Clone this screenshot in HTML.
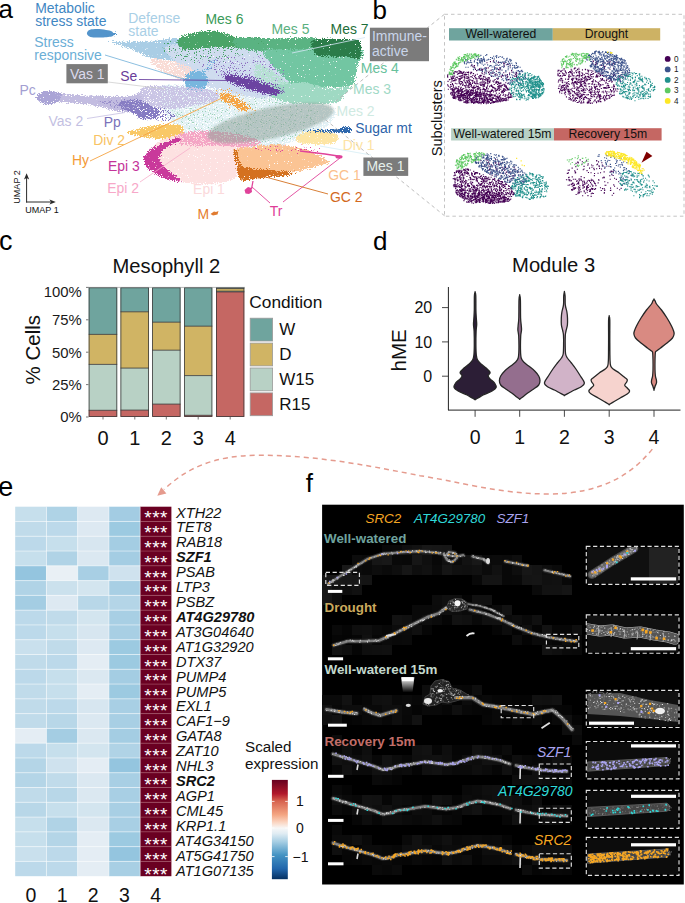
<!DOCTYPE html>
<html><head><meta charset="utf-8"><style>
html,body{margin:0;padding:0;background:#fff;}
body{width:685px;height:903px;overflow:hidden;position:relative;}
svg{position:absolute;left:0;top:0;display:block;}
text{font-family:"Liberation Sans",sans-serif;}
</style></head><body>
<svg width="685" height="903" viewBox="0 0 685 903">
<defs><filter id="sd1" x="-20%" y="-20%" width="140%" height="140%" color-interpolation-filters="sRGB"><feGaussianBlur in="SourceGraphic" stdDeviation="1.6" result="b"/><feComponentTransfer in="b" result="col"><feFuncA type="linear" slope="60"/></feComponentTransfer><feTurbulence type="fractalNoise" baseFrequency="0.85" numOctaves="2" seed="7" result="n"/><feColorMatrix in="n" type="matrix" values="0 0 0 0 0 0 0 0 0 0 0 0 0 0 0 1 0 0 0 0" result="na"/><feComposite in="b" in2="na" operator="arithmetic" k1="0" k2="1" k3="1.6" k4="-1.36" result="m0"/><feComponentTransfer in="m0" result="m"><feFuncA type="linear" slope="12"/></feComponentTransfer><feComposite in="col" in2="m" operator="in"/></filter><filter id="sd2" x="-20%" y="-20%" width="140%" height="140%" color-interpolation-filters="sRGB"><feGaussianBlur in="SourceGraphic" stdDeviation="1.6" result="b"/><feComponentTransfer in="b" result="col"><feFuncA type="linear" slope="60"/></feComponentTransfer><feTurbulence type="fractalNoise" baseFrequency="0.85" numOctaves="2" seed="14" result="n"/><feColorMatrix in="n" type="matrix" values="0 0 0 0 0 0 0 0 0 0 0 0 0 0 0 1 0 0 0 0" result="na"/><feComposite in="b" in2="na" operator="arithmetic" k1="0" k2="1" k3="1.6" k4="-1.36" result="m0"/><feComponentTransfer in="m0" result="m"><feFuncA type="linear" slope="12"/></feComponentTransfer><feComposite in="col" in2="m" operator="in"/></filter><filter id="sd3" x="-20%" y="-20%" width="140%" height="140%" color-interpolation-filters="sRGB"><feGaussianBlur in="SourceGraphic" stdDeviation="1.6" result="b"/><feComponentTransfer in="b" result="col"><feFuncA type="linear" slope="60"/></feComponentTransfer><feTurbulence type="fractalNoise" baseFrequency="0.85" numOctaves="2" seed="21" result="n"/><feColorMatrix in="n" type="matrix" values="0 0 0 0 0 0 0 0 0 0 0 0 0 0 0 1 0 0 0 0" result="na"/><feComposite in="b" in2="na" operator="arithmetic" k1="0" k2="1" k3="1.6" k4="-1.36" result="m0"/><feComponentTransfer in="m0" result="m"><feFuncA type="linear" slope="12"/></feComponentTransfer><feComposite in="col" in2="m" operator="in"/></filter><filter id="sd4" x="-20%" y="-20%" width="140%" height="140%" color-interpolation-filters="sRGB"><feGaussianBlur in="SourceGraphic" stdDeviation="1.6" result="b"/><feComponentTransfer in="b" result="col"><feFuncA type="linear" slope="60"/></feComponentTransfer><feTurbulence type="fractalNoise" baseFrequency="0.85" numOctaves="2" seed="28" result="n"/><feColorMatrix in="n" type="matrix" values="0 0 0 0 0 0 0 0 0 0 0 0 0 0 0 1 0 0 0 0" result="na"/><feComposite in="b" in2="na" operator="arithmetic" k1="0" k2="1" k3="1.6" k4="-1.36" result="m0"/><feComponentTransfer in="m0" result="m"><feFuncA type="linear" slope="12"/></feComponentTransfer><feComposite in="col" in2="m" operator="in"/></filter><filter id="sm1" x="-20%" y="-20%" width="140%" height="140%" color-interpolation-filters="sRGB"><feGaussianBlur in="SourceGraphic" stdDeviation="1.6" result="b"/><feComponentTransfer in="b" result="col"><feFuncA type="linear" slope="60"/></feComponentTransfer><feTurbulence type="fractalNoise" baseFrequency="0.85" numOctaves="2" seed="7" result="n"/><feColorMatrix in="n" type="matrix" values="0 0 0 0 0 0 0 0 0 0 0 0 0 0 0 1 0 0 0 0" result="na"/><feComposite in="b" in2="na" operator="arithmetic" k1="0" k2="1" k3="1.6" k4="-1.58" result="m0"/><feComponentTransfer in="m0" result="m"><feFuncA type="linear" slope="12"/></feComponentTransfer><feComposite in="col" in2="m" operator="in"/></filter><filter id="sm2" x="-20%" y="-20%" width="140%" height="140%" color-interpolation-filters="sRGB"><feGaussianBlur in="SourceGraphic" stdDeviation="1.6" result="b"/><feComponentTransfer in="b" result="col"><feFuncA type="linear" slope="60"/></feComponentTransfer><feTurbulence type="fractalNoise" baseFrequency="0.85" numOctaves="2" seed="14" result="n"/><feColorMatrix in="n" type="matrix" values="0 0 0 0 0 0 0 0 0 0 0 0 0 0 0 1 0 0 0 0" result="na"/><feComposite in="b" in2="na" operator="arithmetic" k1="0" k2="1" k3="1.6" k4="-1.58" result="m0"/><feComponentTransfer in="m0" result="m"><feFuncA type="linear" slope="12"/></feComponentTransfer><feComposite in="col" in2="m" operator="in"/></filter><filter id="sm3" x="-20%" y="-20%" width="140%" height="140%" color-interpolation-filters="sRGB"><feGaussianBlur in="SourceGraphic" stdDeviation="1.6" result="b"/><feComponentTransfer in="b" result="col"><feFuncA type="linear" slope="60"/></feComponentTransfer><feTurbulence type="fractalNoise" baseFrequency="0.85" numOctaves="2" seed="21" result="n"/><feColorMatrix in="n" type="matrix" values="0 0 0 0 0 0 0 0 0 0 0 0 0 0 0 1 0 0 0 0" result="na"/><feComposite in="b" in2="na" operator="arithmetic" k1="0" k2="1" k3="1.6" k4="-1.58" result="m0"/><feComponentTransfer in="m0" result="m"><feFuncA type="linear" slope="12"/></feComponentTransfer><feComposite in="col" in2="m" operator="in"/></filter><filter id="sm4" x="-20%" y="-20%" width="140%" height="140%" color-interpolation-filters="sRGB"><feGaussianBlur in="SourceGraphic" stdDeviation="1.6" result="b"/><feComponentTransfer in="b" result="col"><feFuncA type="linear" slope="60"/></feComponentTransfer><feTurbulence type="fractalNoise" baseFrequency="0.85" numOctaves="2" seed="28" result="n"/><feColorMatrix in="n" type="matrix" values="0 0 0 0 0 0 0 0 0 0 0 0 0 0 0 1 0 0 0 0" result="na"/><feComposite in="b" in2="na" operator="arithmetic" k1="0" k2="1" k3="1.6" k4="-1.58" result="m0"/><feComponentTransfer in="m0" result="m"><feFuncA type="linear" slope="12"/></feComponentTransfer><feComposite in="col" in2="m" operator="in"/></filter><filter id="ss1" x="-20%" y="-20%" width="140%" height="140%" color-interpolation-filters="sRGB"><feGaussianBlur in="SourceGraphic" stdDeviation="1.6" result="b"/><feComponentTransfer in="b" result="col"><feFuncA type="linear" slope="60"/></feComponentTransfer><feTurbulence type="fractalNoise" baseFrequency="0.85" numOctaves="2" seed="7" result="n"/><feColorMatrix in="n" type="matrix" values="0 0 0 0 0 0 0 0 0 0 0 0 0 0 0 1 0 0 0 0" result="na"/><feComposite in="b" in2="na" operator="arithmetic" k1="0" k2="1" k3="1.6" k4="-1.85" result="m0"/><feComponentTransfer in="m0" result="m"><feFuncA type="linear" slope="12"/></feComponentTransfer><feComposite in="col" in2="m" operator="in"/></filter><filter id="ss2" x="-20%" y="-20%" width="140%" height="140%" color-interpolation-filters="sRGB"><feGaussianBlur in="SourceGraphic" stdDeviation="1.6" result="b"/><feComponentTransfer in="b" result="col"><feFuncA type="linear" slope="60"/></feComponentTransfer><feTurbulence type="fractalNoise" baseFrequency="0.85" numOctaves="2" seed="14" result="n"/><feColorMatrix in="n" type="matrix" values="0 0 0 0 0 0 0 0 0 0 0 0 0 0 0 1 0 0 0 0" result="na"/><feComposite in="b" in2="na" operator="arithmetic" k1="0" k2="1" k3="1.6" k4="-1.85" result="m0"/><feComponentTransfer in="m0" result="m"><feFuncA type="linear" slope="12"/></feComponentTransfer><feComposite in="col" in2="m" operator="in"/></filter><filter id="ss3" x="-20%" y="-20%" width="140%" height="140%" color-interpolation-filters="sRGB"><feGaussianBlur in="SourceGraphic" stdDeviation="1.6" result="b"/><feComponentTransfer in="b" result="col"><feFuncA type="linear" slope="60"/></feComponentTransfer><feTurbulence type="fractalNoise" baseFrequency="0.85" numOctaves="2" seed="21" result="n"/><feColorMatrix in="n" type="matrix" values="0 0 0 0 0 0 0 0 0 0 0 0 0 0 0 1 0 0 0 0" result="na"/><feComposite in="b" in2="na" operator="arithmetic" k1="0" k2="1" k3="1.6" k4="-1.85" result="m0"/><feComponentTransfer in="m0" result="m"><feFuncA type="linear" slope="12"/></feComponentTransfer><feComposite in="col" in2="m" operator="in"/></filter><filter id="ss4" x="-20%" y="-20%" width="140%" height="140%" color-interpolation-filters="sRGB"><feGaussianBlur in="SourceGraphic" stdDeviation="1.6" result="b"/><feComponentTransfer in="b" result="col"><feFuncA type="linear" slope="60"/></feComponentTransfer><feTurbulence type="fractalNoise" baseFrequency="0.85" numOctaves="2" seed="28" result="n"/><feColorMatrix in="n" type="matrix" values="0 0 0 0 0 0 0 0 0 0 0 0 0 0 0 1 0 0 0 0" result="na"/><feComposite in="b" in2="na" operator="arithmetic" k1="0" k2="1" k3="1.6" k4="-1.85" result="m0"/><feComponentTransfer in="m0" result="m"><feFuncA type="linear" slope="12"/></feComponentTransfer><feComposite in="col" in2="m" operator="in"/></filter><filter id="sv1" x="-20%" y="-20%" width="140%" height="140%" color-interpolation-filters="sRGB"><feGaussianBlur in="SourceGraphic" stdDeviation="1.6" result="b"/><feComponentTransfer in="b" result="col"><feFuncA type="linear" slope="60"/></feComponentTransfer><feTurbulence type="fractalNoise" baseFrequency="0.85" numOctaves="2" seed="7" result="n"/><feColorMatrix in="n" type="matrix" values="0 0 0 0 0 0 0 0 0 0 0 0 0 0 0 1 0 0 0 0" result="na"/><feComposite in="b" in2="na" operator="arithmetic" k1="0" k2="1" k3="1.6" k4="-2.02" result="m0"/><feComponentTransfer in="m0" result="m"><feFuncA type="linear" slope="12"/></feComponentTransfer><feComposite in="col" in2="m" operator="in"/></filter><filter id="sv2" x="-20%" y="-20%" width="140%" height="140%" color-interpolation-filters="sRGB"><feGaussianBlur in="SourceGraphic" stdDeviation="1.6" result="b"/><feComponentTransfer in="b" result="col"><feFuncA type="linear" slope="60"/></feComponentTransfer><feTurbulence type="fractalNoise" baseFrequency="0.85" numOctaves="2" seed="14" result="n"/><feColorMatrix in="n" type="matrix" values="0 0 0 0 0 0 0 0 0 0 0 0 0 0 0 1 0 0 0 0" result="na"/><feComposite in="b" in2="na" operator="arithmetic" k1="0" k2="1" k3="1.6" k4="-2.02" result="m0"/><feComponentTransfer in="m0" result="m"><feFuncA type="linear" slope="12"/></feComponentTransfer><feComposite in="col" in2="m" operator="in"/></filter><filter id="sv3" x="-20%" y="-20%" width="140%" height="140%" color-interpolation-filters="sRGB"><feGaussianBlur in="SourceGraphic" stdDeviation="1.6" result="b"/><feComponentTransfer in="b" result="col"><feFuncA type="linear" slope="60"/></feComponentTransfer><feTurbulence type="fractalNoise" baseFrequency="0.85" numOctaves="2" seed="21" result="n"/><feColorMatrix in="n" type="matrix" values="0 0 0 0 0 0 0 0 0 0 0 0 0 0 0 1 0 0 0 0" result="na"/><feComposite in="b" in2="na" operator="arithmetic" k1="0" k2="1" k3="1.6" k4="-2.02" result="m0"/><feComponentTransfer in="m0" result="m"><feFuncA type="linear" slope="12"/></feComponentTransfer><feComposite in="col" in2="m" operator="in"/></filter><filter id="sv4" x="-20%" y="-20%" width="140%" height="140%" color-interpolation-filters="sRGB"><feGaussianBlur in="SourceGraphic" stdDeviation="1.6" result="b"/><feComponentTransfer in="b" result="col"><feFuncA type="linear" slope="60"/></feComponentTransfer><feTurbulence type="fractalNoise" baseFrequency="0.85" numOctaves="2" seed="28" result="n"/><feColorMatrix in="n" type="matrix" values="0 0 0 0 0 0 0 0 0 0 0 0 0 0 0 1 0 0 0 0" result="na"/><feComposite in="b" in2="na" operator="arithmetic" k1="0" k2="1" k3="1.6" k4="-2.02" result="m0"/><feComponentTransfer in="m0" result="m"><feFuncA type="linear" slope="12"/></feComponentTransfer><feComposite in="col" in2="m" operator="in"/></filter><filter id="fb" x="-10%" y="-10%" width="120%" height="120%"><feGaussianBlur stdDeviation="0.7"/></filter><filter id="fb2" x="-20%" y="-20%" width="140%" height="140%"><feGaussianBlur stdDeviation="1.2"/></filter></defs>
<path d="M165.0,84.0 C176.7,82.3 207.5,87.3 230.0,90.0 C252.5,92.7 282.5,97.0 300.0,100.0 C317.5,103.0 330.0,103.8 335.0,108.0 C340.0,112.2 335.8,119.7 330.0,125.0 C324.2,130.3 311.7,135.8 300.0,140.0 C288.3,144.2 276.7,149.7 260.0,150.0 C243.3,150.3 215.0,146.7 200.0,142.0 C185.0,137.3 176.7,129.0 170.0,122.0 C163.3,115.0 160.8,106.3 160.0,100.0 C159.2,93.7 153.3,85.7 165.0,84.0Z" fill="#e2f1f5" filter="url(#sm2)"/>
<path d="M170.0,95.0 C186.7,88.3 275.0,95.8 300.0,100.0 C325.0,104.2 323.3,112.5 320.0,120.0 C316.7,127.5 300.0,141.7 280.0,145.0 C260.0,148.3 218.3,148.3 200.0,140.0 C181.7,131.7 153.3,101.7 170.0,95.0Z" fill="#9fd2b8" filter="url(#sv3)"/>
<path d="M106.0,40.0 C108.2,39.8 117.7,41.3 125.0,41.5 C132.3,41.7 142.2,41.6 150.0,41.0 C157.8,40.4 166.2,38.2 172.0,38.0 C177.8,37.8 182.0,37.2 185.0,40.0 C188.0,42.8 190.0,51.3 190.0,55.0 C190.0,58.7 189.2,61.2 185.0,62.0 C180.8,62.8 170.8,60.7 165.0,60.0 C159.2,59.3 155.8,59.8 150.0,58.0 C144.2,56.2 136.3,51.5 130.0,49.0 C123.7,46.5 116.0,44.5 112.0,43.0 C108.0,41.5 103.8,40.2 106.0,40.0Z" fill="#a9cde5" filter="url(#sd4)"/>
<path d="M168.0,45.0 C178.8,42.3 219.7,44.8 240.0,46.0 C260.3,47.2 280.0,46.0 290.0,52.0 C300.0,58.0 301.3,74.7 300.0,82.0 C298.7,89.3 289.5,93.3 282.0,96.0 C274.5,98.7 264.5,98.7 255.0,98.0 C245.5,97.3 234.2,94.3 225.0,92.0 C215.8,89.7 206.7,87.3 200.0,84.0 C193.3,80.7 189.2,75.7 185.0,72.0 C180.8,68.3 177.8,66.5 175.0,62.0 C172.2,57.5 157.2,47.7 168.0,45.0Z" fill="#cfdcef" filter="url(#sd1)"/>
<path d="M200.0,55.0 C215.0,52.5 283.3,54.2 300.0,60.0 C316.7,65.8 308.3,85.8 300.0,90.0 C291.7,94.2 265.0,87.5 250.0,85.0 C235.0,82.5 218.3,80.0 210.0,75.0 C201.7,70.0 185.0,57.5 200.0,55.0Z" fill="#8c6cc0" filter="url(#sv2)"/>
<path d="M150.0,58.0 C152.5,56.7 163.3,58.7 170.0,60.0 C176.7,61.3 185.5,63.5 190.0,66.0 C194.5,68.5 197.3,72.5 197.0,75.0 C196.7,77.5 192.5,80.7 188.0,81.0 C183.5,81.3 175.5,79.2 170.0,77.0 C164.5,74.8 158.3,71.2 155.0,68.0 C151.7,64.8 147.5,59.3 150.0,58.0Z" fill="#f9dcd6" filter="url(#sm3)"/>
<path d="M163.0,42.0 C169.2,39.2 187.2,38.0 200.0,38.0 C212.8,38.0 233.3,38.3 240.0,42.0 C246.7,45.7 246.7,56.3 240.0,60.0 C233.3,63.7 210.8,63.7 200.0,64.0 C189.2,64.3 181.2,63.5 175.0,62.0 C168.8,60.5 165.0,58.3 163.0,55.0 C161.0,51.7 156.8,44.8 163.0,42.0Z" fill="#45a266" filter="url(#sv4)"/>
<path d="M178.0,38.5 C180.0,36.0 187.0,34.3 192.0,33.0 C197.0,31.7 202.7,30.6 208.0,30.5 C213.3,30.4 219.0,31.4 224.0,32.5 C229.0,33.6 231.7,36.2 238.0,37.2 C244.3,38.2 258.0,36.8 262.0,38.3 C266.0,39.8 265.7,44.5 262.0,46.0 C258.3,47.5 246.7,47.2 240.0,47.5 C233.3,47.8 227.8,47.9 222.0,48.0 C216.2,48.1 210.3,47.7 205.0,48.0 C199.7,48.3 194.2,50.0 190.0,50.0 C185.8,50.0 182.0,49.9 180.0,48.0 C178.0,46.1 176.0,41.0 178.0,38.5Z" fill="#4aa468" filter="url(#sd1)"/>
<path d="M236.0,37.8 C242.5,36.2 261.7,38.2 275.0,38.3 C288.3,38.4 308.8,36.1 316.0,38.4 C323.2,40.7 320.7,49.2 318.0,52.0 C315.3,54.8 308.0,54.8 300.0,55.0 C292.0,55.2 278.3,53.8 270.0,53.0 C261.7,52.2 255.7,50.8 250.0,50.0 C244.3,49.2 238.3,50.0 236.0,48.0 C233.7,46.0 229.5,39.4 236.0,37.8Z" fill="#5ab382" filter="url(#sd2)"/>
<path d="M240.0,45.0 C250.8,43.2 303.3,42.2 315.0,45.0 C326.7,47.8 315.8,59.2 310.0,62.0 C304.2,64.8 290.0,63.0 280.0,62.0 C270.0,61.0 256.7,58.8 250.0,56.0 C243.3,53.2 229.2,46.8 240.0,45.0Z" fill="#5ab382" filter="url(#sv3)"/>
<path d="M256.0,62.0 C260.0,60.8 273.3,70.0 280.0,75.0 C286.7,80.0 296.8,88.0 296.0,92.0 C295.2,96.0 281.7,100.7 275.0,99.0 C268.3,97.3 259.2,88.2 256.0,82.0 C252.8,75.8 252.0,63.2 256.0,62.0Z" fill="#b5e0d2" filter="url(#sm4)"/>
<path d="M264.0,50.0 C269.2,47.8 283.8,49.0 300.0,49.0 C316.2,49.0 351.2,47.8 361.0,50.0 C370.8,52.2 359.8,58.0 359.0,62.0 C358.2,66.0 357.3,70.0 356.0,74.0 C354.7,78.0 357.0,83.7 351.0,86.0 C345.0,88.3 329.2,88.0 320.0,88.0 C310.8,88.0 302.5,88.2 296.0,86.0 C289.5,83.8 285.5,79.0 281.0,75.0 C276.5,71.0 271.8,66.2 269.0,62.0 C266.2,57.8 258.8,52.2 264.0,50.0Z" fill="#72c6a2" filter="url(#sd1)"/>
<path d="M272.0,86.0 C277.0,83.7 290.3,81.7 300.0,82.0 C309.7,82.3 321.5,87.3 330.0,88.0 C338.5,88.7 348.0,85.5 351.0,86.0 C354.0,86.5 349.3,89.2 348.0,91.0 C346.7,92.8 344.8,95.1 343.0,97.0 C341.2,98.9 342.5,101.2 337.0,102.5 C331.5,103.8 318.7,104.6 310.0,104.5 C301.3,104.4 291.7,103.4 285.0,102.0 C278.3,100.6 272.2,98.7 270.0,96.0 C267.8,93.3 267.0,88.3 272.0,86.0Z" fill="#9fd9c3" filter="url(#sd2)"/>
<path d="M313.0,40.0 C317.5,38.1 332.8,39.0 340.0,38.8 C347.2,38.6 352.5,38.5 356.0,39.0 C359.5,39.5 360.1,39.3 361.0,42.0 C361.9,44.7 361.8,52.0 361.5,55.0 C361.2,58.0 360.9,59.6 359.0,60.0 C357.1,60.4 354.0,58.0 350.0,57.5 C346.0,57.0 340.3,57.2 335.0,57.0 C329.7,56.8 321.7,57.2 318.0,56.0 C314.3,54.8 313.8,52.7 313.0,50.0 C312.2,47.3 308.5,41.9 313.0,40.0Z" fill="#2b7c49" filter="url(#sd3)"/>
<path d="M186.0,75.0 C187.5,73.2 190.2,71.7 193.0,71.0 C195.8,70.3 200.5,69.8 203.0,71.0 C205.5,72.2 207.5,75.2 208.0,78.0 C208.5,80.8 207.7,85.7 206.0,88.0 C204.3,90.3 201.0,91.7 198.0,92.0 C195.0,92.3 190.3,91.7 188.0,90.0 C185.7,88.3 184.3,84.5 184.0,82.0 C183.7,79.5 184.5,76.8 186.0,75.0Z" fill="#78b6de" filter="url(#sd4)"/>
<path d="M200.0,72.0 C200.7,69.0 209.0,60.0 212.0,58.0 C215.0,56.0 218.7,57.0 218.0,60.0 C217.3,63.0 211.0,74.0 208.0,76.0 C205.0,78.0 199.3,75.0 200.0,72.0Z" fill="#78b6de" filter="url(#ss1)"/>
<path d="M55.0,93.5 C59.2,92.5 70.8,94.6 80.0,95.0 C89.2,95.4 101.7,95.9 110.0,96.0 C118.3,96.1 124.8,96.2 130.0,95.5 C135.2,94.8 138.5,91.2 141.0,92.0 C143.5,92.8 145.2,96.8 145.0,100.0 C144.8,103.2 144.2,109.0 140.0,111.0 C135.8,113.0 127.5,112.8 120.0,112.0 C112.5,111.2 103.3,107.5 95.0,106.0 C86.7,104.5 76.7,103.8 70.0,103.0 C63.3,102.2 57.5,102.6 55.0,101.0 C52.5,99.4 50.8,94.5 55.0,93.5Z" fill="#c2bce0" filter="url(#sd2)"/>
<path d="M141.0,87.0 C144.8,83.8 156.8,85.2 165.0,85.0 C173.2,84.8 181.7,85.2 190.0,86.0 C198.3,86.8 210.0,87.7 215.0,90.0 C220.0,92.3 222.5,97.3 220.0,100.0 C217.5,102.7 207.5,104.3 200.0,106.0 C192.5,107.7 181.7,109.3 175.0,110.0 C168.3,110.7 165.5,111.0 160.0,110.0 C154.5,109.0 145.2,107.8 142.0,104.0 C138.8,100.2 137.2,90.2 141.0,87.0Z" fill="#cac5e5" filter="url(#sm3)"/>
<path d="M95.0,100.0 C98.3,98.7 122.5,98.0 130.0,100.0 C137.5,102.0 143.3,110.7 140.0,112.0 C136.7,113.3 117.5,110.0 110.0,108.0 C102.5,106.0 91.7,101.3 95.0,100.0Z" fill="#9a90cc" filter="url(#ss4)"/>
<path d="M35.0,97.0 C35.3,95.6 37.8,93.6 40.0,92.5 C42.2,91.4 45.2,90.7 48.0,90.5 C50.8,90.3 54.7,90.9 57.0,91.5 C59.3,92.1 61.5,92.6 62.0,94.0 C62.5,95.4 61.3,98.3 60.0,100.0 C58.7,101.7 56.5,103.2 54.0,104.0 C51.5,104.8 47.7,105.0 45.0,104.5 C42.3,104.0 39.7,102.2 38.0,101.0 C36.3,99.8 34.7,98.4 35.0,97.0Z" fill="#aaa4d6" filter="url(#sd1)"/>
<path d="M118.0,102.0 C119.3,100.2 124.3,99.0 128.0,98.5 C131.7,98.0 136.3,98.1 140.0,99.0 C143.7,99.9 147.0,102.5 150.0,104.0 C153.0,105.5 156.3,106.0 158.0,108.0 C159.7,110.0 161.0,114.0 160.0,116.0 C159.0,118.0 155.3,119.3 152.0,120.0 C148.7,120.7 143.3,121.0 140.0,120.0 C136.7,119.0 135.3,115.8 132.0,114.0 C128.7,112.2 122.3,111.0 120.0,109.0 C117.7,107.0 116.7,103.8 118.0,102.0Z" fill="#877dc3" filter="url(#sm2)"/>
<path d="M140.0,106.0 C143.3,104.0 154.0,104.8 160.0,106.0 C166.0,107.2 174.0,110.3 176.0,113.0 C178.0,115.7 175.5,120.5 172.0,122.0 C168.5,123.5 160.3,122.7 155.0,122.0 C149.7,121.3 142.5,120.7 140.0,118.0 C137.5,115.3 136.7,108.0 140.0,106.0Z" fill="#8379c2" filter="url(#ss3)"/>
<path d="M222.0,70.0 C225.3,68.3 237.8,70.7 245.0,72.0 C252.2,73.3 258.3,75.3 265.0,78.0 C271.7,80.7 282.2,84.8 285.0,88.0 C287.8,91.2 285.8,95.7 282.0,97.0 C278.2,98.3 269.0,97.2 262.0,96.0 C255.0,94.8 246.2,92.3 240.0,90.0 C233.8,87.7 228.0,85.3 225.0,82.0 C222.0,78.7 218.7,71.7 222.0,70.0Z" fill="#7a58b2" filter="url(#ss4)"/>
<path d="M226.0,75.0 C228.5,74.4 235.2,75.7 240.0,76.5 C244.8,77.3 250.3,78.6 255.0,80.0 C259.7,81.4 263.8,83.2 268.0,85.0 C272.2,86.8 278.5,89.3 280.0,91.0 C281.5,92.7 280.0,94.7 277.0,95.0 C274.0,95.3 266.8,94.0 262.0,93.0 C257.2,92.0 252.5,90.5 248.0,89.0 C243.5,87.5 238.8,85.5 235.0,84.0 C231.2,82.5 226.5,81.5 225.0,80.0 C223.5,78.5 223.5,75.6 226.0,75.0Z" fill="#6b43a1" filter="url(#sd1)"/>
<path d="M126.0,133.0 C125.3,131.6 133.7,129.8 138.0,128.5 C142.3,127.2 146.7,126.2 152.0,125.5 C157.3,124.8 164.8,123.9 170.0,124.0 C175.2,124.1 180.7,124.3 183.0,126.0 C185.3,127.7 184.8,131.8 184.0,134.0 C183.2,136.2 182.0,138.1 178.0,139.0 C174.0,139.9 166.0,139.8 160.0,139.5 C154.0,139.2 147.7,138.1 142.0,137.0 C136.3,135.9 126.7,134.4 126.0,133.0Z" fill="#f9c866" filter="url(#sd2)"/>
<path d="M218.0,94.0 C218.7,92.4 223.0,91.2 226.0,91.5 C229.0,91.8 232.7,94.1 236.0,96.0 C239.3,97.9 243.5,100.7 246.0,103.0 C248.5,105.3 251.5,108.4 251.0,110.0 C250.5,111.6 246.0,113.0 243.0,112.5 C240.0,112.0 236.5,108.9 233.0,107.0 C229.5,105.1 224.5,103.2 222.0,101.0 C219.5,98.8 217.3,95.6 218.0,94.0Z" fill="#f5a443" filter="url(#sm3)"/>
<path d="M212.0,90.0 C213.7,86.7 227.3,85.0 235.0,88.0 C242.7,91.0 255.8,103.0 258.0,108.0 C260.2,113.0 253.5,118.0 248.0,118.0 C242.5,118.0 231.0,112.7 225.0,108.0 C219.0,103.3 210.3,93.3 212.0,90.0Z" fill="#f5a443" filter="url(#sv4)"/>
<path d="M150.0,150.0 C152.5,146.0 158.3,140.8 165.0,138.0 C171.7,135.2 180.8,133.7 190.0,133.0 C199.2,132.3 211.7,132.8 220.0,134.0 C228.3,135.2 235.0,137.0 240.0,140.0 C245.0,143.0 249.2,147.0 250.0,152.0 C250.8,157.0 248.3,165.2 245.0,170.0 C241.7,174.8 236.7,178.5 230.0,181.0 C223.3,183.5 213.3,184.8 205.0,185.0 C196.7,185.2 187.5,184.2 180.0,182.0 C172.5,179.8 165.0,175.3 160.0,172.0 C155.0,168.7 151.7,165.7 150.0,162.0 C148.3,158.3 147.5,154.0 150.0,150.0Z" fill="#fde1e1" filter="url(#sd1)"/>
<path d="M176.0,134.0 C179.3,131.5 191.8,130.5 200.0,130.0 C208.2,129.5 216.7,130.0 225.0,131.0 C233.3,132.0 243.8,134.2 250.0,136.0 C256.2,137.8 262.0,140.0 262.0,142.0 C262.0,144.0 257.8,147.2 250.0,148.0 C242.2,148.8 224.2,147.2 215.0,147.0 C205.8,146.8 200.8,147.3 195.0,147.0 C189.2,146.7 183.2,147.2 180.0,145.0 C176.8,142.8 172.7,136.5 176.0,134.0Z" fill="#f4a5c5" filter="url(#sm2)"/>
<path d="M182.0,137.0 C180.7,136.7 176.0,137.7 172.0,139.0 C168.0,140.3 162.0,143.0 158.0,145.0 C154.0,147.0 150.5,148.7 148.0,151.0 C145.5,153.3 143.3,156.3 143.0,159.0 C142.7,161.7 144.0,164.5 146.0,167.0 C148.0,169.5 151.3,171.8 155.0,174.0 C158.7,176.2 163.3,178.7 168.0,180.0 C172.7,181.3 181.7,182.7 183.0,182.0 C184.3,181.3 178.8,178.3 176.0,176.0 C173.2,173.7 168.7,170.7 166.0,168.0 C163.3,165.3 160.7,162.7 160.0,160.0 C159.3,157.3 160.3,154.3 162.0,152.0 C163.7,149.7 167.0,147.8 170.0,146.0 C173.0,144.2 178.0,142.5 180.0,141.0 C182.0,139.5 183.3,137.3 182.0,137.0Z" fill="#c9399b" filter="url(#sd3)"/>
<path d="M235.0,150.0 C237.5,146.3 247.8,147.0 255.0,146.0 C262.2,145.0 270.5,143.7 278.0,144.0 C285.5,144.3 293.8,146.5 300.0,148.0 C306.2,149.5 310.0,150.6 315.0,153.0 C320.0,155.4 329.5,160.3 330.0,162.5 C330.5,164.7 323.7,164.4 318.0,166.0 C312.3,167.6 304.0,170.5 296.0,172.0 C288.0,173.5 278.0,174.2 270.0,175.0 C262.0,175.8 253.0,178.2 248.0,177.0 C243.0,175.8 242.2,172.5 240.0,168.0 C237.8,163.5 232.5,153.7 235.0,150.0Z" fill="#fbc494" filter="url(#sd4)"/>
<path d="M240.0,144.0 C246.7,142.5 285.0,141.7 300.0,143.0 C315.0,144.3 330.0,149.8 330.0,152.0 C330.0,154.2 311.7,156.0 300.0,156.0 C288.3,156.0 270.0,154.0 260.0,152.0 C250.0,150.0 233.3,145.5 240.0,144.0Z" fill="#e0439a" filter="url(#sv1)"/>
<path d="M231.5,151.0 C232.2,149.4 235.6,147.3 237.0,148.5 C238.4,149.7 238.8,154.8 240.0,158.0 C241.2,161.2 243.8,165.5 244.0,168.0 C244.2,170.5 242.3,173.3 241.0,173.0 C239.7,172.7 237.3,168.5 236.0,166.0 C234.7,163.5 233.8,160.5 233.0,158.0 C232.2,155.5 230.8,152.6 231.5,151.0Z" fill="#d4711f" filter="url(#sm2)"/>
<path d="M237.0,167.0 C238.8,165.2 245.3,167.2 250.0,167.5 C254.7,167.8 259.2,168.4 265.0,169.0 C270.8,169.6 279.7,170.2 285.0,171.0 C290.3,171.8 297.5,172.6 297.0,173.5 C296.5,174.4 287.8,175.7 282.0,176.5 C276.2,177.3 268.2,177.8 262.0,178.5 C255.8,179.2 248.8,181.1 245.0,181.0 C241.2,180.9 240.3,180.3 239.0,178.0 C237.7,175.7 235.2,168.8 237.0,167.0Z" fill="#d4711f" filter="url(#sd3)"/>
<path d="M300,151 L325,154 L338,156" stroke="#e0439a" stroke-width="1.4" fill="none"/>
<ellipse cx="339" cy="156.8" rx="3.6" ry="1.9" fill="#e0439a"/>
<path d="M253,181 L251.5,189" stroke="#e0439a" stroke-width="1.3"/>
<path d="M244.5,190 L248,187 L251.5,188 L252,192 L249,194 L245.5,193.5Z" fill="#e0439a" filter="url(#fb)"/>
<path d="M295.0,137.0 C295.8,135.2 300.8,133.2 305.0,132.0 C309.2,130.8 315.0,129.8 320.0,130.0 C325.0,130.2 331.8,131.5 335.0,133.0 C338.2,134.5 339.5,137.2 339.0,139.0 C338.5,140.8 336.0,143.0 332.0,144.0 C328.0,145.0 320.3,145.2 315.0,145.0 C309.7,144.8 303.3,144.3 300.0,143.0 C296.7,141.7 294.2,138.8 295.0,137.0Z" fill="#fde5a4" filter="url(#sd4)"/>
<path d="M304.0,130.5 C306.7,130.1 314.3,129.8 320.0,129.5 C325.7,129.2 333.8,129.1 338.0,128.5 C342.2,127.9 342.7,125.9 345.0,126.0 C347.3,126.1 351.0,127.8 352.0,129.0 C353.0,130.2 353.0,132.3 351.0,133.0 C349.0,133.7 345.2,133.1 340.0,133.0 C334.8,132.9 326.0,132.7 320.0,132.5 C314.0,132.3 306.7,132.3 304.0,132.0 C301.3,131.7 301.3,130.9 304.0,130.5Z" fill="#2d67ad" filter="url(#sd1)"/>
<path d="M210.5,214 L214,211.5 L216,212 L218.5,211 L217.5,214.5 L213,215.5Z" fill="#e07b2f"/>
<path d="M87.0,32.8 C87.3,31.8 88.3,30.4 90.0,29.8 C91.7,29.2 94.3,29.1 97.0,29.1 C99.7,29.1 103.5,29.6 106.0,30.0 C108.5,30.4 110.8,30.5 112.0,31.5 C113.2,32.5 114.7,35.0 113.0,36.0 C111.3,37.0 105.5,37.3 102.0,37.5 C98.5,37.7 94.3,37.6 92.0,37.3 C89.7,37.0 88.8,36.2 88.0,35.5 C87.2,34.8 86.7,33.8 87.0,32.8Z" fill="#5294cb" filter="url(#fb)"/>
<path d="M105.0,31.0 C106.8,30.2 112.7,31.0 115.0,31.5 C117.3,32.0 119.3,33.1 119.0,34.0 C118.7,34.9 115.5,36.7 113.0,37.0 C110.5,37.3 105.3,37.0 104.0,36.0 C102.7,35.0 103.2,31.8 105.0,31.0Z" fill="#5294cb" filter="url(#sm2)"/>
<ellipse cx="270.5" cy="123" rx="64.5" ry="15.5" transform="rotate(-12 270.5 123)" fill="#8a9d96" fill-opacity="0.52" filter="url(#fb2)"/>
<line x1="105" y1="55" x2="190" y2="81" stroke="#6eafd8" stroke-width="0.8"/>
<line x1="139" y1="79.5" x2="228" y2="80.5" stroke="#6d44a2" stroke-width="0.9"/>
<line x1="108" y1="82" x2="165" y2="89" stroke="#c8c8c8" stroke-width="0.7"/>
<line x1="87" y1="118.5" x2="125" y2="112.5" stroke="#c5bfe2" stroke-width="0.8"/>
<line x1="90" y1="161" x2="222" y2="98" stroke="#f5a443" stroke-width="0.9"/>
<line x1="140" y1="182" x2="190" y2="148" stroke="#f6afca" stroke-width="0.8"/>
<line x1="270" y1="203" x2="252" y2="187" stroke="#e0439a" stroke-width="0.9"/>
<line x1="283" y1="202" x2="340" y2="158" stroke="#e0439a" stroke-width="0.9"/>
<line x1="262" y1="176" x2="328" y2="194" stroke="#d4711f" stroke-width="0.9"/>
<line x1="292" y1="53" x2="365" y2="37.5" stroke="#d6e6f5" stroke-width="0.8"/>
<line x1="320" y1="146" x2="371" y2="155" stroke="#d6eef5" stroke-width="0.8"/>
<line x1="444.4" y1="14.3" x2="336" y2="101" stroke="#b5b5b5" stroke-width="0.9" stroke-dasharray="3.5 3"/>
<line x1="444.6" y1="215.8" x2="322" y2="117" stroke="#b5b5b5" stroke-width="0.9" stroke-dasharray="3.5 3"/>
<rect x="66.4" y="64.1" width="41.4" height="19.2" fill="#7b7b7b"/>
<rect x="369.9" y="27.7" width="59.1" height="33.5" fill="#7b7b7b"/>
<rect x="363.4" y="157.5" width="44.8" height="18.4" fill="#7b7b7b"/>
<path d="M26.6,202.5 L26.6,176 M26.1,202 L53,202" stroke="#2a2a2a" stroke-width="1" fill="none"/>
<path d="M24,179.5 L26.6,173.2 L29.2,179.5 L26.6,178 Z" fill="#2a2a2a"/>
<path d="M49.5,199.4 L55.8,202 L49.5,204.6 L51,202 Z" fill="#2a2a2a"/>
<text x="0" y="0" font-size="9.1" fill="#111" transform="translate(20.3,203.8) rotate(-90)">UMAP 2</text>
<text x="25.3" y="213.1" font-size="9.0" fill="#111">UMAP 1</text>
<rect x="444.5" y="14.3" width="239.5" height="201.9" fill="none" stroke="#bdbdbd" stroke-width="0.9" stroke-dasharray="3.5 3"/>
<rect x="449" y="28.2" width="103.8" height="12.3" fill="#6fa49e"/>
<rect x="552.8" y="28.2" width="107.4" height="12.3" fill="#cdb264"/>
<rect x="451.1" y="128.2" width="102.9" height="12.3" fill="#b8d1c5"/>
<rect x="554" y="128.2" width="107.6" height="12.3" fill="#c56763"/>
<text x="500.9" y="38.3" font-size="12.2" fill="#111" text-anchor="middle">Well-watered</text>
<text x="606.5" y="38.3" font-size="12.2" fill="#111" text-anchor="middle">Drought</text>
<text x="502.5" y="138.3" font-size="12.2" fill="#111" text-anchor="middle">Well-watered 15m</text>
<text x="607.8" y="138.3" font-size="12.2" fill="#111" text-anchor="middle">Recovery 15m</text>
<text x="0" y="0" font-size="14.6" fill="#111" text-anchor="middle" transform="translate(442.2,118.2) rotate(-90)">Subclusters</text>
<circle cx="667.7" cy="58.9" r="2.9" fill="#440154"/>
<text x="674.0" y="61.8" font-size="8.2" fill="#222">0</text>
<circle cx="667.7" cy="69.4" r="2.9" fill="#3b528b"/>
<text x="674.0" y="72.3" font-size="8.2" fill="#222">1</text>
<circle cx="667.7" cy="79.9" r="2.9" fill="#21918c"/>
<text x="674.0" y="82.8" font-size="8.2" fill="#222">2</text>
<circle cx="667.7" cy="90.4" r="2.9" fill="#5ec962"/>
<text x="674.0" y="93.3" font-size="8.2" fill="#222">3</text>
<circle cx="667.7" cy="100.9" r="2.9" fill="#fde725"/>
<text x="674.0" y="103.8" font-size="8.2" fill="#222">4</text>
<path d="M463.2 88.5h1.1M472.2 90.5h1.1M464.6 78.0h1.1M503.9 86.2h1.1M490.2 99.5h1.1M482.6 95.2h1.1M498.6 90.1h1.1M505.9 86.1h1.1M495.9 99.9h1.1M495.6 101.3h1.1M473.9 97.2h1.1M477.2 101.8h1.1M456.2 77.4h1.1M489.6 80.2h1.1M481.5 83.1h1.1M470.9 89.9h1.1M486.7 100.7h1.1M493.4 101.6h1.1M508.5 89.3h1.1M503.5 89.5h1.1M466.4 72.2h1.1M453.0 97.2h1.1M474.9 75.1h1.1M467.0 96.1h1.1M495.9 81.3h1.1M468.1 72.6h1.1M460.4 83.9h1.1M468.3 102.6h1.1M478.3 87.7h1.1M490.8 90.3h1.1M485.0 91.1h1.1M476.3 94.5h1.1M463.2 80.2h1.1M475.2 89.7h1.1M489.7 85.9h1.1M493.2 82.0h1.1M495.1 95.1h1.1M493.0 102.8h1.1M464.1 85.5h1.1M487.3 80.9h1.1M471.7 80.6h1.1M472.1 90.3h1.1M467.4 82.8h1.1M485.7 95.0h1.1M468.1 77.6h1.1M459.7 84.8h1.1M468.9 81.3h1.1M503.7 84.9h1.1M469.9 92.1h1.1M462.3 74.1h1.1M483.0 76.5h1.1M501.9 98.5h1.1M459.5 79.5h1.1M501.9 91.8h1.1M455.8 79.9h1.1M470.6 84.2h1.1M475.5 83.9h1.1M476.5 102.3h1.1M497.7 98.4h1.1M492.1 87.6h1.1M466.7 81.6h1.1M462.5 72.3h1.1M487.0 79.8h1.1M508.4 93.6h1.1M508.2 89.6h1.1M458.7 80.2h1.1M492.1 87.8h1.1M475.1 101.9h1.1M488.6 81.6h1.1M464.2 99.3h1.1M479.4 96.6h1.1M470.9 76.7h1.1M483.4 97.8h1.1M458.6 96.9h1.1M509.7 97.4h1.1M489.7 99.3h1.1M450.4 79.2h1.1M465.3 87.9h1.1M475.8 86.1h1.1M450.7 74.3h1.1M455.5 72.3h1.1M452.9 87.1h1.1M468.5 80.7h1.1M470.9 92.0h1.1M486.9 82.3h1.1M460.0 81.2h1.1M455.4 88.9h1.1M495.7 82.9h1.1M452.4 76.1h1.1M472.4 90.6h1.1M500.2 82.9h1.1M501.5 91.2h1.1M476.3 82.7h1.1M480.7 93.9h1.1M475.6 93.6h1.1M478.3 78.3h1.1M483.4 93.6h1.1M451.9 84.4h1.1M476.0 99.9h1.1M508.1 96.9h1.1M464.8 85.8h1.1M455.4 97.6h1.1M492.0 100.2h1.1M500.9 92.7h1.1M496.9 89.2h1.1M454.0 90.0h1.1M447.3 74.9h1.1M453.2 73.4h1.1M455.2 98.7h1.1M492.8 98.4h1.1M499.2 87.4h1.1M497.9 101.8h1.1M451.2 81.0h1.1M485.4 98.2h1.1M463.5 76.1h1.1M464.0 90.9h1.1M498.2 83.4h1.1M472.0 83.5h1.1M470.8 84.2h1.1M452.7 87.0h1.1M494.0 95.7h1.1M492.8 87.6h1.1M479.9 91.9h1.1M453.5 95.4h1.1M477.1 94.4h1.1M459.7 79.1h1.1M460.5 89.9h1.1M468.4 77.9h1.1M494.0 102.4h1.1M467.1 94.0h1.1M475.1 99.0h1.1M486.8 79.1h1.1M479.6 83.0h1.1M458.7 82.3h1.1M468.9 96.3h1.1M479.6 90.4h1.1M478.8 98.4h1.1M502.9 88.9h1.1M479.7 94.5h1.1M478.8 77.8h1.1M463.0 94.4h1.1M492.9 102.6h1.1M459.9 78.8h1.1M459.7 94.0h1.1M505.4 100.6h1.1M464.3 99.4h1.1M468.3 84.4h1.1M453.3 98.4h1.1M466.8 82.1h1.1M486.5 93.0h1.1M447.5 81.4h1.1M476.7 86.5h1.1M461.3 89.9h1.1M465.7 92.6h1.1M499.5 95.7h1.1M467.1 93.0h1.1M491.5 97.4h1.1M465.1 95.6h1.1M512.4 92.9h1.1M480.6 82.0h1.1M495.8 93.1h1.1M490.9 91.5h1.1M459.2 100.3h1.1M469.5 94.5h1.1M487.6 88.9h1.1M491.0 85.6h1.1M468.2 76.0h1.1M451.7 94.3h1.1M498.3 88.5h1.1M497.3 82.2h1.1M465.1 83.0h1.1M481.3 78.4h1.1M469.6 83.7h1.1M483.8 96.2h1.1M471.0 98.8h1.1M454.6 79.2h1.1M453.8 73.8h1.1M500.0 94.7h1.1M459.6 76.4h1.1M475.3 95.3h1.1M502.5 95.5h1.1M474.1 76.6h1.1M482.9 89.3h1.1M460.7 78.5h1.1M501.6 100.3h1.1M484.6 89.8h1.1M490.1 103.2h1.1M493.7 80.2h1.1M505.5 86.5h1.1M487.9 94.7h1.1M492.0 86.7h1.1M482.6 85.7h1.1M460.2 88.0h1.1M449.5 87.0h1.1M490.9 85.1h1.1M485.5 102.6h1.1M500.9 91.2h1.1M450.4 82.2h1.1M462.9 72.6h1.1M483.6 101.6h1.1M469.0 99.6h1.1M505.4 90.4h1.1M510.0 94.3h1.1M497.3 81.7h1.1M498.5 86.5h1.1M454.4 71.5h1.1M452.3 76.8h1.1M457.9 86.9h1.1M494.6 88.3h1.1M475.7 92.1h1.1M467.7 85.8h1.1M498.5 83.6h1.1M459.3 100.6h1.1M495.9 82.5h1.1M472.2 88.0h1.1M487.6 77.6h1.1M447.2 77.1h1.1M478.3 76.6h1.1M461.2 75.8h1.1M474.5 75.7h1.1M448.9 73.7h1.1M458.4 86.7h1.1M477.5 83.9h1.1M474.4 83.5h1.1M461.9 73.2h1.1M479.3 75.6h1.1M489.3 81.8h1.1M455.4 71.8h1.1M500.6 85.8h1.1M464.0 79.0h1.1M502.4 91.4h1.1M470.4 73.2h1.1M449.1 73.1h1.1M458.6 71.2h1.1M450.7 92.2h1.1M501.6 101.2h1.1M467.7 90.6h1.1M467.0 98.9h1.1M454.8 83.3h1.1M469.7 93.1h1.1M497.3 95.0h1.1M503.8 88.8h1.1M475.2 77.8h1.1M500.0 86.3h1.1M465.3 75.8h1.1M496.0 90.6h1.1M495.3 83.2h1.1M480.1 75.2h1.1M478.8 95.8h1.1M463.1 98.7h1.1M490.7 99.9h1.1M508.0 94.9h1.1M469.7 82.6h1.1M451.9 83.6h1.1M452.5 92.1h1.1M463.4 71.7h1.1M457.4 91.9h1.1M462.0 89.1h1.1M475.5 96.6h1.1M488.1 96.8h1.1M483.4 76.4h1.1M459.1 72.7h1.1M460.5 100.4h1.1M452.8 85.8h1.1M462.1 98.2h1.1M488.8 91.8h1.1M498.8 99.6h1.1M470.5 90.5h1.1M503.8 90.2h1.1M483.7 85.8h1.1M470.5 86.5h1.1M451.9 88.8h1.1M497.0 84.4h1.1M491.1 90.6h1.1M461.6 81.9h1.1M461.8 75.6h1.1M510.3 94.7h1.1M488.6 101.7h1.1M483.4 84.2h1.1M499.6 83.8h1.1M466.9 101.8h1.1M459.6 73.3h1.1M482.3 91.7h1.1M465.8 84.7h1.1M470.4 95.2h1.1M454.0 80.2h1.1M457.4 95.9h1.1M472.3 75.5h1.1M468.2 85.7h1.1M482.8 88.4h1.1M471.5 99.0h1.1M466.4 85.7h1.1M507.3 97.4h1.1M467.2 78.2h1.1M455.9 88.0h1.1M450.4 76.9h1.1M499.4 85.8h1.1M476.4 81.5h1.1M450.5 88.6h1.1M453.4 80.6h1.1M463.8 97.3h1.1M475.4 78.9h1.1M450.0 84.6h1.1M489.7 93.0h1.1M509.1 97.5h1.1M463.8 74.6h1.1M498.6 96.8h1.1M481.6 98.3h1.1M484.5 79.5h1.1M458.5 70.6h1.1M490.7 100.5h1.1M492.3 101.6h1.1M502.4 90.5h1.1M475.2 87.6h1.1M458.6 76.2h1.1M484.2 83.9h1.1M470.9 85.5h1.1M501.6 85.4h1.1M468.4 87.7h1.1M475.0 98.9h1.1M486.1 88.7h1.1M480.2 79.5h1.1M495.2 101.0h1.1M454.0 92.7h1.1M472.2 87.5h1.1M473.1 98.2h1.1M468.5 79.2h1.1M468.6 83.3h1.1M466.2 74.5h1.1M452.4 77.8h1.1M460.6 72.7h1.1M482.8 95.3h1.1M504.0 91.5h1.1M466.2 102.7h1.1M451.7 79.1h1.1M479.8 79.1h1.1M492.9 92.0h1.1M456.7 71.9h1.1M459.9 98.0h1.1M473.0 73.6h1.1M466.1 74.5h1.1M456.9 74.3h1.1M471.0 101.1h1.1M452.2 76.5h1.1M471.1 102.3h1.1M480.0 93.9h1.1M470.5 95.4h1.1M500.2 89.3h1.1M478.6 88.3h1.1M477.1 88.2h1.1M487.4 101.7h1.1M458.4 79.0h1.1M460.8 71.8h1.1M493.6 87.9h1.1M483.7 85.0h1.1M457.0 90.4h1.1M469.0 87.2h1.1M472.4 80.8h1.1M471.4 90.4h1.1M505.6 98.4h1.1M465.3 74.2h1.1M481.1 94.9h1.1M470.2 91.9h1.1M466.2 102.9h1.1M477.8 86.2h1.1M483.1 99.7h1.1M477.0 91.0h1.1M451.7 84.5h1.1M504.6 96.4h1.1M473.1 103.4h1.1M471.9 77.3h1.1M484.3 100.1h1.1M476.3 99.5h1.1M495.4 82.3h1.1M467.4 87.2h1.1M474.1 82.7h1.1M491.3 99.8h1.1M462.0 82.6h1.1M452.5 80.9h1.1M483.6 101.3h1.1M483.3 95.1h1.1M503.3 98.5h1.1M479.3 100.3h1.1M466.5 76.5h1.1M503.0 90.4h1.1M465.6 83.2h1.1M481.8 84.7h1.1M489.7 92.4h1.1M452.7 85.0h1.1M479.6 84.4h1.1M507.8 98.1h1.1M469.5 84.2h1.1M486.6 100.1h1.1M460.7 83.3h1.1M453.0 91.8h1.1M482.6 89.5h1.1M452.8 77.9h1.1M478.9 99.2h1.1M483.7 79.7h1.1M482.9 76.9h1.1M467.3 100.6h1.1M456.0 88.1h1.1M489.2 82.1h1.1M499.3 100.9h1.1M505.3 95.1h1.1M460.8 72.0h1.1M476.4 80.6h1.1M460.2 99.6h1.1M461.7 98.0h1.1M461.4 76.3h1.1M449.6 87.0h1.1M473.1 98.9h1.1M474.3 83.2h1.1M459.1 78.5h1.1M464.9 93.6h1.1M470.1 73.8h1.1M462.0 85.0h1.1M485.4 78.3h1.1M492.6 90.7h1.1M459.0 95.5h1.1M473.8 88.3h1.1M487.6 91.4h1.1M500.5 99.2h1.1M480.3 89.7h1.1M465.3 100.6h1.1M479.9 76.1h1.1M495.7 81.5h1.1M496.8 89.8h1.1M454.3 88.0h1.1M504.9 86.2h1.1M483.7 99.3h1.1M477.4 86.8h1.1M486.6 98.0h1.1M460.8 73.2h1.1M498.8 88.8h1.1M467.6 100.3h1.1M507.2 88.4h1.1M497.0 81.9h1.1M479.6 89.3h1.1M464.0 93.7h1.1M485.3 83.1h1.1M454.5 88.8h1.1M468.7 94.6h1.1M458.7 83.4h1.1M460.3 83.9h1.1M450.7 86.4h1.1M460.7 87.2h1.1M458.4 73.4h1.1M483.6 101.4h1.1M506.1 87.5h1.1M465.8 80.7h1.1M476.5 78.9h1.1M485.9 87.4h1.1M460.6 77.6h1.1M496.9 100.7h1.1M453.7 93.9h1.1M478.1 103.1h1.1M469.2 95.9h1.1M458.2 92.7h1.1M465.3 87.3h1.1M472.3 99.6h1.1M497.7 87.1h1.1M493.7 84.5h1.1M484.0 89.9h1.1M458.6 91.8h1.1M461.4 95.8h1.1M481.3 102.4h1.1M504.7 94.7h1.1M484.9 95.4h1.1M497.3 86.5h1.1M484.0 92.7h1.1M456.3 91.2h1.1M500.4 83.3h1.1M488.6 79.0h1.1M466.1 93.8h1.1M458.6 71.1h1.1M482.2 81.1h1.1M501.8 85.1h1.1M492.4 81.1h1.1M462.3 85.4h1.1M462.6 84.1h1.1M453.5 80.7h1.1M486.0 88.5h1.1M487.6 79.9h1.1M470.1 76.7h1.1M485.7 79.0h1.1M498.8 90.4h1.1M492.0 95.0h1.1M482.5 84.5h1.1M468.0 72.1h1.1M501.0 87.0h1.1M486.6 91.2h1.1M476.8 74.3h1.1M455.3 87.0h1.1M479.6 78.4h1.1M447.8 86.1h1.1M450.3 93.0h1.1M467.7 86.1h1.1M467.4 80.4h1.1M456.0 91.3h1.1M460.0 72.8h1.1M497.6 88.1h1.1M499.3 87.3h1.1M492.8 87.4h1.1M451.6 93.0h1.1M495.3 89.1h1.1M473.6 85.8h1.1M467.8 95.1h1.1M464.6 86.1h1.1M464.5 82.2h1.1M491.2 95.3h1.1M460.8 81.5h1.1M451.0 78.1h1.1M486.7 90.8h1.1M463.4 76.2h1.1M453.7 76.1h1.1M481.1 78.7h1.1M507.1 89.2h1.1M470.1 84.7h1.1M498.1 82.4h1.1M461.9 77.8h1.1M460.4 90.6h1.1M490.7 94.7h1.1M454.1 96.1h1.1M479.5 82.9h1.1M481.2 84.7h1.1M460.6 83.4h1.1M490.9 94.3h1.1M507.6 97.2h1.1M456.4 96.4h1.1M487.4 102.2h1.1M466.9 99.1h1.1M456.9 77.3h1.1M503.4 84.4h1.1M468.5 85.1h1.1M468.6 83.1h1.1M463.6 77.5h1.1M467.6 77.3h1.1M483.9 89.0h1.1M474.1 87.3h1.1M467.3 98.5h1.1M510.5 95.6h1.1M464.0 76.9h1.1M466.6 102.2h1.1M468.2 92.6h1.1M474.1 81.7h1.1M491.5 90.2h1.1M464.1 74.2h1.1M458.5 81.1h1.1M454.7 80.8h1.1M483.9 83.8h1.1M469.7 79.9h1.1M480.1 96.5h1.1M476.8 96.1h1.1M458.6 98.8h1.1M479.6 83.0h1.1M482.1 98.8h1.1M472.5 82.3h1.1M484.0 86.3h1.1M480.7 85.4h1.1M479.1 94.3h1.1M458.9 97.0h1.1M464.7 72.7h1.1M483.8 98.5h1.1M504.5 99.8h1.1M472.8 73.6h1.1M498.4 85.4h1.1M497.6 97.1h1.1M506.5 88.6h1.1M453.2 72.9h1.1M461.3 94.3h1.1M449.6 87.4h1.1M494.9 95.3h1.1M489.2 96.1h1.1M460.0 88.2h1.1M504.6 85.1h1.1M482.5 92.8h1.1M456.3 94.8h1.1M501.4 99.2h1.1M466.1 78.0h1.1M476.8 83.3h1.1M482.4 93.7h1.1M468.6 81.4h1.1M499.1 96.4h1.1M467.1 72.5h1.1M510.1 94.8h1.1M487.4 83.8h1.1M461.7 73.4h1.1M470.9 90.4h1.1M471.8 102.2h1.1M491.2 85.6h1.1M491.9 90.5h1.1M489.0 86.8h1.1M482.6 86.7h1.1M480.0 85.1h1.1M464.8 74.5h1.1M485.2 89.6h1.1M447.0 76.0h1.1M477.9 89.2h1.1M466.7 92.4h1.1M502.3 92.8h1.1M447.1 84.9h1.1M466.9 91.3h1.1M486.8 86.9h1.1M505.4 87.6h1.1M470.3 72.2h1.1M484.6 82.4h1.1M483.5 81.8h1.1M457.7 73.2h1.1M504.9 89.7h1.1M463.2 94.2h1.1M466.4 78.5h1.1M505.6 97.8h1.1M476.1 93.9h1.1M494.5 91.0h1.1M467.8 74.2h1.1M459.3 97.1h1.1M453.5 95.3h1.1M473.9 99.8h1.1M498.7 93.4h1.1M465.0 82.5h1.1M476.2 92.8h1.1M506.8 95.2h1.1M510.2 93.7h1.1M471.2 87.3h1.1M497.9 97.7h1.1M472.2 82.1h1.1M488.8 77.8h1.1M491.1 86.5h1.1M460.3 89.4h1.1M479.2 102.7h1.1M507.2 89.9h1.1M506.3 100.0h1.1M458.2 98.1h1.1M498.7 83.3h1.1M461.0 92.2h1.1M461.3 95.7h1.1M486.1 98.1h1.1M471.2 80.3h1.1M508.5 92.5h1.1M472.7 89.1h1.1M476.6 91.9h1.1M482.1 79.7h1.1M460.2 94.9h1.1M502.9 92.2h1.1M461.5 94.5h1.1M482.6 82.7h1.1M487.0 85.3h1.1M491.1 95.6h1.1M485.8 102.1h1.1M491.7 89.7h1.1M500.9 91.2h1.1M486.7 80.6h1.1M482.7 78.8h1.1M510.4 97.4h1.1M479.2 95.7h1.1M473.2 87.8h1.1M458.0 99.2h1.1M499.0 95.8h1.1M452.7 97.9h1.1M447.8 89.2h1.1M475.7 100.2h1.1M489.5 80.7h1.1M451.8 78.6h1.1M484.0 99.2h1.1M487.1 81.8h1.1M498.5 98.1h1.1M486.4 91.3h1.1M468.9 83.9h1.1M447.1 76.7h1.1M462.3 97.0h1.1M460.6 75.8h1.1M508.1 97.9h1.1M461.1 96.7h1.1M475.2 77.6h1.1M450.1 93.9h1.1M485.2 80.3h1.1M470.8 100.1h1.1M463.1 91.9h1.1M465.9 100.2h1.1M489.3 98.0h1.1M471.1 72.4h1.1M458.7 91.3h1.1M448.8 73.7h1.1M500.2 99.9h1.1M505.2 98.5h1.1M484.7 99.8h1.1M494.4 89.0h1.1M453.1 78.5h1.1M497.3 100.4h1.1M462.4 100.1h1.1M455.5 97.2h1.1M507.5 97.1h1.1M474.8 90.5h1.1M454.7 78.0h1.1M475.5 95.3h1.1M463.1 97.8h1.1M479.0 93.8h1.1M466.9 98.3h1.1M451.6 78.8h1.1M448.9 79.6h1.1M489.9 99.0h1.1M502.9 94.3h1.1M473.1 78.6h1.1M457.6 88.6h1.1M460.9 95.2h1.1M468.8 89.7h1.1M484.2 91.3h1.1M457.6 78.7h1.1M492.7 102.8h1.1M473.5 102.7h1.1M488.8 102.1h1.1M482.8 95.6h1.1M482.2 89.8h1.1M478.5 92.4h1.1M508.8 97.0h1.1M494.8 91.3h1.1M472.3 94.0h1.1M487.2 83.5h1.1M476.8 89.1h1.1M495.4 90.6h1.1M497.6 99.9h1.1M488.5 78.8h1.1M462.7 98.5h1.1M495.4 99.5h1.1M458.0 73.7h1.1M472.8 86.9h1.1M497.1 89.9h1.1M466.6 96.8h1.1M452.0 90.1h1.1M459.8 71.4h1.1M479.5 87.7h1.1M488.7 82.8h1.1M510.2 96.7h1.1M454.1 76.0h1.1M472.4 93.0h1.1M471.0 92.2h1.1M511.5 97.0h1.1M489.7 91.3h1.1M468.1 91.8h1.1M491.1 90.0h1.1M480.4 95.6h1.1M460.9 94.3h1.1M452.6 97.8h1.1M456.3 83.7h1.1M457.4 95.8h1.1M453.5 72.5h1.1M463.8 81.0h1.1M477.3 88.8h1.1M475.1 102.2h1.1" stroke="#440154" stroke-width="1.1" fill="none"/>
<path d="M483.5 68.8h1.1M513.8 65.6h1.1M483.0 57.1h1.1M517.0 67.7h1.1M483.6 59.5h1.1M501.4 70.1h1.1M493.6 66.3h1.1M518.5 71.5h1.1M474.7 59.3h1.1M501.4 79.8h1.1M498.1 57.4h1.1M511.9 77.4h1.1M511.7 82.8h1.1M515.9 80.6h1.1M506.5 60.0h1.1M505.3 71.9h1.1M492.4 71.6h1.1M481.2 60.1h1.1M494.2 75.0h1.1M483.4 58.6h1.1M473.3 67.8h1.1M470.1 58.6h1.1M494.9 65.3h1.1M495.9 60.7h1.1M481.6 64.0h1.1M498.0 61.9h1.1M479.8 62.9h1.1M515.6 68.0h1.1M477.1 65.7h1.1M493.9 62.5h1.1M503.5 61.9h1.1M476.0 56.4h1.1M470.0 60.7h1.1M517.6 66.9h1.1M522.9 77.7h1.1M477.1 64.1h1.1M493.8 62.0h1.1M483.9 60.6h1.1M500.0 67.8h1.1M491.7 73.0h1.1M515.1 68.3h1.1M509.7 64.9h1.1M489.7 65.6h1.1M495.3 63.1h1.1M514.0 67.9h1.1M467.3 62.7h1.1M465.3 67.3h1.1M519.3 83.2h1.1M503.1 58.8h1.1M477.1 60.3h1.1M485.5 73.8h1.1M488.8 74.5h1.1M514.1 66.3h1.1M500.0 62.4h1.1M490.6 73.7h1.1M493.6 59.7h1.1M484.0 60.0h1.1M479.9 70.2h1.1M487.1 64.9h1.1M482.3 60.7h1.1M493.8 72.6h1.1M505.9 64.7h1.1M519.2 78.4h1.1M497.0 75.0h1.1M503.1 80.6h1.1M515.9 63.4h1.1M499.2 64.9h1.1M516.2 80.3h1.1M505.3 70.6h1.1M505.8 60.1h1.1M518.9 73.4h1.1M479.5 59.9h1.1M499.8 68.4h1.1M517.1 67.3h1.1M500.2 67.8h1.1M480.4 68.4h1.1M464.0 61.9h1.1M485.5 70.4h1.1M499.0 76.3h1.1M485.7 72.7h1.1M510.9 60.2h1.1M509.7 83.2h1.1M476.9 59.9h1.1M520.7 83.9h1.1M511.2 63.2h1.1M511.6 69.8h1.1M491.8 57.9h1.1M503.1 75.7h1.1M480.3 55.4h1.1M467.7 62.0h1.1M524.8 77.1h1.1M518.4 77.2h1.1M470.4 66.0h1.1M521.8 80.4h1.1M524.5 79.4h1.1M506.8 77.7h1.1M519.6 67.3h1.1M464.1 63.7h1.1M499.2 62.5h1.1M477.6 56.9h1.1M484.6 70.0h1.1M466.4 61.9h1.1M501.8 74.4h1.1M501.6 66.5h1.1M509.0 63.4h1.1M479.5 61.7h1.1M507.7 68.1h1.1M471.8 65.0h1.1M497.8 65.5h1.1M502.3 78.8h1.1M521.3 70.4h1.1M509.7 80.9h1.1M507.6 69.7h1.1M496.0 57.6h1.1M515.6 74.2h1.1M484.1 61.4h1.1M508.2 82.8h1.1M517.3 66.4h1.1M508.9 79.2h1.1M486.3 60.2h1.1M465.9 63.9h1.1M496.7 64.8h1.1M515.8 67.6h1.1M494.3 74.7h1.1M487.5 59.8h1.1M522.0 77.3h1.1M496.4 69.4h1.1M500.9 63.1h1.1M524.9 77.9h1.1M479.1 60.6h1.1M518.0 84.4h1.1M512.7 72.1h1.1M496.2 78.3h1.1M513.8 79.9h1.1M522.1 71.8h1.1M462.6 59.8h1.1M503.0 67.2h1.1M519.8 73.9h1.1M506.1 58.7h1.1M495.1 76.0h1.1M519.8 82.0h1.1M478.6 69.6h1.1M466.5 59.6h1.1M508.1 64.1h1.1M506.6 79.6h1.1M505.4 78.7h1.1M506.3 80.8h1.1M513.5 73.0h1.1M516.6 70.9h1.1M468.8 62.8h1.1M505.2 78.5h1.1M491.6 69.7h1.1M466.9 60.2h1.1M495.2 56.2h1.1M502.0 57.1h1.1M486.3 54.8h1.1M491.9 58.5h1.1M514.2 67.7h1.1M479.3 70.0h1.1M515.8 65.4h1.1M470.1 62.3h1.1M509.7 59.6h1.1M505.4 75.5h1.1M477.3 70.1h1.1M501.6 62.3h1.1M495.5 73.5h1.1M472.9 69.7h1.1M499.6 69.1h1.1M494.0 68.6h1.1M474.5 68.1h1.1M490.5 65.6h1.1M510.7 84.6h1.1M493.8 67.4h1.1M524.6 75.3h1.1M519.5 71.6h1.1M481.6 59.6h1.1M481.1 58.6h1.1M485.2 55.5h1.1M515.4 79.3h1.1M484.2 68.0h1.1M496.2 78.4h1.1M481.1 69.9h1.1M470.3 62.4h1.1M501.4 57.2h1.1M490.6 72.2h1.1M515.3 62.7h1.1M509.9 77.4h1.1M499.5 72.3h1.1M497.8 76.9h1.1M505.5 62.4h1.1M503.0 76.0h1.1M481.8 71.1h1.1M497.8 72.7h1.1M490.4 75.6h1.1M516.0 84.5h1.1M491.7 69.6h1.1M476.4 62.6h1.1M481.2 61.3h1.1M480.2 62.9h1.1M495.6 65.2h1.1M509.7 82.9h1.1M505.0 76.7h1.1M507.7 66.4h1.1M503.3 64.9h1.1M511.4 81.9h1.1M505.5 78.2h1.1M473.9 60.8h1.1M463.8 62.7h1.1M515.5 72.2h1.1M512.2 84.1h1.1M518.4 74.1h1.1M483.0 59.4h1.1M489.7 65.5h1.1M502.0 62.0h1.1M472.9 69.5h1.1M506.8 74.6h1.1M509.7 67.7h1.1M509.0 74.6h1.1M483.5 59.2h1.1M509.3 63.4h1.1M496.1 56.3h1.1M499.7 67.9h1.1M510.4 80.7h1.1M480.4 58.5h1.1M519.4 77.5h1.1M522.9 79.0h1.1M484.4 64.2h1.1M481.9 71.4h1.1M497.8 78.6h1.1M491.6 67.0h1.1M497.0 68.3h1.1M499.8 73.7h1.1M520.9 79.5h1.1M480.5 60.9h1.1M495.9 61.1h1.1M499.6 56.5h1.1M478.1 58.6h1.1M509.2 60.0h1.1M518.8 73.0h1.1M518.0 70.5h1.1M492.8 62.0h1.1M475.8 56.5h1.1M520.7 70.6h1.1M508.1 62.0h1.1M504.9 61.0h1.1M477.7 69.8h1.1M503.4 58.7h1.1M498.5 72.4h1.1M467.6 67.3h1.1M511.9 68.1h1.1M507.8 61.2h1.1M524.9 74.7h1.1M489.7 59.5h1.1M477.4 63.5h1.1M471.1 62.8h1.1M493.7 58.2h1.1M507.4 83.6h1.1M493.2 76.4h1.1M513.6 67.5h1.1M512.5 75.6h1.1M509.0 84.3h1.1M516.8 81.4h1.1M489.7 72.8h1.1M503.6 66.6h1.1M465.1 59.6h1.1M473.8 61.9h1.1M476.9 62.9h1.1M512.1 65.4h1.1M505.8 79.8h1.1M488.9 66.2h1.1M521.5 71.6h1.1M493.1 56.2h1.1M516.0 72.9h1.1M488.0 59.2h1.1M491.7 76.0h1.1M478.9 62.2h1.1M494.2 69.4h1.1M486.1 54.5h1.1M477.3 60.1h1.1M510.1 61.1h1.1M493.0 70.0h1.1M511.2 74.7h1.1M496.2 55.6h1.1M476.8 59.4h1.1M499.0 74.3h1.1M481.9 62.0h1.1M506.7 58.2h1.1M524.2 76.2h1.1M507.1 64.0h1.1M470.2 60.5h1.1M496.2 68.8h1.1M485.2 69.4h1.1M515.3 80.9h1.1M509.2 59.3h1.1M484.5 71.7h1.1M483.0 65.2h1.1M490.0 57.5h1.1M517.7 82.6h1.1M485.0 67.9h1.1M504.6 62.3h1.1" stroke="#3b528b" stroke-width="1.1" fill="none"/>
<path d="M520.3 85.0h1.1M523.2 78.6h1.1M517.2 94.8h1.1M534.7 83.9h1.1M535.1 98.3h1.1M517.2 87.8h1.1M540.0 87.1h1.1M520.6 76.5h1.1M537.2 77.3h1.1M531.2 77.6h1.1M534.9 82.9h1.1M533.1 87.5h1.1M511.0 88.5h1.1M524.1 96.9h1.1M533.6 79.9h1.1M524.1 96.5h1.1M525.4 86.7h1.1M534.0 76.3h1.1M524.6 87.1h1.1M528.4 92.1h1.1M517.8 85.7h1.1M524.6 75.0h1.1M528.2 83.9h1.1M521.3 85.1h1.1M521.3 79.9h1.1M542.1 82.6h1.1M515.7 91.1h1.1M528.2 95.8h1.1M523.1 86.8h1.1M516.7 80.3h1.1M521.5 76.2h1.1M540.4 86.9h1.1M534.4 80.0h1.1M532.0 98.5h1.1M516.3 99.7h1.1M518.3 92.8h1.1M541.9 85.4h1.1M541.5 83.5h1.1M523.7 98.8h1.1M529.7 73.5h1.1M513.4 87.5h1.1M537.3 81.5h1.1M540.5 82.6h1.1M514.6 84.3h1.1M528.3 79.3h1.1M527.0 79.6h1.1M535.6 79.1h1.1M537.8 89.8h1.1M533.9 84.5h1.1M523.6 95.7h1.1M519.5 74.2h1.1M528.4 75.8h1.1M523.4 94.4h1.1M516.4 84.2h1.1M543.0 88.3h1.1M525.0 89.7h1.1M529.1 95.7h1.1M511.9 93.0h1.1M519.6 99.7h1.1M530.5 92.0h1.1M518.4 78.0h1.1M523.1 94.7h1.1M519.6 85.7h1.1M529.8 79.2h1.1M512.3 83.8h1.1M533.7 91.7h1.1M515.6 91.1h1.1M538.1 92.4h1.1M517.8 93.5h1.1M528.9 90.3h1.1M520.9 91.4h1.1M521.8 83.1h1.1M519.7 93.4h1.1M539.0 80.5h1.1M510.7 79.3h1.1M535.2 82.3h1.1M523.6 74.0h1.1M534.9 86.7h1.1M538.5 96.2h1.1M537.7 97.6h1.1M521.8 95.5h1.1M525.8 90.9h1.1M515.8 90.1h1.1M514.4 88.5h1.1M538.3 96.0h1.1M538.8 84.3h1.1M519.0 97.1h1.1M522.8 84.8h1.1M527.5 87.8h1.1M536.1 89.0h1.1M514.0 87.4h1.1M514.3 82.6h1.1M529.3 81.9h1.1M540.2 95.0h1.1M520.0 84.4h1.1M534.6 86.8h1.1M530.9 81.8h1.1M528.5 89.2h1.1M540.4 82.2h1.1M536.8 78.2h1.1M518.5 78.7h1.1M518.4 85.6h1.1M533.6 91.2h1.1M512.4 83.3h1.1M533.9 76.1h1.1M512.4 95.9h1.1M514.8 96.2h1.1M520.5 84.5h1.1M527.5 97.8h1.1M522.5 90.6h1.1M512.8 84.6h1.1M528.5 73.9h1.1M513.7 89.8h1.1M516.3 88.7h1.1M528.5 82.2h1.1M514.5 85.9h1.1M535.8 92.8h1.1M533.4 87.0h1.1M541.6 83.6h1.1M527.7 99.7h1.1M536.4 85.7h1.1M536.6 94.4h1.1M518.6 83.6h1.1M535.3 82.8h1.1M520.6 87.6h1.1M510.7 79.6h1.1M519.1 87.0h1.1M519.3 99.4h1.1M536.6 87.0h1.1M532.8 91.9h1.1M524.8 81.7h1.1M517.9 82.8h1.1M523.1 89.8h1.1M522.9 81.8h1.1M516.1 91.2h1.1M535.8 90.7h1.1M516.3 75.9h1.1M538.1 76.3h1.1M537.3 83.0h1.1M526.7 85.8h1.1M513.3 96.6h1.1M533.1 79.9h1.1M519.5 79.4h1.1M508.8 89.7h1.1M517.9 91.2h1.1M538.2 81.3h1.1M518.3 82.6h1.1M525.1 73.4h1.1M522.0 81.1h1.1M533.1 86.2h1.1M510.6 93.1h1.1M521.7 97.6h1.1M531.3 79.0h1.1M535.1 89.2h1.1M520.8 95.1h1.1M519.9 76.2h1.1M509.6 89.8h1.1M517.8 76.6h1.1M518.0 96.9h1.1M540.2 95.7h1.1M516.1 99.4h1.1M530.4 96.6h1.1M540.7 81.2h1.1M521.5 98.0h1.1M518.5 74.9h1.1M509.4 88.1h1.1M519.1 99.4h1.1M533.6 89.6h1.1M538.0 90.8h1.1M539.0 89.5h1.1M522.4 87.4h1.1M515.9 79.4h1.1M526.7 84.7h1.1M522.0 74.5h1.1M525.3 82.1h1.1M528.0 94.6h1.1M541.8 89.5h1.1M541.8 82.6h1.1M525.0 81.8h1.1M516.1 94.3h1.1M521.3 85.5h1.1M524.4 78.8h1.1M520.5 80.3h1.1M514.3 86.7h1.1M516.2 77.6h1.1M521.7 87.4h1.1M526.5 99.4h1.1M510.8 85.2h1.1M529.1 79.6h1.1M535.2 95.9h1.1M539.8 94.6h1.1M511.1 91.1h1.1M528.1 80.7h1.1M515.2 85.7h1.1M523.2 83.8h1.1M532.8 84.9h1.1M522.2 85.8h1.1M512.8 78.4h1.1M522.8 77.6h1.1M538.4 92.0h1.1M530.7 92.2h1.1M525.6 100.2h1.1M519.7 83.2h1.1M531.4 96.6h1.1M523.4 86.0h1.1M520.8 78.9h1.1M523.7 76.0h1.1M539.3 85.5h1.1M534.9 84.1h1.1M510.9 93.6h1.1M514.1 81.9h1.1M531.4 74.7h1.1M516.1 93.8h1.1M532.4 86.6h1.1M519.1 94.5h1.1M533.0 77.4h1.1M532.2 98.3h1.1M531.4 92.2h1.1M531.7 83.9h1.1M512.0 83.0h1.1M519.2 95.6h1.1M520.0 97.9h1.1M527.7 74.8h1.1M510.9 84.8h1.1M533.4 77.2h1.1M519.6 86.0h1.1M527.6 75.6h1.1M514.7 93.9h1.1M531.3 96.9h1.1M519.9 96.2h1.1M531.3 96.8h1.1M522.3 94.8h1.1M529.0 82.3h1.1M526.9 72.7h1.1M531.4 90.8h1.1M534.5 84.7h1.1M516.7 90.8h1.1M536.7 76.8h1.1M519.2 80.1h1.1M528.3 98.1h1.1M530.3 88.9h1.1M523.4 77.1h1.1M540.7 90.9h1.1M532.7 78.5h1.1M543.3 88.7h1.1M512.9 81.8h1.1M513.6 78.6h1.1M530.5 75.7h1.1M512.9 94.4h1.1M518.1 90.2h1.1M518.3 92.2h1.1M539.1 80.5h1.1M530.9 78.1h1.1M511.8 84.3h1.1M524.5 73.0h1.1M527.0 84.3h1.1M520.9 94.0h1.1M540.0 83.8h1.1M519.0 94.3h1.1M535.3 86.9h1.1M530.1 81.9h1.1M534.1 88.8h1.1M538.9 80.7h1.1M529.1 95.2h1.1M534.9 94.4h1.1M521.0 97.1h1.1M530.2 83.8h1.1M516.3 81.3h1.1M519.9 90.0h1.1M542.6 88.3h1.1M533.1 87.5h1.1M536.0 82.1h1.1M531.2 86.8h1.1M536.1 84.6h1.1M537.7 97.2h1.1M527.1 86.5h1.1M533.4 87.1h1.1M525.9 91.9h1.1M536.1 89.9h1.1M522.6 79.1h1.1M525.4 98.3h1.1M539.1 96.6h1.1M541.3 84.5h1.1M517.2 82.0h1.1M522.0 81.8h1.1M534.2 96.9h1.1M521.6 95.7h1.1M518.5 79.7h1.1M525.0 83.9h1.1M535.8 97.8h1.1M521.3 95.4h1.1M522.9 83.2h1.1M522.1 75.3h1.1M518.4 93.8h1.1M529.0 89.9h1.1M536.0 86.1h1.1M537.8 76.6h1.1M532.6 87.3h1.1M515.1 78.6h1.1M542.1 90.5h1.1M525.9 86.5h1.1M538.6 90.4h1.1M516.0 99.2h1.1M538.6 94.6h1.1M533.5 91.5h1.1M533.6 76.8h1.1M537.2 84.4h1.1M516.1 84.2h1.1M511.4 87.1h1.1M527.4 95.8h1.1M532.1 83.6h1.1M519.4 88.4h1.1M521.2 88.5h1.1M512.2 79.1h1.1M516.6 95.6h1.1M517.2 77.6h1.1M533.8 77.6h1.1M538.2 87.4h1.1M513.2 92.3h1.1M528.0 87.8h1.1M510.2 83.1h1.1M537.1 84.1h1.1M526.3 88.4h1.1M540.3 83.5h1.1M524.0 88.2h1.1M535.1 97.9h1.1M511.0 90.3h1.1M537.4 85.9h1.1M521.3 96.8h1.1M532.9 98.5h1.1" stroke="#21918c" stroke-width="1.1" fill="none"/>
<path d="M535.7 82.8h1.1M538.5 86.7h1.1M526.0 78.8h1.1M543.3 90.2h1.1M535.1 91.7h1.1M534.8 83.7h1.1M534.6 89.9h1.1M534.6 83.8h1.1M531.4 93.3h1.1M532.3 77.2h1.1M534.5 95.8h1.1M535.6 93.9h1.1M541.1 93.5h1.1M531.4 96.0h1.1M527.5 87.1h1.1M527.5 84.4h1.1M542.0 93.9h1.1M535.4 79.6h1.1M534.7 96.0h1.1M532.1 94.8h1.1M531.5 93.6h1.1M528.1 77.8h1.1M536.3 93.1h1.1M538.8 84.9h1.1M538.9 80.5h1.1M531.9 82.4h1.1M529.8 87.9h1.1M536.9 83.4h1.1M537.0 83.3h1.1M539.9 95.8h1.1M536.4 90.0h1.1M527.7 87.2h1.1M539.0 87.8h1.1M534.7 85.5h1.1M534.3 95.3h1.1M527.2 90.4h1.1M530.7 93.6h1.1M531.8 89.9h1.1M535.2 97.0h1.1M534.5 87.3h1.1M535.0 81.5h1.1M542.9 83.5h1.1M528.7 80.6h1.1M538.9 95.9h1.1M539.8 80.7h1.1M527.7 85.3h1.1M533.5 86.8h1.1M539.0 81.0h1.1M530.6 83.3h1.1M528.9 85.7h1.1M536.8 82.0h1.1M528.5 92.1h1.1M537.1 81.0h1.1M535.6 91.2h1.1M529.6 92.1h1.1M530.6 89.0h1.1M543.4 89.1h1.1M528.9 81.3h1.1M533.3 94.3h1.1M540.4 84.6h1.1M536.6 83.8h1.1M534.8 83.0h1.1M543.0 84.2h1.1M531.7 89.7h1.1M530.0 78.5h1.1M534.0 94.2h1.1M532.6 82.2h1.1M531.2 89.3h1.1M530.8 87.7h1.1M535.2 76.9h1.1M531.8 94.1h1.1M529.8 92.5h1.1M527.4 86.7h1.1M533.6 90.3h1.1M526.1 78.7h1.1M533.3 96.2h1.1M535.0 94.9h1.1M530.6 80.8h1.1M535.5 85.2h1.1M539.0 81.4h1.1M530.2 85.7h1.1M531.8 80.8h1.1M529.7 81.8h1.1M531.4 78.4h1.1M531.6 96.9h1.1M541.1 89.6h1.1M532.0 87.7h1.1M538.6 93.4h1.1M530.7 92.9h1.1M537.8 86.4h1.1M526.6 85.5h1.1M532.2 85.5h1.1M533.5 86.9h1.1M532.4 95.4h1.1M533.7 89.2h1.1M530.2 94.0h1.1M530.0 93.3h1.1M537.9 95.8h1.1M529.1 94.0h1.1M532.3 90.9h1.1M535.3 94.5h1.1M542.4 93.0h1.1M532.7 96.2h1.1M533.6 95.8h1.1M532.9 86.7h1.1M526.6 78.3h1.1M542.7 86.0h1.1M539.1 86.4h1.1M539.1 87.5h1.1M528.6 82.9h1.1M537.4 79.4h1.1M536.2 95.2h1.1M539.2 79.2h1.1M527.9 91.5h1.1M533.4 78.2h1.1M528.3 90.6h1.1M526.5 82.4h1.1M539.2 88.5h1.1M539.8 93.9h1.1M539.0 78.4h1.1M534.2 76.7h1.1M540.4 84.3h1.1M534.3 95.6h1.1M533.0 95.2h1.1M534.2 96.9h1.1M534.8 79.6h1.1M536.8 84.6h1.1M541.2 84.1h1.1M532.8 94.7h1.1M528.1 78.9h1.1M538.2 86.9h1.1M542.1 86.2h1.1M526.9 86.5h1.1M530.5 93.6h1.1M540.6 95.0h1.1M528.0 88.4h1.1M528.7 90.3h1.1M538.9 80.4h1.1M536.5 78.7h1.1M527.0 82.2h1.1M527.4 85.7h1.1M530.7 86.5h1.1M538.4 82.9h1.1M531.6 84.1h1.1M541.0 84.0h1.1M531.6 82.4h1.1M530.1 79.5h1.1M533.1 93.9h1.1M531.7 82.7h1.1M530.4 86.8h1.1M533.6 76.9h1.1M535.1 85.4h1.1M529.5 82.7h1.1M536.9 81.7h1.1M526.6 83.1h1.1M530.3 85.3h1.1M534.1 82.2h1.1M543.1 91.9h1.1M542.7 88.5h1.1M539.3 85.7h1.1M537.9 94.6h1.1M538.7 93.5h1.1M537.0 83.6h1.1M530.2 79.6h1.1M526.1 81.4h1.1M529.3 80.4h1.1M529.0 83.0h1.1M542.6 84.4h1.1M539.5 83.0h1.1M534.0 81.8h1.1M537.6 84.3h1.1M540.5 80.7h1.1M535.6 97.0h1.1M538.6 81.6h1.1M539.8 79.7h1.1M535.5 92.3h1.1M539.7 86.4h1.1M532.7 81.8h1.1M532.0 97.4h1.1M536.5 81.4h1.1M533.2 83.0h1.1M538.1 85.3h1.1M533.7 90.7h1.1M532.3 77.8h1.1M534.9 95.0h1.1M530.3 81.9h1.1M529.8 91.9h1.1M542.0 86.3h1.1M530.9 78.8h1.1M539.3 82.9h1.1M534.5 92.8h1.1M538.5 91.0h1.1M531.7 91.0h1.1M531.5 85.0h1.1M540.8 93.7h1.1M536.8 93.7h1.1M541.6 84.6h1.1M527.1 85.8h1.1M527.8 87.8h1.1M534.9 84.9h1.1M538.0 95.8h1.1M538.1 77.3h1.1M532.4 86.2h1.1M532.5 83.9h1.1M529.8 87.8h1.1M535.0 82.5h1.1M527.1 84.8h1.1M537.5 89.5h1.1M542.7 92.0h1.1M538.3 95.8h1.1M541.6 92.6h1.1M531.9 82.2h1.1M533.0 94.4h1.1M531.3 87.0h1.1M532.3 90.1h1.1M533.4 94.8h1.1M533.4 97.5h1.1M530.9 87.1h1.1M534.6 94.1h1.1M538.4 81.8h1.1" stroke="#21918c" stroke-width="1.1" fill="none"/>
<path d="M503.7 100.5h1.1M464.2 97.2h1.1M470.2 95.5h1.1M453.3 95.6h1.1M474.4 102.9h1.1M483.1 102.2h1.1M483.3 102.9h1.1M493.6 98.5h1.1M461.4 91.5h1.1M477.4 102.4h1.1M488.8 94.9h1.1M483.2 93.6h1.1M472.9 90.9h1.1M458.3 100.2h1.1M505.8 99.3h1.1M481.3 97.7h1.1M450.5 89.5h1.1M466.4 91.4h1.1M494.2 101.8h1.1M466.8 97.4h1.1M489.9 95.3h1.1M473.9 102.1h1.1M464.9 97.1h1.1M471.9 94.3h1.1M452.6 96.7h1.1M483.8 97.7h1.1M477.2 92.7h1.1M465.2 90.9h1.1M453.4 91.3h1.1M489.2 94.3h1.1M476.5 91.7h1.1M465.0 99.0h1.1M490.0 103.4h1.1M481.6 102.3h1.1M460.5 100.6h1.1M456.4 91.5h1.1M471.1 99.7h1.1M464.6 101.7h1.1M474.0 92.8h1.1M475.8 96.9h1.1M481.4 97.9h1.1M484.3 101.9h1.1M480.2 92.4h1.1M461.3 96.1h1.1M482.3 94.0h1.1M461.5 89.8h1.1M487.4 99.7h1.1M475.2 101.2h1.1M496.5 101.9h1.1M487.4 95.2h1.1M474.1 100.7h1.1M467.1 91.9h1.1M487.9 101.3h1.1M466.1 98.8h1.1M503.0 99.9h1.1M452.5 97.4h1.1M469.5 91.6h1.1M453.2 97.3h1.1M465.6 93.4h1.1M479.0 102.4h1.1M466.0 97.2h1.1M487.5 100.1h1.1M476.6 99.8h1.1M489.4 99.2h1.1M468.6 94.9h1.1M460.6 94.3h1.1M457.1 88.8h1.1M486.1 98.2h1.1M476.0 101.5h1.1M455.2 92.4h1.1M495.3 101.9h1.1M478.5 100.8h1.1M467.8 95.0h1.1M469.6 101.0h1.1M473.3 102.5h1.1M478.6 93.7h1.1M488.4 99.4h1.1M486.7 101.2h1.1M460.0 91.3h1.1M460.0 97.2h1.1M493.5 95.1h1.1M469.1 93.2h1.1M481.2 98.7h1.1M466.0 94.8h1.1M472.1 93.4h1.1M451.6 94.8h1.1M463.1 94.7h1.1M490.8 100.8h1.1M500.4 98.0h1.1M472.1 94.1h1.1M470.5 93.4h1.1M461.2 92.5h1.1M477.3 95.3h1.1M453.5 89.8h1.1M451.5 95.5h1.1M487.5 102.1h1.1M473.2 97.7h1.1M495.6 96.6h1.1M489.5 99.6h1.1M467.6 98.6h1.1M462.1 89.7h1.1M469.2 96.8h1.1M472.5 92.0h1.1M491.5 102.8h1.1M491.7 99.0h1.1M457.1 95.5h1.1M472.9 97.2h1.1M459.1 98.0h1.1M486.2 93.5h1.1M489.1 95.5h1.1M452.5 89.1h1.1M494.3 95.9h1.1M470.0 94.5h1.1M498.9 96.6h1.1M474.2 95.5h1.1M483.6 95.3h1.1M491.2 94.5h1.1M466.5 89.9h1.1M461.3 90.8h1.1M470.7 102.6h1.1M479.7 92.4h1.1M477.5 95.3h1.1M459.6 90.3h1.1M459.0 90.1h1.1M471.4 92.5h1.1M461.1 95.5h1.1M485.8 103.8h1.1M453.8 98.5h1.1M473.4 96.0h1.1M490.7 99.1h1.1M472.4 101.0h1.1M461.3 91.2h1.1M497.1 101.8h1.1M459.4 97.5h1.1M454.3 89.0h1.1M489.5 96.9h1.1M474.9 95.0h1.1M476.3 94.0h1.1M466.5 103.0h1.1M454.1 97.4h1.1M460.3 93.8h1.1M452.5 90.3h1.1M474.1 97.8h1.1M474.5 93.2h1.1M496.6 101.8h1.1M484.4 100.6h1.1M491.6 102.3h1.1M459.5 99.1h1.1M488.8 99.1h1.1M456.9 97.0h1.1M496.8 97.8h1.1M465.4 89.8h1.1M495.2 98.4h1.1M457.9 93.2h1.1M476.9 102.4h1.1M469.3 96.8h1.1M481.2 99.6h1.1M500.7 100.8h1.1M476.3 101.8h1.1M465.7 93.1h1.1M490.1 99.9h1.1M463.7 102.0h1.1M468.9 93.4h1.1M452.3 93.4h1.1M457.2 92.0h1.1M479.1 97.0h1.1M458.4 89.7h1.1M454.5 96.1h1.1M463.9 93.5h1.1M485.2 97.1h1.1M467.5 95.4h1.1M465.4 101.5h1.1M473.8 99.5h1.1M467.1 100.7h1.1M483.2 100.6h1.1M499.1 100.9h1.1M456.0 92.0h1.1M471.4 102.0h1.1M472.5 90.7h1.1M471.8 94.0h1.1M466.0 97.2h1.1M457.8 97.4h1.1M486.4 99.5h1.1M492.8 97.3h1.1M476.6 94.8h1.1M482.7 101.4h1.1M476.3 95.7h1.1M490.1 100.5h1.1M468.9 97.6h1.1M497.3 97.9h1.1M469.9 98.4h1.1M482.2 102.5h1.1M469.1 94.9h1.1M494.7 101.6h1.1M453.8 92.2h1.1M483.0 103.4h1.1M476.8 102.7h1.1M473.0 100.9h1.1M452.3 91.2h1.1M460.4 100.1h1.1M460.8 95.9h1.1M480.6 96.5h1.1M478.0 95.7h1.1M453.9 97.8h1.1M470.2 99.3h1.1M464.8 102.6h1.1M476.8 101.3h1.1M480.3 92.5h1.1M475.3 92.5h1.1M480.8 93.8h1.1M482.8 101.1h1.1M486.7 94.6h1.1M479.2 100.8h1.1M453.8 94.6h1.1M454.8 97.0h1.1M451.5 95.0h1.1M457.7 93.4h1.1M471.6 100.9h1.1M462.0 91.6h1.1M474.3 97.8h1.1M462.0 92.1h1.1M453.6 92.3h1.1M472.6 97.5h1.1M467.1 96.4h1.1M491.6 100.1h1.1M503.6 99.8h1.1M487.0 98.2h1.1M472.1 102.3h1.1M461.0 93.8h1.1M457.3 96.2h1.1M502.4 98.3h1.1M453.2 91.1h1.1M496.0 99.0h1.1M474.9 91.7h1.1M468.4 98.1h1.1M480.5 98.4h1.1M463.4 99.3h1.1M466.3 93.5h1.1M452.3 92.9h1.1M485.5 96.1h1.1M462.9 96.1h1.1M477.4 96.7h1.1M487.5 103.5h1.1M467.4 100.9h1.1M484.2 94.0h1.1M490.4 103.0h1.1M457.6 93.8h1.1M483.3 93.5h1.1M457.3 93.9h1.1M475.1 95.9h1.1M475.6 94.7h1.1M479.0 99.0h1.1M464.4 95.7h1.1M498.9 100.5h1.1M478.3 101.4h1.1M494.4 95.8h1.1M474.9 96.4h1.1M500.3 98.7h1.1M466.9 96.7h1.1M486.2 93.6h1.1M480.5 103.6h1.1M462.3 94.8h1.1M475.8 99.2h1.1M481.7 101.1h1.1M499.8 101.7h1.1M470.0 90.2h1.1M467.6 94.9h1.1M473.2 93.2h1.1M478.1 96.1h1.1M458.8 91.7h1.1M480.3 102.4h1.1M464.3 102.1h1.1M471.4 95.2h1.1M478.9 102.7h1.1M454.0 95.0h1.1M467.5 95.9h1.1M481.9 99.0h1.1M467.1 102.8h1.1M505.2 100.4h1.1M485.2 100.7h1.1M453.2 97.9h1.1M476.0 93.2h1.1M489.6 94.0h1.1M465.3 95.6h1.1M458.0 89.9h1.1M457.7 99.2h1.1M499.8 97.8h1.1M502.8 100.6h1.1M496.8 96.6h1.1M463.3 95.6h1.1M472.3 98.0h1.1M458.2 91.2h1.1M459.4 96.7h1.1M475.9 101.2h1.1M487.3 94.8h1.1M485.2 94.0h1.1M464.1 94.7h1.1M507.6 100.0h1.1M479.2 92.5h1.1M464.5 93.5h1.1M492.1 98.1h1.1M478.9 94.1h1.1M471.8 99.0h1.1M467.0 96.6h1.1M465.2 97.7h1.1M486.2 97.2h1.1M451.8 90.5h1.1M457.9 90.6h1.1M493.5 94.8h1.1M488.3 102.0h1.1M476.1 102.0h1.1M460.7 93.2h1.1M458.6 93.6h1.1M465.5 101.8h1.1M451.9 89.1h1.1M482.2 100.7h1.1M467.2 101.9h1.1M466.3 101.8h1.1M478.8 102.4h1.1M458.3 95.4h1.1M462.1 95.5h1.1M457.7 89.2h1.1M473.5 93.1h1.1M475.5 98.2h1.1M459.7 95.6h1.1M461.3 94.4h1.1M452.4 94.8h1.1M471.2 94.0h1.1M476.9 98.9h1.1M504.2 98.7h1.1M485.5 95.7h1.1M480.1 94.8h1.1M487.2 102.1h1.1M486.6 98.5h1.1M478.0 94.2h1.1M467.7 91.4h1.1M474.8 94.0h1.1M463.3 94.2h1.1M452.9 97.0h1.1M469.9 100.7h1.1M469.2 93.3h1.1M479.7 98.0h1.1M457.4 89.0h1.1M483.8 97.0h1.1M489.9 96.1h1.1M455.2 93.8h1.1M471.3 101.7h1.1M484.9 96.8h1.1M487.4 94.9h1.1M463.3 102.1h1.1" stroke="#440154" stroke-width="1.1" fill="none"/>
<path d="M505.2 82.7h1.1M473.8 67.2h1.1M478.9 68.8h1.1M481.0 75.8h1.1M504.6 75.1h1.1M489.9 61.6h1.1M506.8 74.9h1.1M499.3 69.9h1.1M471.0 65.1h1.1M487.7 67.9h1.1M490.5 70.4h1.1M509.0 73.1h1.1M514.9 74.1h1.1M486.2 71.2h1.1M504.1 63.8h1.1M506.4 77.2h1.1M497.9 69.6h1.1M479.1 69.8h1.1M474.9 69.4h1.1M481.7 73.7h1.1M514.1 76.1h1.1M476.1 70.6h1.1M511.5 72.2h1.1M515.8 72.5h1.1M492.9 60.9h1.1M507.2 64.4h1.1M492.7 73.0h1.1M483.6 74.2h1.1M516.0 75.7h1.1M472.2 66.7h1.1M481.4 72.8h1.1M511.0 70.6h1.1M495.9 71.3h1.1M488.0 72.6h1.1M499.3 67.9h1.1M481.4 69.3h1.1M497.5 78.4h1.1M502.0 75.6h1.1M481.5 70.4h1.1M515.9 76.6h1.1M495.3 67.9h1.1M497.1 79.3h1.1M494.9 74.7h1.1M473.9 65.5h1.1M484.1 72.7h1.1M486.4 62.8h1.1M484.6 77.1h1.1M488.6 71.2h1.1M496.3 75.0h1.1M500.9 77.2h1.1M514.5 76.1h1.1M492.2 73.3h1.1M473.5 66.0h1.1M507.9 79.6h1.1M503.6 65.9h1.1M516.2 73.9h1.1M512.1 80.7h1.1M503.2 72.7h1.1M503.0 63.1h1.1M507.5 83.3h1.1M500.6 76.1h1.1M507.2 76.6h1.1M509.6 65.9h1.1M497.7 62.6h1.1M482.3 69.3h1.1M494.6 79.5h1.1M517.1 78.9h1.1M485.9 68.1h1.1M489.1 74.1h1.1M491.0 76.5h1.1" stroke="#440154" stroke-width="1.1" fill="none"/>
<path d="M454.3 67.7h1.1M471.2 58.2h1.1M475.6 57.0h1.1M458.7 58.5h1.1M452.0 65.7h1.1M450.1 73.6h1.1M452.3 74.6h1.1M473.2 54.4h1.1M475.2 54.6h1.1M458.1 63.6h1.1M461.2 57.5h1.1M451.4 73.6h1.1M476.0 55.2h1.1M471.5 56.1h1.1M464.8 58.0h1.1M477.5 55.4h1.1M461.2 60.1h1.1M474.4 55.6h1.1M455.8 59.4h1.1M464.8 54.7h1.1M450.0 66.8h1.1M449.6 74.7h1.1M473.0 57.4h1.1M471.7 56.3h1.1M457.6 59.9h1.1M455.8 59.7h1.1M465.8 55.2h1.1M457.7 64.7h1.1M477.9 54.5h1.1M468.0 59.1h1.1M455.3 63.4h1.1M450.7 72.8h1.1M450.2 74.6h1.1M462.6 61.8h1.1M467.4 56.3h1.1M461.3 57.6h1.1M453.3 62.9h1.1M455.7 64.4h1.1M452.0 64.0h1.1M462.7 57.7h1.1M452.2 71.4h1.1M449.5 69.4h1.1M479.2 56.5h1.1M461.0 58.2h1.1M456.2 66.6h1.1M469.4 58.7h1.1M450.8 73.9h1.1M468.6 57.4h1.1M460.3 61.9h1.1M448.6 74.3h1.1M464.9 60.9h1.1M472.4 55.6h1.1M466.6 57.1h1.1M464.3 57.5h1.1M451.3 67.1h1.1M466.8 53.9h1.1M457.5 57.4h1.1M464.3 58.8h1.1M475.0 55.8h1.1M456.3 63.5h1.1M473.3 54.7h1.1M462.3 61.3h1.1M453.6 68.8h1.1M454.8 64.0h1.1M461.8 60.7h1.1M463.8 58.2h1.1M478.0 54.9h1.1M461.0 59.4h1.1M454.7 63.4h1.1M451.1 68.7h1.1M471.9 56.1h1.1M450.0 73.6h1.1M467.0 58.6h1.1M473.4 56.7h1.1M459.1 62.6h1.1M456.1 63.8h1.1M470.3 58.8h1.1M453.2 65.2h1.1M469.6 58.2h1.1M474.1 54.1h1.1M462.0 60.0h1.1M450.1 70.0h1.1M471.2 54.8h1.1M453.5 62.2h1.1M465.8 60.3h1.1M459.3 62.4h1.1M464.8 54.6h1.1M456.1 65.5h1.1M465.1 60.3h1.1M453.0 65.6h1.1M464.4 54.6h1.1M463.9 55.0h1.1M457.7 58.5h1.1M448.9 72.8h1.1M461.8 59.3h1.1M477.8 55.3h1.1M465.5 56.1h1.1M463.6 54.7h1.1M453.3 65.2h1.1M470.9 56.6h1.1M454.5 61.8h1.1M467.4 55.7h1.1M449.1 73.5h1.1M467.8 55.6h1.1M455.0 67.5h1.1M467.8 57.0h1.1M465.1 54.8h1.1M469.3 55.8h1.1M476.6 55.4h1.1M471.1 56.9h1.1M469.6 58.0h1.1M457.3 66.1h1.1M474.0 58.2h1.1M450.9 68.3h1.1M477.9 57.3h1.1M458.0 58.0h1.1M458.0 58.5h1.1M455.3 66.5h1.1M478.3 55.1h1.1M451.2 74.3h1.1M468.8 54.1h1.1M458.0 62.8h1.1M466.5 55.2h1.1M450.5 70.6h1.1M460.3 59.7h1.1M455.0 64.8h1.1M450.7 73.7h1.1M454.3 62.8h1.1M464.0 56.5h1.1M462.9 60.1h1.1M452.5 72.4h1.1M452.7 67.2h1.1M457.7 60.1h1.1M454.1 63.0h1.1M463.6 58.4h1.1M450.4 68.1h1.1M458.8 58.7h1.1M474.0 54.7h1.1M463.0 56.6h1.1M459.1 56.8h1.1M453.2 64.3h1.1M474.1 53.9h1.1M459.8 60.1h1.1M452.6 70.6h1.1M451.9 74.7h1.1M476.3 55.4h1.1M448.8 72.4h1.1M475.2 53.7h1.1M452.3 67.4h1.1M472.1 57.7h1.1M451.8 70.5h1.1M448.8 72.0h1.1M471.0 54.0h1.1M458.3 60.4h1.1M469.4 54.1h1.1M449.2 72.8h1.1M453.9 63.8h1.1M453.1 64.3h1.1M467.2 59.5h1.1M464.0 58.5h1.1" stroke="#5ec962" stroke-width="1.1" fill="none"/>
<path d="M580.4 80.0h1.1M583.5 82.0h1.1M557.6 74.3h1.1M599.4 85.3h1.1M572.0 95.5h1.1M571.2 99.9h1.1M582.7 100.0h1.1M590.4 98.4h1.1M602.9 96.2h1.1M573.6 100.1h1.1M603.3 80.4h1.1M605.5 82.5h1.1M570.3 89.6h1.1M606.3 95.4h1.1M583.2 78.2h1.1M577.6 80.3h1.1M580.2 84.6h1.1M562.1 87.7h1.1M593.0 79.8h1.1M605.3 96.8h1.1M575.0 93.8h1.1M593.5 94.6h1.1M604.1 88.2h1.1M583.2 102.6h1.1M592.0 83.9h1.1M581.0 85.1h1.1M561.9 80.7h1.1M568.1 92.2h1.1M577.1 87.7h1.1M573.9 91.9h1.1M604.2 81.0h1.1M569.4 92.1h1.1M563.9 93.1h1.1M560.1 80.7h1.1M602.7 91.2h1.1M581.4 72.9h1.1M606.3 88.1h1.1M570.0 98.6h1.1M601.6 92.0h1.1M583.1 94.4h1.1M564.8 75.4h1.1M597.9 83.1h1.1M569.3 95.3h1.1M559.9 89.9h1.1M580.9 81.7h1.1M578.8 101.8h1.1M606.3 86.0h1.1M576.7 88.7h1.1M574.7 93.7h1.1M572.1 98.2h1.1M558.5 70.2h1.1M586.5 98.4h1.1M583.7 74.6h1.1M597.2 96.6h1.1M585.3 84.0h1.1M565.2 89.9h1.1M597.4 100.7h1.1M603.3 75.3h1.1M600.8 88.5h1.1M574.4 87.9h1.1M584.2 78.3h1.1M616.5 91.2h1.1M578.9 76.1h1.1M606.2 99.3h1.1M595.5 76.2h1.1M572.7 97.1h1.1M568.3 75.0h1.1M606.4 98.6h1.1M571.7 74.8h1.1M597.7 101.7h1.1M562.0 73.1h1.1M590.8 74.5h1.1M613.4 92.8h1.1M573.4 75.7h1.1M589.1 83.8h1.1M575.9 79.1h1.1M603.1 92.8h1.1M593.1 73.7h1.1M595.1 87.6h1.1M606.1 79.9h1.1M576.1 97.9h1.1M604.0 95.8h1.1M584.2 77.3h1.1M576.0 89.3h1.1M610.5 80.7h1.1M606.5 98.7h1.1M599.2 73.9h1.1M595.3 88.8h1.1M571.4 73.3h1.1M606.5 91.7h1.1M566.6 82.3h1.1M597.0 77.0h1.1M573.8 100.2h1.1M591.5 87.8h1.1M589.8 74.2h1.1M558.5 86.3h1.1M570.4 99.9h1.1M586.3 80.3h1.1M613.4 91.3h1.1M606.0 95.2h1.1M599.5 96.8h1.1M579.2 86.7h1.1M574.4 98.2h1.1M582.0 81.5h1.1M567.2 89.2h1.1M581.3 84.1h1.1M571.6 90.6h1.1M559.4 75.8h1.1M606.3 93.6h1.1M591.2 76.6h1.1M557.4 71.7h1.1M579.1 91.7h1.1M583.5 97.7h1.1M582.9 99.0h1.1M569.7 71.8h1.1M593.6 84.7h1.1M568.0 72.6h1.1M581.2 95.8h1.1M591.5 92.1h1.1M568.5 89.3h1.1M559.9 71.2h1.1M590.0 78.5h1.1M580.5 95.6h1.1M594.2 84.4h1.1M596.4 86.5h1.1M600.3 78.5h1.1M584.5 92.5h1.1M581.4 102.9h1.1M562.3 80.8h1.1M593.8 90.7h1.1M585.9 78.9h1.1M579.6 83.2h1.1M597.4 75.8h1.1M569.5 71.6h1.1M568.0 76.3h1.1M568.1 81.5h1.1M589.9 100.6h1.1M568.5 77.4h1.1M590.2 95.9h1.1M587.7 76.4h1.1M595.4 94.5h1.1M597.6 73.8h1.1M561.3 78.5h1.1M600.4 85.3h1.1M570.6 69.2h1.1M578.6 77.7h1.1M563.9 75.2h1.1M578.1 72.0h1.1M592.3 82.2h1.1M561.2 93.2h1.1M583.1 81.6h1.1M610.0 78.3h1.1M578.2 88.1h1.1M596.2 98.2h1.1M574.2 92.9h1.1M598.5 100.7h1.1M584.5 82.0h1.1M590.2 103.0h1.1M595.8 97.0h1.1M596.1 74.9h1.1M591.8 103.1h1.1M582.0 77.2h1.1M578.7 82.1h1.1M560.7 70.9h1.1M607.8 95.5h1.1M577.8 102.3h1.1M586.4 94.9h1.1M589.3 77.8h1.1M578.5 87.4h1.1M575.8 79.7h1.1M565.7 73.7h1.1M576.1 84.0h1.1M562.2 70.2h1.1M601.2 80.2h1.1M572.3 88.2h1.1M557.7 75.6h1.1M586.7 103.0h1.1M582.3 94.3h1.1M593.8 96.6h1.1M613.0 88.4h1.1M589.2 90.4h1.1M609.5 97.7h1.1M580.9 101.2h1.1M595.6 101.5h1.1M598.7 91.4h1.1M602.4 84.6h1.1M600.4 101.7h1.1M567.7 89.5h1.1M594.2 91.3h1.1M606.0 80.6h1.1M560.8 78.4h1.1M613.8 95.1h1.1M615.3 88.7h1.1M591.4 94.8h1.1M579.1 73.0h1.1M566.1 87.2h1.1M574.3 81.5h1.1M610.8 96.5h1.1M560.8 87.8h1.1M587.9 76.2h1.1M569.7 72.4h1.1M604.1 100.8h1.1M583.1 98.9h1.1M576.9 69.4h1.1M608.5 81.5h1.1M578.7 82.0h1.1M562.8 86.9h1.1M587.5 102.4h1.1M586.6 73.5h1.1M577.0 96.0h1.1M581.7 86.4h1.1M572.9 100.2h1.1M590.7 94.3h1.1M573.9 88.2h1.1M557.9 88.4h1.1M586.8 76.7h1.1M567.4 91.2h1.1M598.9 99.3h1.1M588.7 79.4h1.1M593.7 86.3h1.1M601.9 79.6h1.1M577.0 75.6h1.1M567.2 85.3h1.1M598.7 83.9h1.1M587.0 79.6h1.1M578.7 101.0h1.1M594.0 87.9h1.1M561.2 86.1h1.1M605.5 76.8h1.1M577.7 91.0h1.1M593.9 100.3h1.1M573.5 82.8h1.1M579.8 96.6h1.1M590.5 70.5h1.1M573.7 68.9h1.1M564.8 91.9h1.1M600.1 84.5h1.1M585.3 77.1h1.1M610.2 94.2h1.1M577.7 72.1h1.1M585.0 69.6h1.1M564.5 84.9h1.1M561.7 76.2h1.1M562.1 82.8h1.1M566.3 85.3h1.1M605.2 87.5h1.1M601.7 98.2h1.1M580.1 103.0h1.1M588.2 98.5h1.1M560.6 88.9h1.1M599.9 101.7h1.1M600.9 79.7h1.1M585.2 90.1h1.1M565.0 79.1h1.1M571.3 70.2h1.1M582.1 73.9h1.1M579.2 74.8h1.1M565.6 72.5h1.1M577.0 84.3h1.1M562.4 89.9h1.1M565.1 92.8h1.1M570.8 89.0h1.1M599.4 74.1h1.1M610.5 90.8h1.1M576.6 81.6h1.1M608.2 86.9h1.1M576.7 102.5h1.1M609.9 89.6h1.1M588.0 76.2h1.1M579.6 85.8h1.1M583.9 85.2h1.1M598.3 101.0h1.1M599.2 96.8h1.1M565.0 87.0h1.1M579.1 71.6h1.1M574.7 99.2h1.1M562.4 87.2h1.1M566.4 82.9h1.1M563.6 89.1h1.1M574.6 78.1h1.1M570.1 76.3h1.1M603.2 98.8h1.1M570.3 71.2h1.1M591.4 78.2h1.1M564.7 94.7h1.1M594.9 80.9h1.1M612.9 86.2h1.1M594.3 87.1h1.1M567.6 86.7h1.1M599.3 97.9h1.1M565.9 96.9h1.1M575.9 100.5h1.1M588.7 86.6h1.1M578.3 68.3h1.1M582.8 90.2h1.1M568.1 76.3h1.1M591.4 88.6h1.1M594.7 72.2h1.1M605.3 83.3h1.1M583.2 90.3h1.1M594.4 91.3h1.1M557.6 70.4h1.1M589.4 79.5h1.1M567.7 86.6h1.1M581.0 98.5h1.1M600.6 96.3h1.1M568.6 91.1h1.1M579.0 97.9h1.1M587.3 79.2h1.1M608.6 98.4h1.1M573.5 86.4h1.1M580.7 79.8h1.1M570.3 93.2h1.1M587.8 83.9h1.1M571.3 79.8h1.1M587.8 100.0h1.1M610.3 94.6h1.1M590.1 91.8h1.1M593.3 101.7h1.1M605.1 97.9h1.1M603.7 87.8h1.1M583.4 83.6h1.1M564.4 82.2h1.1M584.5 97.4h1.1M569.6 72.7h1.1M605.4 96.2h1.1M573.3 75.9h1.1M575.8 94.9h1.1M611.6 81.4h1.1M576.9 94.6h1.1M579.6 99.8h1.1M596.9 91.3h1.1M592.1 81.0h1.1M594.9 100.0h1.1M569.3 93.6h1.1M599.0 86.8h1.1M579.9 81.3h1.1M574.7 101.3h1.1M565.2 72.2h1.1M598.7 97.3h1.1M560.5 78.4h1.1M598.0 84.7h1.1M585.8 97.5h1.1M598.7 97.1h1.1M607.3 83.6h1.1M583.2 92.3h1.1M559.4 84.9h1.1M613.4 88.1h1.1M607.6 79.3h1.1M590.9 96.5h1.1M575.0 81.6h1.1M566.4 82.9h1.1M576.5 92.6h1.1M581.6 91.1h1.1M569.3 95.1h1.1M587.6 101.9h1.1M560.6 71.8h1.1M575.1 82.9h1.1M575.0 68.0h1.1M580.5 78.7h1.1M582.3 89.2h1.1M586.8 102.2h1.1M568.6 97.5h1.1M590.1 93.5h1.1M597.4 95.8h1.1M585.3 73.3h1.1M575.1 97.9h1.1M576.4 84.3h1.1M594.8 94.0h1.1M576.2 90.3h1.1M580.3 86.1h1.1M584.4 85.6h1.1M582.0 75.3h1.1M575.9 72.6h1.1M608.8 96.7h1.1M584.1 92.3h1.1M570.0 96.8h1.1M581.6 79.1h1.1M564.5 70.8h1.1M591.9 74.2h1.1M588.5 101.4h1.1M560.8 90.6h1.1M563.5 89.0h1.1M585.5 86.0h1.1M600.9 80.1h1.1M578.7 79.5h1.1M563.2 73.9h1.1M571.7 82.6h1.1M600.2 98.6h1.1M611.5 95.8h1.1M613.0 89.3h1.1M577.8 82.4h1.1M597.3 89.5h1.1M578.2 96.1h1.1M597.5 82.4h1.1M587.8 74.1h1.1M599.7 95.6h1.1M572.7 78.4h1.1M582.1 95.2h1.1M595.5 81.6h1.1M563.8 90.4h1.1M572.3 75.8h1.1M609.0 87.5h1.1M601.5 80.0h1.1M567.4 79.4h1.1M573.6 72.9h1.1M586.9 79.2h1.1M564.1 87.9h1.1M578.3 94.6h1.1M565.8 83.2h1.1M589.3 89.1h1.1M576.0 78.4h1.1M605.7 92.3h1.1M590.8 86.8h1.1M562.1 85.5h1.1M604.1 87.9h1.1M579.3 97.2h1.1M558.6 79.9h1.1M587.8 94.6h1.1M589.2 99.4h1.1M597.3 76.5h1.1M558.4 88.5h1.1M584.7 79.9h1.1M599.3 81.2h1.1M558.2 80.7h1.1M596.0 102.6h1.1M574.9 98.4h1.1M578.6 73.7h1.1M594.7 100.0h1.1M579.8 81.2h1.1M603.8 99.4h1.1M608.7 95.2h1.1M612.5 95.4h1.1M557.4 73.9h1.1M577.6 75.8h1.1M590.0 75.8h1.1M563.4 68.9h1.1M568.5 76.6h1.1M609.2 78.4h1.1M586.9 89.2h1.1M573.5 84.3h1.1M577.3 75.3h1.1M603.4 88.0h1.1M578.4 90.7h1.1M564.4 89.0h1.1M589.6 76.0h1.1M577.3 79.0h1.1M567.7 79.4h1.1M603.7 87.8h1.1M568.7 74.9h1.1M567.5 90.5h1.1M564.2 75.5h1.1M580.8 96.3h1.1M611.3 82.3h1.1M571.9 80.9h1.1M593.6 92.5h1.1M601.9 75.5h1.1M563.5 73.9h1.1M566.0 88.8h1.1M603.9 87.5h1.1M572.6 101.2h1.1M592.7 73.6h1.1M568.3 99.3h1.1M566.3 83.6h1.1M584.2 80.2h1.1M591.0 72.3h1.1M609.3 80.8h1.1M584.9 76.2h1.1M588.2 77.4h1.1M579.8 82.9h1.1M607.4 85.4h1.1M600.0 75.0h1.1M602.9 87.9h1.1M580.6 88.6h1.1M599.8 101.2h1.1M566.5 86.2h1.1M617.4 89.3h1.1M584.5 85.5h1.1M591.4 81.5h1.1M574.1 68.1h1.1M575.6 76.2h1.1M561.7 82.1h1.1M561.4 80.0h1.1M608.0 87.6h1.1M588.2 70.7h1.1M600.2 84.9h1.1M591.5 90.7h1.1M588.3 70.2h1.1M583.5 99.5h1.1M597.0 88.8h1.1M611.5 90.9h1.1M572.3 91.7h1.1M571.6 74.8h1.1M568.9 84.3h1.1M595.5 77.1h1.1M563.8 69.0h1.1M597.8 93.3h1.1M586.1 81.0h1.1M604.5 100.2h1.1M582.7 90.8h1.1M590.5 92.8h1.1M605.2 88.2h1.1M589.7 103.4h1.1M595.1 89.5h1.1M573.3 95.8h1.1M599.7 101.8h1.1M585.4 86.3h1.1M593.3 95.2h1.1M575.1 71.0h1.1M568.9 91.0h1.1M581.3 80.0h1.1M596.7 76.5h1.1M573.5 91.5h1.1M563.8 90.2h1.1M604.1 99.4h1.1M581.3 90.7h1.1M583.4 89.8h1.1M580.8 82.3h1.1M605.7 77.1h1.1M571.0 79.1h1.1M567.8 94.0h1.1M578.4 69.7h1.1M581.5 97.0h1.1M581.8 86.5h1.1M600.1 75.4h1.1M572.6 85.0h1.1M587.7 72.0h1.1M584.8 69.4h1.1M588.8 92.2h1.1M568.2 78.9h1.1M578.3 82.2h1.1M604.9 91.1h1.1M557.8 82.0h1.1M591.3 84.1h1.1M576.3 82.9h1.1M610.0 79.1h1.1M584.2 94.8h1.1M583.1 101.9h1.1M579.7 97.7h1.1M576.6 75.6h1.1M588.4 102.5h1.1M595.5 86.5h1.1M572.4 79.6h1.1M559.1 92.7h1.1M562.8 86.8h1.1M607.5 87.7h1.1M587.5 103.2h1.1M596.4 92.2h1.1M559.4 76.5h1.1M569.8 76.2h1.1M596.2 75.0h1.1M587.0 70.0h1.1M613.4 85.5h1.1M576.4 86.9h1.1M596.1 76.1h1.1M614.0 91.2h1.1M571.2 83.7h1.1M580.7 94.4h1.1M563.0 75.3h1.1M592.1 96.7h1.1M615.1 90.0h1.1M580.8 90.5h1.1M567.9 83.7h1.1M594.6 93.1h1.1M570.8 72.7h1.1M584.8 96.5h1.1M599.5 86.7h1.1M561.7 82.0h1.1M597.7 73.1h1.1M584.0 82.5h1.1M574.1 82.6h1.1M589.4 100.5h1.1M608.1 85.5h1.1M613.0 89.7h1.1M598.7 89.6h1.1M613.9 86.5h1.1M580.3 95.8h1.1M587.1 79.9h1.1M608.5 92.0h1.1M560.7 86.7h1.1M592.6 81.1h1.1M584.3 97.7h1.1M584.8 83.4h1.1M610.8 91.9h1.1M598.9 95.8h1.1M568.3 91.6h1.1M559.1 73.4h1.1M603.0 97.5h1.1M587.7 71.0h1.1M561.9 90.7h1.1M602.0 78.6h1.1M584.3 79.8h1.1M573.8 85.8h1.1M561.3 79.8h1.1M578.0 92.7h1.1M560.0 75.5h1.1M608.7 78.2h1.1M559.0 91.4h1.1M557.4 75.1h1.1M571.7 73.8h1.1M576.5 93.7h1.1M578.4 96.6h1.1M583.6 80.7h1.1M583.7 88.7h1.1M572.3 94.8h1.1M564.0 85.4h1.1M559.8 79.0h1.1M570.3 76.3h1.1M562.5 75.3h1.1M599.2 76.3h1.1M577.0 98.4h1.1M613.2 84.8h1.1M562.8 85.4h1.1M598.0 94.8h1.1M585.7 88.3h1.1M590.9 89.1h1.1M583.7 97.5h1.1M578.8 75.9h1.1M572.2 78.4h1.1M585.6 78.8h1.1M583.1 89.1h1.1M578.4 80.0h1.1M598.1 92.4h1.1M599.8 94.7h1.1M581.0 75.6h1.1M592.3 71.1h1.1M599.8 99.3h1.1M600.4 80.0h1.1M581.9 69.9h1.1M583.3 90.4h1.1M564.8 71.1h1.1M599.0 95.0h1.1M596.2 85.0h1.1M580.2 84.3h1.1M571.7 71.8h1.1M590.0 92.4h1.1M579.5 93.4h1.1M597.7 94.6h1.1M580.5 102.9h1.1M576.2 70.8h1.1M588.4 90.6h1.1M568.8 99.1h1.1M592.8 76.7h1.1M577.6 90.1h1.1M572.8 83.1h1.1M611.4 87.3h1.1M582.8 87.2h1.1M580.7 75.9h1.1M569.1 71.6h1.1M590.6 89.4h1.1" stroke="#440154" stroke-width="1.1" fill="none"/>
<path d="M595.6 63.9h1.1M620.9 74.7h1.1M595.5 71.7h1.1M602.7 65.7h1.1M603.9 69.0h1.1M601.1 65.4h1.1M594.9 67.7h1.1M611.7 65.7h1.1M613.0 79.0h1.1M608.4 77.7h1.1M596.0 61.8h1.1M609.1 75.9h1.1M597.7 71.7h1.1M606.7 63.7h1.1M604.5 66.5h1.1M613.1 73.1h1.1M604.5 66.2h1.1M613.5 62.9h1.1M601.1 70.6h1.1M613.0 75.4h1.1M614.1 74.6h1.1M594.7 64.5h1.1M592.5 61.7h1.1M595.0 64.8h1.1M607.6 62.8h1.1M592.9 61.0h1.1M602.5 72.5h1.1M617.2 71.1h1.1M623.6 74.0h1.1M602.2 63.8h1.1M616.3 62.2h1.1M603.6 68.0h1.1M601.3 72.2h1.1M603.5 62.1h1.1M602.5 61.6h1.1M609.2 62.0h1.1M599.2 69.1h1.1M592.2 63.6h1.1M603.9 66.6h1.1M609.4 69.3h1.1M612.4 63.6h1.1M609.7 61.7h1.1M607.3 61.5h1.1M595.8 63.0h1.1M609.6 64.9h1.1M609.6 78.4h1.1M610.9 73.8h1.1M621.5 74.7h1.1M613.1 68.6h1.1M619.2 76.6h1.1" stroke="#440154" stroke-width="1.1" fill="none"/>
<path d="M601.9 74.0h1.1M625.2 69.0h1.1M601.3 54.8h1.1M616.0 59.6h1.1M594.7 53.9h1.1M622.7 76.2h1.1M594.2 59.2h1.1M600.9 68.5h1.1M588.5 55.6h1.1M617.7 79.8h1.1M614.0 61.9h1.1M615.5 59.6h1.1M615.1 71.4h1.1M599.4 54.8h1.1M620.3 77.4h1.1M608.9 62.3h1.1M610.5 60.4h1.1M625.7 74.3h1.1M594.9 52.2h1.1M593.7 66.6h1.1M613.5 74.8h1.1M613.1 65.9h1.1M596.4 57.6h1.1M615.9 70.1h1.1M605.9 75.0h1.1M598.4 71.1h1.1M617.6 79.4h1.1M610.3 73.1h1.1M598.7 51.3h1.1M627.0 73.7h1.1M604.0 71.3h1.1M617.8 79.3h1.1M597.3 71.2h1.1M617.3 72.3h1.1M625.0 73.8h1.1M616.8 62.2h1.1M601.0 70.5h1.1M603.3 72.1h1.1M591.3 66.5h1.1M614.1 75.7h1.1M616.4 59.3h1.1M591.3 57.8h1.1M626.2 75.8h1.1M595.0 66.1h1.1M598.2 57.1h1.1M613.1 67.8h1.1M613.4 61.7h1.1M618.6 77.9h1.1M589.5 55.6h1.1M594.8 68.7h1.1M624.8 77.7h1.1M624.6 73.7h1.1M613.0 69.8h1.1M612.0 64.0h1.1M613.8 59.0h1.1M606.7 52.8h1.1M591.2 63.9h1.1M615.6 60.9h1.1M618.1 78.3h1.1M617.3 76.6h1.1M622.0 78.2h1.1M603.2 60.9h1.1M614.9 58.7h1.1M620.8 70.2h1.1M627.8 74.2h1.1M601.1 57.5h1.1M622.2 65.3h1.1M618.7 58.7h1.1M619.7 78.9h1.1M607.1 63.9h1.1M587.3 60.0h1.1M619.6 63.5h1.1M608.2 63.7h1.1M629.0 70.6h1.1M610.9 64.2h1.1M603.1 64.1h1.1M606.0 64.7h1.1M617.6 76.1h1.1M614.8 56.7h1.1M608.8 77.3h1.1M595.1 51.4h1.1M618.2 68.1h1.1M628.5 68.7h1.1M611.1 76.3h1.1M592.2 57.8h1.1M608.4 56.8h1.1M621.0 65.3h1.1M604.6 63.5h1.1M614.2 63.2h1.1M610.3 55.9h1.1M601.0 70.0h1.1M608.3 56.6h1.1M616.6 55.8h1.1M613.7 78.4h1.1M602.1 67.5h1.1M603.2 66.8h1.1M623.9 66.0h1.1M605.2 75.8h1.1M595.5 66.9h1.1M592.8 56.4h1.1M618.2 62.8h1.1M615.0 64.3h1.1M591.2 66.0h1.1M610.8 55.7h1.1M605.1 71.9h1.1M622.0 62.1h1.1M590.3 58.7h1.1M610.5 58.2h1.1M603.6 67.4h1.1M596.1 70.3h1.1M627.0 67.6h1.1M625.3 63.7h1.1M614.2 73.3h1.1M604.9 59.1h1.1M611.0 79.1h1.1M602.3 63.5h1.1M592.5 64.4h1.1M626.1 66.9h1.1M598.3 60.2h1.1M600.0 53.3h1.1M600.0 61.8h1.1M590.1 61.4h1.1M597.8 61.1h1.1M596.2 57.3h1.1M598.1 61.7h1.1M615.8 55.9h1.1M591.8 53.5h1.1M625.6 70.5h1.1M610.2 54.0h1.1M602.1 61.6h1.1M592.3 64.7h1.1M590.3 59.3h1.1M627.1 65.5h1.1M590.1 56.5h1.1M616.6 58.2h1.1M588.6 58.0h1.1M608.0 54.3h1.1M600.1 53.0h1.1M612.7 73.2h1.1M596.8 61.9h1.1M594.6 60.4h1.1M621.2 76.8h1.1M611.1 58.2h1.1M586.4 60.0h1.1M627.0 70.9h1.1M612.2 54.5h1.1M628.2 69.7h1.1M612.9 72.8h1.1M612.6 60.2h1.1M624.2 74.7h1.1M590.9 64.5h1.1M612.3 74.6h1.1M598.8 53.9h1.1M600.6 55.1h1.1M602.5 62.3h1.1M596.8 63.4h1.1M595.4 62.0h1.1M609.2 59.4h1.1M599.4 58.5h1.1M591.1 54.5h1.1M602.0 69.1h1.1M618.5 70.5h1.1M615.1 75.9h1.1M604.8 75.6h1.1M598.9 52.4h1.1M602.2 59.5h1.1M594.3 51.6h1.1M599.3 58.6h1.1M606.2 55.3h1.1M600.9 69.3h1.1M623.0 77.5h1.1M592.0 62.8h1.1M596.9 66.5h1.1M603.3 76.0h1.1M620.8 66.1h1.1M596.7 71.7h1.1M602.9 69.1h1.1M601.2 61.2h1.1M624.2 61.9h1.1M595.1 62.6h1.1M621.5 72.5h1.1M620.0 66.7h1.1M605.9 76.5h1.1M589.0 59.7h1.1M618.0 77.7h1.1M614.2 69.7h1.1M592.7 68.0h1.1M616.1 79.7h1.1M611.4 60.8h1.1M624.8 71.4h1.1M596.6 69.7h1.1M588.8 54.8h1.1M601.4 57.0h1.1M613.9 66.3h1.1M612.8 76.7h1.1M593.7 69.1h1.1M622.3 61.8h1.1M601.7 58.3h1.1M600.1 69.5h1.1M617.5 61.0h1.1M612.9 58.8h1.1M623.3 79.8h1.1M616.3 68.9h1.1M611.5 58.4h1.1M594.4 66.3h1.1M612.9 61.6h1.1M617.3 57.6h1.1M590.2 67.0h1.1M615.6 73.4h1.1M619.3 65.5h1.1M608.8 62.7h1.1M600.7 59.4h1.1M621.2 70.5h1.1M610.7 59.3h1.1M620.0 81.4h1.1M616.5 57.9h1.1M608.3 59.9h1.1M628.8 72.4h1.1M607.0 75.6h1.1M627.9 72.7h1.1M606.2 60.6h1.1M600.5 74.1h1.1M620.5 74.5h1.1M617.4 73.6h1.1M592.1 53.2h1.1M613.8 56.6h1.1M607.3 61.2h1.1M619.4 81.1h1.1M608.1 75.2h1.1M609.7 52.2h1.1M601.1 73.6h1.1M609.0 63.7h1.1M611.2 78.2h1.1M602.1 69.9h1.1M611.5 70.8h1.1M622.9 62.9h1.1M606.2 57.7h1.1M629.0 72.6h1.1M618.4 71.1h1.1M614.6 67.1h1.1M612.2 56.1h1.1M611.1 73.2h1.1M608.8 77.9h1.1M621.2 62.4h1.1M596.5 69.9h1.1M625.9 68.2h1.1M619.1 79.8h1.1M625.0 69.1h1.1M625.0 72.5h1.1M606.9 53.5h1.1M620.0 69.1h1.1M615.1 76.4h1.1M597.1 72.0h1.1M599.2 68.7h1.1M623.6 70.0h1.1M613.2 72.4h1.1M599.5 71.7h1.1M603.0 61.4h1.1M621.5 59.5h1.1M590.3 65.2h1.1M604.1 58.6h1.1M618.6 61.9h1.1M600.6 61.7h1.1M609.9 67.0h1.1M596.7 64.8h1.1M619.8 75.6h1.1M599.3 65.3h1.1M610.9 80.4h1.1M626.8 71.9h1.1M597.5 60.3h1.1M614.0 64.2h1.1M594.9 52.2h1.1M613.8 61.8h1.1M622.9 67.0h1.1M605.7 52.4h1.1M615.3 74.8h1.1M595.3 58.5h1.1M620.8 58.3h1.1M620.6 59.8h1.1M595.5 71.0h1.1M621.8 74.0h1.1M622.6 68.7h1.1M594.6 57.7h1.1M615.2 56.3h1.1M603.7 71.1h1.1M590.2 65.4h1.1M603.6 53.8h1.1M619.8 60.1h1.1M617.3 76.6h1.1M616.6 64.8h1.1M602.6 73.6h1.1M613.0 57.3h1.1M613.9 68.9h1.1M590.4 66.3h1.1M620.0 68.7h1.1M589.7 59.5h1.1M623.6 74.3h1.1M608.1 78.2h1.1M608.5 57.5h1.1M590.8 66.6h1.1M619.9 59.8h1.1M614.0 63.4h1.1M587.4 56.9h1.1M626.2 68.2h1.1M615.6 59.7h1.1M601.5 52.7h1.1M607.5 67.7h1.1M623.4 70.4h1.1M602.8 65.7h1.1M612.1 64.9h1.1M596.6 67.6h1.1M626.6 72.2h1.1M619.7 80.6h1.1M618.5 75.6h1.1M621.5 81.8h1.1M604.6 55.8h1.1M612.9 76.5h1.1M604.4 63.3h1.1M620.5 64.2h1.1M605.3 69.7h1.1M620.6 62.9h1.1M614.2 58.3h1.1M597.7 52.7h1.1M606.8 58.1h1.1M609.4 76.9h1.1M613.6 61.5h1.1M609.3 64.1h1.1M602.2 51.6h1.1M614.6 70.9h1.1M605.4 75.5h1.1M619.1 79.9h1.1M601.7 72.2h1.1M617.2 73.2h1.1M604.5 62.5h1.1M609.5 78.6h1.1M586.3 57.6h1.1M604.4 73.8h1.1M621.1 67.8h1.1M599.7 59.9h1.1M610.3 76.6h1.1M602.9 76.5h1.1M612.0 56.2h1.1M619.6 59.0h1.1M623.6 59.7h1.1M599.9 65.3h1.1M620.8 62.4h1.1M623.9 63.2h1.1M603.0 65.0h1.1M619.2 58.6h1.1M598.6 70.4h1.1M618.8 78.8h1.1M602.1 69.4h1.1M620.7 65.2h1.1M589.8 56.7h1.1M600.5 70.2h1.1M614.1 64.4h1.1M616.5 71.1h1.1M606.4 78.2h1.1M620.9 64.2h1.1M611.9 76.9h1.1M606.3 61.3h1.1M586.1 58.9h1.1M596.5 59.1h1.1M624.6 78.5h1.1M604.9 52.4h1.1M593.2 58.5h1.1M616.8 79.0h1.1M627.3 67.0h1.1M607.4 72.0h1.1M617.8 62.2h1.1M608.9 77.2h1.1M608.5 59.8h1.1M621.8 70.0h1.1M594.2 67.2h1.1M591.0 65.9h1.1M610.1 52.4h1.1M612.0 64.6h1.1M618.1 73.5h1.1M607.8 78.4h1.1M589.6 65.9h1.1M617.3 81.0h1.1M615.1 62.6h1.1M625.5 65.1h1.1M613.8 55.5h1.1M595.5 60.3h1.1M626.3 75.2h1.1M617.8 63.1h1.1M617.4 65.1h1.1M621.6 76.4h1.1M624.3 67.2h1.1M603.5 56.3h1.1M625.2 76.1h1.1M594.7 70.4h1.1M617.2 70.2h1.1M594.4 66.9h1.1M597.0 58.8h1.1M617.5 65.5h1.1M597.8 51.9h1.1M590.9 56.2h1.1M604.0 67.6h1.1M611.0 58.6h1.1M605.1 51.8h1.1M603.2 54.9h1.1M613.0 78.5h1.1M602.6 60.1h1.1M605.3 56.3h1.1M600.1 68.3h1.1M609.4 54.4h1.1M622.0 63.2h1.1M611.1 65.2h1.1M593.4 53.6h1.1M607.0 72.6h1.1M589.1 57.1h1.1M618.0 66.1h1.1M607.1 56.6h1.1M615.8 57.1h1.1M598.0 66.8h1.1M594.4 67.3h1.1M595.4 55.8h1.1M603.7 70.5h1.1M610.7 53.7h1.1M620.1 70.4h1.1M596.8 61.4h1.1M603.2 54.5h1.1M598.8 70.4h1.1M599.5 72.7h1.1M609.2 75.7h1.1M622.3 72.1h1.1M606.8 56.0h1.1M618.5 70.0h1.1M611.8 56.3h1.1M602.0 72.7h1.1M607.3 53.8h1.1M603.8 76.1h1.1M589.7 56.9h1.1M610.5 77.4h1.1M623.7 72.3h1.1M601.4 64.8h1.1M618.6 69.9h1.1M622.6 69.3h1.1M623.8 60.3h1.1M619.5 63.2h1.1M607.9 72.7h1.1M598.1 68.1h1.1M615.2 58.3h1.1M599.7 62.3h1.1M612.2 71.1h1.1M599.8 58.9h1.1M598.4 69.9h1.1M609.1 65.3h1.1M609.2 55.8h1.1M603.0 55.7h1.1M611.4 71.2h1.1M591.9 59.7h1.1M613.8 72.5h1.1M611.0 64.7h1.1M617.5 66.9h1.1M598.8 71.7h1.1M615.4 79.6h1.1M608.6 68.1h1.1M597.9 56.7h1.1M596.0 71.1h1.1M598.1 61.9h1.1M609.0 63.4h1.1M609.9 74.8h1.1M597.3 67.7h1.1M595.4 65.0h1.1M612.9 62.1h1.1M626.8 75.3h1.1M588.0 55.4h1.1M592.8 68.1h1.1M600.3 64.8h1.1M613.0 79.9h1.1M625.6 63.0h1.1M622.3 72.3h1.1M613.1 59.5h1.1M594.2 52.2h1.1M606.1 71.5h1.1M593.5 65.4h1.1M595.8 51.1h1.1M612.7 61.1h1.1M621.4 61.3h1.1M625.3 75.6h1.1M621.1 58.4h1.1M614.6 80.8h1.1M622.0 65.0h1.1M591.0 61.6h1.1M624.6 60.8h1.1M611.9 77.5h1.1M606.8 71.8h1.1M597.5 51.7h1.1M608.5 60.8h1.1M613.7 79.6h1.1M605.2 58.9h1.1M613.7 59.3h1.1M595.8 71.9h1.1M597.1 63.2h1.1M615.7 55.1h1.1M607.9 52.5h1.1M616.5 59.2h1.1M611.6 64.6h1.1M624.2 75.6h1.1M594.1 52.6h1.1M606.5 72.8h1.1M623.5 66.0h1.1M601.2 71.1h1.1M614.3 68.8h1.1M608.1 63.9h1.1M620.7 68.1h1.1M611.5 63.1h1.1M615.0 79.4h1.1M614.6 66.9h1.1M609.4 76.2h1.1M622.4 60.1h1.1M595.1 59.6h1.1M602.3 61.4h1.1M616.3 77.6h1.1M610.3 54.2h1.1M624.9 60.7h1.1M604.1 57.2h1.1" stroke="#3b528b" stroke-width="1.1" fill="none"/>
<path d="M622.3 96.3h1.1M633.7 90.4h1.1M615.8 82.7h1.1M641.5 79.9h1.1M636.2 85.1h1.1M638.3 81.2h1.1M637.5 90.0h1.1M641.9 94.1h1.1M634.5 87.0h1.1M633.3 95.8h1.1M643.5 88.2h1.1M626.2 97.0h1.1M648.3 78.6h1.1M632.0 73.2h1.1M638.9 85.5h1.1M623.3 92.0h1.1M632.1 77.8h1.1M624.2 75.4h1.1M627.1 89.3h1.1M650.0 96.1h1.1M617.2 85.6h1.1M634.1 80.7h1.1M644.0 94.9h1.1M629.3 87.4h1.1M623.0 91.2h1.1M618.0 85.0h1.1M652.5 87.8h1.1M620.9 86.4h1.1M624.2 83.8h1.1M640.2 92.4h1.1M649.5 81.3h1.1M638.5 97.0h1.1M654.2 89.5h1.1M639.1 77.2h1.1M638.2 89.0h1.1M639.6 78.9h1.1M642.5 98.5h1.1M627.0 78.0h1.1M633.6 92.9h1.1M617.3 80.4h1.1M627.8 89.8h1.1M645.2 84.8h1.1M639.1 75.1h1.1M632.4 93.9h1.1M637.2 87.6h1.1M627.2 97.9h1.1M641.9 87.3h1.1M646.0 78.3h1.1M619.0 93.6h1.1M649.6 94.1h1.1M642.2 88.4h1.1M631.6 75.7h1.1M647.9 90.0h1.1M632.8 88.2h1.1M643.2 87.9h1.1M627.0 82.5h1.1M638.3 91.9h1.1M646.7 92.2h1.1M647.8 96.4h1.1M621.4 90.5h1.1M617.3 86.2h1.1M617.9 85.0h1.1M639.6 79.6h1.1M641.8 78.4h1.1M641.6 86.2h1.1M628.3 89.8h1.1M639.7 95.9h1.1M627.5 76.4h1.1M625.0 85.6h1.1M638.7 74.1h1.1M652.7 90.8h1.1M636.3 85.5h1.1M619.2 92.0h1.1M630.3 83.9h1.1M640.2 98.8h1.1M636.0 73.5h1.1M637.4 93.0h1.1M642.0 79.8h1.1M641.3 76.2h1.1M632.4 89.8h1.1M636.7 75.6h1.1M647.8 94.1h1.1M625.4 91.5h1.1M641.4 91.4h1.1M632.7 97.0h1.1M623.5 89.2h1.1M642.5 85.6h1.1M639.3 79.7h1.1M649.9 86.2h1.1M640.0 79.1h1.1M652.9 90.6h1.1M626.4 91.7h1.1M637.7 94.0h1.1M645.1 98.2h1.1M619.7 88.8h1.1M654.0 86.2h1.1M622.7 86.4h1.1M629.6 92.9h1.1M625.3 79.4h1.1M628.1 94.1h1.1M646.1 79.1h1.1M629.2 99.3h1.1M641.2 79.5h1.1M646.0 82.3h1.1M648.7 96.7h1.1M622.3 82.9h1.1M636.5 95.8h1.1M654.3 86.9h1.1M630.5 72.9h1.1M639.0 94.9h1.1M646.8 80.7h1.1M627.9 76.3h1.1M624.5 91.9h1.1M653.5 89.5h1.1M633.9 81.7h1.1M625.6 95.7h1.1M637.4 89.5h1.1M640.3 79.8h1.1M617.1 81.1h1.1M634.4 100.7h1.1M617.0 88.5h1.1M628.6 89.4h1.1M622.2 92.7h1.1M632.0 96.3h1.1M650.3 85.9h1.1M638.0 78.1h1.1M629.1 84.2h1.1M622.4 96.8h1.1M643.7 90.3h1.1M622.1 80.7h1.1M632.2 89.8h1.1M634.0 90.7h1.1M633.7 72.8h1.1M632.4 90.8h1.1M625.1 88.7h1.1M630.9 98.0h1.1M635.0 73.6h1.1M638.5 78.8h1.1M616.6 83.1h1.1M647.9 83.4h1.1M649.8 97.2h1.1M634.8 77.1h1.1M626.7 76.3h1.1M625.0 94.1h1.1M628.8 93.2h1.1M654.0 87.7h1.1M627.7 80.0h1.1M649.5 97.1h1.1M634.6 79.7h1.1M628.0 75.8h1.1M628.6 92.4h1.1M618.1 76.0h1.1M648.0 90.8h1.1M623.0 85.2h1.1M649.9 82.1h1.1M643.8 92.8h1.1M622.1 92.4h1.1M648.3 88.7h1.1M640.1 94.1h1.1M648.2 90.7h1.1M622.5 87.3h1.1M642.4 91.4h1.1M644.7 78.8h1.1M644.8 93.3h1.1M629.7 82.8h1.1M642.4 81.9h1.1M620.8 83.7h1.1M647.5 98.5h1.1M636.4 93.7h1.1M643.2 96.7h1.1M629.5 74.6h1.1M617.8 79.1h1.1M618.3 79.0h1.1M624.2 87.6h1.1M636.2 85.6h1.1M625.4 76.0h1.1M622.0 77.7h1.1M621.6 90.3h1.1M646.6 93.3h1.1M642.0 94.9h1.1M636.2 83.6h1.1M645.4 94.5h1.1M643.2 98.8h1.1M623.3 85.3h1.1M642.7 95.0h1.1M631.6 85.4h1.1M646.4 89.7h1.1M636.4 96.7h1.1M626.9 97.6h1.1M639.1 94.9h1.1M627.7 76.1h1.1M634.3 94.9h1.1M649.6 91.4h1.1M649.8 87.1h1.1M621.4 93.6h1.1M638.3 90.8h1.1M622.4 78.6h1.1M631.4 98.4h1.1M629.9 79.3h1.1M624.8 97.8h1.1M629.8 90.4h1.1M625.5 73.8h1.1M650.0 84.8h1.1M632.6 82.5h1.1M640.6 80.8h1.1M636.7 81.2h1.1M620.6 77.8h1.1M644.4 84.0h1.1M634.6 84.8h1.1M637.1 89.9h1.1M635.5 92.8h1.1M649.3 79.8h1.1M627.7 87.0h1.1M635.8 83.1h1.1M621.9 83.6h1.1M629.8 80.5h1.1M637.0 88.5h1.1M642.1 96.7h1.1M651.7 83.4h1.1M629.7 98.0h1.1M634.5 80.6h1.1M634.9 77.8h1.1M650.7 84.9h1.1M645.4 93.6h1.1M620.5 91.7h1.1M638.3 99.3h1.1M615.6 84.2h1.1M638.8 87.3h1.1M628.8 89.0h1.1M642.9 93.8h1.1M626.0 97.9h1.1M635.6 88.6h1.1M624.4 91.7h1.1M619.9 89.9h1.1M629.1 74.5h1.1M628.5 76.4h1.1M640.7 87.1h1.1M629.0 89.8h1.1M624.6 91.6h1.1M638.1 97.4h1.1M628.0 98.2h1.1M627.2 98.7h1.1M639.2 73.8h1.1M627.8 96.2h1.1M622.5 74.5h1.1M623.2 97.0h1.1M644.1 84.8h1.1M644.3 77.4h1.1M633.4 82.8h1.1M630.9 99.5h1.1M632.0 78.7h1.1M647.8 89.0h1.1M642.1 79.8h1.1M641.9 81.1h1.1M629.7 96.8h1.1M645.5 91.8h1.1M643.5 89.4h1.1M642.9 95.7h1.1M628.5 86.1h1.1M645.5 91.5h1.1M653.2 90.1h1.1M632.7 87.4h1.1M623.1 89.0h1.1M629.9 76.6h1.1M623.6 86.5h1.1M632.5 74.0h1.1M623.0 82.1h1.1M619.1 86.1h1.1M617.1 78.8h1.1M651.1 89.7h1.1M653.6 87.4h1.1M640.6 98.3h1.1M626.7 84.5h1.1M626.9 95.2h1.1M639.8 77.0h1.1M651.6 85.5h1.1M620.1 93.9h1.1M634.9 97.5h1.1M616.4 84.9h1.1M619.9 82.9h1.1M620.2 76.9h1.1M628.8 93.9h1.1M622.2 93.2h1.1M620.5 89.2h1.1M626.8 98.2h1.1M632.8 81.5h1.1M625.6 73.8h1.1M630.3 83.2h1.1M621.4 87.0h1.1M623.7 92.6h1.1M640.6 92.9h1.1M623.9 86.0h1.1M621.2 93.6h1.1M625.5 79.3h1.1M644.5 96.1h1.1M625.3 84.4h1.1M637.2 88.1h1.1M631.5 77.6h1.1M628.0 90.7h1.1M633.0 95.8h1.1" stroke="#21918c" stroke-width="1.1" fill="none"/>
<path d="M574.6 56.0h1.1M565.9 56.6h1.1M572.9 55.6h1.1M563.2 58.9h1.1M566.0 57.1h1.1M576.4 55.0h1.1M563.5 61.6h1.1M586.9 53.8h1.1M575.3 60.6h1.1M570.1 59.0h1.1M584.0 57.5h1.1M575.1 54.3h1.1M560.9 63.8h1.1M565.6 57.2h1.1M582.0 59.7h1.1M565.4 67.3h1.1M582.6 56.4h1.1M563.0 63.5h1.1M572.6 53.9h1.1M573.3 53.9h1.1M585.4 53.7h1.1M581.0 55.9h1.1M584.5 55.1h1.1M574.9 58.8h1.1M561.3 65.6h1.1M569.3 56.3h1.1M571.1 55.0h1.1M582.9 58.1h1.1M570.3 64.7h1.1M579.4 58.8h1.1M569.4 59.4h1.1M581.0 55.2h1.1M575.0 55.8h1.1M584.9 61.8h1.1M569.3 64.3h1.1M569.5 65.8h1.1M561.6 60.2h1.1M567.9 63.9h1.1M569.3 64.5h1.1M584.8 58.6h1.1M579.4 60.5h1.1M582.6 60.9h1.1M561.5 65.3h1.1M587.1 57.1h1.1M575.3 58.1h1.1M569.3 62.7h1.1M564.9 56.6h1.1M584.9 57.5h1.1M584.9 55.4h1.1M578.5 63.9h1.1M578.8 54.2h1.1M580.6 54.1h1.1M585.7 56.6h1.1M585.9 56.6h1.1M581.6 60.5h1.1M565.6 67.9h1.1M570.4 63.8h1.1M569.1 62.6h1.1M579.1 59.3h1.1M566.8 63.6h1.1M574.5 54.0h1.1M577.3 59.8h1.1M575.6 53.4h1.1M589.0 59.4h1.1M565.8 67.0h1.1M587.9 54.2h1.1M566.2 65.1h1.1M569.0 60.8h1.1M570.3 66.9h1.1M569.9 61.4h1.1M580.0 63.9h1.1M583.3 56.0h1.1M579.4 61.2h1.1M571.7 54.6h1.1M575.7 61.5h1.1M570.8 54.4h1.1M574.0 57.1h1.1M570.4 60.8h1.1M583.8 53.7h1.1M582.1 59.7h1.1M578.1 55.3h1.1M584.0 55.6h1.1M568.4 64.6h1.1M581.4 61.1h1.1M576.7 64.9h1.1M571.1 59.3h1.1M572.8 58.5h1.1M577.8 54.8h1.1M564.9 61.2h1.1M576.9 58.9h1.1M561.9 59.4h1.1M578.3 62.9h1.1M586.2 55.4h1.1M562.8 59.0h1.1M571.8 53.4h1.1M566.2 61.7h1.1M562.9 62.7h1.1M573.3 54.1h1.1M586.5 54.3h1.1M566.8 67.3h1.1M576.3 56.5h1.1M572.4 62.4h1.1M585.9 58.2h1.1M571.8 64.1h1.1M589.1 60.2h1.1M564.3 60.3h1.1M562.7 64.5h1.1M588.9 57.2h1.1M578.2 55.2h1.1M567.5 67.6h1.1M581.4 53.7h1.1M576.1 58.0h1.1M562.4 61.2h1.1M576.0 59.8h1.1M568.2 59.6h1.1M581.6 60.8h1.1M576.0 64.7h1.1M581.6 58.3h1.1M567.6 57.0h1.1M562.0 61.2h1.1M587.8 54.0h1.1M578.8 58.8h1.1M565.9 64.2h1.1M573.6 64.3h1.1M562.7 64.1h1.1M584.3 56.3h1.1M571.6 63.4h1.1M582.6 53.4h1.1M562.7 61.6h1.1M580.8 55.4h1.1M581.9 61.9h1.1M580.6 62.8h1.1M566.8 60.7h1.1M571.1 65.5h1.1M561.3 64.5h1.1M560.5 61.8h1.1M561.7 66.3h1.1M565.6 66.2h1.1M586.2 53.9h1.1M563.1 58.7h1.1M569.6 63.4h1.1M581.3 62.9h1.1M576.8 54.4h1.1M571.7 65.9h1.1M585.8 56.2h1.1M571.7 66.6h1.1M564.6 61.8h1.1M587.5 57.4h1.1M566.2 63.1h1.1M566.3 55.8h1.1M588.8 59.0h1.1M582.2 56.2h1.1M573.7 64.8h1.1M582.6 56.8h1.1M581.3 60.4h1.1M566.2 65.0h1.1M583.9 58.3h1.1M588.8 56.6h1.1M561.3 67.7h1.1M586.2 53.6h1.1" stroke="#5ec962" stroke-width="1.1" fill="none"/>
<path d="M611.4 52.9h1.1M610.7 52.8h1.1M607.3 52.0h1.1M607.1 52.4h1.1M610.0 52.6h1.1M610.7 53.1h1.1" stroke="#fde725" stroke-width="1.1" fill="none"/>
<path d="M473.8 197.1h1.1M487.7 188.9h1.1M455.7 171.3h1.1M510.3 194.0h1.1M512.3 194.6h1.1M495.5 202.8h1.1M479.5 196.3h1.1M476.6 172.5h1.1M494.9 195.7h1.1M475.9 201.9h1.1M464.3 182.0h1.1M486.3 185.8h1.1M491.0 201.1h1.1M495.8 193.8h1.1M485.9 201.1h1.1M481.9 177.8h1.1M456.2 184.7h1.1M464.1 172.1h1.1M486.8 201.0h1.1M487.2 189.4h1.1M459.7 170.7h1.1M497.3 180.6h1.1M496.4 192.3h1.1M487.6 190.7h1.1M489.4 187.0h1.1M499.1 188.4h1.1M462.2 174.6h1.1M491.1 186.5h1.1M466.2 173.4h1.1M492.5 184.2h1.1M509.4 199.5h1.1M490.3 199.1h1.1M503.1 187.5h1.1M467.8 183.9h1.1M506.1 184.5h1.1M501.8 192.9h1.1M508.1 201.2h1.1M477.1 173.1h1.1M475.4 176.9h1.1M495.3 188.8h1.1M476.3 188.0h1.1M493.8 179.2h1.1M464.5 169.7h1.1M459.9 182.1h1.1M461.8 186.6h1.1M465.3 183.0h1.1M480.6 199.0h1.1M460.4 175.3h1.1M497.8 194.1h1.1M486.4 178.7h1.1M460.3 189.9h1.1M484.6 190.1h1.1M457.1 180.9h1.1M500.8 183.0h1.1M508.8 186.4h1.1M454.4 186.3h1.1M492.0 179.3h1.1M480.3 185.2h1.1M502.0 187.0h1.1M503.7 195.2h1.1M483.4 186.9h1.1M467.9 193.2h1.1M503.2 191.4h1.1M474.0 173.7h1.1M461.7 173.6h1.1M485.4 193.5h1.1M473.2 171.4h1.1M460.1 178.9h1.1M497.3 195.8h1.1M488.5 198.7h1.1M487.2 194.4h1.1M475.0 172.6h1.1M470.8 200.2h1.1M473.6 185.8h1.1M484.4 186.3h1.1M478.0 192.6h1.1M478.1 182.9h1.1M498.8 187.4h1.1M471.8 175.8h1.1M458.9 178.0h1.1M468.9 198.1h1.1M489.9 200.3h1.1M474.2 191.8h1.1M468.6 193.3h1.1M483.3 185.4h1.1M486.6 193.8h1.1M498.8 180.7h1.1M486.6 183.4h1.1M468.8 200.3h1.1M471.9 195.0h1.1M504.8 188.4h1.1M482.8 190.0h1.1M460.9 186.3h1.1M488.4 186.4h1.1M501.9 181.7h1.1M492.0 185.0h1.1M496.4 201.9h1.1M470.8 183.9h1.1M456.3 193.9h1.1M456.8 189.7h1.1M482.0 199.9h1.1M482.7 174.8h1.1M498.9 189.8h1.1M463.4 170.4h1.1M470.4 201.5h1.1M481.4 197.5h1.1M464.4 186.7h1.1M469.0 186.4h1.1M466.4 198.7h1.1M463.6 194.7h1.1M486.2 177.7h1.1M464.0 195.5h1.1M486.3 186.7h1.1M506.9 199.4h1.1M460.8 181.0h1.1M486.0 190.1h1.1M487.4 196.1h1.1M473.2 176.6h1.1M500.8 199.0h1.1M496.1 188.8h1.1M475.7 172.5h1.1M458.5 170.3h1.1M472.8 176.4h1.1M487.6 197.0h1.1M491.0 182.1h1.1M484.8 193.6h1.1M492.8 182.8h1.1M489.1 203.4h1.1M503.0 184.9h1.1M465.1 184.0h1.1M472.6 194.7h1.1M507.4 199.6h1.1M474.0 174.5h1.1M463.6 178.0h1.1M471.5 179.2h1.1M492.1 193.0h1.1M459.0 171.1h1.1M460.7 187.1h1.1M465.2 193.3h1.1M472.3 185.4h1.1M510.7 187.9h1.1M473.7 193.5h1.1M457.3 183.8h1.1M475.7 173.3h1.1M489.8 195.1h1.1M496.2 186.2h1.1M459.8 191.9h1.1M498.0 192.2h1.1M495.2 196.5h1.1M454.4 181.8h1.1M481.1 193.2h1.1M508.6 190.3h1.1M485.4 176.5h1.1M499.3 195.7h1.1M488.5 179.8h1.1M470.5 201.3h1.1M480.2 178.4h1.1M488.1 200.7h1.1M485.9 199.0h1.1M503.3 197.4h1.1M473.8 179.3h1.1M471.2 193.9h1.1M494.2 197.4h1.1M463.6 196.3h1.1M492.3 184.2h1.1M503.5 200.4h1.1M499.2 192.7h1.1M498.5 193.6h1.1M469.9 177.5h1.1M458.3 186.8h1.1M509.9 194.9h1.1M473.0 187.5h1.1M462.8 189.9h1.1M503.2 197.0h1.1M478.1 183.4h1.1M454.8 179.4h1.1M485.7 200.0h1.1M475.4 198.8h1.1M508.6 188.5h1.1M465.4 180.9h1.1M480.6 181.5h1.1M507.0 201.1h1.1M452.7 178.6h1.1M461.3 191.9h1.1M498.3 183.4h1.1M472.1 182.6h1.1M484.9 199.2h1.1M465.3 172.9h1.1M490.0 202.1h1.1M479.7 184.6h1.1M464.3 174.9h1.1M488.8 186.2h1.1M466.2 173.1h1.1M495.6 199.2h1.1M462.3 190.5h1.1M483.3 201.0h1.1M465.5 187.4h1.1M456.8 177.2h1.1M480.1 198.5h1.1M473.8 177.2h1.1M460.9 190.7h1.1M493.7 200.3h1.1M452.9 185.3h1.1M453.4 175.8h1.1M496.7 190.8h1.1M482.1 199.4h1.1M467.7 185.5h1.1M475.8 202.2h1.1M513.7 193.5h1.1M474.3 195.6h1.1M489.0 203.0h1.1M471.0 187.4h1.1M473.9 190.2h1.1M463.9 185.0h1.1M488.3 198.2h1.1M476.3 190.1h1.1M503.9 201.3h1.1M510.6 189.1h1.1M508.2 186.2h1.1M491.4 196.6h1.1M496.8 196.4h1.1M480.1 176.5h1.1M486.0 192.5h1.1M500.4 196.0h1.1M485.7 200.0h1.1M494.1 178.2h1.1M479.2 193.3h1.1M507.5 199.0h1.1M504.1 181.8h1.1M478.7 201.4h1.1M489.5 188.0h1.1M471.9 193.8h1.1M458.9 171.7h1.1M507.8 188.6h1.1M489.5 193.4h1.1M482.0 197.7h1.1M500.9 190.0h1.1M454.5 178.7h1.1M488.3 197.1h1.1M477.3 185.0h1.1M464.4 188.3h1.1M493.8 198.8h1.1M474.8 195.7h1.1M496.1 188.7h1.1M476.6 196.5h1.1M495.6 191.7h1.1M495.9 181.8h1.1M475.5 189.4h1.1M476.6 178.2h1.1M489.9 184.4h1.1M505.0 192.7h1.1M480.9 184.1h1.1M504.7 199.9h1.1M456.3 178.0h1.1M501.2 181.5h1.1M456.7 179.9h1.1M455.1 186.8h1.1M505.5 190.6h1.1M455.3 188.0h1.1M484.8 187.4h1.1M457.3 171.3h1.1M461.0 184.9h1.1M475.6 180.7h1.1M458.9 187.2h1.1M504.8 197.5h1.1M482.1 196.9h1.1M511.3 188.4h1.1M492.5 198.1h1.1M457.6 190.5h1.1M490.7 189.2h1.1M480.9 194.9h1.1M471.1 174.1h1.1M463.2 178.3h1.1M469.8 188.8h1.1M493.0 200.0h1.1M472.6 189.2h1.1M506.3 193.3h1.1M494.2 179.2h1.1M467.0 196.1h1.1M502.8 193.2h1.1M509.5 199.7h1.1M470.4 195.7h1.1M489.4 191.0h1.1M484.1 190.9h1.1M492.1 199.7h1.1M508.0 193.4h1.1M478.1 193.4h1.1M506.9 192.8h1.1M491.3 191.8h1.1M460.4 171.0h1.1M506.0 194.6h1.1M475.9 189.6h1.1M460.3 179.5h1.1M490.1 182.7h1.1M497.7 182.6h1.1M476.0 185.4h1.1M467.9 169.5h1.1M467.9 194.9h1.1M477.5 185.8h1.1M481.3 181.3h1.1M465.8 192.3h1.1M465.4 168.7h1.1M460.4 196.9h1.1M460.7 186.8h1.1M480.1 194.8h1.1M501.0 198.3h1.1M473.4 190.6h1.1M468.3 191.1h1.1M503.2 185.1h1.1M501.1 183.2h1.1M471.5 175.1h1.1M458.5 179.8h1.1M475.0 191.0h1.1M504.1 201.9h1.1M474.3 188.4h1.1M488.6 183.3h1.1M496.6 194.0h1.1M504.3 197.8h1.1M494.2 186.4h1.1M490.6 195.2h1.1M472.6 179.6h1.1M461.1 172.0h1.1M475.3 197.0h1.1M511.0 196.5h1.1M474.6 187.3h1.1M483.2 186.7h1.1M489.4 191.7h1.1M488.2 177.2h1.1M477.1 186.2h1.1M500.3 183.2h1.1M466.2 181.0h1.1M484.0 183.7h1.1M482.9 180.7h1.1M507.6 199.2h1.1M470.3 197.8h1.1M459.0 176.6h1.1M473.6 196.0h1.1M498.9 190.8h1.1M484.5 194.6h1.1M478.3 177.7h1.1M474.4 177.0h1.1M475.0 189.3h1.1M454.7 184.4h1.1M462.7 196.4h1.1M479.3 193.5h1.1M498.9 183.6h1.1M470.2 178.3h1.1M482.1 186.0h1.1M480.9 183.5h1.1M498.1 179.9h1.1M502.8 185.5h1.1M460.4 195.0h1.1M462.4 175.8h1.1M488.4 197.2h1.1M476.0 191.0h1.1M485.3 182.0h1.1M468.8 185.6h1.1M488.3 179.4h1.1M455.7 172.5h1.1M466.9 185.5h1.1M462.1 193.0h1.1M458.0 192.0h1.1M498.1 200.2h1.1M489.0 193.4h1.1M494.4 193.8h1.1M487.1 191.4h1.1M503.8 201.3h1.1M454.4 178.5h1.1M505.9 197.8h1.1M469.4 199.9h1.1M505.0 188.4h1.1M476.4 187.6h1.1M479.5 187.4h1.1M453.9 172.5h1.1M480.1 198.5h1.1M456.9 194.2h1.1M491.9 181.0h1.1M465.4 196.0h1.1M482.9 200.5h1.1M459.8 182.0h1.1M457.5 180.5h1.1M496.5 184.5h1.1M485.0 179.0h1.1M493.2 185.7h1.1M510.2 187.6h1.1M462.2 175.2h1.1M460.6 185.9h1.1M454.1 175.1h1.1M466.4 176.5h1.1M484.2 197.3h1.1M459.8 181.2h1.1M483.1 181.7h1.1M490.2 203.3h1.1M488.3 184.5h1.1M491.9 195.6h1.1M483.4 182.7h1.1M483.1 194.2h1.1M494.2 180.5h1.1M467.9 196.2h1.1M462.6 178.8h1.1M467.3 193.7h1.1M481.8 193.2h1.1M458.8 177.4h1.1M463.0 176.0h1.1M478.0 194.6h1.1M472.4 197.2h1.1M485.9 200.0h1.1M497.7 179.8h1.1M476.7 178.7h1.1M495.7 191.7h1.1M484.3 192.7h1.1M479.2 197.7h1.1M513.0 194.8h1.1M465.6 182.5h1.1M479.3 201.3h1.1M457.0 194.1h1.1M480.5 185.5h1.1M477.5 176.7h1.1M488.7 192.4h1.1M475.2 199.4h1.1M484.9 188.0h1.1M493.2 189.6h1.1M456.0 172.4h1.1M481.0 179.1h1.1M498.4 181.5h1.1M486.9 192.4h1.1M463.5 172.8h1.1M496.6 202.6h1.1M492.7 202.2h1.1M456.1 193.8h1.1M479.2 185.1h1.1M502.3 184.9h1.1M491.3 198.0h1.1M460.4 177.5h1.1M481.5 190.2h1.1M481.0 188.0h1.1M486.7 202.1h1.1M473.4 199.7h1.1M493.8 192.8h1.1M467.2 184.6h1.1M458.7 192.3h1.1M474.9 193.0h1.1M470.3 191.0h1.1M491.1 188.0h1.1M485.1 194.3h1.1M482.0 186.9h1.1M474.2 194.9h1.1M462.5 176.0h1.1M470.8 198.1h1.1M463.9 181.5h1.1M471.2 174.2h1.1M481.5 192.8h1.1M458.3 171.9h1.1M483.9 181.1h1.1M482.4 189.0h1.1M501.1 189.1h1.1M462.3 185.5h1.1M455.1 188.6h1.1M456.3 186.0h1.1M461.5 180.7h1.1M489.2 192.6h1.1M495.9 193.5h1.1M495.5 185.3h1.1M463.5 169.5h1.1M501.1 186.3h1.1M488.1 196.1h1.1M500.4 201.2h1.1M486.3 193.4h1.1M471.9 189.3h1.1M480.6 194.7h1.1M482.9 189.4h1.1M485.1 200.3h1.1M491.1 200.0h1.1M468.3 193.1h1.1M466.9 172.1h1.1M496.0 195.2h1.1M479.5 200.3h1.1M468.7 175.2h1.1M498.2 202.0h1.1M467.7 199.1h1.1M499.3 193.6h1.1M493.1 196.1h1.1M494.5 197.9h1.1M495.5 189.2h1.1M471.0 187.6h1.1M489.0 182.3h1.1M467.8 170.4h1.1M465.0 180.2h1.1M511.0 190.7h1.1M470.3 181.3h1.1M467.5 169.4h1.1M455.0 185.9h1.1M457.1 194.9h1.1M486.7 192.2h1.1M462.6 182.9h1.1M483.1 196.9h1.1M461.2 186.3h1.1M499.8 187.9h1.1M511.2 191.9h1.1M463.1 169.2h1.1M465.7 171.2h1.1M507.9 185.7h1.1M500.8 194.1h1.1M475.0 198.7h1.1M462.9 194.5h1.1M486.3 181.1h1.1M488.0 198.3h1.1M453.4 184.8h1.1M510.9 192.8h1.1M474.4 194.4h1.1M476.9 188.6h1.1M502.3 196.9h1.1M503.2 200.8h1.1M506.7 192.5h1.1M483.4 179.9h1.1M454.9 175.0h1.1M464.2 173.1h1.1M486.0 202.5h1.1M509.1 194.0h1.1M476.6 189.3h1.1M496.0 185.6h1.1M475.8 179.5h1.1M459.1 186.4h1.1M480.8 183.9h1.1M490.4 200.6h1.1M483.2 199.0h1.1M499.0 186.5h1.1M453.5 186.6h1.1M488.1 191.6h1.1M459.3 173.9h1.1M488.1 189.9h1.1M491.4 194.7h1.1M456.6 192.4h1.1M510.7 191.3h1.1M505.1 201.2h1.1M470.7 196.1h1.1M499.2 198.8h1.1M467.3 183.5h1.1M510.3 199.0h1.1M468.9 191.0h1.1M491.2 190.8h1.1M471.6 200.2h1.1M482.1 195.3h1.1M462.4 197.8h1.1M464.4 181.7h1.1M455.5 192.8h1.1M475.8 177.8h1.1M460.9 191.7h1.1M474.2 196.8h1.1M499.9 195.5h1.1M480.2 184.3h1.1M455.0 175.2h1.1M493.1 179.4h1.1M478.5 188.7h1.1M468.5 188.3h1.1M458.3 172.8h1.1M460.9 193.6h1.1M461.5 170.9h1.1M491.5 196.7h1.1M484.0 198.2h1.1M463.8 193.1h1.1M484.2 198.1h1.1M481.3 179.3h1.1M473.6 193.3h1.1M490.0 201.6h1.1M458.6 177.6h1.1M471.8 196.5h1.1M510.5 193.4h1.1M477.4 195.6h1.1M470.6 196.2h1.1M481.8 183.7h1.1M475.1 198.6h1.1M467.9 197.1h1.1M485.0 202.8h1.1M500.5 183.5h1.1M504.4 200.8h1.1M458.0 171.2h1.1M494.1 185.1h1.1M505.6 199.1h1.1M472.6 191.4h1.1M459.6 176.1h1.1M468.0 173.4h1.1M506.5 189.8h1.1M483.9 185.9h1.1M495.3 183.4h1.1M458.4 170.4h1.1M456.7 186.9h1.1M471.9 173.8h1.1M512.5 192.9h1.1M464.7 192.6h1.1M499.4 190.4h1.1M489.4 182.9h1.1M454.3 184.3h1.1M462.6 182.3h1.1M468.5 186.4h1.1M493.8 188.7h1.1M490.8 199.4h1.1M455.4 191.8h1.1M460.0 172.8h1.1M459.3 184.6h1.1M484.4 177.9h1.1M471.5 182.7h1.1M498.5 200.8h1.1M491.0 189.8h1.1M460.6 178.0h1.1M503.4 201.2h1.1M483.8 178.8h1.1M488.5 179.2h1.1M459.7 190.5h1.1M505.3 183.1h1.1M490.3 186.2h1.1M467.3 174.3h1.1M483.1 201.1h1.1M501.3 184.9h1.1M500.1 184.3h1.1M498.1 199.0h1.1M476.3 196.3h1.1M477.9 195.8h1.1M472.1 200.8h1.1M459.2 189.6h1.1M495.9 191.6h1.1M482.6 201.4h1.1M460.0 179.4h1.1M475.2 193.1h1.1M481.7 179.0h1.1M478.7 190.8h1.1M511.9 191.2h1.1M464.1 194.3h1.1M480.9 175.9h1.1M498.1 201.4h1.1M480.5 192.3h1.1M476.8 181.7h1.1M464.9 192.0h1.1M499.2 199.4h1.1M488.6 201.2h1.1M494.9 190.4h1.1M454.6 182.7h1.1M502.1 182.6h1.1M481.8 182.3h1.1M507.5 196.4h1.1M493.9 197.9h1.1M469.4 177.4h1.1M509.3 196.6h1.1M492.1 203.4h1.1M512.8 194.4h1.1M453.9 179.2h1.1M456.3 170.9h1.1M484.4 176.8h1.1M473.5 187.3h1.1M495.4 181.3h1.1M510.8 188.1h1.1M461.1 174.7h1.1M486.6 187.4h1.1M464.1 190.7h1.1M468.8 189.8h1.1M482.3 199.0h1.1M460.9 183.8h1.1M474.8 198.1h1.1M482.9 176.5h1.1M459.7 193.8h1.1M504.4 184.8h1.1M486.5 195.9h1.1M489.5 179.3h1.1M458.0 172.6h1.1M479.4 177.8h1.1M496.5 198.7h1.1M465.3 197.7h1.1M510.9 188.3h1.1M475.8 178.9h1.1M489.4 203.5h1.1M509.1 192.1h1.1M482.7 190.2h1.1M492.5 195.3h1.1M459.1 171.8h1.1M476.4 197.9h1.1M482.1 178.5h1.1M454.2 178.4h1.1M494.6 201.5h1.1M456.5 179.3h1.1M473.0 193.2h1.1M454.6 180.2h1.1M458.6 192.3h1.1M478.6 199.3h1.1M497.1 189.9h1.1M486.6 180.1h1.1M474.3 187.0h1.1M501.0 198.9h1.1M499.2 202.0h1.1M496.6 184.1h1.1M463.5 190.7h1.1M467.2 186.1h1.1M512.9 192.7h1.1M505.2 188.4h1.1M500.8 192.4h1.1M503.4 190.6h1.1M487.0 186.1h1.1M469.4 177.8h1.1M503.3 198.2h1.1M474.0 173.0h1.1M477.2 196.7h1.1M454.3 173.3h1.1M483.4 197.7h1.1M465.0 184.0h1.1M464.5 186.4h1.1M504.0 186.5h1.1M467.5 173.9h1.1M471.1 184.7h1.1M480.5 198.1h1.1M471.7 198.2h1.1M464.7 183.6h1.1M495.2 195.0h1.1M500.9 194.5h1.1M492.9 202.1h1.1M457.0 183.7h1.1M487.3 199.7h1.1M496.8 186.6h1.1M491.9 195.9h1.1M507.9 198.6h1.1M459.3 196.4h1.1M477.4 200.8h1.1M498.9 195.9h1.1M470.1 179.4h1.1M466.4 169.7h1.1M457.5 194.6h1.1M472.7 186.5h1.1M462.7 177.5h1.1M481.1 195.8h1.1M464.8 170.6h1.1M494.2 199.4h1.1M467.2 168.9h1.1M487.4 178.2h1.1M497.9 180.5h1.1M500.4 189.8h1.1M479.4 184.9h1.1M474.6 173.9h1.1M497.4 199.0h1.1M462.0 181.7h1.1M491.7 191.1h1.1M474.6 192.7h1.1M489.0 186.4h1.1M472.7 187.5h1.1M503.0 190.7h1.1M467.3 172.6h1.1M505.2 184.1h1.1M478.4 177.7h1.1M454.2 185.5h1.1M469.7 182.9h1.1M499.9 197.1h1.1M485.1 181.0h1.1M469.7 170.0h1.1M477.1 197.7h1.1M479.1 174.2h1.1M504.4 194.5h1.1M479.3 184.1h1.1M482.3 179.8h1.1M461.2 182.2h1.1M494.6 201.1h1.1M498.1 192.6h1.1M486.6 178.7h1.1M473.8 186.9h1.1M471.1 172.9h1.1M462.8 180.1h1.1M479.4 202.5h1.1M494.6 198.0h1.1M491.0 189.7h1.1M459.8 187.6h1.1M463.9 194.8h1.1M503.8 196.7h1.1M504.5 186.4h1.1M486.9 198.4h1.1M495.3 182.0h1.1M493.3 187.0h1.1M500.1 191.0h1.1M469.3 190.7h1.1M464.6 189.2h1.1M502.6 199.9h1.1M479.7 176.5h1.1M498.9 186.0h1.1M480.3 176.2h1.1M501.6 192.6h1.1M476.9 201.2h1.1M500.2 181.5h1.1M456.6 190.2h1.1M483.2 196.5h1.1M488.7 194.8h1.1M459.0 195.2h1.1M472.4 193.2h1.1M462.3 190.3h1.1M505.6 194.3h1.1M501.4 193.3h1.1M476.6 180.6h1.1M461.0 172.4h1.1M458.4 172.8h1.1M456.0 186.4h1.1M507.8 193.7h1.1M455.7 190.5h1.1M479.1 173.5h1.1M492.6 183.2h1.1M483.4 191.1h1.1M469.1 191.3h1.1M485.9 186.6h1.1M457.8 185.7h1.1M465.8 199.0h1.1M466.9 190.2h1.1M456.3 190.2h1.1M468.3 179.8h1.1M489.4 191.6h1.1M471.4 175.0h1.1M490.2 182.6h1.1M494.1 198.3h1.1M465.4 186.8h1.1M457.1 171.1h1.1M485.4 178.8h1.1M466.8 198.0h1.1M492.8 197.3h1.1M490.6 177.2h1.1M484.5 194.1h1.1M476.8 180.2h1.1M503.3 185.7h1.1M471.7 182.2h1.1" stroke="#440154" stroke-width="1.1" fill="none"/>
<path d="M481.4 201.2h1.1M504.3 199.4h1.1M461.7 189.2h1.1M474.6 198.9h1.1M482.6 198.0h1.1M465.3 190.5h1.1M478.3 190.1h1.1M472.5 189.4h1.1M461.4 191.1h1.1M502.4 197.3h1.1M467.1 193.3h1.1M471.4 202.7h1.1M494.8 197.0h1.1M462.6 198.0h1.1M489.6 200.6h1.1M505.4 197.5h1.1M479.1 192.1h1.1M504.3 199.1h1.1M499.4 198.5h1.1M491.7 202.0h1.1M469.4 199.7h1.1M459.4 190.8h1.1M473.0 203.2h1.1M502.2 202.3h1.1M501.9 197.9h1.1M471.1 201.2h1.1M479.1 202.5h1.1M482.0 194.7h1.1M460.7 194.8h1.1M485.8 196.4h1.1M478.6 193.2h1.1M463.4 200.6h1.1M490.0 192.5h1.1M486.2 196.9h1.1M504.9 199.1h1.1M502.4 194.8h1.1M487.8 203.2h1.1M476.3 199.3h1.1M473.6 199.5h1.1M503.9 198.9h1.1M502.7 196.7h1.1M497.5 196.5h1.1M497.6 194.2h1.1M491.6 197.2h1.1M476.5 190.3h1.1M470.4 191.3h1.1M488.2 196.2h1.1M475.0 199.2h1.1M485.3 192.7h1.1M460.7 196.0h1.1M497.1 200.2h1.1M475.2 190.4h1.1M478.4 191.8h1.1M498.0 202.8h1.1M473.1 200.3h1.1M484.9 200.1h1.1M492.6 197.4h1.1M498.8 195.8h1.1M496.8 199.0h1.1M483.7 194.6h1.1M508.0 198.7h1.1M466.2 201.8h1.1M461.0 188.5h1.1M476.6 195.2h1.1M457.6 191.7h1.1M487.5 196.7h1.1M469.4 201.0h1.1M485.2 200.7h1.1M488.0 196.1h1.1M495.8 197.5h1.1M480.9 190.7h1.1M464.6 197.9h1.1M473.2 199.6h1.1M476.3 200.6h1.1M464.4 195.0h1.1M463.6 196.9h1.1M475.6 198.5h1.1M470.6 198.9h1.1M483.9 198.7h1.1M485.9 195.6h1.1M499.1 199.1h1.1M494.8 196.7h1.1M472.7 193.3h1.1M497.8 194.8h1.1M485.5 195.0h1.1M466.9 195.5h1.1M474.9 190.0h1.1M492.5 192.8h1.1M482.9 199.9h1.1M477.5 199.5h1.1M475.5 196.2h1.1M467.5 196.2h1.1M477.1 193.8h1.1M469.6 196.6h1.1M483.8 196.1h1.1M476.3 196.1h1.1M479.2 202.2h1.1M471.5 197.8h1.1M503.6 198.8h1.1M489.6 199.4h1.1M491.5 197.2h1.1M482.2 199.3h1.1M491.3 200.6h1.1M486.7 200.7h1.1M492.1 193.0h1.1M498.7 194.5h1.1M497.3 196.4h1.1M459.6 194.4h1.1M461.3 193.5h1.1M493.4 202.7h1.1M508.0 198.3h1.1M473.1 192.9h1.1M503.0 197.9h1.1M507.0 198.7h1.1M481.9 198.8h1.1M498.1 196.0h1.1M478.2 200.0h1.1M483.2 196.6h1.1M475.4 202.8h1.1M496.7 194.5h1.1M493.9 195.5h1.1M502.3 195.0h1.1M481.0 192.3h1.1M498.0 198.1h1.1M472.8 193.1h1.1M490.6 201.9h1.1M472.0 196.7h1.1M470.1 191.6h1.1M471.4 202.9h1.1M483.0 191.7h1.1M479.0 200.6h1.1M483.1 199.3h1.1M472.2 197.6h1.1M506.0 201.0h1.1M467.9 201.6h1.1M499.5 196.6h1.1M477.4 202.0h1.1M502.3 201.7h1.1M497.9 201.6h1.1M474.8 202.3h1.1M475.0 194.0h1.1M480.4 192.0h1.1M498.1 201.4h1.1M486.5 195.0h1.1M497.5 196.2h1.1M501.8 197.8h1.1M499.7 201.3h1.1M481.5 197.4h1.1M483.2 201.6h1.1M489.0 196.8h1.1M461.4 190.3h1.1M462.2 193.5h1.1M495.7 200.2h1.1M496.6 194.5h1.1M489.3 198.4h1.1M501.1 197.9h1.1M473.7 193.3h1.1M501.3 201.2h1.1M477.9 197.1h1.1M468.5 202.1h1.1M492.8 193.0h1.1M500.4 202.4h1.1M476.0 202.1h1.1M485.6 195.9h1.1M459.0 193.2h1.1M493.3 194.6h1.1M462.2 196.6h1.1M474.5 201.2h1.1M492.3 200.9h1.1M493.3 200.4h1.1M486.7 192.1h1.1M470.2 189.7h1.1M490.9 197.3h1.1M470.5 196.4h1.1M481.5 201.3h1.1M461.6 195.9h1.1M485.0 201.9h1.1M491.2 195.2h1.1M468.4 202.5h1.1M478.9 190.3h1.1M470.6 201.8h1.1M494.2 193.4h1.1M497.9 201.2h1.1M464.2 192.4h1.1M503.8 201.8h1.1M462.1 196.6h1.1M462.5 188.9h1.1M463.5 189.9h1.1M478.5 199.3h1.1M499.7 201.2h1.1M502.9 201.3h1.1M465.4 198.5h1.1M486.2 200.0h1.1M487.7 203.0h1.1M508.9 200.2h1.1M482.8 194.9h1.1M467.0 196.1h1.1M462.1 194.8h1.1M470.0 198.9h1.1M479.0 194.4h1.1M467.5 200.0h1.1M489.1 197.2h1.1M488.4 202.5h1.1M475.3 190.5h1.1M495.0 196.9h1.1M504.2 199.4h1.1M483.0 200.8h1.1M483.3 197.7h1.1M487.9 191.9h1.1M460.6 195.4h1.1M475.5 200.6h1.1M479.1 191.7h1.1M482.7 201.9h1.1M462.1 189.9h1.1M493.6 197.5h1.1M475.6 191.7h1.1M491.4 193.2h1.1M502.7 200.6h1.1M466.5 202.4h1.1M461.0 189.0h1.1M481.7 190.4h1.1M483.9 195.9h1.1M504.3 196.4h1.1M472.6 190.1h1.1M464.5 197.0h1.1M488.8 198.1h1.1M485.5 194.7h1.1M477.2 194.0h1.1M479.6 200.1h1.1M459.4 189.8h1.1M472.2 197.2h1.1M503.1 202.0h1.1M478.4 200.5h1.1M474.6 197.7h1.1M493.8 203.4h1.1M478.9 195.7h1.1M469.6 195.4h1.1M492.1 202.1h1.1M472.5 196.8h1.1M466.9 190.3h1.1M458.7 193.2h1.1M489.9 195.1h1.1M483.2 191.9h1.1M500.6 198.6h1.1M479.4 198.6h1.1M461.6 197.8h1.1M464.2 199.4h1.1M487.6 198.9h1.1M463.5 198.7h1.1M489.6 194.9h1.1" stroke="#440154" stroke-width="1.1" fill="none"/>
<path d="M504.7 173.3h1.1M494.7 162.4h1.1M488.0 162.1h1.1M509.1 176.5h1.1M488.7 163.8h1.1M496.3 169.6h1.1M515.1 169.3h1.1M500.1 163.7h1.1M502.6 168.9h1.1M489.2 168.3h1.1M509.5 171.9h1.1M501.9 170.3h1.1M482.2 162.6h1.1M496.3 168.3h1.1M485.7 159.9h1.1M507.2 180.4h1.1M498.8 164.9h1.1M500.5 176.1h1.1M487.0 162.9h1.1M495.1 163.3h1.1M499.6 168.2h1.1M504.0 170.1h1.1M498.2 162.9h1.1M490.1 172.2h1.1M512.3 175.9h1.1M501.7 162.5h1.1M496.3 170.5h1.1M508.7 167.3h1.1M504.5 178.5h1.1M501.6 167.4h1.1M480.3 160.8h1.1M505.9 172.1h1.1M517.6 172.3h1.1M506.2 177.5h1.1M513.2 175.7h1.1M512.0 171.0h1.1M505.0 167.5h1.1M495.0 167.6h1.1M498.7 172.0h1.1M492.0 166.0h1.1M491.6 175.2h1.1M499.3 172.7h1.1M489.3 174.1h1.1M501.7 173.4h1.1M484.3 165.6h1.1M492.5 170.8h1.1M498.0 164.2h1.1M508.5 172.4h1.1M506.2 174.8h1.1M489.3 166.3h1.1M495.6 175.1h1.1M483.4 166.5h1.1M488.9 169.6h1.1M487.2 160.3h1.1M487.8 166.0h1.1M510.6 178.6h1.1M487.5 170.4h1.1M513.5 167.5h1.1M495.2 159.5h1.1M490.8 164.9h1.1" stroke="#440154" stroke-width="1.1" fill="none"/>
<path d="M491.7 173.6h1.1M475.9 157.9h1.1M518.5 184.4h1.1M504.7 166.5h1.1M482.6 169.3h1.1M513.5 178.4h1.1M490.9 156.6h1.1M525.6 178.8h1.1M484.5 171.3h1.1M489.2 156.0h1.1M493.1 171.3h1.1M511.2 179.0h1.1M515.1 180.5h1.1M525.6 180.9h1.1M505.1 181.8h1.1M500.7 159.5h1.1M484.3 164.6h1.1M524.0 179.9h1.1M517.9 179.5h1.1M517.9 171.2h1.1M491.0 172.8h1.1M475.5 159.7h1.1M505.2 164.0h1.1M504.2 181.0h1.1M517.8 175.1h1.1M486.7 171.3h1.1M488.8 170.0h1.1M486.1 172.4h1.1M520.5 183.4h1.1M500.7 175.6h1.1M491.7 173.1h1.1M487.8 173.3h1.1M494.4 172.6h1.1M522.0 175.1h1.1M503.4 179.1h1.1M488.9 163.4h1.1M503.9 175.7h1.1M498.0 174.2h1.1M520.5 185.2h1.1M486.1 158.9h1.1M482.4 158.1h1.1M498.2 178.5h1.1M480.6 167.1h1.1M493.3 164.3h1.1M504.9 178.7h1.1M514.1 166.7h1.1M523.0 177.9h1.1M490.2 153.6h1.1M519.6 168.9h1.1M511.0 169.0h1.1M490.9 171.3h1.1M499.8 163.8h1.1M503.6 167.8h1.1M486.6 153.7h1.1M512.1 166.8h1.1M521.8 184.6h1.1M523.1 178.6h1.1M514.7 176.0h1.1M507.5 172.4h1.1M503.9 164.6h1.1M510.2 161.0h1.1M490.9 159.5h1.1M519.8 181.5h1.1M491.9 173.6h1.1M509.0 181.1h1.1M492.9 170.0h1.1M478.8 166.7h1.1M506.2 163.7h1.1M477.5 159.5h1.1M489.3 160.8h1.1M481.3 156.9h1.1M501.5 177.4h1.1M492.1 173.4h1.1M478.7 167.0h1.1M497.2 171.6h1.1M475.8 162.2h1.1M485.2 166.3h1.1M509.2 164.9h1.1M500.8 167.2h1.1M510.2 174.8h1.1M484.0 170.7h1.1M516.3 184.6h1.1M483.3 166.3h1.1M524.8 181.5h1.1M520.4 171.2h1.1M511.3 162.0h1.1M508.3 175.8h1.1M493.6 165.7h1.1M521.8 171.8h1.1M491.5 169.9h1.1M498.7 156.1h1.1M522.4 174.4h1.1M493.5 161.8h1.1M497.3 175.2h1.1M501.2 175.9h1.1M518.1 174.9h1.1M516.6 171.7h1.1M481.8 166.4h1.1M480.6 165.9h1.1M510.2 176.5h1.1M496.0 174.2h1.1M501.8 156.2h1.1M502.4 177.0h1.1M504.2 168.9h1.1M522.5 183.9h1.1M520.9 183.4h1.1M512.5 170.0h1.1M496.5 170.1h1.1M518.4 176.1h1.1M513.5 176.3h1.1M510.2 181.5h1.1M486.9 157.5h1.1M486.1 165.4h1.1M487.3 155.8h1.1M520.7 180.7h1.1M515.5 170.9h1.1M503.4 160.2h1.1M476.8 156.6h1.1M486.9 163.0h1.1M488.6 159.4h1.1M487.7 154.8h1.1M490.2 167.2h1.1M519.5 172.1h1.1M492.0 172.0h1.1M498.0 161.6h1.1M513.6 171.7h1.1M487.3 172.7h1.1M494.4 174.7h1.1M481.7 154.7h1.1M519.3 178.4h1.1M508.7 171.4h1.1M514.2 171.1h1.1M497.2 166.7h1.1M495.7 171.5h1.1M493.7 161.3h1.1M499.3 161.4h1.1M486.0 167.2h1.1M512.2 180.2h1.1M507.3 182.3h1.1M484.5 166.9h1.1M483.1 156.7h1.1M510.2 161.4h1.1M485.9 162.1h1.1M512.4 170.7h1.1M488.3 172.9h1.1M506.3 182.3h1.1M499.3 161.5h1.1M500.7 178.1h1.1M501.9 159.5h1.1M508.4 172.9h1.1M490.4 171.3h1.1M486.3 164.0h1.1M512.3 173.1h1.1M486.8 168.6h1.1M495.1 166.9h1.1M522.1 177.3h1.1M519.7 174.6h1.1M486.7 159.3h1.1M484.9 169.8h1.1M486.8 167.8h1.1M483.3 157.4h1.1M497.2 171.7h1.1M485.5 164.0h1.1M495.9 177.0h1.1M510.8 180.3h1.1M504.5 165.6h1.1M486.8 155.3h1.1M476.1 163.4h1.1M510.4 172.6h1.1M503.0 171.7h1.1M498.3 155.4h1.1M475.0 162.9h1.1M499.9 168.2h1.1M522.3 172.5h1.1M517.0 172.4h1.1M498.0 155.9h1.1M487.6 159.2h1.1M475.0 160.8h1.1M527.1 176.6h1.1M510.0 173.7h1.1M474.6 161.7h1.1M486.9 156.6h1.1M521.2 182.2h1.1M501.7 163.7h1.1M506.0 175.5h1.1M507.5 168.2h1.1M491.0 158.6h1.1M505.9 168.8h1.1M512.0 170.5h1.1M481.6 154.8h1.1M507.3 162.6h1.1M481.0 164.8h1.1M502.9 173.7h1.1M479.4 165.2h1.1M503.0 172.6h1.1M485.6 171.7h1.1M514.3 174.2h1.1M495.6 174.2h1.1M496.5 164.6h1.1M487.2 156.0h1.1M498.7 172.1h1.1M509.4 182.5h1.1M490.7 166.3h1.1M484.9 155.2h1.1M504.8 174.0h1.1M497.2 173.0h1.1M491.9 167.0h1.1M486.2 157.6h1.1M505.2 169.7h1.1M488.0 157.8h1.1M513.8 169.0h1.1M512.1 178.0h1.1M495.4 166.6h1.1M508.0 165.9h1.1M502.6 156.7h1.1M523.7 181.9h1.1M485.7 171.1h1.1M503.1 179.4h1.1M481.5 168.5h1.1M522.2 174.7h1.1M490.3 158.3h1.1M487.1 158.9h1.1M478.2 162.1h1.1M481.3 165.8h1.1M481.3 162.7h1.1M495.4 176.4h1.1M494.6 160.5h1.1M487.0 171.0h1.1M502.2 159.6h1.1M484.6 158.9h1.1M506.7 177.8h1.1M528.1 180.7h1.1M508.5 166.7h1.1M518.0 169.2h1.1M510.0 169.1h1.1M490.4 174.7h1.1M501.1 163.6h1.1M480.5 160.3h1.1M505.0 166.4h1.1M494.0 170.8h1.1M491.4 169.5h1.1M500.7 163.7h1.1M514.4 165.1h1.1M514.6 179.9h1.1M514.9 172.1h1.1M509.6 181.2h1.1M503.3 179.1h1.1M498.9 167.8h1.1M506.7 161.7h1.1M520.1 176.0h1.1M526.7 177.2h1.1M502.0 173.1h1.1M502.3 169.2h1.1M493.8 176.2h1.1M516.8 179.6h1.1M504.0 162.2h1.1M517.1 170.6h1.1M501.1 170.0h1.1M489.9 168.8h1.1M486.6 171.8h1.1M503.2 158.8h1.1M481.9 169.0h1.1M482.7 168.5h1.1M523.2 178.8h1.1M525.0 180.0h1.1M487.2 164.3h1.1M511.6 175.9h1.1M494.7 158.5h1.1M474.7 159.9h1.1M490.5 165.6h1.1M499.3 177.7h1.1M524.1 173.0h1.1M482.6 157.6h1.1M523.2 182.6h1.1M499.1 170.8h1.1M515.4 179.4h1.1M512.7 164.8h1.1M507.7 170.4h1.1M480.9 155.0h1.1M493.8 154.7h1.1M495.9 154.8h1.1M512.2 166.8h1.1M506.5 168.4h1.1M495.1 155.2h1.1M481.9 162.7h1.1M486.2 158.9h1.1M504.9 159.2h1.1M482.7 163.1h1.1M478.7 165.8h1.1M514.8 175.1h1.1M504.1 162.5h1.1M521.8 181.1h1.1M504.6 181.7h1.1M499.3 168.2h1.1M499.9 167.8h1.1M487.3 167.4h1.1M514.6 182.1h1.1M513.5 173.3h1.1M508.7 167.2h1.1M488.6 160.8h1.1M508.2 177.2h1.1M508.6 173.2h1.1M513.0 178.8h1.1M480.8 166.9h1.1M483.6 154.9h1.1M499.7 172.9h1.1M496.2 164.4h1.1M505.6 177.1h1.1M514.2 164.5h1.1M495.6 162.3h1.1M503.5 168.7h1.1M483.9 164.7h1.1M483.8 161.0h1.1M489.2 164.5h1.1M526.4 181.5h1.1M512.3 183.2h1.1M517.3 170.8h1.1M502.1 162.2h1.1M511.4 178.9h1.1M482.0 161.8h1.1M525.4 180.1h1.1M517.7 167.4h1.1M480.9 164.0h1.1M485.9 158.2h1.1M507.1 170.0h1.1M485.5 155.2h1.1M506.2 161.9h1.1M493.0 162.4h1.1M509.2 162.7h1.1M513.8 169.7h1.1M525.0 174.2h1.1M500.1 179.2h1.1M480.0 163.0h1.1M495.0 161.5h1.1M481.8 166.2h1.1M475.5 158.7h1.1M489.7 160.7h1.1M522.6 174.7h1.1M509.8 169.2h1.1M526.7 177.6h1.1M493.0 163.4h1.1M497.2 160.9h1.1M505.3 158.7h1.1M478.2 166.8h1.1M482.0 169.9h1.1M506.9 179.4h1.1M501.2 170.9h1.1M499.4 164.5h1.1M503.6 159.3h1.1M486.0 155.2h1.1M490.3 173.4h1.1M519.8 182.2h1.1M476.5 157.2h1.1M487.9 170.3h1.1M499.9 163.0h1.1M493.7 171.1h1.1M511.6 171.6h1.1M514.7 183.4h1.1M500.0 172.7h1.1M499.7 167.8h1.1M515.9 165.2h1.1M497.4 168.7h1.1M487.4 170.4h1.1M501.3 160.1h1.1M487.4 156.3h1.1M502.1 157.3h1.1M509.6 179.8h1.1M510.8 163.7h1.1M483.0 160.6h1.1M504.6 178.1h1.1M508.9 182.5h1.1M511.9 178.3h1.1M495.1 165.6h1.1M521.3 170.4h1.1M495.3 170.0h1.1M472.3 159.5h1.1M493.7 157.6h1.1M492.9 171.1h1.1M504.3 165.2h1.1M522.6 181.6h1.1M516.6 172.7h1.1M494.8 172.1h1.1M502.0 173.3h1.1M476.7 162.8h1.1M500.5 165.0h1.1M490.2 169.8h1.1M497.7 160.8h1.1M501.6 169.9h1.1M513.1 177.7h1.1M478.0 162.7h1.1M521.7 175.6h1.1M489.7 166.6h1.1M496.6 161.0h1.1M492.5 162.8h1.1M473.0 160.5h1.1M506.6 176.8h1.1M492.7 160.5h1.1M496.2 173.1h1.1M514.2 175.2h1.1M503.8 166.9h1.1M513.0 166.0h1.1M507.0 180.7h1.1M517.7 184.3h1.1M497.6 173.9h1.1M512.5 172.7h1.1M512.7 169.9h1.1M500.8 165.2h1.1M523.4 180.1h1.1M511.1 173.3h1.1M489.5 158.5h1.1M496.6 170.1h1.1M506.5 158.3h1.1M503.7 158.0h1.1M495.9 164.3h1.1M496.2 157.3h1.1M502.6 162.9h1.1M499.5 178.7h1.1M495.5 168.3h1.1M484.9 169.7h1.1M475.0 161.0h1.1M507.2 171.2h1.1M503.9 159.5h1.1M505.4 178.3h1.1M478.3 156.5h1.1M514.5 175.2h1.1M478.0 163.5h1.1M483.2 155.2h1.1M498.6 165.3h1.1M497.0 159.3h1.1M484.8 169.5h1.1" stroke="#3b528b" stroke-width="1.1" fill="none"/>
<path d="M522.2 191.3h1.1M530.5 198.0h1.1M531.6 188.4h1.1M515.4 190.4h1.1M530.0 195.0h1.1M517.7 188.5h1.1M520.6 176.9h1.1M525.0 179.9h1.1M537.7 192.8h1.1M533.9 197.5h1.1M535.7 195.2h1.1M529.1 187.6h1.1M539.9 186.5h1.1M522.5 193.8h1.1M529.2 180.9h1.1M529.8 188.6h1.1M533.0 198.0h1.1M514.5 186.1h1.1M535.9 183.1h1.1M517.1 181.5h1.1M516.2 180.8h1.1M533.0 196.6h1.1M519.1 181.5h1.1M518.4 195.9h1.1M526.5 175.0h1.1M521.4 191.9h1.1M532.5 198.1h1.1M525.9 182.1h1.1M539.1 192.4h1.1M540.2 181.2h1.1M526.1 194.9h1.1M529.9 189.3h1.1M542.9 196.3h1.1M534.5 185.1h1.1M526.8 189.6h1.1M515.5 185.9h1.1M517.1 195.7h1.1M536.3 192.1h1.1M532.7 189.9h1.1M538.5 177.5h1.1M543.7 184.0h1.1M545.0 186.5h1.1M531.7 182.7h1.1M521.1 188.1h1.1M514.7 179.2h1.1M539.3 182.9h1.1M520.0 191.8h1.1M535.7 176.8h1.1M532.2 173.8h1.1M517.2 182.6h1.1M539.7 181.4h1.1M531.9 195.1h1.1M539.0 188.7h1.1M536.3 197.8h1.1M535.5 187.4h1.1M519.2 188.2h1.1M512.4 187.4h1.1M534.3 182.5h1.1M515.5 180.0h1.1M518.0 189.5h1.1M541.7 188.6h1.1M525.9 181.0h1.1M530.5 197.8h1.1M545.9 190.3h1.1M533.6 195.2h1.1M540.9 185.5h1.1M530.7 198.5h1.1M534.7 186.9h1.1M512.1 188.8h1.1M521.9 197.6h1.1M531.1 192.0h1.1M517.7 178.1h1.1M517.0 190.6h1.1M530.1 183.7h1.1M536.1 181.7h1.1M530.7 191.8h1.1M520.3 191.9h1.1M511.8 186.4h1.1M516.6 195.9h1.1M529.2 174.8h1.1M544.3 187.2h1.1M512.5 183.1h1.1M517.2 191.4h1.1M531.6 197.8h1.1M520.6 182.5h1.1M542.3 180.9h1.1M529.4 187.3h1.1M528.3 192.3h1.1M526.7 184.5h1.1M532.4 190.1h1.1M525.5 184.9h1.1M525.2 186.5h1.1M522.8 178.8h1.1M520.1 183.0h1.1M520.5 189.9h1.1M537.7 192.2h1.1M540.2 183.3h1.1M536.9 187.2h1.1M518.2 195.0h1.1M538.0 177.7h1.1M525.7 186.8h1.1M546.2 191.8h1.1M526.5 197.9h1.1M519.8 188.6h1.1M520.9 176.8h1.1M515.0 181.6h1.1M512.4 188.1h1.1M532.9 193.5h1.1M541.3 191.9h1.1M539.0 189.8h1.1M535.2 192.7h1.1M516.5 192.7h1.1M534.1 192.3h1.1M538.6 186.0h1.1M540.9 192.0h1.1M544.7 196.5h1.1M517.4 192.3h1.1M515.2 186.6h1.1M541.6 186.1h1.1M519.2 194.3h1.1M537.0 196.5h1.1M532.2 197.9h1.1M527.8 180.1h1.1M520.1 191.7h1.1M528.3 181.1h1.1M530.4 198.3h1.1M540.8 194.4h1.1M521.8 196.8h1.1M518.6 194.7h1.1M527.3 192.0h1.1M520.8 177.7h1.1M513.7 183.6h1.1M514.1 194.5h1.1M532.5 174.7h1.1M538.5 191.5h1.1M539.7 175.3h1.1M525.3 197.4h1.1M525.5 176.1h1.1M517.8 187.8h1.1M522.9 184.4h1.1M531.0 197.6h1.1M541.0 191.6h1.1M544.1 185.6h1.1M518.5 190.6h1.1M521.7 197.2h1.1M540.8 195.7h1.1M526.3 180.2h1.1M539.9 196.6h1.1M544.7 184.2h1.1M539.2 183.9h1.1M528.1 180.9h1.1M533.0 174.8h1.1M530.4 182.8h1.1M539.1 175.3h1.1M522.5 175.5h1.1M529.2 188.2h1.1M522.3 191.4h1.1M540.6 191.8h1.1M521.7 186.9h1.1M539.7 194.0h1.1M532.4 176.1h1.1M520.5 189.8h1.1M515.5 185.8h1.1M541.9 180.6h1.1M518.2 184.5h1.1M536.5 180.3h1.1M523.9 194.7h1.1M536.8 179.0h1.1M534.3 195.2h1.1M537.4 180.3h1.1M524.1 189.3h1.1M539.8 177.0h1.1M538.8 184.8h1.1M519.2 192.2h1.1M513.4 186.3h1.1M525.8 176.4h1.1M545.3 182.7h1.1M531.6 173.6h1.1M531.9 180.2h1.1M519.7 194.9h1.1M545.2 196.0h1.1M520.4 193.1h1.1M524.4 178.5h1.1M529.2 172.7h1.1M520.8 182.8h1.1M539.3 190.7h1.1M529.6 179.4h1.1M517.0 193.7h1.1M544.4 188.9h1.1M516.1 195.8h1.1M535.5 191.0h1.1M515.3 196.1h1.1M526.4 176.5h1.1M526.5 191.1h1.1M528.9 199.4h1.1M533.2 182.6h1.1M531.7 174.9h1.1M547.0 188.7h1.1M538.4 174.7h1.1M524.2 182.8h1.1M525.1 194.3h1.1M514.5 188.6h1.1M519.4 194.4h1.1M510.2 188.0h1.1M541.7 189.8h1.1M520.4 188.9h1.1M535.5 179.2h1.1M528.4 198.8h1.1M513.8 184.8h1.1M533.0 196.8h1.1M541.1 183.1h1.1M528.0 192.5h1.1M528.1 193.6h1.1M521.4 183.4h1.1M520.7 188.1h1.1M526.9 194.9h1.1M523.7 192.7h1.1M522.7 193.3h1.1M521.5 185.8h1.1M538.0 181.1h1.1M516.3 182.7h1.1M519.3 183.3h1.1M526.7 189.9h1.1M535.9 175.9h1.1M540.4 191.3h1.1M543.6 182.5h1.1M541.4 176.7h1.1M534.3 194.9h1.1M518.3 195.4h1.1M516.9 177.6h1.1M541.5 183.5h1.1M541.7 178.5h1.1M529.2 178.4h1.1M525.6 175.9h1.1M517.7 182.7h1.1M519.4 180.9h1.1M532.0 195.8h1.1M514.1 180.8h1.1M524.3 181.2h1.1M530.6 188.7h1.1M545.5 186.2h1.1M531.5 190.1h1.1M539.0 186.2h1.1M515.9 193.9h1.1M519.7 185.9h1.1M519.7 187.9h1.1M537.6 192.9h1.1M521.0 185.4h1.1M537.1 184.9h1.1M546.9 186.0h1.1M545.7 182.1h1.1M516.2 194.0h1.1M522.1 197.6h1.1M535.7 185.5h1.1M514.7 185.0h1.1M532.4 178.6h1.1M530.2 173.7h1.1M542.7 176.8h1.1M541.1 190.0h1.1M541.4 196.2h1.1M537.3 185.0h1.1M534.9 185.8h1.1M535.5 195.0h1.1M514.2 192.8h1.1M528.6 187.9h1.1M536.3 175.1h1.1M515.5 179.6h1.1M531.0 196.7h1.1M522.2 192.7h1.1M545.3 185.0h1.1M514.2 186.9h1.1M529.4 173.5h1.1M528.3 181.3h1.1M538.8 182.2h1.1M521.5 189.8h1.1M517.2 191.9h1.1M543.3 197.0h1.1M539.6 197.3h1.1M518.8 179.5h1.1M537.4 194.5h1.1M526.6 194.6h1.1M527.4 177.0h1.1M526.9 187.8h1.1M536.7 197.0h1.1M534.6 186.6h1.1M526.3 187.2h1.1M512.5 189.1h1.1M525.7 193.0h1.1M530.1 187.9h1.1M522.3 179.7h1.1M537.9 187.3h1.1M530.8 179.5h1.1M546.4 187.3h1.1M518.3 194.9h1.1M539.8 179.8h1.1M527.4 181.2h1.1M519.2 195.2h1.1M546.0 186.9h1.1M547.8 186.4h1.1M522.6 192.8h1.1M540.7 176.5h1.1M515.6 182.9h1.1M532.2 195.8h1.1M525.2 190.1h1.1M534.8 176.9h1.1M519.8 196.2h1.1M513.7 186.7h1.1M519.8 190.6h1.1M524.1 184.5h1.1M522.6 195.9h1.1M544.3 191.5h1.1M528.0 177.7h1.1M532.6 198.7h1.1M538.7 179.1h1.1M530.2 193.6h1.1M521.7 185.0h1.1M532.8 182.4h1.1M516.1 191.7h1.1M534.0 187.7h1.1M523.4 177.1h1.1M538.3 193.9h1.1M532.6 183.6h1.1M519.5 195.7h1.1M533.8 195.0h1.1M535.8 183.9h1.1M535.5 177.5h1.1M527.6 184.6h1.1M531.6 180.3h1.1M523.9 194.8h1.1M538.9 182.8h1.1M542.3 177.9h1.1M516.5 184.7h1.1M517.8 189.8h1.1M535.8 179.5h1.1M533.2 195.6h1.1M510.9 186.3h1.1M524.0 194.0h1.1M510.7 187.9h1.1M523.8 187.8h1.1M538.1 182.0h1.1M545.8 183.7h1.1M511.9 185.4h1.1M537.3 180.0h1.1M519.8 188.5h1.1M534.5 178.8h1.1M518.2 186.6h1.1M540.3 183.2h1.1M539.5 197.7h1.1M538.1 177.9h1.1M529.7 199.5h1.1M537.2 185.0h1.1M531.2 193.4h1.1M533.2 185.2h1.1M525.8 174.3h1.1M536.4 185.3h1.1M514.9 194.9h1.1M523.6 188.7h1.1M528.5 178.4h1.1M527.8 178.0h1.1M539.3 183.1h1.1" stroke="#21918c" stroke-width="1.1" fill="none"/>
<path d="M461.6 167.4h1.1M456.3 161.4h1.1M460.5 157.2h1.1M457.6 163.8h1.1M463.6 154.7h1.1M464.7 161.0h1.1M466.7 160.7h1.1M481.2 156.0h1.1M461.6 164.7h1.1M483.0 153.7h1.1M462.6 162.3h1.1M461.3 156.5h1.1M460.7 159.6h1.1M467.7 160.1h1.1M460.4 169.0h1.1M462.8 158.9h1.1M465.5 157.1h1.1M480.8 152.7h1.1M463.8 166.2h1.1M459.6 166.5h1.1M471.2 162.6h1.1M475.3 160.4h1.1M458.4 161.1h1.1M459.6 159.5h1.1M477.0 156.9h1.1M457.0 163.3h1.1M473.1 154.1h1.1M459.1 162.9h1.1M464.4 156.6h1.1M462.0 166.3h1.1M474.6 156.3h1.1M483.5 154.9h1.1M469.7 156.6h1.1M461.3 163.4h1.1M468.1 161.4h1.1M464.4 164.7h1.1M469.7 157.5h1.1M465.7 165.7h1.1M466.2 156.9h1.1M454.9 165.2h1.1M459.2 164.9h1.1M461.5 155.7h1.1M474.2 156.3h1.1M469.7 153.2h1.1M465.6 159.4h1.1M464.7 156.2h1.1M465.2 158.8h1.1M467.5 156.0h1.1M458.9 161.3h1.1M482.3 153.0h1.1M469.7 156.0h1.1M480.5 153.8h1.1M467.3 153.9h1.1M467.3 163.6h1.1M469.7 155.4h1.1M465.2 158.4h1.1M478.4 154.6h1.1M463.1 154.6h1.1M475.8 152.3h1.1M466.7 157.4h1.1M458.9 162.1h1.1M484.0 154.0h1.1M456.1 160.0h1.1M466.4 164.9h1.1M457.5 164.9h1.1M463.0 155.5h1.1M474.4 157.0h1.1M462.4 162.2h1.1M462.0 162.4h1.1M461.6 167.1h1.1M472.0 159.9h1.1M461.3 162.9h1.1M467.1 157.9h1.1M468.2 156.7h1.1M480.8 158.0h1.1M477.7 158.3h1.1M473.9 159.4h1.1M476.2 155.4h1.1M461.7 155.9h1.1M473.7 159.7h1.1M457.8 161.0h1.1M464.3 154.7h1.1M473.1 160.8h1.1M467.0 163.4h1.1M472.8 161.2h1.1M476.8 159.4h1.1M475.3 157.1h1.1M458.0 164.9h1.1M477.4 160.2h1.1M480.2 156.0h1.1M475.1 153.5h1.1M470.8 158.4h1.1M464.5 158.5h1.1M457.1 163.0h1.1M469.5 155.7h1.1M478.1 153.1h1.1M468.7 158.3h1.1M460.8 167.3h1.1M459.2 161.0h1.1M479.7 159.4h1.1M456.0 161.0h1.1M474.0 160.7h1.1M460.5 162.9h1.1M460.0 165.4h1.1M461.3 162.2h1.1M467.8 155.3h1.1M467.4 160.9h1.1M459.0 158.3h1.1M468.5 160.0h1.1M470.8 159.6h1.1M456.4 167.0h1.1M478.1 159.5h1.1M462.6 163.1h1.1M473.6 160.3h1.1M468.2 153.6h1.1M457.3 164.1h1.1M460.6 166.0h1.1M465.0 163.7h1.1M457.3 168.1h1.1M472.4 159.6h1.1M456.6 159.8h1.1M464.1 158.1h1.1M458.2 167.4h1.1M456.8 160.5h1.1M478.7 160.3h1.1M473.7 156.0h1.1M456.7 163.0h1.1M480.3 154.0h1.1M470.1 155.2h1.1M474.7 158.1h1.1M460.4 157.5h1.1M478.9 155.9h1.1M470.7 161.4h1.1M480.0 156.1h1.1M458.0 166.8h1.1M456.6 168.8h1.1M461.1 167.3h1.1M483.4 154.9h1.1M461.4 168.8h1.1M463.4 161.8h1.1M455.8 165.1h1.1M467.0 153.4h1.1M461.8 157.6h1.1M461.2 164.5h1.1M474.2 154.7h1.1M477.1 153.5h1.1M460.3 161.2h1.1M474.9 160.2h1.1M458.6 162.7h1.1M465.0 157.4h1.1M464.3 164.4h1.1M465.1 165.3h1.1M455.7 162.0h1.1M461.5 161.8h1.1M478.9 152.6h1.1M472.2 162.2h1.1M469.8 156.1h1.1M483.9 154.2h1.1M478.1 159.9h1.1M477.6 157.6h1.1M468.4 160.2h1.1M461.0 158.4h1.1M468.3 160.5h1.1M473.9 153.5h1.1M471.0 156.6h1.1M462.4 158.8h1.1M462.8 155.4h1.1M464.3 161.8h1.1M474.9 154.9h1.1M479.4 156.0h1.1M462.5 166.8h1.1M462.2 167.1h1.1M462.8 159.4h1.1M465.4 158.2h1.1M470.6 156.8h1.1M468.3 153.6h1.1M458.1 167.4h1.1M461.6 165.9h1.1M483.3 154.9h1.1M479.4 153.9h1.1" stroke="#5ec962" stroke-width="1.1" fill="none"/>
<path d="M516.1 158.4h1.1M521.6 165.1h1.1M523.8 165.6h1.1M520.6 160.9h1.1" stroke="#fde725" stroke-width="1.1" fill="none"/>
<path d="M610.3 172.1h1.1M604.1 190.5h1.1M587.3 165.2h1.1M582.5 184.6h1.1M611.3 174.7h1.1M585.9 160.9h1.1M611.4 171.2h1.1M586.3 186.3h1.1M613.1 193.4h1.1M603.6 188.6h1.1M576.5 180.6h1.1M607.3 182.8h1.1M579.6 189.6h1.1M591.4 167.3h1.1M572.3 183.6h1.1M609.2 175.7h1.1M588.7 189.8h1.1M575.5 163.4h1.1M597.5 173.2h1.1M604.2 181.7h1.1M582.7 169.8h1.1M577.0 183.3h1.1M578.5 193.2h1.1M587.6 163.9h1.1M598.0 161.9h1.1M593.7 169.6h1.1M605.3 185.2h1.1M569.2 179.6h1.1M567.9 172.9h1.1M570.7 184.4h1.1M568.1 177.6h1.1M596.1 160.6h1.1M583.5 166.4h1.1M582.2 185.6h1.1M579.4 185.8h1.1M598.2 166.0h1.1M587.9 172.5h1.1M610.3 190.2h1.1M577.7 162.3h1.1M582.0 183.0h1.1M590.8 179.2h1.1M577.6 162.5h1.1M575.6 194.5h1.1M576.8 165.4h1.1M586.4 188.0h1.1M576.3 184.3h1.1M590.7 193.8h1.1M615.8 179.4h1.1M574.7 173.0h1.1M576.8 169.3h1.1M604.5 185.3h1.1M596.3 164.7h1.1M567.6 170.2h1.1M601.9 188.6h1.1M571.0 189.5h1.1M579.1 192.0h1.1M567.7 179.7h1.1M601.8 165.0h1.1M586.2 187.2h1.1M592.4 165.8h1.1M591.7 185.0h1.1M591.0 165.0h1.1M621.1 185.1h1.1M604.4 167.1h1.1M575.1 172.6h1.1M614.0 186.3h1.1M602.3 177.9h1.1M611.7 195.3h1.1M587.4 195.6h1.1M579.6 159.9h1.1M610.0 188.1h1.1M600.7 190.5h1.1M571.5 190.5h1.1M603.8 177.7h1.1M584.8 193.1h1.1M565.9 179.8h1.1M594.0 173.5h1.1M590.8 180.6h1.1M583.5 169.0h1.1M589.0 168.1h1.1M603.8 192.6h1.1M591.7 193.1h1.1M590.6 196.4h1.1M571.7 176.9h1.1M596.1 168.7h1.1M621.9 185.1h1.1M577.7 162.9h1.1M604.2 190.0h1.1M609.9 190.5h1.1M574.2 170.8h1.1M571.6 168.1h1.1M601.0 169.0h1.1M575.3 166.6h1.1M608.4 166.3h1.1M568.5 177.4h1.1M620.6 188.4h1.1M590.9 184.0h1.1M614.0 178.2h1.1M598.9 166.1h1.1M618.1 181.7h1.1M601.3 162.8h1.1M603.7 193.2h1.1M586.5 170.6h1.1M590.5 172.8h1.1M612.6 171.9h1.1M573.9 185.2h1.1M593.1 181.7h1.1M568.8 180.7h1.1M603.6 171.9h1.1M577.3 193.8h1.1M599.0 168.4h1.1M616.8 188.3h1.1M597.6 182.9h1.1M577.6 192.1h1.1M612.6 175.5h1.1M571.9 189.2h1.1M582.1 195.8h1.1M603.4 177.1h1.1M576.2 181.5h1.1M596.2 160.9h1.1M598.4 180.1h1.1M598.0 179.7h1.1M600.0 172.8h1.1M581.6 164.0h1.1M609.7 179.3h1.1M602.6 166.0h1.1M578.7 192.4h1.1M578.9 180.7h1.1M613.2 184.9h1.1M568.8 170.1h1.1M619.1 189.7h1.1M566.8 173.4h1.1M589.6 191.4h1.1M583.7 187.1h1.1M597.0 164.1h1.1M599.9 187.7h1.1M613.3 170.7h1.1M580.7 180.1h1.1M593.8 175.6h1.1M581.8 161.7h1.1M610.6 171.1h1.1M593.3 168.4h1.1M592.8 193.5h1.1M620.8 180.3h1.1M567.6 185.3h1.1M569.0 185.0h1.1M577.1 162.1h1.1M610.5 171.5h1.1M620.2 179.7h1.1M574.6 171.8h1.1" stroke="#440154" stroke-width="1.1" fill="none"/>
<path d="M573.7 189.2h1.1M578.0 186.7h1.1M594.9 183.9h1.1M586.6 192.2h1.1M580.6 176.6h1.1M572.2 183.1h1.1M590.0 182.6h1.1M593.0 181.1h1.1M586.8 181.1h1.1M578.1 182.9h1.1M590.4 189.3h1.1M572.3 189.8h1.1M571.2 184.3h1.1M574.7 188.4h1.1M587.8 187.5h1.1M577.7 188.1h1.1M573.5 189.1h1.1M571.7 186.1h1.1M591.8 189.5h1.1M586.1 188.6h1.1M586.3 183.3h1.1M589.1 181.2h1.1M583.4 181.0h1.1M586.2 182.8h1.1M580.5 191.7h1.1M583.8 184.1h1.1M572.8 179.2h1.1M587.9 184.9h1.1M592.1 180.1h1.1M581.9 181.2h1.1M573.9 184.3h1.1M588.1 180.3h1.1M570.6 180.6h1.1M592.4 185.8h1.1M593.4 189.0h1.1M579.1 187.6h1.1M589.1 191.4h1.1M595.0 188.6h1.1M594.2 189.5h1.1M584.1 182.5h1.1M578.6 190.8h1.1M595.4 185.6h1.1M573.0 185.2h1.1M592.1 188.5h1.1M578.1 189.7h1.1M570.7 180.7h1.1M587.1 185.7h1.1M582.4 188.1h1.1M573.3 185.5h1.1M583.6 186.9h1.1M572.9 185.8h1.1M578.2 184.0h1.1M580.3 179.0h1.1M586.7 190.4h1.1M589.8 189.8h1.1M575.1 187.9h1.1M591.1 188.4h1.1M586.7 186.9h1.1M583.6 190.8h1.1M584.6 183.7h1.1M589.6 186.3h1.1M578.0 182.1h1.1M586.4 187.8h1.1M583.6 182.0h1.1M586.7 186.6h1.1M580.6 180.0h1.1M592.0 188.6h1.1M584.5 183.9h1.1M589.8 190.7h1.1M589.2 180.5h1.1M583.7 181.7h1.1M575.1 179.3h1.1M592.1 186.3h1.1M572.4 183.1h1.1M578.6 178.7h1.1M571.8 183.6h1.1M594.0 182.3h1.1M594.1 183.5h1.1M574.6 179.2h1.1M570.4 180.9h1.1M572.9 187.9h1.1M574.2 188.4h1.1M583.7 191.8h1.1M582.8 185.3h1.1M583.7 177.6h1.1M573.7 187.7h1.1M585.8 189.5h1.1M579.2 188.3h1.1M577.8 183.8h1.1M578.5 179.7h1.1" stroke="#440154" stroke-width="1.1" fill="none"/>
<path d="M574.6 157.7h1.1M583.0 162.6h1.1M582.2 158.4h1.1M570.5 159.6h1.1M581.1 164.6h1.1M584.1 163.0h1.1M577.7 155.9h1.1M577.8 157.7h1.1M571.7 162.5h1.1M568.7 159.9h1.1M581.8 158.3h1.1M568.4 161.8h1.1M584.8 161.9h1.1M578.4 165.4h1.1M587.8 159.3h1.1M577.6 166.5h1.1M570.0 164.0h1.1M574.3 164.6h1.1M566.8 160.0h1.1M586.3 159.8h1.1M576.9 158.8h1.1M576.9 165.4h1.1M585.2 157.8h1.1M587.4 161.2h1.1M571.7 158.6h1.1" stroke="#5ec962" stroke-width="1.1" fill="none"/>
<path d="M601.8 166.1h1.1M617.7 166.0h1.1M604.7 160.5h1.1M604.2 168.4h1.1M623.3 167.6h1.1M617.9 171.4h1.1M610.4 155.7h1.1M604.1 157.7h1.1M618.5 164.6h1.1M626.6 182.9h1.1M626.4 162.6h1.1M613.1 156.1h1.1M626.6 182.8h1.1M620.5 176.0h1.1M619.8 173.8h1.1M630.5 175.4h1.1M630.5 179.0h1.1M610.5 166.9h1.1M625.8 182.6h1.1M619.5 160.2h1.1M609.4 172.1h1.1M609.9 164.5h1.1M622.4 178.8h1.1M615.6 159.8h1.1M622.7 178.1h1.1M619.1 172.7h1.1M625.6 169.7h1.1M620.6 158.3h1.1M624.1 183.2h1.1M605.5 163.3h1.1M610.3 157.4h1.1M614.1 168.0h1.1M616.6 160.5h1.1M632.3 175.8h1.1M614.1 158.3h1.1M611.1 174.1h1.1M625.9 168.5h1.1M609.8 164.4h1.1M606.3 166.1h1.1M615.0 163.5h1.1M620.7 177.5h1.1M606.9 161.8h1.1M619.0 158.1h1.1M623.8 169.8h1.1M606.3 155.8h1.1M600.7 160.6h1.1M616.1 162.7h1.1M605.9 164.5h1.1M612.8 153.8h1.1M615.8 165.5h1.1M606.0 158.3h1.1M616.2 161.5h1.1M618.2 174.0h1.1M607.7 155.6h1.1M623.0 162.0h1.1M615.3 171.2h1.1M627.4 177.3h1.1M623.6 179.6h1.1M605.8 163.8h1.1M629.1 180.5h1.1M612.2 155.7h1.1M598.5 156.2h1.1M621.2 162.6h1.1M625.1 180.4h1.1M609.2 160.5h1.1M628.6 173.1h1.1M622.0 165.3h1.1M613.9 157.2h1.1M620.3 178.9h1.1M607.5 160.4h1.1M620.3 164.8h1.1M605.5 154.8h1.1M624.2 167.8h1.1M629.1 171.6h1.1M622.9 170.4h1.1M623.6 183.8h1.1M605.6 164.0h1.1M597.4 156.2h1.1M615.5 172.9h1.1M609.9 166.6h1.1M625.3 177.1h1.1M619.8 167.1h1.1M619.1 158.3h1.1M621.6 164.3h1.1M612.9 169.6h1.1M612.9 172.6h1.1M598.5 154.6h1.1M613.8 170.2h1.1M605.2 162.4h1.1M627.9 170.9h1.1" stroke="#3b528b" stroke-width="1.1" fill="none"/>
<path d="M619.5 177.5h1.1M625.1 189.2h1.1M648.5 191.0h1.1M619.5 183.4h1.1M648.8 177.0h1.1M632.2 174.7h1.1M634.1 176.1h1.1M628.4 180.3h1.1M642.8 175.9h1.1M635.7 185.6h1.1M630.8 171.9h1.1M628.9 170.9h1.1M633.0 182.0h1.1M626.2 176.2h1.1M637.3 190.0h1.1M623.2 183.3h1.1M639.0 194.5h1.1M636.6 175.3h1.1M625.7 184.1h1.1M645.7 185.9h1.1M622.1 173.8h1.1M643.9 194.7h1.1M622.8 173.5h1.1M638.6 173.6h1.1M641.2 179.5h1.1M622.6 183.8h1.1M625.7 189.9h1.1M640.3 181.3h1.1M646.6 185.6h1.1M627.1 181.0h1.1M626.6 171.2h1.1M651.6 192.6h1.1M641.0 173.2h1.1M645.3 191.8h1.1M642.5 175.9h1.1M622.2 174.4h1.1M649.6 190.8h1.1M628.1 183.8h1.1M623.0 181.3h1.1M633.6 183.0h1.1M639.3 196.1h1.1M645.0 178.2h1.1M640.8 185.3h1.1M641.6 174.8h1.1M648.3 176.0h1.1M631.9 191.3h1.1M626.6 177.2h1.1M643.2 181.8h1.1M644.6 187.3h1.1M622.0 180.0h1.1M621.0 185.5h1.1M637.0 179.9h1.1M639.0 190.3h1.1M644.8 186.3h1.1M654.4 185.7h1.1M624.1 190.2h1.1M636.8 186.8h1.1M641.8 184.8h1.1M638.2 190.3h1.1M621.5 185.0h1.1M624.2 184.0h1.1M626.1 172.7h1.1M649.3 186.2h1.1M649.4 187.8h1.1M622.9 172.2h1.1M620.3 184.6h1.1M621.6 180.1h1.1M630.5 190.2h1.1M634.6 191.7h1.1M627.2 186.1h1.1M641.1 174.3h1.1M625.2 188.9h1.1M648.9 186.9h1.1M624.2 175.9h1.1M645.8 184.0h1.1M636.9 186.3h1.1M638.3 186.5h1.1M630.6 186.9h1.1M636.5 177.1h1.1M626.6 179.4h1.1M648.5 195.7h1.1M647.7 175.1h1.1M621.5 176.1h1.1M640.5 189.1h1.1M626.6 171.6h1.1M643.7 180.2h1.1M638.2 175.7h1.1M630.9 175.4h1.1M651.3 189.9h1.1M637.4 173.4h1.1M646.3 180.0h1.1M643.1 182.1h1.1M642.4 189.8h1.1M649.3 193.8h1.1M652.6 192.1h1.1M642.0 187.8h1.1M632.1 187.5h1.1M625.9 179.7h1.1M634.3 189.3h1.1M632.6 186.9h1.1M621.6 181.4h1.1M631.5 173.9h1.1M635.9 179.7h1.1M647.2 190.5h1.1M630.9 179.9h1.1M652.8 188.1h1.1M653.9 189.1h1.1M621.5 173.6h1.1M646.8 185.0h1.1M626.0 182.5h1.1M634.7 189.7h1.1M636.8 176.8h1.1M632.7 182.6h1.1M627.6 182.1h1.1M646.4 195.6h1.1M641.4 179.3h1.1M640.8 192.2h1.1M631.6 184.4h1.1M634.7 173.4h1.1M633.4 189.3h1.1M635.5 187.0h1.1M620.1 183.8h1.1M648.6 181.0h1.1M633.3 195.7h1.1M640.2 195.6h1.1M624.7 179.9h1.1M642.8 194.6h1.1M653.8 182.8h1.1M639.8 183.9h1.1M635.7 192.7h1.1M637.7 181.5h1.1M629.3 186.6h1.1M620.8 180.3h1.1M639.4 182.6h1.1M633.2 176.7h1.1M645.0 193.7h1.1M633.3 172.8h1.1M624.7 180.7h1.1M646.4 187.6h1.1M634.2 179.6h1.1M629.9 171.5h1.1M637.2 181.3h1.1M655.9 186.1h1.1M632.5 174.2h1.1M627.1 189.3h1.1M639.4 189.4h1.1M642.6 196.7h1.1M642.8 178.3h1.1M651.8 194.3h1.1M631.5 176.1h1.1M625.3 179.5h1.1M632.6 175.4h1.1M639.9 180.1h1.1M625.5 172.5h1.1M649.8 193.8h1.1M630.6 184.8h1.1M638.0 182.1h1.1M650.7 191.7h1.1M630.5 188.8h1.1M656.9 186.1h1.1M626.9 184.8h1.1M652.5 180.9h1.1M630.7 187.2h1.1M627.6 173.8h1.1M632.2 182.2h1.1M628.1 173.5h1.1M642.6 195.8h1.1M652.1 185.5h1.1M639.0 197.6h1.1M639.5 181.7h1.1M646.7 193.6h1.1M636.3 191.5h1.1M631.6 184.7h1.1M624.3 172.5h1.1M619.9 178.8h1.1M641.0 184.3h1.1M644.4 193.7h1.1M619.7 180.5h1.1M624.0 189.7h1.1M628.8 180.8h1.1" stroke="#21918c" stroke-width="1.1" fill="none"/>
<path d="M623.6 154.7h1.1M637.1 170.5h1.1M639.5 164.8h1.1M623.0 158.2h1.1M637.6 165.6h1.1M639.1 164.3h1.1M610.8 151.7h1.1M633.3 159.9h1.1M634.0 165.6h1.1M639.5 166.9h1.1M608.8 155.7h1.1M623.9 157.7h1.1M630.3 162.5h1.1M643.6 170.1h1.1M639.9 165.4h1.1M605.4 153.8h1.1M620.8 154.1h1.1M640.3 170.2h1.1M636.3 165.8h1.1M616.8 152.8h1.1M614.0 154.7h1.1M638.4 167.3h1.1M642.7 168.8h1.1M624.4 159.3h1.1M641.5 170.6h1.1M609.7 152.0h1.1M624.3 154.7h1.1M636.1 167.8h1.1M613.7 156.2h1.1M613.8 155.9h1.1M626.4 157.7h1.1M605.0 153.8h1.1M620.7 159.1h1.1M605.7 154.4h1.1M625.0 159.3h1.1M636.5 167.9h1.1M617.7 152.9h1.1M634.7 168.0h1.1M632.2 166.2h1.1M624.2 154.3h1.1M632.8 166.4h1.1M622.8 154.7h1.1M631.2 158.9h1.1M630.1 164.5h1.1M622.4 160.3h1.1M631.8 159.7h1.1M610.8 156.4h1.1M623.8 158.8h1.1M611.1 153.5h1.1M638.4 169.8h1.1M611.2 156.6h1.1M614.5 157.5h1.1M604.8 153.2h1.1M633.5 167.7h1.1M638.6 168.3h1.1M627.5 162.7h1.1M636.3 167.3h1.1M629.7 163.1h1.1M606.5 156.0h1.1M639.6 170.5h1.1M630.5 163.6h1.1M629.3 159.1h1.1M624.7 157.5h1.1M617.0 154.3h1.1M618.5 152.5h1.1M635.6 161.5h1.1M621.6 159.5h1.1M634.0 162.2h1.1M619.7 154.9h1.1M610.6 152.0h1.1M605.7 152.6h1.1M605.6 153.7h1.1M627.8 160.8h1.1M621.4 159.7h1.1M617.6 158.5h1.1M615.6 156.6h1.1M632.0 160.0h1.1M636.4 164.5h1.1M640.5 173.1h1.1M608.2 155.1h1.1M619.3 153.0h1.1M630.1 163.9h1.1M621.5 159.8h1.1M613.5 155.9h1.1M620.7 153.3h1.1M630.4 161.1h1.1M611.4 154.0h1.1M614.9 154.2h1.1M632.6 167.6h1.1M639.6 170.0h1.1M635.3 167.9h1.1M619.4 155.7h1.1M616.7 157.1h1.1M637.8 164.0h1.1M620.2 159.3h1.1M628.0 161.5h1.1M614.1 154.8h1.1M632.3 165.5h1.1M631.2 157.6h1.1M637.6 170.6h1.1M609.1 151.6h1.1M640.4 171.6h1.1M613.8 153.4h1.1M627.9 158.8h1.1M624.2 157.2h1.1M623.8 154.1h1.1M622.7 155.1h1.1M612.9 155.0h1.1M641.6 168.8h1.1M614.2 155.0h1.1M638.3 170.7h1.1M642.2 171.0h1.1M624.5 159.2h1.1M631.7 166.5h1.1M633.6 161.1h1.1M632.1 159.2h1.1M637.0 165.1h1.1M632.3 162.4h1.1M639.0 168.8h1.1M634.9 160.8h1.1M625.4 158.2h1.1M637.0 165.6h1.1M633.1 159.0h1.1M639.0 165.6h1.1M629.8 161.2h1.1M626.2 159.8h1.1M634.4 163.7h1.1M631.8 167.2h1.1M621.4 153.6h1.1M613.6 156.9h1.1M620.8 156.8h1.1M625.1 155.8h1.1M642.0 171.0h1.1M634.5 168.7h1.1M619.0 158.0h1.1M608.5 155.3h1.1M613.3 151.9h1.1M639.0 167.9h1.1M611.6 152.0h1.1M634.4 162.4h1.1M619.0 155.8h1.1M615.7 155.8h1.1M618.2 158.2h1.1M620.8 154.9h1.1M633.0 163.8h1.1M610.1 155.4h1.1M638.3 165.9h1.1M626.2 158.9h1.1M619.4 158.5h1.1M624.7 157.7h1.1M608.1 151.5h1.1M610.5 154.6h1.1M622.3 153.7h1.1M627.5 163.9h1.1M624.4 160.8h1.1M632.4 165.1h1.1M610.4 156.8h1.1M612.2 151.1h1.1M636.4 169.4h1.1M625.9 158.4h1.1M631.3 160.5h1.1M638.0 170.6h1.1M641.0 173.0h1.1M622.8 153.8h1.1M610.6 155.5h1.1M615.7 158.8h1.1M640.0 171.2h1.1M619.0 158.2h1.1M624.3 161.5h1.1M620.4 157.3h1.1M635.3 164.0h1.1M610.1 151.1h1.1M627.8 161.6h1.1M619.1 158.0h1.1M632.9 167.4h1.1M639.3 166.2h1.1M625.8 159.3h1.1M627.9 159.9h1.1M620.4 157.1h1.1M629.1 159.4h1.1M641.3 173.3h1.1M636.3 163.4h1.1M629.8 164.3h1.1M639.1 172.6h1.1M606.9 151.9h1.1M636.4 166.0h1.1M626.1 155.6h1.1M641.4 173.4h1.1M606.2 151.6h1.1M635.6 166.1h1.1" stroke="#fde725" stroke-width="1.1" fill="none"/>
<path d="M621.5 155.9h1.1M620.2 156.1h1.1M629.6 158.4h1.1M617.0 152.3h1.1M629.6 160.4h1.1M634.1 164.2h1.1M634.2 162.6h1.1M617.4 154.6h1.1M627.1 157.6h1.1M608.9 153.2h1.1M625.1 159.5h1.1M634.6 164.2h1.1M639.2 166.0h1.1M621.7 156.5h1.1M638.2 166.4h1.1M612.3 155.6h1.1M607.9 154.1h1.1M622.7 155.0h1.1M627.6 160.8h1.1M609.0 154.5h1.1M635.8 163.9h1.1M634.5 165.7h1.1M624.3 155.8h1.1M624.1 158.1h1.1M627.7 160.0h1.1M629.0 159.0h1.1M618.5 156.9h1.1M609.7 154.5h1.1M634.6 165.0h1.1M624.5 156.8h1.1M618.8 156.5h1.1M638.6 164.8h1.1M625.9 159.0h1.1M610.5 153.5h1.1M628.1 161.0h1.1M627.4 157.9h1.1M623.7 158.5h1.1M620.9 157.0h1.1M636.9 165.7h1.1M615.4 156.6h1.1M625.3 159.5h1.1M633.3 163.7h1.1M610.2 155.1h1.1M629.0 158.8h1.1M635.1 162.9h1.1M613.7 152.0h1.1M629.1 159.3h1.1M629.4 157.3h1.1M629.2 157.9h1.1M621.7 155.4h1.1M612.6 153.4h1.1M608.1 154.8h1.1M611.6 155.3h1.1M626.4 155.5h1.1M609.4 154.3h1.1M633.7 163.1h1.1M620.4 153.5h1.1M608.3 155.5h1.1M608.1 155.8h1.1M618.5 156.4h1.1M612.8 153.7h1.1M635.1 165.0h1.1M624.2 158.6h1.1M631.2 162.7h1.1M624.9 155.5h1.1M620.3 157.0h1.1M613.2 152.9h1.1M636.1 162.4h1.1M635.8 164.9h1.1M625.1 154.8h1.1M620.0 157.7h1.1M608.3 152.2h1.1M623.2 159.1h1.1M624.3 156.4h1.1M613.9 155.2h1.1M617.9 154.9h1.1M619.3 156.4h1.1M625.0 158.8h1.1M608.2 155.0h1.1M612.7 152.5h1.1M615.2 154.0h1.1M633.6 160.7h1.1M610.9 151.9h1.1M607.8 153.2h1.1M630.6 162.1h1.1M633.7 163.5h1.1M627.0 160.0h1.1M617.7 156.4h1.1M630.9 159.8h1.1M631.7 159.0h1.1M632.6 160.0h1.1M613.8 151.8h1.1M623.2 157.3h1.1M610.3 154.9h1.1M622.9 157.9h1.1M621.9 156.2h1.1M612.8 152.2h1.1M608.2 152.8h1.1M634.2 162.8h1.1M614.4 153.4h1.1M635.9 163.0h1.1M631.1 161.9h1.1M613.5 152.0h1.1M614.0 152.7h1.1M615.5 156.1h1.1M615.8 153.5h1.1M618.1 156.3h1.1M632.1 162.8h1.1M624.2 159.3h1.1M607.4 152.7h1.1" stroke="#fde725" stroke-width="1.1" fill="none"/>
<path d="M641.5,162.7 L646.5,151.8 L652.4,156 Z" fill="#7f0000"/>
<rect x="88.7" y="287.4" width="28.5" height="47.0" fill="#6fa49e"/>
<rect x="88.7" y="334.4" width="28.5" height="30.0" fill="#d0b464"/>
<rect x="88.7" y="364.4" width="28.5" height="45.9" fill="#b8d1c5"/>
<rect x="88.7" y="410.3" width="28.5" height="6.7" fill="#c56763"/>
<line x1="88.7" x2="117.2" y1="334.4" y2="334.4" stroke="#333" stroke-width="0.8"/>
<line x1="88.7" x2="117.2" y1="364.4" y2="364.4" stroke="#333" stroke-width="0.8"/>
<line x1="88.7" x2="117.2" y1="410.3" y2="410.3" stroke="#333" stroke-width="0.8"/>
<rect x="89.10000000000001" y="287.79999999999995" width="27.7" height="128.8" fill="none" stroke="#3a3a3a" stroke-width="0.8"/>
<rect x="120.5" y="287.4" width="28.5" height="24.4" fill="#6fa49e"/>
<rect x="120.5" y="311.8" width="28.5" height="56.3" fill="#d0b464"/>
<rect x="120.5" y="368.1" width="28.5" height="42.0" fill="#b8d1c5"/>
<rect x="120.5" y="410.1" width="28.5" height="6.9" fill="#c56763"/>
<line x1="120.5" x2="149.0" y1="311.8" y2="311.8" stroke="#333" stroke-width="0.8"/>
<line x1="120.5" x2="149.0" y1="368.1" y2="368.1" stroke="#333" stroke-width="0.8"/>
<line x1="120.5" x2="149.0" y1="410.1" y2="410.1" stroke="#333" stroke-width="0.8"/>
<rect x="120.9" y="287.79999999999995" width="27.7" height="128.8" fill="none" stroke="#3a3a3a" stroke-width="0.8"/>
<rect x="152.2" y="287.4" width="28.3" height="34.8" fill="#6fa49e"/>
<rect x="152.2" y="322.2" width="28.3" height="28.0" fill="#d0b464"/>
<rect x="152.2" y="350.2" width="28.3" height="53.9" fill="#b8d1c5"/>
<rect x="152.2" y="404.1" width="28.3" height="12.9" fill="#c56763"/>
<line x1="152.2" x2="180.5" y1="322.2" y2="322.2" stroke="#333" stroke-width="0.8"/>
<line x1="152.2" x2="180.5" y1="350.2" y2="350.2" stroke="#333" stroke-width="0.8"/>
<line x1="152.2" x2="180.5" y1="404.1" y2="404.1" stroke="#333" stroke-width="0.8"/>
<rect x="152.6" y="287.79999999999995" width="27.5" height="128.8" fill="none" stroke="#3a3a3a" stroke-width="0.8"/>
<rect x="184.2" y="287.4" width="28.1" height="38.8" fill="#6fa49e"/>
<rect x="184.2" y="326.2" width="28.1" height="49.4" fill="#d0b464"/>
<rect x="184.2" y="375.6" width="28.1" height="39.7" fill="#b8d1c5"/>
<rect x="184.2" y="415.3" width="28.1" height="1.7" fill="#c56763"/>
<line x1="184.2" x2="212.3" y1="326.2" y2="326.2" stroke="#333" stroke-width="0.8"/>
<line x1="184.2" x2="212.3" y1="375.6" y2="375.6" stroke="#333" stroke-width="0.8"/>
<line x1="184.2" x2="212.3" y1="415.3" y2="415.3" stroke="#333" stroke-width="0.8"/>
<rect x="184.6" y="287.79999999999995" width="27.3" height="128.8" fill="none" stroke="#3a3a3a" stroke-width="0.8"/>
<rect x="216.0" y="287.4" width="28.3" height="1.2" fill="#6fa49e"/>
<rect x="216.0" y="288.6" width="28.3" height="2.6" fill="#d0b464"/>
<rect x="216.0" y="291.2" width="28.3" height="0.7" fill="#b8d1c5"/>
<rect x="216.0" y="291.9" width="28.3" height="125.1" fill="#c56763"/>
<line x1="216.0" x2="244.3" y1="288.6" y2="288.6" stroke="#333" stroke-width="0.8"/>
<line x1="216.0" x2="244.3" y1="291.2" y2="291.2" stroke="#333" stroke-width="0.8"/>
<line x1="216.0" x2="244.3" y1="291.9" y2="291.9" stroke="#333" stroke-width="0.8"/>
<rect x="216.4" y="287.79999999999995" width="27.5" height="128.8" fill="none" stroke="#3a3a3a" stroke-width="0.8"/>
<line x1="88" x2="245" y1="287.4" y2="287.4" stroke="#888" stroke-width="0.6"/>
<line x1="86" x2="88.5" y1="287.4" y2="287.4" stroke="#555" stroke-width="0.8"/>
<text x="81.8" y="296.6" font-size="14.9" fill="#1a1a1a" text-anchor="end">100%</text>
<line x1="86" x2="88.5" y1="319.8" y2="319.8" stroke="#555" stroke-width="0.8"/>
<text x="81.8" y="325.1" font-size="14.9" fill="#1a1a1a" text-anchor="end">75%</text>
<line x1="86" x2="88.5" y1="352.2" y2="352.2" stroke="#555" stroke-width="0.8"/>
<text x="81.8" y="357.5" font-size="14.9" fill="#1a1a1a" text-anchor="end">50%</text>
<line x1="86" x2="88.5" y1="384.6" y2="384.6" stroke="#555" stroke-width="0.8"/>
<text x="81.8" y="389.9" font-size="14.9" fill="#1a1a1a" text-anchor="end">25%</text>
<line x1="86" x2="88.5" y1="417.0" y2="417.0" stroke="#555" stroke-width="0.8"/>
<text x="81.8" y="422.3" font-size="14.9" fill="#1a1a1a" text-anchor="end">0%</text>
<line x1="103.0" x2="103.0" y1="417.0" y2="419.5" stroke="#555" stroke-width="0.8"/>
<text x="103.0" y="444.6" font-size="20" fill="#111" text-anchor="middle">0</text>
<line x1="134.8" x2="134.8" y1="417.0" y2="419.5" stroke="#555" stroke-width="0.8"/>
<text x="134.8" y="444.6" font-size="20" fill="#111" text-anchor="middle">1</text>
<line x1="166.3" x2="166.3" y1="417.0" y2="419.5" stroke="#555" stroke-width="0.8"/>
<text x="166.3" y="444.6" font-size="20" fill="#111" text-anchor="middle">2</text>
<line x1="198.2" x2="198.2" y1="417.0" y2="419.5" stroke="#555" stroke-width="0.8"/>
<text x="198.2" y="444.6" font-size="20" fill="#111" text-anchor="middle">3</text>
<line x1="230.2" x2="230.2" y1="417.0" y2="419.5" stroke="#555" stroke-width="0.8"/>
<text x="230.2" y="444.6" font-size="20" fill="#111" text-anchor="middle">4</text>
<text x="166.4" y="272.6" font-size="20.2" fill="#111" text-anchor="middle">Mesophyll 2</text>
<text x="0" y="0" font-size="20.5" fill="#111" text-anchor="middle" transform="translate(40.2,349.7) rotate(-90)">% Cells</text>
<text x="249.3" y="308.0" font-size="17.3" fill="#111">Condition</text>
<rect x="250.2" y="318.2" width="22.4" height="22.8" fill="#6fa49e" stroke="#9a9a9a" stroke-width="0.8"/>
<text x="279.2" y="335.4" font-size="17" fill="#111">W</text>
<rect x="250.2" y="343.1" width="22.4" height="22.8" fill="#d0b464" stroke="#9a9a9a" stroke-width="0.8"/>
<text x="279.2" y="360.3" font-size="17" fill="#111">D</text>
<rect x="250.2" y="368.0" width="22.4" height="22.8" fill="#b8d1c5" stroke="#9a9a9a" stroke-width="0.8"/>
<text x="279.2" y="385.2" font-size="17" fill="#111">W15</text>
<rect x="250.2" y="392.9" width="22.4" height="22.8" fill="#c56763" stroke="#9a9a9a" stroke-width="0.8"/>
<text x="279.2" y="410.1" font-size="17" fill="#111">R15</text>
<line x1="448.4" y1="287" x2="448.4" y2="410.1" stroke="#222" stroke-width="1"/>
<line x1="448" y1="410.1" x2="680.5" y2="410.1" stroke="#222" stroke-width="1"/>
<line x1="442" x2="448.4" y1="307.6" y2="307.6" stroke="#333" stroke-width="0.9"/>
<text x="432.2" y="313.3" font-size="16" fill="#111" text-anchor="end">20</text>
<line x1="442" x2="448.4" y1="341.9" y2="341.9" stroke="#333" stroke-width="0.9"/>
<text x="432.2" y="347.6" font-size="16" fill="#111" text-anchor="end">10</text>
<line x1="442" x2="448.4" y1="376.2" y2="376.2" stroke="#333" stroke-width="0.9"/>
<text x="432.2" y="381.9" font-size="16" fill="#111" text-anchor="end">0</text>
<line x1="475.1" x2="475.1" y1="410.1" y2="416.8" stroke="#333" stroke-width="0.9"/>
<text x="475.1" y="444.3" font-size="19.5" fill="#111" text-anchor="middle">0</text>
<line x1="519.7" x2="519.7" y1="410.1" y2="416.8" stroke="#333" stroke-width="0.9"/>
<text x="519.7" y="444.3" font-size="19.5" fill="#111" text-anchor="middle">1</text>
<line x1="564.4" x2="564.4" y1="410.1" y2="416.8" stroke="#333" stroke-width="0.9"/>
<text x="564.4" y="444.3" font-size="19.5" fill="#111" text-anchor="middle">2</text>
<line x1="609.2" x2="609.2" y1="410.1" y2="416.8" stroke="#333" stroke-width="0.9"/>
<text x="609.2" y="444.3" font-size="19.5" fill="#111" text-anchor="middle">3</text>
<line x1="654.0" x2="654.0" y1="410.1" y2="416.8" stroke="#333" stroke-width="0.9"/>
<text x="654.0" y="444.3" font-size="19.5" fill="#111" text-anchor="middle">4</text>
<text x="553.6" y="272.2" font-size="20.2" fill="#111" text-anchor="middle">Module 3</text>
<text x="0" y="0" font-size="20.6" fill="#111" text-anchor="middle" transform="translate(406.4,350.4) rotate(-90)">hME</text>
<path d="M475.10,292.10 C475.22,292.75 475.67,293.02 475.80,296.00 C475.93,298.98 475.82,306.33 475.90,310.00 C475.98,313.67 476.17,315.60 476.30,318.00 C476.43,320.40 476.73,322.23 476.70,324.40 C476.67,326.57 476.23,327.57 476.10,331.00 C475.97,334.43 475.87,341.00 475.90,345.00 C475.93,349.00 476.02,352.50 476.30,355.00 C476.58,357.50 476.80,358.50 477.60,360.00 C478.40,361.50 479.68,362.67 481.10,364.00 C482.52,365.33 484.60,366.62 486.10,368.00 C487.60,369.38 489.77,371.00 490.10,372.30 C490.43,373.60 488.10,374.68 488.10,375.80 C488.10,376.92 489.02,377.80 490.10,379.00 C491.18,380.20 493.60,381.58 494.60,383.00 C495.60,384.42 496.52,386.17 496.10,387.50 C495.68,388.83 494.27,389.75 492.10,391.00 C489.93,392.25 485.43,393.83 483.10,395.00 C480.77,396.17 479.43,397.23 478.10,398.00 C476.77,398.77 475.60,399.33 475.10,399.60 C474.60,399.87 475.60,399.87 475.10,399.60 C474.60,399.33 473.43,398.77 472.10,398.00 C470.77,397.23 469.43,396.17 467.10,395.00 C464.77,393.83 460.27,392.25 458.10,391.00 C455.93,389.75 454.52,388.83 454.10,387.50 C453.68,386.17 454.60,384.42 455.60,383.00 C456.60,381.58 459.02,380.20 460.10,379.00 C461.18,377.80 462.10,376.92 462.10,375.80 C462.10,374.68 459.77,373.60 460.10,372.30 C460.43,371.00 462.60,369.38 464.10,368.00 C465.60,366.62 467.68,365.33 469.10,364.00 C470.52,362.67 471.80,361.50 472.60,360.00 C473.40,358.50 473.62,357.50 473.90,355.00 C474.18,352.50 474.27,349.00 474.30,345.00 C474.33,341.00 474.23,334.43 474.10,331.00 C473.97,327.57 473.53,326.57 473.50,324.40 C473.47,322.23 473.77,320.40 473.90,318.00 C474.03,315.60 474.22,313.67 474.30,310.00 C474.38,306.33 474.27,298.98 474.40,296.00 C474.53,293.02 474.98,292.75 475.10,292.10 C475.22,291.45 474.98,291.45 475.10,292.10Z" fill="#2c1e36" stroke="#262626" stroke-width="1.3" stroke-linejoin="round"/>
<path d="M519.70,295.20 C519.82,296.00 520.25,296.20 520.40,300.00 C520.55,303.80 520.45,313.67 520.60,318.00 C520.75,322.33 521.15,323.97 521.30,326.00 C521.45,328.03 521.60,328.53 521.50,330.20 C521.40,331.87 520.87,332.70 520.70,336.00 C520.53,339.30 520.42,346.33 520.50,350.00 C520.58,353.67 520.67,356.00 521.20,358.00 C521.73,360.00 522.45,360.67 523.70,362.00 C524.95,363.33 526.87,364.50 528.70,366.00 C530.53,367.50 533.03,369.33 534.70,371.00 C536.37,372.67 537.82,374.43 538.70,376.00 C539.58,377.57 540.00,378.90 540.00,380.40 C540.00,381.90 539.75,383.57 538.70,385.00 C537.65,386.43 535.53,387.67 533.70,389.00 C531.87,390.33 529.53,391.67 527.70,393.00 C525.87,394.33 524.03,395.98 522.70,397.00 C521.37,398.02 520.20,398.75 519.70,399.10 C519.20,399.45 520.20,399.45 519.70,399.10 C519.20,398.75 518.03,398.02 516.70,397.00 C515.37,395.98 513.53,394.33 511.70,393.00 C509.87,391.67 507.53,390.33 505.70,389.00 C503.87,387.67 501.75,386.43 500.70,385.00 C499.65,383.57 499.40,381.90 499.40,380.40 C499.40,378.90 499.82,377.57 500.70,376.00 C501.58,374.43 503.03,372.67 504.70,371.00 C506.37,369.33 508.87,367.50 510.70,366.00 C512.53,364.50 514.45,363.33 515.70,362.00 C516.95,360.67 517.67,360.00 518.20,358.00 C518.73,356.00 518.82,353.67 518.90,350.00 C518.98,346.33 518.87,339.30 518.70,336.00 C518.53,332.70 518.00,331.87 517.90,330.20 C517.80,328.53 517.95,328.03 518.10,326.00 C518.25,323.97 518.65,322.33 518.80,318.00 C518.95,313.67 518.85,303.80 519.00,300.00 C519.15,296.20 519.58,296.00 519.70,295.20 C519.82,294.40 519.58,294.40 519.70,295.20Z" fill="#946e8e" stroke="#262626" stroke-width="1.3" stroke-linejoin="round"/>
<path d="M564.40,291.80 C564.52,292.50 564.95,293.82 565.10,296.00 C565.25,298.18 565.00,302.23 565.30,304.90 C565.60,307.57 566.53,309.82 566.90,312.00 C567.27,314.18 567.42,315.83 567.50,318.00 C567.58,320.17 567.65,322.83 567.40,325.00 C567.15,327.17 566.35,329.27 566.00,331.00 C565.65,332.73 565.43,333.07 565.30,335.40 C565.17,337.73 565.15,341.90 565.20,345.00 C565.25,348.10 565.23,351.83 565.60,354.00 C565.97,356.17 566.43,356.50 567.40,358.00 C568.37,359.50 569.98,361.17 571.40,363.00 C572.82,364.83 574.40,366.83 575.90,369.00 C577.40,371.17 578.98,373.67 580.40,376.00 C581.82,378.33 584.32,381.17 584.40,383.00 C584.48,384.83 582.57,385.83 580.90,387.00 C579.23,388.17 576.40,389.00 574.40,390.00 C572.40,391.00 570.57,392.10 568.90,393.00 C567.23,393.90 565.15,395.00 564.40,395.40 C563.65,395.80 565.15,395.80 564.40,395.40 C563.65,395.00 561.57,393.90 559.90,393.00 C558.23,392.10 556.40,391.00 554.40,390.00 C552.40,389.00 549.57,388.17 547.90,387.00 C546.23,385.83 544.32,384.83 544.40,383.00 C544.48,381.17 546.98,378.33 548.40,376.00 C549.82,373.67 551.40,371.17 552.90,369.00 C554.40,366.83 555.98,364.83 557.40,363.00 C558.82,361.17 560.43,359.50 561.40,358.00 C562.37,356.50 562.83,356.17 563.20,354.00 C563.57,351.83 563.55,348.10 563.60,345.00 C563.65,341.90 563.63,337.73 563.50,335.40 C563.37,333.07 563.15,332.73 562.80,331.00 C562.45,329.27 561.65,327.17 561.40,325.00 C561.15,322.83 561.22,320.17 561.30,318.00 C561.38,315.83 561.53,314.18 561.90,312.00 C562.27,309.82 563.20,307.57 563.50,304.90 C563.80,302.23 563.55,298.18 563.70,296.00 C563.85,293.82 564.28,292.50 564.40,291.80 C564.52,291.10 564.28,291.10 564.40,291.80Z" fill="#d1b3c8" stroke="#262626" stroke-width="1.3" stroke-linejoin="round"/>
<path d="M609.20,316.20 C609.30,316.83 609.70,316.03 609.80,320.00 C609.90,323.97 609.77,333.33 609.80,340.00 C609.83,346.67 609.85,355.67 610.00,360.00 C610.15,364.33 610.17,364.50 610.70,366.00 C611.23,367.50 611.78,367.83 613.20,369.00 C614.62,370.17 617.37,371.67 619.20,373.00 C621.03,374.33 622.87,375.90 624.20,377.00 C625.53,378.10 626.78,378.77 627.20,379.60 C627.62,380.43 627.12,381.07 626.70,382.00 C626.28,382.93 624.62,384.20 624.70,385.20 C624.78,386.20 626.38,387.05 627.20,388.00 C628.02,388.95 629.60,389.90 629.60,390.90 C629.60,391.90 628.77,392.82 627.20,394.00 C625.63,395.18 622.37,396.75 620.20,398.00 C618.03,399.25 616.03,400.42 614.20,401.50 C612.37,402.58 610.03,404.00 609.20,404.50 C608.37,405.00 610.03,405.00 609.20,404.50 C608.37,404.00 606.03,402.58 604.20,401.50 C602.37,400.42 600.37,399.25 598.20,398.00 C596.03,396.75 592.77,395.18 591.20,394.00 C589.63,392.82 588.80,391.90 588.80,390.90 C588.80,389.90 590.38,388.95 591.20,388.00 C592.02,387.05 593.62,386.20 593.70,385.20 C593.78,384.20 592.12,382.93 591.70,382.00 C591.28,381.07 590.78,380.43 591.20,379.60 C591.62,378.77 592.87,378.10 594.20,377.00 C595.53,375.90 597.37,374.33 599.20,373.00 C601.03,371.67 603.78,370.17 605.20,369.00 C606.62,367.83 607.17,367.50 607.70,366.00 C608.23,364.50 608.25,364.33 608.40,360.00 C608.55,355.67 608.57,346.67 608.60,340.00 C608.63,333.33 608.50,323.97 608.60,320.00 C608.70,316.03 609.10,316.83 609.20,316.20 C609.30,315.57 609.10,315.57 609.20,316.20Z" fill="#f6d3ce" stroke="#262626" stroke-width="1.3" stroke-linejoin="round"/>
<path d="M654.00,299.20 C654.20,299.50 654.78,300.20 655.20,301.00 C655.62,301.80 655.45,302.50 656.50,304.00 C657.55,305.50 659.75,307.67 661.50,310.00 C663.25,312.33 665.33,315.33 667.00,318.00 C668.67,320.67 670.40,323.83 671.50,326.00 C672.60,328.17 673.17,329.67 673.60,331.00 C674.03,332.33 674.28,332.83 674.10,334.00 C673.92,335.17 673.68,336.50 672.50,338.00 C671.32,339.50 669.00,341.33 667.00,343.00 C665.00,344.67 662.25,346.67 660.50,348.00 C658.75,349.33 657.35,350.27 656.50,351.00 C655.65,351.73 655.65,350.90 655.40,352.40 C655.15,353.90 655.07,357.07 655.00,360.00 C654.93,362.93 654.93,367.33 655.00,370.00 C655.07,372.67 655.17,374.33 655.40,376.00 C655.63,377.67 656.22,378.87 656.40,380.00 C656.58,381.13 656.70,381.80 656.50,382.80 C656.30,383.80 655.62,384.83 655.20,386.00 C654.78,387.17 654.20,389.17 654.00,389.80 C653.80,390.43 654.20,390.43 654.00,389.80 C653.80,389.17 653.22,387.17 652.80,386.00 C652.38,384.83 651.70,383.80 651.50,382.80 C651.30,381.80 651.42,381.13 651.60,380.00 C651.78,378.87 652.37,377.67 652.60,376.00 C652.83,374.33 652.93,372.67 653.00,370.00 C653.07,367.33 653.07,362.93 653.00,360.00 C652.93,357.07 652.85,353.90 652.60,352.40 C652.35,350.90 652.35,351.73 651.50,351.00 C650.65,350.27 649.25,349.33 647.50,348.00 C645.75,346.67 643.00,344.67 641.00,343.00 C639.00,341.33 636.68,339.50 635.50,338.00 C634.32,336.50 634.08,335.17 633.90,334.00 C633.72,332.83 633.97,332.33 634.40,331.00 C634.83,329.67 635.40,328.17 636.50,326.00 C637.60,323.83 639.33,320.67 641.00,318.00 C642.67,315.33 644.75,312.33 646.50,310.00 C648.25,307.67 650.45,305.50 651.50,304.00 C652.55,302.50 652.38,301.80 652.80,301.00 C653.22,300.20 653.80,299.50 654.00,299.20 C654.20,298.90 653.80,298.90 654.00,299.20Z" fill="#d98a82" stroke="#262626" stroke-width="1.3" stroke-linejoin="round"/>
<rect x="15.20" y="506.70" width="31.24" height="14.78" fill="#c6dfec"/>
<rect x="46.44" y="506.70" width="31.24" height="14.78" fill="#afd3e6"/>
<rect x="77.68" y="506.70" width="31.24" height="14.78" fill="#dde9f2"/>
<rect x="108.92" y="506.70" width="31.24" height="14.78" fill="#a3cce3"/>
<rect x="140.16" y="506.70" width="31.24" height="14.78" fill="#6a0022"/>
<rect x="15.20" y="521.48" width="31.24" height="14.78" fill="#c0dbea"/>
<rect x="46.44" y="521.48" width="31.24" height="14.78" fill="#bcd9ea"/>
<rect x="77.68" y="521.48" width="31.24" height="14.78" fill="#dde9f2"/>
<rect x="108.92" y="521.48" width="31.24" height="14.78" fill="#9ccae1"/>
<rect x="140.16" y="521.48" width="31.24" height="14.78" fill="#6a0022"/>
<rect x="15.20" y="536.26" width="31.24" height="14.78" fill="#bcd9ea"/>
<rect x="46.44" y="536.26" width="31.24" height="14.78" fill="#c6dfec"/>
<rect x="77.68" y="536.26" width="31.24" height="14.78" fill="#d7e6f0"/>
<rect x="108.92" y="536.26" width="31.24" height="14.78" fill="#a4cde3"/>
<rect x="140.16" y="536.26" width="31.24" height="14.78" fill="#6a0022"/>
<rect x="15.20" y="551.04" width="31.24" height="14.78" fill="#c6dfec"/>
<rect x="46.44" y="551.04" width="31.24" height="14.78" fill="#b0d3e6"/>
<rect x="77.68" y="551.04" width="31.24" height="14.78" fill="#dbe8f1"/>
<rect x="108.92" y="551.04" width="31.24" height="14.78" fill="#a4cde3"/>
<rect x="140.16" y="551.04" width="31.24" height="14.78" fill="#6a0022"/>
<rect x="15.20" y="565.82" width="31.24" height="14.78" fill="#94c5df"/>
<rect x="46.44" y="565.82" width="31.24" height="14.78" fill="#e9f0f5"/>
<rect x="77.68" y="565.82" width="31.24" height="14.78" fill="#a8cfe4"/>
<rect x="108.92" y="565.82" width="31.24" height="14.78" fill="#cfe2ee"/>
<rect x="140.16" y="565.82" width="31.24" height="14.78" fill="#6a0022"/>
<rect x="15.20" y="580.60" width="31.24" height="14.78" fill="#b0d3e6"/>
<rect x="46.44" y="580.60" width="31.24" height="14.78" fill="#cbe1ed"/>
<rect x="77.68" y="580.60" width="31.24" height="14.78" fill="#d3e5ef"/>
<rect x="108.92" y="580.60" width="31.24" height="14.78" fill="#a8cfe4"/>
<rect x="140.16" y="580.60" width="31.24" height="14.78" fill="#6a0022"/>
<rect x="15.20" y="595.38" width="31.24" height="14.78" fill="#a4cde3"/>
<rect x="46.44" y="595.38" width="31.24" height="14.78" fill="#dde9f2"/>
<rect x="77.68" y="595.38" width="31.24" height="14.78" fill="#b8d7e8"/>
<rect x="108.92" y="595.38" width="31.24" height="14.78" fill="#b4d5e7"/>
<rect x="140.16" y="595.38" width="31.24" height="14.78" fill="#6a0022"/>
<rect x="15.20" y="610.16" width="31.24" height="14.78" fill="#bcd9ea"/>
<rect x="46.44" y="610.16" width="31.24" height="14.78" fill="#c0dbea"/>
<rect x="77.68" y="610.16" width="31.24" height="14.78" fill="#d3e5ef"/>
<rect x="108.92" y="610.16" width="31.24" height="14.78" fill="#a8cfe4"/>
<rect x="140.16" y="610.16" width="31.24" height="14.78" fill="#6a0022"/>
<rect x="15.20" y="624.94" width="31.24" height="14.78" fill="#bcd9ea"/>
<rect x="46.44" y="624.94" width="31.24" height="14.78" fill="#c6dfec"/>
<rect x="77.68" y="624.94" width="31.24" height="14.78" fill="#d7e6f0"/>
<rect x="108.92" y="624.94" width="31.24" height="14.78" fill="#a8cfe4"/>
<rect x="140.16" y="624.94" width="31.24" height="14.78" fill="#6a0022"/>
<rect x="15.20" y="639.72" width="31.24" height="14.78" fill="#c9e0ed"/>
<rect x="46.44" y="639.72" width="31.24" height="14.78" fill="#c0dbea"/>
<rect x="77.68" y="639.72" width="31.24" height="14.78" fill="#dde9f2"/>
<rect x="108.92" y="639.72" width="31.24" height="14.78" fill="#9ccae1"/>
<rect x="140.16" y="639.72" width="31.24" height="14.78" fill="#6a0022"/>
<rect x="15.20" y="654.50" width="31.24" height="14.78" fill="#c0dbea"/>
<rect x="46.44" y="654.50" width="31.24" height="14.78" fill="#bcd9ea"/>
<rect x="77.68" y="654.50" width="31.24" height="14.78" fill="#e4edf4"/>
<rect x="108.92" y="654.50" width="31.24" height="14.78" fill="#9ccae1"/>
<rect x="140.16" y="654.50" width="31.24" height="14.78" fill="#6a0022"/>
<rect x="15.20" y="669.28" width="31.24" height="14.78" fill="#bcd9ea"/>
<rect x="46.44" y="669.28" width="31.24" height="14.78" fill="#c6dfec"/>
<rect x="77.68" y="669.28" width="31.24" height="14.78" fill="#dbe8f1"/>
<rect x="108.92" y="669.28" width="31.24" height="14.78" fill="#a4cde3"/>
<rect x="140.16" y="669.28" width="31.24" height="14.78" fill="#6a0022"/>
<rect x="15.20" y="684.06" width="31.24" height="14.78" fill="#c0dbea"/>
<rect x="46.44" y="684.06" width="31.24" height="14.78" fill="#c6dfec"/>
<rect x="77.68" y="684.06" width="31.24" height="14.78" fill="#e4edf4"/>
<rect x="108.92" y="684.06" width="31.24" height="14.78" fill="#9ccae1"/>
<rect x="140.16" y="684.06" width="31.24" height="14.78" fill="#6a0022"/>
<rect x="15.20" y="698.84" width="31.24" height="14.78" fill="#c0dbea"/>
<rect x="46.44" y="698.84" width="31.24" height="14.78" fill="#bcd9ea"/>
<rect x="77.68" y="698.84" width="31.24" height="14.78" fill="#d7e6f0"/>
<rect x="108.92" y="698.84" width="31.24" height="14.78" fill="#a8cfe4"/>
<rect x="140.16" y="698.84" width="31.24" height="14.78" fill="#6a0022"/>
<rect x="15.20" y="713.62" width="31.24" height="14.78" fill="#c0dbea"/>
<rect x="46.44" y="713.62" width="31.24" height="14.78" fill="#b8d7e8"/>
<rect x="77.68" y="713.62" width="31.24" height="14.78" fill="#dbe8f1"/>
<rect x="108.92" y="713.62" width="31.24" height="14.78" fill="#a8cfe4"/>
<rect x="140.16" y="713.62" width="31.24" height="14.78" fill="#6a0022"/>
<rect x="15.20" y="728.40" width="31.24" height="14.78" fill="#e4edf4"/>
<rect x="46.44" y="728.40" width="31.24" height="14.78" fill="#a4cde3"/>
<rect x="77.68" y="728.40" width="31.24" height="14.78" fill="#dbe8f1"/>
<rect x="108.92" y="728.40" width="31.24" height="14.78" fill="#a4cde3"/>
<rect x="140.16" y="728.40" width="31.24" height="14.78" fill="#6a0022"/>
<rect x="15.20" y="743.18" width="31.24" height="14.78" fill="#bcd9ea"/>
<rect x="46.44" y="743.18" width="31.24" height="14.78" fill="#c6dfec"/>
<rect x="77.68" y="743.18" width="31.24" height="14.78" fill="#d3e5ef"/>
<rect x="108.92" y="743.18" width="31.24" height="14.78" fill="#b0d3e6"/>
<rect x="140.16" y="743.18" width="31.24" height="14.78" fill="#6a0022"/>
<rect x="15.20" y="757.96" width="31.24" height="14.78" fill="#b4d5e7"/>
<rect x="46.44" y="757.96" width="31.24" height="14.78" fill="#cfe2ee"/>
<rect x="77.68" y="757.96" width="31.24" height="14.78" fill="#e4edf4"/>
<rect x="108.92" y="757.96" width="31.24" height="14.78" fill="#94c5df"/>
<rect x="140.16" y="757.96" width="31.24" height="14.78" fill="#6a0022"/>
<rect x="15.20" y="772.74" width="31.24" height="14.78" fill="#b4d5e7"/>
<rect x="46.44" y="772.74" width="31.24" height="14.78" fill="#c0dbea"/>
<rect x="77.68" y="772.74" width="31.24" height="14.78" fill="#dbe8f1"/>
<rect x="108.92" y="772.74" width="31.24" height="14.78" fill="#a8cfe4"/>
<rect x="140.16" y="772.74" width="31.24" height="14.78" fill="#6a0022"/>
<rect x="15.20" y="787.52" width="31.24" height="14.78" fill="#c0dbea"/>
<rect x="46.44" y="787.52" width="31.24" height="14.78" fill="#b8d7e8"/>
<rect x="77.68" y="787.52" width="31.24" height="14.78" fill="#dbe8f1"/>
<rect x="108.92" y="787.52" width="31.24" height="14.78" fill="#a8cfe4"/>
<rect x="140.16" y="787.52" width="31.24" height="14.78" fill="#6a0022"/>
<rect x="15.20" y="802.30" width="31.24" height="14.78" fill="#b8d7e8"/>
<rect x="46.44" y="802.30" width="31.24" height="14.78" fill="#c6dfec"/>
<rect x="77.68" y="802.30" width="31.24" height="14.78" fill="#d3e5ef"/>
<rect x="108.92" y="802.30" width="31.24" height="14.78" fill="#a8cfe4"/>
<rect x="140.16" y="802.30" width="31.24" height="14.78" fill="#6a0022"/>
<rect x="15.20" y="817.08" width="31.24" height="14.78" fill="#c6dfec"/>
<rect x="46.44" y="817.08" width="31.24" height="14.78" fill="#b0d3e6"/>
<rect x="77.68" y="817.08" width="31.24" height="14.78" fill="#dbe8f1"/>
<rect x="108.92" y="817.08" width="31.24" height="14.78" fill="#a8cfe4"/>
<rect x="140.16" y="817.08" width="31.24" height="14.78" fill="#6a0022"/>
<rect x="15.20" y="831.86" width="31.24" height="14.78" fill="#c6dfec"/>
<rect x="46.44" y="831.86" width="31.24" height="14.78" fill="#b4d5e7"/>
<rect x="77.68" y="831.86" width="31.24" height="14.78" fill="#e4edf4"/>
<rect x="108.92" y="831.86" width="31.24" height="14.78" fill="#9ccae1"/>
<rect x="140.16" y="831.86" width="31.24" height="14.78" fill="#6a0022"/>
<rect x="15.20" y="846.64" width="31.24" height="14.78" fill="#c9e0ed"/>
<rect x="46.44" y="846.64" width="31.24" height="14.78" fill="#bcd9ea"/>
<rect x="77.68" y="846.64" width="31.24" height="14.78" fill="#e4edf4"/>
<rect x="108.92" y="846.64" width="31.24" height="14.78" fill="#94c5df"/>
<rect x="140.16" y="846.64" width="31.24" height="14.78" fill="#6a0022"/>
<rect x="15.20" y="861.42" width="31.24" height="14.78" fill="#bcd9ea"/>
<rect x="46.44" y="861.42" width="31.24" height="14.78" fill="#bcd9ea"/>
<rect x="77.68" y="861.42" width="31.24" height="14.78" fill="#e4edf4"/>
<rect x="108.92" y="861.42" width="31.24" height="14.78" fill="#a8cfe4"/>
<rect x="140.16" y="861.42" width="31.24" height="14.78" fill="#6a0022"/>
<line x1="46.44" x2="46.44" y1="506.7" y2="876.20" stroke="#ffffff" stroke-opacity="0.55" stroke-width="0.9"/>
<line x1="77.68" x2="77.68" y1="506.7" y2="876.20" stroke="#ffffff" stroke-opacity="0.55" stroke-width="0.9"/>
<line x1="108.92" x2="108.92" y1="506.7" y2="876.20" stroke="#ffffff" stroke-opacity="0.55" stroke-width="0.9"/>
<line x1="140.16" x2="140.16" y1="506.7" y2="876.20" stroke="#ffffff" stroke-opacity="0.55" stroke-width="0.9"/>
<line x1="15.2" x2="140.16" y1="521.48" y2="521.48" stroke="#ffffff" stroke-opacity="0.55" stroke-width="0.9"/>
<line x1="140.16" x2="171.40" y1="521.48" y2="521.48" stroke="#b06070" stroke-opacity="0.6" stroke-width="0.8"/>
<line x1="15.2" x2="140.16" y1="536.26" y2="536.26" stroke="#ffffff" stroke-opacity="0.55" stroke-width="0.9"/>
<line x1="140.16" x2="171.40" y1="536.26" y2="536.26" stroke="#b06070" stroke-opacity="0.6" stroke-width="0.8"/>
<line x1="15.2" x2="140.16" y1="551.04" y2="551.04" stroke="#ffffff" stroke-opacity="0.55" stroke-width="0.9"/>
<line x1="140.16" x2="171.40" y1="551.04" y2="551.04" stroke="#b06070" stroke-opacity="0.6" stroke-width="0.8"/>
<line x1="15.2" x2="140.16" y1="565.82" y2="565.82" stroke="#ffffff" stroke-opacity="0.55" stroke-width="0.9"/>
<line x1="140.16" x2="171.40" y1="565.82" y2="565.82" stroke="#b06070" stroke-opacity="0.6" stroke-width="0.8"/>
<line x1="15.2" x2="140.16" y1="580.60" y2="580.60" stroke="#ffffff" stroke-opacity="0.55" stroke-width="0.9"/>
<line x1="140.16" x2="171.40" y1="580.60" y2="580.60" stroke="#b06070" stroke-opacity="0.6" stroke-width="0.8"/>
<line x1="15.2" x2="140.16" y1="595.38" y2="595.38" stroke="#ffffff" stroke-opacity="0.55" stroke-width="0.9"/>
<line x1="140.16" x2="171.40" y1="595.38" y2="595.38" stroke="#b06070" stroke-opacity="0.6" stroke-width="0.8"/>
<line x1="15.2" x2="140.16" y1="610.16" y2="610.16" stroke="#ffffff" stroke-opacity="0.55" stroke-width="0.9"/>
<line x1="140.16" x2="171.40" y1="610.16" y2="610.16" stroke="#b06070" stroke-opacity="0.6" stroke-width="0.8"/>
<line x1="15.2" x2="140.16" y1="624.94" y2="624.94" stroke="#ffffff" stroke-opacity="0.55" stroke-width="0.9"/>
<line x1="140.16" x2="171.40" y1="624.94" y2="624.94" stroke="#b06070" stroke-opacity="0.6" stroke-width="0.8"/>
<line x1="15.2" x2="140.16" y1="639.72" y2="639.72" stroke="#ffffff" stroke-opacity="0.55" stroke-width="0.9"/>
<line x1="140.16" x2="171.40" y1="639.72" y2="639.72" stroke="#b06070" stroke-opacity="0.6" stroke-width="0.8"/>
<line x1="15.2" x2="140.16" y1="654.50" y2="654.50" stroke="#ffffff" stroke-opacity="0.55" stroke-width="0.9"/>
<line x1="140.16" x2="171.40" y1="654.50" y2="654.50" stroke="#b06070" stroke-opacity="0.6" stroke-width="0.8"/>
<line x1="15.2" x2="140.16" y1="669.28" y2="669.28" stroke="#ffffff" stroke-opacity="0.55" stroke-width="0.9"/>
<line x1="140.16" x2="171.40" y1="669.28" y2="669.28" stroke="#b06070" stroke-opacity="0.6" stroke-width="0.8"/>
<line x1="15.2" x2="140.16" y1="684.06" y2="684.06" stroke="#ffffff" stroke-opacity="0.55" stroke-width="0.9"/>
<line x1="140.16" x2="171.40" y1="684.06" y2="684.06" stroke="#b06070" stroke-opacity="0.6" stroke-width="0.8"/>
<line x1="15.2" x2="140.16" y1="698.84" y2="698.84" stroke="#ffffff" stroke-opacity="0.55" stroke-width="0.9"/>
<line x1="140.16" x2="171.40" y1="698.84" y2="698.84" stroke="#b06070" stroke-opacity="0.6" stroke-width="0.8"/>
<line x1="15.2" x2="140.16" y1="713.62" y2="713.62" stroke="#ffffff" stroke-opacity="0.55" stroke-width="0.9"/>
<line x1="140.16" x2="171.40" y1="713.62" y2="713.62" stroke="#b06070" stroke-opacity="0.6" stroke-width="0.8"/>
<line x1="15.2" x2="140.16" y1="728.40" y2="728.40" stroke="#ffffff" stroke-opacity="0.55" stroke-width="0.9"/>
<line x1="140.16" x2="171.40" y1="728.40" y2="728.40" stroke="#b06070" stroke-opacity="0.6" stroke-width="0.8"/>
<line x1="15.2" x2="140.16" y1="743.18" y2="743.18" stroke="#ffffff" stroke-opacity="0.55" stroke-width="0.9"/>
<line x1="140.16" x2="171.40" y1="743.18" y2="743.18" stroke="#b06070" stroke-opacity="0.6" stroke-width="0.8"/>
<line x1="15.2" x2="140.16" y1="757.96" y2="757.96" stroke="#ffffff" stroke-opacity="0.55" stroke-width="0.9"/>
<line x1="140.16" x2="171.40" y1="757.96" y2="757.96" stroke="#b06070" stroke-opacity="0.6" stroke-width="0.8"/>
<line x1="15.2" x2="140.16" y1="772.74" y2="772.74" stroke="#ffffff" stroke-opacity="0.55" stroke-width="0.9"/>
<line x1="140.16" x2="171.40" y1="772.74" y2="772.74" stroke="#b06070" stroke-opacity="0.6" stroke-width="0.8"/>
<line x1="15.2" x2="140.16" y1="787.52" y2="787.52" stroke="#ffffff" stroke-opacity="0.55" stroke-width="0.9"/>
<line x1="140.16" x2="171.40" y1="787.52" y2="787.52" stroke="#b06070" stroke-opacity="0.6" stroke-width="0.8"/>
<line x1="15.2" x2="140.16" y1="802.30" y2="802.30" stroke="#ffffff" stroke-opacity="0.55" stroke-width="0.9"/>
<line x1="140.16" x2="171.40" y1="802.30" y2="802.30" stroke="#b06070" stroke-opacity="0.6" stroke-width="0.8"/>
<line x1="15.2" x2="140.16" y1="817.08" y2="817.08" stroke="#ffffff" stroke-opacity="0.55" stroke-width="0.9"/>
<line x1="140.16" x2="171.40" y1="817.08" y2="817.08" stroke="#b06070" stroke-opacity="0.6" stroke-width="0.8"/>
<line x1="15.2" x2="140.16" y1="831.86" y2="831.86" stroke="#ffffff" stroke-opacity="0.55" stroke-width="0.9"/>
<line x1="140.16" x2="171.40" y1="831.86" y2="831.86" stroke="#b06070" stroke-opacity="0.6" stroke-width="0.8"/>
<line x1="15.2" x2="140.16" y1="846.64" y2="846.64" stroke="#ffffff" stroke-opacity="0.55" stroke-width="0.9"/>
<line x1="140.16" x2="171.40" y1="846.64" y2="846.64" stroke="#b06070" stroke-opacity="0.6" stroke-width="0.8"/>
<line x1="15.2" x2="140.16" y1="861.42" y2="861.42" stroke="#ffffff" stroke-opacity="0.55" stroke-width="0.9"/>
<line x1="140.16" x2="171.40" y1="861.42" y2="861.42" stroke="#b06070" stroke-opacity="0.6" stroke-width="0.8"/>
<text x="147.9" y="524.10" font-size="19" fill="#ffffff" text-anchor="middle">*</text>
<text x="155.9" y="524.10" font-size="19" fill="#ffffff" text-anchor="middle">*</text>
<text x="163.8" y="524.10" font-size="19" fill="#ffffff" text-anchor="middle">*</text>
<text x="176.0" y="517.50" font-size="14.6" fill="#111" font-style="italic">XTH22</text>
<text x="147.9" y="538.95" font-size="19" fill="#ffffff" text-anchor="middle">*</text>
<text x="155.9" y="538.95" font-size="19" fill="#ffffff" text-anchor="middle">*</text>
<text x="163.8" y="538.95" font-size="19" fill="#ffffff" text-anchor="middle">*</text>
<text x="176.0" y="532.42" font-size="14.6" fill="#111" font-style="italic">TET8</text>
<text x="147.9" y="553.80" font-size="19" fill="#ffffff" text-anchor="middle">*</text>
<text x="155.9" y="553.80" font-size="19" fill="#ffffff" text-anchor="middle">*</text>
<text x="163.8" y="553.80" font-size="19" fill="#ffffff" text-anchor="middle">*</text>
<text x="176.0" y="547.34" font-size="14.6" fill="#111" font-style="italic">RAB18</text>
<text x="147.9" y="568.65" font-size="19" fill="#ffffff" text-anchor="middle">*</text>
<text x="155.9" y="568.65" font-size="19" fill="#ffffff" text-anchor="middle">*</text>
<text x="163.8" y="568.65" font-size="19" fill="#ffffff" text-anchor="middle">*</text>
<text x="176.0" y="562.26" font-size="14.6" fill="#111" font-weight="bold" font-style="italic">SZF1</text>
<text x="147.9" y="583.50" font-size="19" fill="#ffffff" text-anchor="middle">*</text>
<text x="155.9" y="583.50" font-size="19" fill="#ffffff" text-anchor="middle">*</text>
<text x="163.8" y="583.50" font-size="19" fill="#ffffff" text-anchor="middle">*</text>
<text x="176.0" y="577.18" font-size="14.6" fill="#111" font-style="italic">PSAB</text>
<text x="147.9" y="598.35" font-size="19" fill="#ffffff" text-anchor="middle">*</text>
<text x="155.9" y="598.35" font-size="19" fill="#ffffff" text-anchor="middle">*</text>
<text x="163.8" y="598.35" font-size="19" fill="#ffffff" text-anchor="middle">*</text>
<text x="176.0" y="592.10" font-size="14.6" fill="#111" font-style="italic">LTP3</text>
<text x="147.9" y="613.20" font-size="19" fill="#ffffff" text-anchor="middle">*</text>
<text x="155.9" y="613.20" font-size="19" fill="#ffffff" text-anchor="middle">*</text>
<text x="163.8" y="613.20" font-size="19" fill="#ffffff" text-anchor="middle">*</text>
<text x="176.0" y="607.02" font-size="14.6" fill="#111" font-style="italic">PSBZ</text>
<text x="147.9" y="628.05" font-size="19" fill="#ffffff" text-anchor="middle">*</text>
<text x="155.9" y="628.05" font-size="19" fill="#ffffff" text-anchor="middle">*</text>
<text x="163.8" y="628.05" font-size="19" fill="#ffffff" text-anchor="middle">*</text>
<text x="176.0" y="621.94" font-size="14.6" fill="#111" font-weight="bold" font-style="italic">AT4G29780</text>
<text x="147.9" y="642.90" font-size="19" fill="#ffffff" text-anchor="middle">*</text>
<text x="155.9" y="642.90" font-size="19" fill="#ffffff" text-anchor="middle">*</text>
<text x="163.8" y="642.90" font-size="19" fill="#ffffff" text-anchor="middle">*</text>
<text x="176.0" y="636.86" font-size="14.6" fill="#111" font-style="italic">AT3G04640</text>
<text x="147.9" y="657.75" font-size="19" fill="#ffffff" text-anchor="middle">*</text>
<text x="155.9" y="657.75" font-size="19" fill="#ffffff" text-anchor="middle">*</text>
<text x="163.8" y="657.75" font-size="19" fill="#ffffff" text-anchor="middle">*</text>
<text x="176.0" y="651.78" font-size="14.6" fill="#111" font-style="italic">AT1G32920</text>
<text x="147.9" y="672.60" font-size="19" fill="#ffffff" text-anchor="middle">*</text>
<text x="155.9" y="672.60" font-size="19" fill="#ffffff" text-anchor="middle">*</text>
<text x="163.8" y="672.60" font-size="19" fill="#ffffff" text-anchor="middle">*</text>
<text x="176.0" y="666.70" font-size="14.6" fill="#111" font-style="italic">DTX37</text>
<text x="147.9" y="687.45" font-size="19" fill="#ffffff" text-anchor="middle">*</text>
<text x="155.9" y="687.45" font-size="19" fill="#ffffff" text-anchor="middle">*</text>
<text x="163.8" y="687.45" font-size="19" fill="#ffffff" text-anchor="middle">*</text>
<text x="176.0" y="681.62" font-size="14.6" fill="#111" font-style="italic">PUMP4</text>
<text x="147.9" y="702.30" font-size="19" fill="#ffffff" text-anchor="middle">*</text>
<text x="155.9" y="702.30" font-size="19" fill="#ffffff" text-anchor="middle">*</text>
<text x="163.8" y="702.30" font-size="19" fill="#ffffff" text-anchor="middle">*</text>
<text x="176.0" y="696.54" font-size="14.6" fill="#111" font-style="italic">PUMP5</text>
<text x="147.9" y="717.15" font-size="19" fill="#ffffff" text-anchor="middle">*</text>
<text x="155.9" y="717.15" font-size="19" fill="#ffffff" text-anchor="middle">*</text>
<text x="163.8" y="717.15" font-size="19" fill="#ffffff" text-anchor="middle">*</text>
<text x="176.0" y="711.46" font-size="14.6" fill="#111" font-style="italic">EXL1</text>
<text x="147.9" y="732.00" font-size="19" fill="#ffffff" text-anchor="middle">*</text>
<text x="155.9" y="732.00" font-size="19" fill="#ffffff" text-anchor="middle">*</text>
<text x="163.8" y="732.00" font-size="19" fill="#ffffff" text-anchor="middle">*</text>
<text x="176.0" y="726.38" font-size="14.6" fill="#111" font-style="italic">CAF1−9</text>
<text x="147.9" y="746.85" font-size="19" fill="#ffffff" text-anchor="middle">*</text>
<text x="155.9" y="746.85" font-size="19" fill="#ffffff" text-anchor="middle">*</text>
<text x="163.8" y="746.85" font-size="19" fill="#ffffff" text-anchor="middle">*</text>
<text x="176.0" y="741.30" font-size="14.6" fill="#111" font-style="italic">GATA8</text>
<text x="147.9" y="761.70" font-size="19" fill="#ffffff" text-anchor="middle">*</text>
<text x="155.9" y="761.70" font-size="19" fill="#ffffff" text-anchor="middle">*</text>
<text x="163.8" y="761.70" font-size="19" fill="#ffffff" text-anchor="middle">*</text>
<text x="176.0" y="756.22" font-size="14.6" fill="#111" font-style="italic">ZAT10</text>
<text x="147.9" y="776.55" font-size="19" fill="#ffffff" text-anchor="middle">*</text>
<text x="155.9" y="776.55" font-size="19" fill="#ffffff" text-anchor="middle">*</text>
<text x="163.8" y="776.55" font-size="19" fill="#ffffff" text-anchor="middle">*</text>
<text x="176.0" y="771.14" font-size="14.6" fill="#111" font-style="italic">NHL3</text>
<text x="147.9" y="791.40" font-size="19" fill="#ffffff" text-anchor="middle">*</text>
<text x="155.9" y="791.40" font-size="19" fill="#ffffff" text-anchor="middle">*</text>
<text x="163.8" y="791.40" font-size="19" fill="#ffffff" text-anchor="middle">*</text>
<text x="176.0" y="786.06" font-size="14.6" fill="#111" font-weight="bold" font-style="italic">SRC2</text>
<text x="147.9" y="806.25" font-size="19" fill="#ffffff" text-anchor="middle">*</text>
<text x="155.9" y="806.25" font-size="19" fill="#ffffff" text-anchor="middle">*</text>
<text x="163.8" y="806.25" font-size="19" fill="#ffffff" text-anchor="middle">*</text>
<text x="176.0" y="800.98" font-size="14.6" fill="#111" font-style="italic">AGP1</text>
<text x="147.9" y="821.10" font-size="19" fill="#ffffff" text-anchor="middle">*</text>
<text x="155.9" y="821.10" font-size="19" fill="#ffffff" text-anchor="middle">*</text>
<text x="163.8" y="821.10" font-size="19" fill="#ffffff" text-anchor="middle">*</text>
<text x="176.0" y="815.90" font-size="14.6" fill="#111" font-style="italic">CML45</text>
<text x="147.9" y="835.95" font-size="19" fill="#ffffff" text-anchor="middle">*</text>
<text x="155.9" y="835.95" font-size="19" fill="#ffffff" text-anchor="middle">*</text>
<text x="163.8" y="835.95" font-size="19" fill="#ffffff" text-anchor="middle">*</text>
<text x="176.0" y="830.82" font-size="14.6" fill="#111" font-style="italic">KRP1.1</text>
<text x="147.9" y="850.80" font-size="19" fill="#ffffff" text-anchor="middle">*</text>
<text x="155.9" y="850.80" font-size="19" fill="#ffffff" text-anchor="middle">*</text>
<text x="163.8" y="850.80" font-size="19" fill="#ffffff" text-anchor="middle">*</text>
<text x="176.0" y="845.74" font-size="14.6" fill="#111" font-style="italic">AT4G34150</text>
<text x="147.9" y="865.65" font-size="19" fill="#ffffff" text-anchor="middle">*</text>
<text x="155.9" y="865.65" font-size="19" fill="#ffffff" text-anchor="middle">*</text>
<text x="163.8" y="865.65" font-size="19" fill="#ffffff" text-anchor="middle">*</text>
<text x="176.0" y="860.66" font-size="14.6" fill="#111" font-style="italic">AT5G41750</text>
<text x="147.9" y="880.50" font-size="19" fill="#ffffff" text-anchor="middle">*</text>
<text x="155.9" y="880.50" font-size="19" fill="#ffffff" text-anchor="middle">*</text>
<text x="163.8" y="880.50" font-size="19" fill="#ffffff" text-anchor="middle">*</text>
<text x="176.0" y="875.58" font-size="14.6" fill="#111" font-style="italic">AT1G07135</text>
<text x="30.82" y="901.8" font-size="19.5" fill="#111" text-anchor="middle">0</text>
<text x="62.06" y="901.8" font-size="19.5" fill="#111" text-anchor="middle">1</text>
<text x="93.30" y="901.8" font-size="19.5" fill="#111" text-anchor="middle">2</text>
<text x="124.54" y="901.8" font-size="19.5" fill="#111" text-anchor="middle">3</text>
<text x="155.78" y="901.8" font-size="19.5" fill="#111" text-anchor="middle">4</text>
<defs><linearGradient id="rdbu" x1="0" y1="0" x2="0" y2="1"><stop offset="0" stop-color="#67001f"/><stop offset="0.07" stop-color="#8c0d25"/><stop offset="0.14" stop-color="#b2182b"/><stop offset="0.21" stop-color="#d6604d"/><stop offset="0.35" stop-color="#f4a582"/><stop offset="0.43" stop-color="#fbd7c4"/><stop offset="0.486" stop-color="#f7f7f7"/><stop offset="0.54" stop-color="#e0ecf3"/><stop offset="0.62" stop-color="#a8cfe4"/><stop offset="0.757" stop-color="#4393c3"/><stop offset="0.895" stop-color="#2166ac"/><stop offset="1" stop-color="#053061"/></linearGradient></defs>
<rect x="271.9" y="779.9" width="15.9" height="99.3" fill="url(#rdbu)"/>
<line x1="271.9" x2="274.5" y1="801.4" y2="801.4" stroke="#fff" stroke-width="0.8"/>
<line x1="285.2" x2="287.8" y1="801.4" y2="801.4" stroke="#fff" stroke-width="0.8"/>
<line x1="271.9" x2="274.5" y1="828.0" y2="828.0" stroke="#fff" stroke-width="0.8"/>
<line x1="285.2" x2="287.8" y1="828.0" y2="828.0" stroke="#fff" stroke-width="0.8"/>
<line x1="271.9" x2="274.5" y1="856.6" y2="856.6" stroke="#fff" stroke-width="0.8"/>
<line x1="285.2" x2="287.8" y1="856.6" y2="856.6" stroke="#fff" stroke-width="0.8"/>
<text x="296" y="806.3" font-size="14" fill="#111">1</text>
<text x="296" y="832.9" font-size="14" fill="#111">0</text>
<text x="292.5" y="861.5" font-size="14" fill="#111">−1</text>
<text x="245" y="751.6" font-size="15.2" fill="#111">Scaled</text>
<text x="245" y="769.0" font-size="15.2" fill="#111">expression</text>
<rect x="322.1" y="504.7" width="361.7" height="379.8" fill="#000"/>
<rect x="322" y="575" width="10" height="10" fill="rgb(22,22,22)"/>
<rect x="322" y="585" width="10" height="10" fill="rgb(22,22,22)"/>
<rect x="322" y="595" width="10" height="10" fill="rgb(22,22,22)"/>
<rect x="332" y="575" width="10" height="10" fill="rgb(24,24,24)"/>
<rect x="332" y="585" width="10" height="10" fill="rgb(14,14,14)"/>
<rect x="332" y="595" width="10" height="10" fill="rgb(13,13,13)"/>
<rect x="342" y="565" width="10" height="10" fill="rgb(24,24,24)"/>
<rect x="342" y="575" width="10" height="10" fill="rgb(23,23,23)"/>
<rect x="342" y="585" width="10" height="10" fill="rgb(13,13,13)"/>
<rect x="352" y="565" width="10" height="10" fill="rgb(11,11,11)"/>
<rect x="352" y="575" width="10" height="10" fill="rgb(22,22,22)"/>
<rect x="352" y="585" width="10" height="10" fill="rgb(17,17,17)"/>
<rect x="352" y="555" width="10" height="10" fill="rgb(12,12,12)"/>
<rect x="362" y="555" width="10" height="10" fill="rgb(10,10,10)"/>
<rect x="362" y="565" width="10" height="10" fill="rgb(9,9,9)"/>
<rect x="362" y="575" width="10" height="10" fill="rgb(20,20,20)"/>
<rect x="372" y="555" width="10" height="10" fill="rgb(22,22,22)"/>
<rect x="372" y="565" width="10" height="10" fill="rgb(13,13,13)"/>
<rect x="382" y="545" width="10" height="10" fill="rgb(8,8,8)"/>
<rect x="382" y="555" width="10" height="10" fill="rgb(24,24,24)"/>
<rect x="382" y="565" width="10" height="10" fill="rgb(10,10,10)"/>
<rect x="392" y="545" width="10" height="10" fill="rgb(9,9,9)"/>
<rect x="392" y="555" width="10" height="10" fill="rgb(9,9,9)"/>
<rect x="392" y="565" width="10" height="10" fill="rgb(14,14,14)"/>
<rect x="402" y="545" width="10" height="10" fill="rgb(15,15,15)"/>
<rect x="402" y="555" width="10" height="10" fill="rgb(8,8,8)"/>
<rect x="402" y="565" width="10" height="10" fill="rgb(22,22,22)"/>
<rect x="412" y="545" width="10" height="10" fill="rgb(18,18,18)"/>
<rect x="412" y="555" width="10" height="10" fill="rgb(22,22,22)"/>
<rect x="412" y="565" width="10" height="10" fill="rgb(14,14,14)"/>
<rect x="422" y="545" width="10" height="10" fill="rgb(24,24,24)"/>
<rect x="422" y="555" width="10" height="10" fill="rgb(15,15,15)"/>
<rect x="422" y="565" width="10" height="10" fill="rgb(17,17,17)"/>
<rect x="432" y="545" width="10" height="10" fill="rgb(23,23,23)"/>
<rect x="432" y="555" width="10" height="10" fill="rgb(8,8,8)"/>
<rect x="432" y="565" width="10" height="10" fill="rgb(10,10,10)"/>
<rect x="442" y="545" width="10" height="10" fill="rgb(22,22,22)"/>
<rect x="442" y="555" width="10" height="10" fill="rgb(16,16,16)"/>
<rect x="442" y="565" width="10" height="10" fill="rgb(21,21,21)"/>
<rect x="452" y="555" width="10" height="10" fill="rgb(10,10,10)"/>
<rect x="452" y="565" width="10" height="10" fill="rgb(16,16,16)"/>
<rect x="462" y="555" width="10" height="10" fill="rgb(18,18,18)"/>
<rect x="462" y="565" width="10" height="10" fill="rgb(15,15,15)"/>
<rect x="472" y="555" width="10" height="10" fill="rgb(24,24,24)"/>
<rect x="472" y="565" width="10" height="10" fill="rgb(17,17,17)"/>
<rect x="472" y="575" width="10" height="10" fill="rgb(8,8,8)"/>
<rect x="482" y="555" width="10" height="10" fill="rgb(10,10,10)"/>
<rect x="482" y="565" width="10" height="10" fill="rgb(11,11,11)"/>
<rect x="482" y="575" width="10" height="10" fill="rgb(20,20,20)"/>
<rect x="492" y="555" width="10" height="10" fill="rgb(11,11,11)"/>
<rect x="492" y="565" width="10" height="10" fill="rgb(17,17,17)"/>
<rect x="492" y="575" width="10" height="10" fill="rgb(20,20,20)"/>
<rect x="502" y="555" width="10" height="10" fill="rgb(10,10,10)"/>
<rect x="502" y="565" width="10" height="10" fill="rgb(8,8,8)"/>
<rect x="502" y="575" width="10" height="10" fill="rgb(8,8,8)"/>
<rect x="512" y="555" width="10" height="10" fill="rgb(14,14,14)"/>
<rect x="512" y="565" width="10" height="10" fill="rgb(14,14,14)"/>
<rect x="512" y="575" width="10" height="10" fill="rgb(9,9,9)"/>
<rect x="522" y="565" width="10" height="10" fill="rgb(23,23,23)"/>
<rect x="522" y="575" width="10" height="10" fill="rgb(20,20,20)"/>
<rect x="532" y="565" width="10" height="10" fill="rgb(20,20,20)"/>
<rect x="532" y="575" width="10" height="10" fill="rgb(21,21,21)"/>
<rect x="532" y="585" width="10" height="10" fill="rgb(10,10,10)"/>
<rect x="542" y="565" width="10" height="10" fill="rgb(14,14,14)"/>
<rect x="542" y="575" width="10" height="10" fill="rgb(16,16,16)"/>
<rect x="542" y="585" width="10" height="10" fill="rgb(18,18,18)"/>
<rect x="552" y="565" width="10" height="10" fill="rgb(10,10,10)"/>
<rect x="552" y="575" width="10" height="10" fill="rgb(17,17,17)"/>
<rect x="552" y="585" width="10" height="10" fill="rgb(18,18,18)"/>
<rect x="562" y="575" width="10" height="10" fill="rgb(8,8,8)"/>
<rect x="562" y="585" width="10" height="10" fill="rgb(21,21,21)"/>
<polyline points="328.0,584.0 336.0,578.8 346.3,572.3 356.8,565.7 367.3,559.1 383.0,553.9 398.8,552.5 419.8,551.2 435.6,552.5 443.5,553.9" fill="none" stroke="#262626" stroke-width="4.4" stroke-linejoin="round" stroke-linecap="round"/>
<polyline points="328.0,584.0 336.0,578.8 346.3,572.3 356.8,565.7 367.3,559.1 383.0,553.9 398.8,552.5 419.8,551.2 435.6,552.5 443.5,553.9" fill="none" stroke="#7d7d7d" stroke-width="2.2" stroke-linejoin="round" stroke-linecap="round"/>
<path d="M420.6 550.5h1.0M412.0 550.8h1.0M425.0 552.0h1.0M348.8 570.0h1.0M416.3 551.3h1.0M370.5 557.6h1.0M350.6 569.7h1.0M425.3 552.6h1.0M329.2 582.6h1.0M432.6 552.4h1.0M333.4 580.5h1.0M355.8 565.9h1.0M428.9 551.1h1.0M337.1 578.0h1.0M329.1 583.2h1.0M379.3 555.0h1.0M429.4 552.7h1.0M348.3 570.8h1.0M353.9 567.4h1.0M348.2 570.9h1.0M391.9 554.0h1.0M435.6 551.7h1.0M332.5 579.6h1.0M355.4 566.7h1.0M355.8 567.1h1.0M383.6 553.2h1.0M415.7 550.8h1.0M383.1 554.6h1.0M400.0 551.8h1.0M440.0 552.4h1.0M357.5 564.7h1.0M331.8 580.9h1.0M396.6 552.0h1.0M343.6 575.4h1.0M407.3 552.0h1.0M343.0 575.3h1.0" stroke="#e8e8e8" stroke-width="1.0" fill="none"/>
<path d="M382.8 554.6h1.0M330.6 582.0h1.0M382.1 553.5h1.0M343.9 573.6h1.0M391.2 552.3h1.0M443.0 554.1h1.0M424.9 551.2h1.0M337.2 579.1h1.0M435.3 553.3h1.0M331.4 582.4h1.0M402.1 552.1h1.0M329.1 582.6h1.0M403.0 551.7h1.0M375.6 556.3h1.0M417.2 551.3h1.0M381.7 553.7h1.0M418.8 550.9h1.0M337.7 577.2h1.0M411.0 552.2h1.0M407.6 551.5h1.0M328.6 582.7h1.0M400.2 551.7h1.0M438.3 553.9h1.0M385.9 553.4h1.0M407.3 552.2h1.0M425.7 552.5h1.0M435.0 551.9h1.0M440.2 552.7h1.0M384.8 554.5h1.0M332.9 582.0h1.0M359.2 563.8h1.0M381.6 553.7h1.0M373.9 556.9h1.0M408.4 552.6h1.0M401.7 551.5h1.0M331.1 581.9h1.0" stroke="#bdbdbd" stroke-width="1.0" fill="none"/>
<path d="M409.2 552.0h1.0M362.3 562.5h1.0M404.1 552.0h1.0M331.2 581.8h1.0M421.2 550.5h1.0M402.0 551.5h1.0M390.7 553.9h1.0M336.4 578.2h1.0M381.5 554.6h1.0M418.7 551.7h1.0M346.6 572.3h1.0M391.8 553.2h1.0M401.8 551.7h1.0M432.0 553.0h1.0M337.5 578.5h1.0M370.5 557.7h1.0M403.6 551.3h1.0M392.6 553.8h1.0M424.6 551.2h1.0M364.1 560.7h1.0M415.5 552.1h1.0M442.0 553.0h1.0M438.3 552.2h1.0M362.1 563.0h1.0M363.3 561.7h1.0M329.5 582.0h1.0M377.8 555.4h1.0M358.5 563.7h1.0M426.8 551.6h1.0M330.9 581.4h1.0M423.8 551.4h1.0M389.1 553.5h1.0M409.2 552.8h1.0M385.3 554.1h1.0M419.2 551.3h1.0M361.0 563.6h1.0" stroke="#9a9a9a" stroke-width="1.0" fill="none"/>
<polyline points="443.5,553.9 447.0,560.0 452.0,562.0 457.0,558.0 455.0,553.0 449.0,552.0 446.0,555.0 456.6,556.5 463.2,555.2" fill="none" stroke="#262626" stroke-width="4.4" stroke-linejoin="round" stroke-linecap="round"/>
<polyline points="443.5,553.9 447.0,560.0 452.0,562.0 457.0,558.0 455.0,553.0 449.0,552.0 446.0,555.0 456.6,556.5 463.2,555.2" fill="none" stroke="#7d7d7d" stroke-width="2.2" stroke-linejoin="round" stroke-linecap="round"/>
<path d="M450.0 561.9h1.0M447.6 555.6h1.0M451.8 556.6h1.0M447.1 555.3h1.0M451.8 561.2h1.0M443.7 553.0h1.0M444.5 555.4h1.0M448.4 554.6h1.0M449.1 561.3h1.0M452.8 553.1h1.0M452.5 552.6h1.0M447.7 561.2h1.0M448.3 552.0h1.0M452.2 553.3h1.0M448.4 561.3h1.0" stroke="#e8e8e8" stroke-width="1.0" fill="none"/>
<path d="M443.9 555.1h1.0M456.2 556.9h1.0M454.7 559.2h1.0M460.1 556.5h1.0M451.9 555.3h1.0M446.7 554.1h1.0M453.2 556.1h1.0M450.1 561.9h1.0M447.3 555.2h1.0M447.3 555.9h1.0M454.5 560.9h1.0M456.2 553.6h1.0M457.0 555.4h1.0M464.2 556.0h1.0M448.8 559.7h1.0" stroke="#bdbdbd" stroke-width="1.0" fill="none"/>
<path d="M445.5 557.5h1.0M452.1 552.9h1.0M451.8 562.4h1.0M443.2 554.9h1.0M456.2 554.9h1.0M447.4 560.3h1.0M455.8 555.4h1.0M452.6 562.0h1.0M443.1 554.9h1.0M447.6 554.2h1.0M451.4 561.4h1.0M451.0 562.0h1.0M446.7 558.4h1.0M456.5 557.0h1.0M456.0 555.9h1.0" stroke="#9a9a9a" stroke-width="1.0" fill="none"/>
<polyline points="472.4,556.5 482.9,559.1 488.2,563.0" fill="none" stroke="#262626" stroke-width="4.4" stroke-linejoin="round" stroke-linecap="round"/>
<polyline points="472.4,556.5 482.9,559.1 488.2,563.0" fill="none" stroke="#7d7d7d" stroke-width="2.2" stroke-linejoin="round" stroke-linecap="round"/>
<path d="M483.6 559.9h1.0M472.7 555.6h1.0M478.1 558.0h1.0M483.6 559.1h1.0M476.8 558.4h1.0" stroke="#e8e8e8" stroke-width="1.0" fill="none"/>
<path d="M483.7 559.7h1.0M484.8 559.8h1.0M483.5 558.6h1.0M476.0 557.8h1.0M483.9 560.1h1.0" stroke="#bdbdbd" stroke-width="1.0" fill="none"/>
<path d="M484.3 560.3h1.0M484.1 559.8h1.0M482.5 558.3h1.0M484.8 560.5h1.0M472.9 557.6h1.0" stroke="#9a9a9a" stroke-width="1.0" fill="none"/>
<polyline points="505.4,561.4 516.0,563.5 527.9,565.8" fill="none" stroke="#262626" stroke-width="4.4" stroke-linejoin="round" stroke-linecap="round"/>
<polyline points="505.4,561.4 516.0,563.5 527.9,565.8" fill="none" stroke="#7d7d7d" stroke-width="2.2" stroke-linejoin="round" stroke-linecap="round"/>
<path d="M526.5 565.0h1.0M518.1 563.9h1.0M518.0 563.9h1.0M512.2 563.2h1.0M523.0 565.3h1.0M512.3 562.7h1.0" stroke="#e8e8e8" stroke-width="1.0" fill="none"/>
<path d="M507.0 561.9h1.0M504.6 560.9h1.0M516.1 563.5h1.0M522.1 565.6h1.0M525.8 565.7h1.0M523.1 565.4h1.0" stroke="#bdbdbd" stroke-width="1.0" fill="none"/>
<path d="M506.2 562.5h1.0M517.9 563.2h1.0M521.0 564.6h1.0M519.9 563.9h1.0M521.7 564.3h1.0M521.5 565.0h1.0" stroke="#9a9a9a" stroke-width="1.0" fill="none"/>
<polyline points="544.4,570.3 556.0,573.0 569.8,576.3" fill="none" stroke="#262626" stroke-width="4.4" stroke-linejoin="round" stroke-linecap="round"/>
<polyline points="544.4,570.3 556.0,573.0 569.8,576.3" fill="none" stroke="#7d7d7d" stroke-width="2.2" stroke-linejoin="round" stroke-linecap="round"/>
<path d="M562.8 574.7h1.0M567.4 574.9h1.0M552.0 572.3h1.0M558.5 573.3h1.0M555.4 571.9h1.0M568.7 575.0h1.0M551.6 572.0h1.0" stroke="#e8e8e8" stroke-width="1.0" fill="none"/>
<path d="M568.3 576.1h1.0M570.2 576.2h1.0M552.0 571.3h1.0M563.7 574.1h1.0M545.2 569.9h1.0M555.9 573.3h1.0M559.2 574.0h1.0" stroke="#bdbdbd" stroke-width="1.0" fill="none"/>
<path d="M565.7 575.9h1.0M561.6 573.5h1.0M554.4 572.0h1.0M547.6 570.7h1.0M561.2 573.9h1.0M553.1 572.7h1.0M567.0 575.9h1.0" stroke="#9a9a9a" stroke-width="1.0" fill="none"/>
<ellipse cx="488" cy="561" rx="2" ry="3" fill="#ddd"/>
<path d="M418.1 552.5h1.3M387.5 554.8h1.3M436.1 552.9h1.3M328.2 583.2h1.3M400.5 551.5h1.3M357.4 563.4h1.3M407.9 551.1h1.3M369.2 558.0h1.3M365.1 560.9h1.3M431.4 552.9h1.3M379.9 555.5h1.3M421.6 551.1h1.3M417.1 552.2h1.3M368.3 559.4h1.3M398.3 552.6h1.3M418.7 550.4h1.3M405.4 550.9h1.3M435.1 552.6h1.3M377.3 555.8h1.3M409.7 552.7h1.3" stroke="#f5a623" stroke-width="1.3" fill="none"/>
<path d="M504.2 560.6h1.3M527.2 566.2h1.3M521.6 565.0h1.3M516.0 562.5h1.3M527.5 565.2h1.3M508.1 561.9h1.3" stroke="#f5a623" stroke-width="1.3" fill="none"/>
<path d="M565.1 576.1h1.3M552.7 573.1h1.3M553.8 571.7h1.3M568.9 575.1h1.3M556.9 571.7h1.3" stroke="#f5a623" stroke-width="1.3" fill="none"/>
<path d="M456.3 556.2h1.3M452.7 561.6h1.3M454.1 553.8h1.3M448.3 554.3h1.3" stroke="#f5a623" stroke-width="1.3" fill="none"/>
<path d="M381.1 554.3h1.5M329.0 581.6h1.5M345.6 574.1h1.5M406.8 551.9h1.5M396.8 553.5h1.5M336.4 577.6h1.5" stroke="#a9a3ee" stroke-width="1.5" fill="none"/>
<rect x="325.8" y="572.3" width="33.6" height="13.1" fill="none" stroke="#e0e0e0" stroke-width="1.15" stroke-dasharray="4.2 2.6"/>
<rect x="327.9" y="589.9" width="14.4" height="3.0" fill="#fff"/>
<rect x="332" y="635" width="10" height="10" fill="rgb(5,5,5)"/>
<rect x="332" y="645" width="10" height="10" fill="rgb(18,18,18)"/>
<rect x="332" y="625" width="10" height="10" fill="rgb(9,9,9)"/>
<rect x="342" y="625" width="10" height="10" fill="rgb(5,5,5)"/>
<rect x="342" y="635" width="10" height="10" fill="rgb(4,4,4)"/>
<rect x="342" y="645" width="10" height="10" fill="rgb(14,14,14)"/>
<rect x="352" y="625" width="10" height="10" fill="rgb(14,14,14)"/>
<rect x="352" y="635" width="10" height="10" fill="rgb(6,6,6)"/>
<rect x="352" y="645" width="10" height="10" fill="rgb(5,5,5)"/>
<rect x="362" y="625" width="10" height="10" fill="rgb(15,15,15)"/>
<rect x="362" y="635" width="10" height="10" fill="rgb(17,17,17)"/>
<rect x="362" y="645" width="10" height="10" fill="rgb(14,14,14)"/>
<rect x="372" y="625" width="10" height="10" fill="rgb(10,10,10)"/>
<rect x="372" y="635" width="10" height="10" fill="rgb(7,7,7)"/>
<rect x="372" y="645" width="10" height="10" fill="rgb(15,15,15)"/>
<rect x="382" y="625" width="10" height="10" fill="rgb(7,7,7)"/>
<rect x="382" y="635" width="10" height="10" fill="rgb(11,11,11)"/>
<rect x="382" y="645" width="10" height="10" fill="rgb(16,16,16)"/>
<rect x="392" y="615" width="10" height="10" fill="rgb(18,18,18)"/>
<rect x="392" y="625" width="10" height="10" fill="rgb(12,12,12)"/>
<rect x="392" y="635" width="10" height="10" fill="rgb(9,9,9)"/>
<rect x="402" y="615" width="10" height="10" fill="rgb(16,16,16)"/>
<rect x="402" y="625" width="10" height="10" fill="rgb(11,11,11)"/>
<rect x="402" y="635" width="10" height="10" fill="rgb(10,10,10)"/>
<rect x="412" y="605" width="10" height="10" fill="rgb(9,9,9)"/>
<rect x="412" y="615" width="10" height="10" fill="rgb(9,9,9)"/>
<rect x="412" y="625" width="10" height="10" fill="rgb(16,16,16)"/>
<rect x="422" y="605" width="10" height="10" fill="rgb(9,9,9)"/>
<rect x="422" y="615" width="10" height="10" fill="rgb(14,14,14)"/>
<rect x="422" y="625" width="10" height="10" fill="rgb(6,6,6)"/>
<rect x="432" y="605" width="10" height="10" fill="rgb(11,11,11)"/>
<rect x="432" y="615" width="10" height="10" fill="rgb(11,11,11)"/>
<rect x="432" y="595" width="10" height="10" fill="rgb(12,12,12)"/>
<rect x="442" y="595" width="10" height="10" fill="rgb(16,16,16)"/>
<rect x="442" y="605" width="10" height="10" fill="rgb(15,15,15)"/>
<rect x="442" y="615" width="10" height="10" fill="rgb(5,5,5)"/>
<rect x="452" y="595" width="10" height="10" fill="rgb(15,15,15)"/>
<rect x="452" y="605" width="10" height="10" fill="rgb(13,13,13)"/>
<rect x="452" y="615" width="10" height="10" fill="rgb(18,18,18)"/>
<rect x="462" y="595" width="10" height="10" fill="rgb(4,4,4)"/>
<rect x="462" y="605" width="10" height="10" fill="rgb(10,10,10)"/>
<rect x="462" y="615" width="10" height="10" fill="rgb(16,16,16)"/>
<rect x="472" y="595" width="10" height="10" fill="rgb(17,17,17)"/>
<rect x="472" y="605" width="10" height="10" fill="rgb(14,14,14)"/>
<rect x="472" y="615" width="10" height="10" fill="rgb(9,9,9)"/>
<rect x="482" y="595" width="10" height="10" fill="rgb(17,17,17)"/>
<rect x="482" y="605" width="10" height="10" fill="rgb(4,4,4)"/>
<rect x="482" y="615" width="10" height="10" fill="rgb(16,16,16)"/>
<rect x="492" y="605" width="10" height="10" fill="rgb(10,10,10)"/>
<rect x="492" y="615" width="10" height="10" fill="rgb(17,17,17)"/>
<rect x="492" y="625" width="10" height="10" fill="rgb(5,5,5)"/>
<rect x="502" y="605" width="10" height="10" fill="rgb(18,18,18)"/>
<rect x="502" y="615" width="10" height="10" fill="rgb(11,11,11)"/>
<rect x="502" y="625" width="10" height="10" fill="rgb(12,12,12)"/>
<rect x="512" y="615" width="10" height="10" fill="rgb(14,14,14)"/>
<rect x="512" y="625" width="10" height="10" fill="rgb(4,4,4)"/>
<rect x="512" y="635" width="10" height="10" fill="rgb(12,12,12)"/>
<rect x="522" y="615" width="10" height="10" fill="rgb(9,9,9)"/>
<rect x="522" y="625" width="10" height="10" fill="rgb(15,15,15)"/>
<rect x="522" y="635" width="10" height="10" fill="rgb(4,4,4)"/>
<rect x="532" y="615" width="10" height="10" fill="rgb(16,16,16)"/>
<rect x="532" y="625" width="10" height="10" fill="rgb(5,5,5)"/>
<rect x="532" y="635" width="10" height="10" fill="rgb(10,10,10)"/>
<rect x="542" y="625" width="10" height="10" fill="rgb(18,18,18)"/>
<rect x="542" y="635" width="10" height="10" fill="rgb(10,10,10)"/>
<rect x="542" y="645" width="10" height="10" fill="rgb(18,18,18)"/>
<rect x="552" y="625" width="10" height="10" fill="rgb(6,6,6)"/>
<rect x="552" y="635" width="10" height="10" fill="rgb(7,7,7)"/>
<rect x="552" y="645" width="10" height="10" fill="rgb(15,15,15)"/>
<rect x="562" y="625" width="10" height="10" fill="rgb(6,6,6)"/>
<rect x="562" y="635" width="10" height="10" fill="rgb(14,14,14)"/>
<rect x="562" y="645" width="10" height="10" fill="rgb(10,10,10)"/>
<rect x="572" y="625" width="10" height="10" fill="rgb(14,14,14)"/>
<rect x="572" y="635" width="10" height="10" fill="rgb(6,6,6)"/>
<rect x="572" y="645" width="10" height="10" fill="rgb(9,9,9)"/>
<polygon points="446.0,608.0 449.0,601.0 455.0,598.5 462.0,599.0 468.0,603.0 467.0,609.0 460.0,611.0 452.0,611.5" fill="#262626"/>
<path d="M450.5 604.0h1M452.4 611.1h1M448.5 606.9h1M463.1 600.8h1M458.8 610.3h1M450.1 601.3h1M451.2 607.8h1M459.1 601.4h1M450.1 602.2h1M449.8 608.3h1M452.9 605.6h1M464.0 604.7h1M451.7 610.0h1M466.1 602.9h1M458.0 610.9h1M456.6 601.4h1M463.6 603.5h1M457.6 605.2h1M452.0 611.4h1M460.5 601.6h1" stroke="#5a5a5a" stroke-width="1" fill="none"/>
<path d="M454.2 608.9h1M461.7 606.4h1M453.1 601.9h1M465.1 605.2h1M451.9 605.4h1M449.3 608.5h1M464.6 609.2h1M461.8 599.8h1M456.6 604.6h1M467.0 606.1h1M464.9 602.4h1M463.4 603.9h1M464.2 601.2h1M458.0 605.3h1M449.5 609.3h1M452.9 602.5h1M456.3 607.8h1M453.9 607.4h1M448.3 603.6h1M456.2 611.1h1" stroke="#8a8a8a" stroke-width="1" fill="none"/>
<path d="M464.3 607.0h1M461.6 601.6h1M458.4 604.5h1M463.6 601.2h1M459.6 602.3h1M454.3 605.5h1M452.6 602.9h1M454.6 607.2h1M451.6 601.1h1M462.1 602.8h1M466.8 605.8h1M461.9 602.8h1M460.9 607.7h1M450.0 603.7h1M464.4 606.2h1M455.0 599.4h1M466.3 604.1h1M457.3 606.9h1M462.9 609.2h1M454.5 602.8h1" stroke="#c0c0c0" stroke-width="1" fill="none"/>
<polygon points="446.0,608.0 449.0,601.0 455.0,598.5 462.0,599.0 468.0,603.0 467.0,609.0 460.0,611.0 452.0,611.5" fill="none" stroke="#4a4a4a" stroke-width="0.8"/>
<polyline points="333.8,645.2 347.6,641.2 363.4,641.2 379.1,640.5 394.9,633.4 410.7,625.5 426.4,617.6 438.2,613.6 446.1,607.7" fill="none" stroke="#262626" stroke-width="4.8" stroke-linejoin="round" stroke-linecap="round"/>
<polyline points="333.8,645.2 347.6,641.2 363.4,641.2 379.1,640.5 394.9,633.4 410.7,625.5 426.4,617.6 438.2,613.6 446.1,607.7" fill="none" stroke="#7d7d7d" stroke-width="2.6" stroke-linejoin="round" stroke-linecap="round"/>
<path d="M386.8 637.7h1.0M411.2 626.6h1.0M431.7 616.7h1.0M399.3 630.2h1.0M377.6 640.4h1.0M403.9 628.8h1.0M430.8 615.0h1.0M421.9 620.1h1.0M444.8 607.7h1.0M410.7 624.7h1.0M422.0 620.5h1.0M423.2 620.5h1.0M406.2 628.6h1.0M359.8 640.3h1.0M395.1 633.9h1.0M376.1 641.5h1.0M368.5 640.1h1.0M423.7 619.5h1.0M402.4 628.7h1.0M366.8 641.6h1.0M445.1 609.2h1.0M349.7 640.0h1.0M419.9 620.7h1.0M405.7 627.0h1.0M409.0 625.4h1.0M337.5 644.7h1.0M415.4 623.3h1.0M439.6 612.7h1.0M408.2 627.5h1.0M353.2 641.1h1.0M351.9 640.3h1.0M384.8 637.6h1.0M367.0 642.0h1.0M340.0 642.4h1.0M417.8 622.0h1.0" stroke="#e8e8e8" stroke-width="1.0" fill="none"/>
<path d="M397.0 632.4h1.0M387.5 638.1h1.0M405.7 628.9h1.0M396.7 632.8h1.0M446.1 608.1h1.0M388.4 635.0h1.0M400.1 630.7h1.0M388.4 636.3h1.0M339.2 643.8h1.0M389.9 636.1h1.0M428.1 618.2h1.0M441.6 609.4h1.0M390.6 635.9h1.0M339.7 642.6h1.0M445.5 607.2h1.0M385.7 638.9h1.0M446.6 608.6h1.0M382.7 639.1h1.0M433.5 615.3h1.0M387.6 637.7h1.0M345.7 640.9h1.0M442.7 611.4h1.0M333.3 645.7h1.0M336.3 643.3h1.0M444.2 609.1h1.0M351.5 641.4h1.0M338.3 643.7h1.0M374.5 640.7h1.0M431.5 616.2h1.0M359.5 642.0h1.0M420.9 620.1h1.0M439.0 614.5h1.0M335.0 645.5h1.0M403.5 629.1h1.0M359.2 642.3h1.0" stroke="#bdbdbd" stroke-width="1.0" fill="none"/>
<path d="M414.4 623.7h1.0M376.0 640.2h1.0M388.0 635.9h1.0M421.9 621.0h1.0M386.5 636.1h1.0M373.0 641.2h1.0M367.9 640.3h1.0M416.7 621.7h1.0M433.7 616.2h1.0M407.9 628.0h1.0M445.3 609.4h1.0M368.8 641.3h1.0M394.2 634.1h1.0M399.5 631.6h1.0M334.0 644.7h1.0M366.4 641.2h1.0M354.5 641.8h1.0M364.7 641.7h1.0M336.0 645.3h1.0M443.3 608.9h1.0M427.6 616.1h1.0M444.3 608.3h1.0M404.8 629.7h1.0M376.3 641.3h1.0M399.1 631.8h1.0M413.9 624.2h1.0M400.6 630.8h1.0M354.1 641.0h1.0M417.0 622.9h1.0M431.8 616.5h1.0M367.6 640.4h1.0M407.2 626.8h1.0M359.4 641.7h1.0M405.9 628.7h1.0M375.1 639.5h1.0" stroke="#9a9a9a" stroke-width="1.0" fill="none"/>
<polyline points="469.8,609.7 485.5,613.6 501.3,619.6 517.1,627.4 532.8,633.4 548.6,637.3 562.0,639.5 576.2,641.2" fill="none" stroke="#262626" stroke-width="4.6" stroke-linejoin="round" stroke-linecap="round"/>
<polyline points="469.8,609.7 485.5,613.6 501.3,619.6 517.1,627.4 532.8,633.4 548.6,637.3 562.0,639.5 576.2,641.2" fill="none" stroke="#7d7d7d" stroke-width="2.4" stroke-linejoin="round" stroke-linecap="round"/>
<path d="M531.5 632.7h1.0M559.4 639.8h1.0M477.8 611.2h1.0M548.7 637.9h1.0M499.6 617.9h1.0M521.0 628.9h1.0M547.1 637.4h1.0M565.2 639.0h1.0M573.2 640.6h1.0M499.6 619.6h1.0M574.4 640.9h1.0M508.5 623.0h1.0M496.8 618.7h1.0M485.5 614.2h1.0M485.7 613.9h1.0M564.1 638.5h1.0M520.9 627.8h1.0M518.2 627.7h1.0M479.6 612.3h1.0M559.5 639.5h1.0M497.9 617.7h1.0M499.1 618.0h1.0M498.0 618.1h1.0M545.0 635.8h1.0M542.0 634.6h1.0M511.7 625.5h1.0M543.6 635.1h1.0M519.0 627.2h1.0M516.8 626.3h1.0M511.9 625.7h1.0M569.4 639.8h1.0M496.6 618.3h1.0" stroke="#e8e8e8" stroke-width="1.0" fill="none"/>
<path d="M527.8 632.6h1.0M553.1 638.1h1.0M536.5 633.5h1.0M555.3 639.5h1.0M545.6 636.1h1.0M502.3 620.2h1.0M551.1 637.1h1.0M513.4 626.5h1.0M566.8 640.7h1.0M560.7 638.3h1.0M510.4 623.6h1.0M515.8 627.5h1.0M534.2 633.2h1.0M544.1 635.3h1.0M488.5 613.9h1.0M495.0 617.2h1.0M537.2 634.4h1.0M537.2 635.1h1.0M552.5 638.8h1.0M573.7 641.4h1.0M518.3 628.2h1.0M512.8 625.1h1.0M512.7 624.3h1.0M575.2 641.5h1.0M538.7 635.7h1.0M562.6 640.0h1.0M496.5 617.4h1.0M485.5 614.2h1.0M499.9 618.3h1.0M570.0 640.2h1.0M476.6 612.3h1.0M505.0 621.0h1.0" stroke="#bdbdbd" stroke-width="1.0" fill="none"/>
<path d="M490.4 614.5h1.0M565.3 640.3h1.0M499.4 619.4h1.0M522.7 629.2h1.0M501.7 619.7h1.0M557.7 639.5h1.0M484.2 612.4h1.0M518.6 627.9h1.0M576.4 641.1h1.0M510.5 622.8h1.0M473.4 611.5h1.0M539.3 635.8h1.0M492.7 616.0h1.0M512.5 624.4h1.0M541.1 634.7h1.0M478.9 612.2h1.0M520.3 627.6h1.0M478.4 612.5h1.0M517.2 626.7h1.0M569.3 640.5h1.0M507.8 622.8h1.0M471.0 609.5h1.0M497.8 617.9h1.0M532.7 633.7h1.0M517.0 627.9h1.0M576.5 641.3h1.0M547.3 637.6h1.0M556.8 638.1h1.0M511.6 624.1h1.0M571.6 641.0h1.0M554.0 637.7h1.0M488.7 615.4h1.0" stroke="#9a9a9a" stroke-width="1.0" fill="none"/>
<polyline points="468.0,604.0 480.0,606.0 492.0,610.0 503.0,616.0" fill="none" stroke="#262626" stroke-width="3.8" stroke-linejoin="round" stroke-linecap="round"/>
<polyline points="468.0,604.0 480.0,606.0 492.0,610.0 503.0,616.0" fill="none" stroke="#7d7d7d" stroke-width="1.6" stroke-linejoin="round" stroke-linecap="round"/>
<path d="M498.9 613.2h1.0M493.5 611.4h1.0M501.2 615.2h1.0M490.7 609.2h1.0M499.7 614.5h1.0M472.5 605.2h1.0M486.4 608.3h1.0M496.8 613.2h1.0M494.4 610.4h1.0M483.9 607.7h1.0M492.6 610.7h1.0" stroke="#e8e8e8" stroke-width="1.0" fill="none"/>
<path d="M491.3 609.4h1.0M489.5 608.6h1.0M503.5 616.1h1.0M494.0 610.5h1.0M485.4 607.1h1.0M492.2 609.7h1.0M479.7 605.8h1.0M475.7 605.0h1.0M484.2 607.2h1.0M475.4 605.6h1.0M475.5 604.7h1.0" stroke="#bdbdbd" stroke-width="1.0" fill="none"/>
<path d="M490.3 610.0h1.0M474.9 605.7h1.0M501.7 614.5h1.0M471.7 605.1h1.0M485.6 608.3h1.0M494.2 611.7h1.0M492.3 609.6h1.0M486.4 607.5h1.0M479.5 605.9h1.0M484.5 607.2h1.0M476.7 604.8h1.0" stroke="#9a9a9a" stroke-width="1.0" fill="none"/>
<circle cx="457.5" cy="603.3" r="3" fill="#f4f4f4"/>
<path d="M466.5,636 q4,-3.5 8,-2.5" stroke="#eee" stroke-width="1.8" fill="none"/>
<path d="M386,636 L396,634" stroke="#ddd" stroke-width="1.8"/>
<path d="M405.3 627.7h1.5M385.0 636.8h1.5M394.1 633.5h1.5M402.9 627.5h1.5M445.1 609.5h1.5M332.9 645.2h1.5M430.5 617.0h1.5M393.6 633.0h1.5M403.9 627.5h1.5M403.6 630.1h1.5" stroke="#f5a623" stroke-width="1.5" fill="none"/>
<path d="M500.7 620.8h1.5M501.7 619.1h1.5M575.4 639.7h1.5M474.0 610.5h1.5M552.6 637.8h1.5M564.2 638.5h1.5M525.5 630.3h1.5M512.9 626.1h1.5M570.4 641.8h1.5M530.6 633.5h1.5M573.6 641.7h1.5M564.9 641.2h1.5" stroke="#f5a623" stroke-width="1.5" fill="none"/>
<rect x="546.4" y="634.4" width="32.4" height="13.5" fill="none" stroke="#e0e0e0" stroke-width="1.15" stroke-dasharray="4.2 2.6"/>
<rect x="327.9" y="657.3" width="15.2" height="3.0" fill="#fff"/>
<rect x="322" y="695" width="10" height="10" fill="rgb(10,10,10)"/>
<rect x="322" y="705" width="10" height="10" fill="rgb(17,17,17)"/>
<rect x="322" y="715" width="10" height="10" fill="rgb(15,15,15)"/>
<rect x="332" y="695" width="10" height="10" fill="rgb(10,10,10)"/>
<rect x="332" y="705" width="10" height="10" fill="rgb(8,8,8)"/>
<rect x="332" y="715" width="10" height="10" fill="rgb(18,18,18)"/>
<rect x="342" y="695" width="10" height="10" fill="rgb(18,18,18)"/>
<rect x="342" y="705" width="10" height="10" fill="rgb(13,13,13)"/>
<rect x="342" y="715" width="10" height="10" fill="rgb(4,4,4)"/>
<rect x="352" y="695" width="10" height="10" fill="rgb(4,4,4)"/>
<rect x="352" y="705" width="10" height="10" fill="rgb(13,13,13)"/>
<rect x="352" y="715" width="10" height="10" fill="rgb(6,6,6)"/>
<rect x="362" y="695" width="10" height="10" fill="rgb(7,7,7)"/>
<rect x="362" y="705" width="10" height="10" fill="rgb(9,9,9)"/>
<rect x="362" y="715" width="10" height="10" fill="rgb(10,10,10)"/>
<rect x="372" y="695" width="10" height="10" fill="rgb(15,15,15)"/>
<rect x="372" y="705" width="10" height="10" fill="rgb(9,9,9)"/>
<rect x="372" y="715" width="10" height="10" fill="rgb(12,12,12)"/>
<rect x="382" y="705" width="10" height="10" fill="rgb(14,14,14)"/>
<rect x="382" y="715" width="10" height="10" fill="rgb(8,8,8)"/>
<rect x="382" y="695" width="10" height="10" fill="rgb(16,16,16)"/>
<rect x="392" y="695" width="10" height="10" fill="rgb(9,9,9)"/>
<rect x="392" y="705" width="10" height="10" fill="rgb(14,14,14)"/>
<rect x="392" y="715" width="10" height="10" fill="rgb(14,14,14)"/>
<rect x="402" y="695" width="10" height="10" fill="rgb(11,11,11)"/>
<rect x="402" y="705" width="10" height="10" fill="rgb(9,9,9)"/>
<rect x="402" y="715" width="10" height="10" fill="rgb(8,8,8)"/>
<rect x="412" y="695" width="10" height="10" fill="rgb(8,8,8)"/>
<rect x="412" y="705" width="10" height="10" fill="rgb(5,5,5)"/>
<rect x="412" y="715" width="10" height="10" fill="rgb(18,18,18)"/>
<rect x="422" y="695" width="10" height="10" fill="rgb(14,14,14)"/>
<rect x="422" y="705" width="10" height="10" fill="rgb(9,9,9)"/>
<rect x="422" y="685" width="10" height="10" fill="rgb(13,13,13)"/>
<rect x="432" y="685" width="10" height="10" fill="rgb(5,5,5)"/>
<rect x="432" y="695" width="10" height="10" fill="rgb(8,8,8)"/>
<rect x="432" y="705" width="10" height="10" fill="rgb(9,9,9)"/>
<rect x="442" y="685" width="10" height="10" fill="rgb(7,7,7)"/>
<rect x="442" y="695" width="10" height="10" fill="rgb(15,15,15)"/>
<rect x="442" y="705" width="10" height="10" fill="rgb(6,6,6)"/>
<rect x="452" y="685" width="10" height="10" fill="rgb(7,7,7)"/>
<rect x="452" y="695" width="10" height="10" fill="rgb(4,4,4)"/>
<rect x="452" y="705" width="10" height="10" fill="rgb(15,15,15)"/>
<rect x="462" y="685" width="10" height="10" fill="rgb(6,6,6)"/>
<rect x="462" y="695" width="10" height="10" fill="rgb(12,12,12)"/>
<rect x="462" y="705" width="10" height="10" fill="rgb(8,8,8)"/>
<rect x="472" y="685" width="10" height="10" fill="rgb(14,14,14)"/>
<rect x="472" y="695" width="10" height="10" fill="rgb(7,7,7)"/>
<rect x="472" y="705" width="10" height="10" fill="rgb(6,6,6)"/>
<rect x="482" y="695" width="10" height="10" fill="rgb(9,9,9)"/>
<rect x="482" y="705" width="10" height="10" fill="rgb(5,5,5)"/>
<rect x="482" y="715" width="10" height="10" fill="rgb(6,6,6)"/>
<rect x="492" y="695" width="10" height="10" fill="rgb(6,6,6)"/>
<rect x="492" y="705" width="10" height="10" fill="rgb(9,9,9)"/>
<rect x="492" y="715" width="10" height="10" fill="rgb(9,9,9)"/>
<rect x="502" y="695" width="10" height="10" fill="rgb(6,6,6)"/>
<rect x="502" y="705" width="10" height="10" fill="rgb(10,10,10)"/>
<rect x="502" y="715" width="10" height="10" fill="rgb(4,4,4)"/>
<rect x="512" y="695" width="10" height="10" fill="rgb(4,4,4)"/>
<rect x="512" y="705" width="10" height="10" fill="rgb(10,10,10)"/>
<rect x="512" y="715" width="10" height="10" fill="rgb(12,12,12)"/>
<rect x="522" y="695" width="10" height="10" fill="rgb(4,4,4)"/>
<rect x="522" y="705" width="10" height="10" fill="rgb(10,10,10)"/>
<rect x="522" y="715" width="10" height="10" fill="rgb(5,5,5)"/>
<rect x="532" y="705" width="10" height="10" fill="rgb(9,9,9)"/>
<rect x="532" y="715" width="10" height="10" fill="rgb(12,12,12)"/>
<rect x="532" y="695" width="10" height="10" fill="rgb(17,17,17)"/>
<rect x="542" y="695" width="10" height="10" fill="rgb(16,16,16)"/>
<rect x="542" y="705" width="10" height="10" fill="rgb(7,7,7)"/>
<rect x="542" y="715" width="10" height="10" fill="rgb(4,4,4)"/>
<rect x="552" y="695" width="10" height="10" fill="rgb(18,18,18)"/>
<rect x="552" y="705" width="10" height="10" fill="rgb(6,6,6)"/>
<rect x="552" y="715" width="10" height="10" fill="rgb(9,9,9)"/>
<rect x="562" y="705" width="10" height="10" fill="rgb(5,5,5)"/>
<rect x="562" y="715" width="10" height="10" fill="rgb(16,16,16)"/>
<rect x="562" y="725" width="10" height="10" fill="rgb(13,13,13)"/>
<rect x="572" y="715" width="10" height="10" fill="rgb(5,5,5)"/>
<rect x="572" y="725" width="10" height="10" fill="rgb(13,13,13)"/>
<rect x="572" y="735" width="10" height="10" fill="rgb(9,9,9)"/>
<polygon points="423.0,704.0 425.0,697.0 430.0,694.0 431.0,686.0 435.0,681.0 442.0,679.5 449.0,681.5 452.0,688.0 460.0,690.0 470.0,696.0 456.0,701.0 448.0,703.0 442.0,702.0 436.0,705.0 428.0,706.0" fill="#222"/>
<path d="M433.3 690.3h1M435.8 697.4h1M431.6 689.0h1M452.8 689.5h1M463.2 696.2h1M446.7 694.5h1M428.4 701.7h1M455.4 691.5h1M454.3 690.6h1M441.1 685.6h1M451.2 694.7h1M452.5 691.3h1M450.9 695.3h1M429.0 705.7h1M446.1 685.7h1M462.5 696.7h1M460.5 693.1h1M434.8 700.9h1M444.3 693.7h1M436.1 696.6h1M460.0 692.5h1M434.4 700.7h1M440.2 682.2h1M441.3 702.0h1M432.7 696.2h1M432.3 697.2h1M443.2 679.9h1M439.0 687.9h1M451.3 697.9h1M455.6 691.9h1M467.2 695.7h1M439.8 684.7h1M437.6 690.3h1M429.9 696.2h1M443.0 701.2h1M442.2 691.6h1M439.3 698.1h1M434.0 694.9h1M436.4 702.6h1M436.5 702.1h1M454.8 691.6h1M457.9 695.4h1M444.1 681.2h1M442.7 687.0h1M436.8 697.9h1M442.3 683.0h1M442.8 688.6h1M450.8 694.0h1M427.7 703.3h1M440.6 698.7h1" stroke="#5a5a5a" stroke-width="1" fill="none"/>
<path d="M445.1 689.1h1M444.8 687.9h1M454.5 695.5h1M461.9 696.7h1M441.9 696.9h1M432.8 689.3h1M430.8 696.7h1M452.3 699.2h1M434.9 701.0h1M457.4 700.1h1M423.7 702.3h1M448.2 693.6h1M428.2 700.4h1M437.2 692.9h1M447.1 687.3h1M442.5 680.9h1M433.2 691.5h1M449.2 691.7h1M442.1 695.7h1M442.4 679.8h1M430.2 701.2h1M457.5 698.4h1M430.4 693.6h1M428.3 703.8h1M438.5 692.5h1M467.5 694.5h1M441.5 687.4h1M440.3 690.9h1M445.4 689.0h1M443.2 691.4h1M425.3 701.6h1M448.7 690.1h1M440.5 687.8h1M445.7 685.6h1M458.2 692.4h1M440.2 695.3h1M440.3 687.5h1M451.6 695.1h1M437.8 692.7h1M447.3 699.5h1M434.8 686.7h1M460.4 690.8h1M436.4 697.5h1M427.0 705.6h1M437.9 701.2h1M460.1 696.5h1M425.7 699.7h1M457.6 690.6h1M459.7 691.2h1M444.0 691.1h1" stroke="#8a8a8a" stroke-width="1" fill="none"/>
<path d="M428.4 701.6h1M454.3 694.0h1M432.9 690.5h1M448.2 701.7h1M428.8 702.7h1M443.3 689.5h1M446.2 697.8h1M441.2 700.1h1M427.9 699.2h1M430.8 695.0h1M432.5 688.7h1M430.7 688.8h1M450.8 693.3h1M441.3 694.7h1M450.4 692.2h1M435.3 698.9h1M450.0 686.3h1M426.0 701.4h1M440.7 698.5h1M443.3 695.9h1M445.9 685.6h1M437.4 702.0h1M449.7 694.1h1M438.7 683.5h1M432.4 693.7h1M458.9 694.9h1M455.4 689.1h1M436.7 702.2h1M448.2 686.2h1M436.8 686.2h1M435.8 687.1h1M436.0 693.0h1M451.6 693.9h1M457.5 693.7h1M425.6 704.3h1M440.0 700.4h1M434.0 691.5h1M440.4 698.8h1M449.6 688.7h1M433.9 704.7h1M428.2 704.4h1M447.5 681.5h1M447.8 684.4h1M447.8 688.9h1M446.5 684.7h1M456.1 690.6h1M445.8 681.6h1M445.9 694.3h1M438.8 698.1h1M450.8 697.7h1" stroke="#c0c0c0" stroke-width="1" fill="none"/>
<polygon points="423.0,704.0 425.0,697.0 430.0,694.0 431.0,686.0 435.0,681.0 442.0,679.5 449.0,681.5 452.0,688.0 460.0,690.0 470.0,696.0 456.0,701.0 448.0,703.0 442.0,702.0 436.0,705.0 428.0,706.0" fill="none" stroke="#4a4a4a" stroke-width="0.8"/>
<ellipse cx="428" cy="700.9" rx="4" ry="3" fill="#e8e8e8"/>
<ellipse cx="454.2" cy="695.6" rx="1.5" ry="1.2" fill="#eee"/>
<polyline points="326.6,709.4 335.0,711.0 346.0,712.5 356.8,713.4" fill="none" stroke="#262626" stroke-width="5.2" stroke-linejoin="round" stroke-linecap="round"/>
<polyline points="326.6,709.4 335.0,711.0 346.0,712.5 356.8,713.4" fill="none" stroke="#7d7d7d" stroke-width="3.0" stroke-linejoin="round" stroke-linecap="round"/>
<path d="M347.1 712.0h1.0M330.7 710.5h1.0M355.5 712.4h1.0M354.1 714.5h1.0M338.7 712.6h1.0M349.5 713.7h1.0M352.1 713.8h1.0M326.3 710.6h1.0M334.2 711.5h1.0" stroke="#e8e8e8" stroke-width="1.0" fill="none"/>
<path d="M339.6 710.9h1.0M337.7 712.3h1.0M333.8 710.6h1.0M349.9 713.3h1.0M341.4 713.0h1.0M339.1 710.7h1.0M334.9 710.2h1.0M356.3 712.7h1.0M347.4 712.8h1.0" stroke="#bdbdbd" stroke-width="1.0" fill="none"/>
<path d="M344.3 713.4h1.0M331.3 709.2h1.0M342.5 712.7h1.0M346.9 712.0h1.0M327.6 710.5h1.0M333.8 709.6h1.0M345.3 711.9h1.0M336.8 710.3h1.0M353.3 712.1h1.0" stroke="#9a9a9a" stroke-width="1.0" fill="none"/>
<polyline points="364.7,709.4 372.0,713.0 380.0,715.5 388.0,713.0 396.2,710.7" fill="none" stroke="#262626" stroke-width="5.2" stroke-linejoin="round" stroke-linecap="round"/>
<polyline points="364.7,709.4 372.0,713.0 380.0,715.5 388.0,713.0 396.2,710.7" fill="none" stroke="#7d7d7d" stroke-width="3.0" stroke-linejoin="round" stroke-linecap="round"/>
<path d="M377.6 715.7h1.0M389.1 713.2h1.0M368.3 712.1h1.0M363.5 708.1h1.0M368.1 710.3h1.0M367.6 712.2h1.0M379.2 714.4h1.0M371.0 713.6h1.0M365.7 709.3h1.0" stroke="#e8e8e8" stroke-width="1.0" fill="none"/>
<path d="M380.0 715.8h1.0M392.8 712.2h1.0M380.0 716.2h1.0M375.6 714.4h1.0M370.6 711.7h1.0M370.5 712.6h1.0M392.8 711.9h1.0M368.1 710.9h1.0M369.5 712.5h1.0" stroke="#bdbdbd" stroke-width="1.0" fill="none"/>
<path d="M395.4 712.0h1.0M369.6 712.9h1.0M392.7 712.9h1.0M395.1 710.2h1.0M395.4 710.0h1.0M389.1 712.1h1.0M365.6 710.9h1.0M378.2 713.3h1.0M391.9 712.1h1.0" stroke="#9a9a9a" stroke-width="1.0" fill="none"/>
<polyline points="455.5,697.7 472.1,697.7 483.2,704.7 499.9,707.4 519.3,711.6 533.1,714.4 544.2,711.6 552.6,710.2 562.0,718.0 572.0,729.6" fill="none" stroke="#262626" stroke-width="5.4" stroke-linejoin="round" stroke-linecap="round"/>
<polyline points="455.5,697.7 472.1,697.7 483.2,704.7 499.9,707.4 519.3,711.6 533.1,714.4 544.2,711.6 552.6,710.2 562.0,718.0 572.0,729.6" fill="none" stroke="#7d7d7d" stroke-width="3.2" stroke-linejoin="round" stroke-linecap="round"/>
<path d="M536.9 711.8h1.0M496.4 706.5h1.0M460.2 698.7h1.0M525.8 712.9h1.0M534.8 713.2h1.0M474.9 699.0h1.0M507.9 709.4h1.0M485.8 706.4h1.0M483.7 705.1h1.0M566.4 720.9h1.0M520.5 713.0h1.0M551.7 710.8h1.0M484.4 704.6h1.0M545.5 711.0h1.0M468.3 696.3h1.0M516.4 710.9h1.0M568.9 725.4h1.0M540.7 712.1h1.0M488.4 706.5h1.0M527.1 712.0h1.0M518.7 710.1h1.0M475.2 698.1h1.0M509.8 709.2h1.0M461.0 698.6h1.0M555.2 712.6h1.0M536.1 713.4h1.0M524.9 711.8h1.0M561.9 717.4h1.0M560.9 716.7h1.0M567.1 724.1h1.0M559.5 715.5h1.0M541.4 713.2h1.0M557.2 712.8h1.0M493.5 705.3h1.0M558.0 715.4h1.0M461.9 696.3h1.0M520.7 711.7h1.0" stroke="#e8e8e8" stroke-width="1.0" fill="none"/>
<path d="M537.5 714.6h1.0M569.9 726.8h1.0M572.5 728.5h1.0M491.6 705.3h1.0M478.4 702.3h1.0M488.8 705.7h1.0M472.8 698.2h1.0M511.2 710.4h1.0M555.7 710.7h1.0M488.7 705.8h1.0M516.5 711.8h1.0M459.3 696.7h1.0M557.1 712.0h1.0M534.9 714.7h1.0M521.1 711.9h1.0M542.3 712.3h1.0M543.0 711.0h1.0M498.0 708.1h1.0M491.6 706.3h1.0M493.9 707.0h1.0M495.6 706.1h1.0M516.0 710.0h1.0M545.4 711.3h1.0M550.6 709.9h1.0M568.9 725.0h1.0M495.4 706.3h1.0M570.2 728.1h1.0M571.0 727.4h1.0M481.2 702.9h1.0M516.4 709.5h1.0M508.9 709.9h1.0M553.0 711.1h1.0M569.3 726.1h1.0M486.6 705.0h1.0M456.6 696.8h1.0M554.8 711.2h1.0M478.2 700.8h1.0" stroke="#bdbdbd" stroke-width="1.0" fill="none"/>
<path d="M547.6 712.3h1.0M489.2 706.0h1.0M544.0 710.2h1.0M570.9 729.5h1.0M570.0 729.2h1.0M524.0 712.1h1.0M543.5 712.9h1.0M509.1 710.2h1.0M485.0 705.5h1.0M543.2 711.8h1.0M467.5 696.6h1.0M463.0 697.4h1.0M502.8 708.0h1.0M514.5 709.7h1.0M486.3 705.0h1.0M531.2 715.0h1.0M535.0 713.1h1.0M483.3 704.8h1.0M527.9 713.1h1.0M563.8 719.8h1.0M467.5 697.6h1.0M501.4 706.8h1.0M509.6 710.0h1.0M508.1 709.3h1.0M466.8 697.6h1.0M564.1 720.8h1.0M542.3 713.7h1.0M556.2 713.3h1.0M465.5 697.1h1.0M547.7 711.4h1.0M540.0 711.8h1.0M491.8 707.0h1.0M524.5 713.3h1.0M527.8 711.8h1.0M507.6 709.0h1.0M467.2 696.9h1.0M504.4 709.8h1.0" stroke="#9a9a9a" stroke-width="1.0" fill="none"/>
<path d="M549.8,722.7 L541.5,728.3" stroke="#ddd" stroke-width="1.8"/>
<defs><linearGradient id="glow" x1="0" y1="0" x2="0" y2="1"><stop offset="0" stop-color="#fff"/><stop offset="1" stop-color="#fff" stop-opacity="0"/></linearGradient></defs>
<path d="M401,677.2 L414.4,677.2 L412.5,692.5 L403,692.5 Z" fill="url(#glow)"/><rect x="402" y="677.2" width="11.4" height="4" fill="#fff"/>
<ellipse cx="408.3" cy="705.3" rx="2.6" ry="1.6" fill="#ddd"/>
<ellipse cx="440.2" cy="690.8" rx="2.8" ry="1.7" fill="#f0f0f0"/>
<path d="M351.5 711.6h1.5M343.7 711.6h1.5M346.8 712.8h1.5M349.8 712.3h1.5M338.2 710.7h1.5M349.7 712.5h1.5" stroke="#f5a623" stroke-width="1.5" fill="none"/>
<path d="M375.4 712.6h1.5M384.9 714.3h1.5M365.0 710.0h1.5M394.7 712.2h1.5M395.6 710.4h1.5M390.5 711.3h1.5" stroke="#f5a623" stroke-width="1.5" fill="none"/>
<path d="M461.6 697.8h1.5M511.3 711.1h1.5M499.7 706.1h1.5M456.0 698.2h1.5M542.8 711.1h1.5M544.6 711.0h1.5M523.3 712.5h1.5M505.4 707.5h1.5M494.0 707.3h1.5M532.4 713.5h1.5M472.2 698.1h1.5M459.3 697.0h1.5M516.0 711.4h1.5M541.1 713.6h1.5M481.8 703.2h1.5M495.3 707.8h1.5M482.5 704.2h1.5M458.4 698.6h1.5M526.6 713.2h1.5M499.1 706.6h1.5M533.6 714.6h1.5M566.9 724.0h1.5" stroke="#f5a623" stroke-width="1.5" fill="none"/>
<rect x="501.2" y="705.5" width="32.5" height="12.2" fill="none" stroke="#e0e0e0" stroke-width="1.15" stroke-dasharray="4.2 2.6"/>
<rect x="328" y="723.7" width="18.8" height="3.0" fill="#fff"/>
<rect x="332" y="735" width="10" height="10" fill="rgb(11,11,11)"/>
<rect x="332" y="745" width="10" height="10" fill="rgb(7,7,7)"/>
<rect x="332" y="755" width="10" height="10" fill="rgb(18,18,18)"/>
<rect x="332" y="765" width="10" height="10" fill="rgb(7,7,7)"/>
<rect x="342" y="745" width="10" height="10" fill="rgb(14,14,14)"/>
<rect x="342" y="755" width="10" height="10" fill="rgb(15,15,15)"/>
<rect x="342" y="765" width="10" height="10" fill="rgb(17,17,17)"/>
<rect x="352" y="745" width="10" height="10" fill="rgb(7,7,7)"/>
<rect x="352" y="755" width="10" height="10" fill="rgb(12,12,12)"/>
<rect x="352" y="765" width="10" height="10" fill="rgb(10,10,10)"/>
<rect x="362" y="745" width="10" height="10" fill="rgb(14,14,14)"/>
<rect x="362" y="755" width="10" height="10" fill="rgb(16,16,16)"/>
<rect x="362" y="765" width="10" height="10" fill="rgb(10,10,10)"/>
<rect x="372" y="755" width="10" height="10" fill="rgb(8,8,8)"/>
<rect x="372" y="765" width="10" height="10" fill="rgb(17,17,17)"/>
<rect x="372" y="775" width="10" height="10" fill="rgb(10,10,10)"/>
<rect x="382" y="755" width="10" height="10" fill="rgb(18,18,18)"/>
<rect x="382" y="765" width="10" height="10" fill="rgb(18,18,18)"/>
<rect x="382" y="775" width="10" height="10" fill="rgb(8,8,8)"/>
<rect x="392" y="755" width="10" height="10" fill="rgb(12,12,12)"/>
<rect x="392" y="765" width="10" height="10" fill="rgb(10,10,10)"/>
<rect x="392" y="775" width="10" height="10" fill="rgb(5,5,5)"/>
<rect x="402" y="755" width="10" height="10" fill="rgb(8,8,8)"/>
<rect x="402" y="765" width="10" height="10" fill="rgb(12,12,12)"/>
<rect x="412" y="745" width="10" height="10" fill="rgb(16,16,16)"/>
<rect x="412" y="755" width="10" height="10" fill="rgb(15,15,15)"/>
<rect x="412" y="765" width="10" height="10" fill="rgb(5,5,5)"/>
<rect x="422" y="745" width="10" height="10" fill="rgb(18,18,18)"/>
<rect x="422" y="755" width="10" height="10" fill="rgb(16,16,16)"/>
<rect x="422" y="765" width="10" height="10" fill="rgb(16,16,16)"/>
<rect x="432" y="745" width="10" height="10" fill="rgb(6,6,6)"/>
<rect x="432" y="755" width="10" height="10" fill="rgb(17,17,17)"/>
<rect x="432" y="765" width="10" height="10" fill="rgb(18,18,18)"/>
<rect x="442" y="755" width="10" height="10" fill="rgb(15,15,15)"/>
<rect x="442" y="765" width="10" height="10" fill="rgb(13,13,13)"/>
<rect x="442" y="745" width="10" height="10" fill="rgb(14,14,14)"/>
<rect x="452" y="745" width="10" height="10" fill="rgb(5,5,5)"/>
<rect x="452" y="755" width="10" height="10" fill="rgb(6,6,6)"/>
<rect x="452" y="765" width="10" height="10" fill="rgb(10,10,10)"/>
<rect x="462" y="745" width="10" height="10" fill="rgb(5,5,5)"/>
<rect x="462" y="755" width="10" height="10" fill="rgb(14,14,14)"/>
<rect x="462" y="765" width="10" height="10" fill="rgb(10,10,10)"/>
<rect x="472" y="745" width="10" height="10" fill="rgb(17,17,17)"/>
<rect x="472" y="755" width="10" height="10" fill="rgb(12,12,12)"/>
<rect x="472" y="765" width="10" height="10" fill="rgb(14,14,14)"/>
<rect x="482" y="745" width="10" height="10" fill="rgb(13,13,13)"/>
<rect x="482" y="755" width="10" height="10" fill="rgb(18,18,18)"/>
<rect x="482" y="765" width="10" height="10" fill="rgb(11,11,11)"/>
<rect x="492" y="745" width="10" height="10" fill="rgb(6,6,6)"/>
<rect x="492" y="755" width="10" height="10" fill="rgb(17,17,17)"/>
<rect x="492" y="765" width="10" height="10" fill="rgb(6,6,6)"/>
<rect x="502" y="745" width="10" height="10" fill="rgb(11,11,11)"/>
<rect x="502" y="755" width="10" height="10" fill="rgb(5,5,5)"/>
<rect x="502" y="765" width="10" height="10" fill="rgb(16,16,16)"/>
<rect x="512" y="755" width="10" height="10" fill="rgb(14,14,14)"/>
<rect x="512" y="765" width="10" height="10" fill="rgb(7,7,7)"/>
<rect x="512" y="775" width="10" height="10" fill="rgb(13,13,13)"/>
<rect x="522" y="755" width="10" height="10" fill="rgb(9,9,9)"/>
<rect x="522" y="765" width="10" height="10" fill="rgb(5,5,5)"/>
<rect x="522" y="775" width="10" height="10" fill="rgb(15,15,15)"/>
<rect x="532" y="755" width="10" height="10" fill="rgb(7,7,7)"/>
<rect x="532" y="765" width="10" height="10" fill="rgb(16,16,16)"/>
<rect x="532" y="775" width="10" height="10" fill="rgb(15,15,15)"/>
<rect x="542" y="755" width="10" height="10" fill="rgb(10,10,10)"/>
<rect x="542" y="765" width="10" height="10" fill="rgb(5,5,5)"/>
<rect x="542" y="775" width="10" height="10" fill="rgb(12,12,12)"/>
<rect x="552" y="755" width="10" height="10" fill="rgb(17,17,17)"/>
<rect x="552" y="765" width="10" height="10" fill="rgb(9,9,9)"/>
<rect x="552" y="775" width="10" height="10" fill="rgb(8,8,8)"/>
<rect x="562" y="755" width="10" height="10" fill="rgb(13,13,13)"/>
<rect x="562" y="765" width="10" height="10" fill="rgb(5,5,5)"/>
<rect x="562" y="775" width="10" height="10" fill="rgb(10,10,10)"/>
<polyline points="333.1,753.9 341.0,756.6 354.2,760.5 372.5,765.8 383.0,769.7 391.0,768.4 398.8,765.8 409.3,764.5 425.1,761.8 435.6,763.1 446.1,764.5 456.6,763.1 467.1,759.2 477.6,756.6 488.2,757.9 500.0,760.5 510.0,764.0" fill="none" stroke="#262626" stroke-width="4.8" stroke-linejoin="round" stroke-linecap="round"/>
<polyline points="333.1,753.9 341.0,756.6 354.2,760.5 372.5,765.8 383.0,769.7 391.0,768.4 398.8,765.8 409.3,764.5 425.1,761.8 435.6,763.1 446.1,764.5 456.6,763.1 467.1,759.2 477.6,756.6 488.2,757.9 500.0,760.5 510.0,764.0" fill="none" stroke="#7d7d7d" stroke-width="2.6" stroke-linejoin="round" stroke-linecap="round"/>
<path d="M394.6 766.5h1.0M405.7 763.8h1.0M424.7 762.0h1.0M399.1 764.9h1.0M357.0 761.4h1.0M411.4 765.1h1.0M493.8 758.9h1.0M460.8 762.1h1.0M424.1 761.9h1.0M468.3 760.1h1.0M388.5 768.2h1.0M431.4 763.4h1.0M492.0 758.8h1.0M427.0 762.7h1.0M508.9 763.3h1.0M448.3 764.1h1.0M390.9 769.7h1.0M380.1 768.4h1.0M417.3 763.2h1.0M410.2 763.7h1.0M424.3 761.1h1.0M359.8 761.6h1.0M431.9 763.2h1.0M447.3 765.4h1.0M444.2 764.3h1.0M347.3 757.6h1.0M451.9 763.2h1.0M459.8 761.6h1.0M473.1 759.0h1.0M495.4 758.3h1.0M503.0 761.4h1.0M394.5 767.0h1.0M476.6 758.0h1.0M378.6 769.0h1.0M389.6 767.7h1.0M341.5 757.1h1.0M383.3 770.3h1.0M454.8 764.5h1.0M398.8 766.7h1.0M413.6 764.1h1.0M507.9 763.8h1.0M431.2 762.8h1.0M431.9 761.8h1.0M459.8 760.9h1.0M484.5 758.5h1.0M505.0 762.0h1.0M391.7 769.1h1.0M504.5 763.0h1.0M505.4 762.7h1.0M413.2 762.8h1.0M458.7 761.5h1.0M394.8 765.7h1.0M488.9 757.7h1.0" stroke="#e8e8e8" stroke-width="1.0" fill="none"/>
<path d="M370.6 765.3h1.0M488.4 758.1h1.0M460.8 762.0h1.0M493.5 758.5h1.0M342.0 758.1h1.0M340.1 756.3h1.0M389.8 769.0h1.0M374.1 766.7h1.0M345.7 757.1h1.0M401.2 764.3h1.0M339.4 756.6h1.0M368.6 763.9h1.0M419.4 763.8h1.0M342.2 756.3h1.0M377.5 767.0h1.0M382.0 769.8h1.0M350.4 759.7h1.0M428.0 761.9h1.0M462.3 759.5h1.0M409.2 764.6h1.0M381.8 770.0h1.0M441.8 764.0h1.0M432.0 762.2h1.0M503.1 761.6h1.0M428.2 761.1h1.0M499.9 760.3h1.0M405.6 766.1h1.0M358.5 762.6h1.0M379.5 769.1h1.0M419.8 761.9h1.0M363.4 763.9h1.0M424.3 762.4h1.0M481.7 757.2h1.0M404.2 766.1h1.0M500.5 761.0h1.0M397.6 766.3h1.0M366.4 764.2h1.0M444.3 763.7h1.0M415.3 763.4h1.0M399.7 766.5h1.0M339.5 755.9h1.0M488.5 758.9h1.0M381.8 769.6h1.0M332.2 754.3h1.0M493.7 758.7h1.0M462.6 760.0h1.0M391.7 767.6h1.0M452.2 764.8h1.0M439.3 763.8h1.0M392.5 768.3h1.0M451.4 764.1h1.0M502.1 760.2h1.0M491.4 759.0h1.0" stroke="#bdbdbd" stroke-width="1.0" fill="none"/>
<path d="M439.6 762.9h1.0M381.3 769.4h1.0M498.0 759.3h1.0M341.2 757.3h1.0M397.3 766.6h1.0M428.2 761.0h1.0M497.9 759.7h1.0M340.2 757.1h1.0M373.5 765.3h1.0M488.7 758.7h1.0M362.6 763.4h1.0M428.1 762.2h1.0M482.3 756.2h1.0M472.4 757.7h1.0M405.4 764.9h1.0M334.9 755.4h1.0M456.8 763.1h1.0M462.7 760.7h1.0M424.4 762.4h1.0M405.2 765.1h1.0M440.5 763.4h1.0M509.0 763.4h1.0M456.4 762.3h1.0M361.8 762.8h1.0M354.3 761.3h1.0M445.3 764.3h1.0M487.6 757.1h1.0M499.5 760.2h1.0M386.5 768.1h1.0M375.3 766.0h1.0M365.8 765.0h1.0M349.3 758.2h1.0M417.1 763.4h1.0M345.6 757.0h1.0M368.5 763.7h1.0M473.4 757.7h1.0M453.2 764.5h1.0M384.8 770.5h1.0M377.2 767.1h1.0M438.1 763.9h1.0M351.0 758.8h1.0M450.6 763.5h1.0M439.7 764.2h1.0M343.8 756.6h1.0M472.4 758.0h1.0M403.5 765.3h1.0M414.1 764.0h1.0M399.4 765.4h1.0M440.7 764.7h1.0M388.9 767.8h1.0M356.5 760.7h1.0M439.8 764.0h1.0M424.4 760.8h1.0" stroke="#9a9a9a" stroke-width="1.0" fill="none"/>
<polyline points="516.0,765.4 528.0,768.0 540.0,770.0 555.0,771.0 566.8,771.4" fill="none" stroke="#262626" stroke-width="4.8" stroke-linejoin="round" stroke-linecap="round"/>
<polyline points="516.0,765.4 528.0,768.0 540.0,770.0 555.0,771.0 566.8,771.4" fill="none" stroke="#7d7d7d" stroke-width="2.6" stroke-linejoin="round" stroke-linecap="round"/>
<path d="M531.1 768.6h1.0M523.0 767.1h1.0M549.3 771.2h1.0M554.7 771.6h1.0M542.8 770.5h1.0M540.0 770.5h1.0M523.3 766.6h1.0M538.1 769.1h1.0M560.8 772.0h1.0M540.4 768.9h1.0M539.6 769.1h1.0M528.0 767.3h1.0M540.3 770.5h1.0M556.1 771.3h1.0M549.4 771.3h1.0" stroke="#e8e8e8" stroke-width="1.0" fill="none"/>
<path d="M529.1 767.3h1.0M560.3 770.5h1.0M535.0 769.7h1.0M535.5 768.1h1.0M556.2 771.7h1.0M546.3 769.6h1.0M519.0 766.8h1.0M549.9 770.6h1.0M554.0 770.5h1.0M548.8 770.3h1.0M523.7 768.1h1.0M559.5 770.3h1.0M555.1 771.2h1.0M522.0 765.9h1.0M554.2 772.2h1.0" stroke="#bdbdbd" stroke-width="1.0" fill="none"/>
<path d="M551.5 770.3h1.0M521.6 766.8h1.0M545.1 770.0h1.0M522.2 767.0h1.0M542.7 770.7h1.0M560.6 771.9h1.0M565.4 770.4h1.0M525.6 768.2h1.0M565.3 771.2h1.0M544.2 770.5h1.0M556.7 770.6h1.0M537.7 768.3h1.0M550.7 771.7h1.0M528.0 767.6h1.0M566.1 772.0h1.0" stroke="#9a9a9a" stroke-width="1.0" fill="none"/>
<path d="M358,764.5 L357,770.0" stroke="#ddd" stroke-width="1.6"/>
<path d="M520.4,765.0 L520,779.0" stroke="#ddd" stroke-width="1.6"/>
<path d="M378.0 768.0h1.5M383.8 768.3h1.5M348.6 757.6h1.5M368.0 764.6h1.5M471.5 756.8h1.5M386.9 768.9h1.5M372.4 766.2h1.5M444.1 765.1h1.5M460.7 761.2h1.5M362.5 762.8h1.5M357.3 761.0h1.5M365.9 762.4h1.5M404.5 765.8h1.5M421.0 762.4h1.5M453.2 764.5h1.5M462.8 761.6h1.5M416.5 764.0h1.5M370.3 765.2h1.5M424.3 762.3h1.5M441.3 763.0h1.5M419.8 762.0h1.5M425.1 762.7h1.5M348.4 759.6h1.5M428.8 761.4h1.5M417.8 763.6h1.5M390.1 769.3h1.5M353.4 760.2h1.5M454.2 764.2h1.5M408.0 764.5h1.5M355.1 761.6h1.5M400.0 764.6h1.5M408.5 765.9h1.5M356.2 762.7h1.5M384.2 768.9h1.5M449.7 763.8h1.5M484.5 756.6h1.5M439.8 763.5h1.5M344.5 759.0h1.5M439.5 762.5h1.5M437.5 762.8h1.5M486.7 757.0h1.5M349.9 758.5h1.5M401.0 765.3h1.5M477.7 756.2h1.5M449.7 763.6h1.5M459.3 761.3h1.5M491.9 758.4h1.5M407.3 763.9h1.5M456.9 763.8h1.5M339.6 756.1h1.5M466.2 759.0h1.5M435.3 763.1h1.5M458.3 761.7h1.5M400.9 766.4h1.5M369.1 764.6h1.5M470.3 759.6h1.5M466.1 760.9h1.5M347.0 759.0h1.5M470.5 759.6h1.5M345.3 756.8h1.5M335.3 753.3h1.5M477.0 757.7h1.5M457.4 762.8h1.5M441.6 763.3h1.5M429.3 763.0h1.5M403.2 765.2h1.5M452.0 762.6h1.5M467.0 758.8h1.5M394.4 766.0h1.5M430.5 761.3h1.5M446.1 764.5h1.5M460.3 760.9h1.5M437.7 763.4h1.5M367.0 765.4h1.5M467.4 758.2h1.5M451.5 763.9h1.5M421.6 761.9h1.5M499.7 759.7h1.5M386.4 770.6h1.5M343.5 756.1h1.5M363.7 764.1h1.5M398.9 765.6h1.5M404.3 765.9h1.5M452.4 763.1h1.5M464.0 761.9h1.5M488.7 757.4h1.5M496.0 759.2h1.5M385.1 769.9h1.5M363.2 763.9h1.5M437.6 764.1h1.5" stroke="#a9a3ee" stroke-width="1.5" fill="none"/>
<path d="M552.5 771.9h1.5M564.5 770.0h1.5M519.0 766.8h1.5M520.1 767.4h1.5M545.0 769.4h1.5M536.5 769.0h1.5M557.4 771.8h1.5M540.6 770.8h1.5M546.2 769.4h1.5M544.5 770.4h1.5M521.0 768.1h1.5M531.9 767.5h1.5M542.9 770.4h1.5M524.5 765.8h1.5M561.7 771.9h1.5M554.1 769.8h1.5M554.9 771.5h1.5M520.0 766.2h1.5M519.5 766.3h1.5M521.3 767.1h1.5M544.9 769.0h1.5M555.3 770.1h1.5M554.6 769.8h1.5M558.1 771.4h1.5M547.3 771.5h1.5M566.0 770.6h1.5M555.8 769.7h1.5M537.2 768.1h1.5M551.7 770.2h1.5M561.4 771.4h1.5M563.3 770.2h1.5M554.0 770.5h1.5M517.6 767.2h1.5M528.2 767.4h1.5M534.6 768.8h1.5M559.8 771.1h1.5M549.3 771.2h1.5M536.8 769.2h1.5M535.3 769.8h1.5M561.8 770.2h1.5" stroke="#a9a3ee" stroke-width="1.5" fill="none"/>
<rect x="328" y="774.8" width="15.5" height="3.0" fill="#fff"/>
<rect x="332" y="785" width="10" height="10" fill="rgb(9,9,9)"/>
<rect x="332" y="795" width="10" height="10" fill="rgb(16,16,16)"/>
<rect x="332" y="805" width="10" height="10" fill="rgb(11,11,11)"/>
<rect x="342" y="785" width="10" height="10" fill="rgb(5,5,5)"/>
<rect x="342" y="795" width="10" height="10" fill="rgb(10,10,10)"/>
<rect x="342" y="805" width="10" height="10" fill="rgb(7,7,7)"/>
<rect x="352" y="795" width="10" height="10" fill="rgb(8,8,8)"/>
<rect x="352" y="805" width="10" height="10" fill="rgb(16,16,16)"/>
<rect x="352" y="815" width="10" height="10" fill="rgb(6,6,6)"/>
<rect x="362" y="795" width="10" height="10" fill="rgb(18,18,18)"/>
<rect x="362" y="805" width="10" height="10" fill="rgb(18,18,18)"/>
<rect x="362" y="815" width="10" height="10" fill="rgb(13,13,13)"/>
<rect x="372" y="795" width="10" height="10" fill="rgb(17,17,17)"/>
<rect x="372" y="805" width="10" height="10" fill="rgb(14,14,14)"/>
<rect x="372" y="815" width="10" height="10" fill="rgb(7,7,7)"/>
<rect x="382" y="805" width="10" height="10" fill="rgb(18,18,18)"/>
<rect x="382" y="815" width="10" height="10" fill="rgb(14,14,14)"/>
<rect x="382" y="795" width="10" height="10" fill="rgb(6,6,6)"/>
<rect x="392" y="795" width="10" height="10" fill="rgb(14,14,14)"/>
<rect x="392" y="805" width="10" height="10" fill="rgb(12,12,12)"/>
<rect x="392" y="815" width="10" height="10" fill="rgb(14,14,14)"/>
<rect x="402" y="795" width="10" height="10" fill="rgb(12,12,12)"/>
<rect x="402" y="805" width="10" height="10" fill="rgb(7,7,7)"/>
<rect x="402" y="815" width="10" height="10" fill="rgb(11,11,11)"/>
<rect x="412" y="795" width="10" height="10" fill="rgb(10,10,10)"/>
<rect x="412" y="805" width="10" height="10" fill="rgb(13,13,13)"/>
<rect x="412" y="815" width="10" height="10" fill="rgb(9,9,9)"/>
<rect x="422" y="795" width="10" height="10" fill="rgb(5,5,5)"/>
<rect x="422" y="805" width="10" height="10" fill="rgb(12,12,12)"/>
<rect x="422" y="815" width="10" height="10" fill="rgb(11,11,11)"/>
<rect x="432" y="795" width="10" height="10" fill="rgb(18,18,18)"/>
<rect x="432" y="805" width="10" height="10" fill="rgb(6,6,6)"/>
<rect x="432" y="815" width="10" height="10" fill="rgb(16,16,16)"/>
<rect x="442" y="795" width="10" height="10" fill="rgb(15,15,15)"/>
<rect x="442" y="805" width="10" height="10" fill="rgb(5,5,5)"/>
<rect x="442" y="815" width="10" height="10" fill="rgb(9,9,9)"/>
<rect x="452" y="795" width="10" height="10" fill="rgb(6,6,6)"/>
<rect x="452" y="805" width="10" height="10" fill="rgb(8,8,8)"/>
<rect x="452" y="815" width="10" height="10" fill="rgb(7,7,7)"/>
<rect x="462" y="785" width="10" height="10" fill="rgb(9,9,9)"/>
<rect x="462" y="795" width="10" height="10" fill="rgb(12,12,12)"/>
<rect x="462" y="805" width="10" height="10" fill="rgb(14,14,14)"/>
<rect x="472" y="785" width="10" height="10" fill="rgb(11,11,11)"/>
<rect x="472" y="795" width="10" height="10" fill="rgb(10,10,10)"/>
<rect x="472" y="805" width="10" height="10" fill="rgb(18,18,18)"/>
<rect x="482" y="785" width="10" height="10" fill="rgb(15,15,15)"/>
<rect x="482" y="795" width="10" height="10" fill="rgb(13,13,13)"/>
<rect x="482" y="805" width="10" height="10" fill="rgb(8,8,8)"/>
<rect x="492" y="785" width="10" height="10" fill="rgb(16,16,16)"/>
<rect x="492" y="795" width="10" height="10" fill="rgb(16,16,16)"/>
<rect x="492" y="805" width="10" height="10" fill="rgb(9,9,9)"/>
<rect x="502" y="795" width="10" height="10" fill="rgb(18,18,18)"/>
<rect x="502" y="805" width="10" height="10" fill="rgb(10,10,10)"/>
<rect x="502" y="815" width="10" height="10" fill="rgb(6,6,6)"/>
<rect x="512" y="795" width="10" height="10" fill="rgb(14,14,14)"/>
<rect x="512" y="805" width="10" height="10" fill="rgb(14,14,14)"/>
<rect x="512" y="815" width="10" height="10" fill="rgb(17,17,17)"/>
<rect x="522" y="795" width="10" height="10" fill="rgb(6,6,6)"/>
<rect x="522" y="805" width="10" height="10" fill="rgb(12,12,12)"/>
<rect x="522" y="815" width="10" height="10" fill="rgb(6,6,6)"/>
<rect x="532" y="795" width="10" height="10" fill="rgb(13,13,13)"/>
<rect x="532" y="805" width="10" height="10" fill="rgb(16,16,16)"/>
<rect x="532" y="815" width="10" height="10" fill="rgb(7,7,7)"/>
<rect x="542" y="805" width="10" height="10" fill="rgb(8,8,8)"/>
<rect x="542" y="815" width="10" height="10" fill="rgb(16,16,16)"/>
<rect x="552" y="805" width="10" height="10" fill="rgb(16,16,16)"/>
<rect x="552" y="815" width="10" height="10" fill="rgb(13,13,13)"/>
<rect x="562" y="805" width="10" height="10" fill="rgb(14,14,14)"/>
<rect x="562" y="815" width="10" height="10" fill="rgb(5,5,5)"/>
<polyline points="333.1,798.4 341.0,801.1 354.2,805.0 372.5,810.3 383.0,814.2 391.0,812.9 398.8,810.3 409.3,809.0 425.1,806.3 435.6,807.6 446.1,809.0 456.6,807.6 467.1,803.7 477.6,801.1 488.2,802.4 500.0,805.0 510.0,808.5" fill="none" stroke="#262626" stroke-width="4.8" stroke-linejoin="round" stroke-linecap="round"/>
<polyline points="333.1,798.4 341.0,801.1 354.2,805.0 372.5,810.3 383.0,814.2 391.0,812.9 398.8,810.3 409.3,809.0 425.1,806.3 435.6,807.6 446.1,809.0 456.6,807.6 467.1,803.7 477.6,801.1 488.2,802.4 500.0,805.0 510.0,808.5" fill="none" stroke="#7d7d7d" stroke-width="2.6" stroke-linejoin="round" stroke-linecap="round"/>
<path d="M364.7 809.3h1.0M461.3 806.2h1.0M447.6 807.8h1.0M465.9 803.6h1.0M361.5 806.5h1.0M438.4 808.7h1.0M481.0 801.7h1.0M402.8 810.4h1.0M406.8 809.9h1.0M424.4 807.3h1.0M359.1 806.7h1.0M483.9 801.8h1.0M345.5 801.9h1.0M432.5 806.6h1.0M390.0 811.8h1.0M339.2 801.0h1.0M437.4 808.9h1.0M411.8 807.8h1.0M442.0 807.5h1.0M489.5 802.7h1.0M394.4 811.3h1.0M509.8 808.9h1.0M382.4 813.4h1.0M461.4 807.2h1.0M471.3 803.4h1.0M386.0 813.1h1.0M341.9 802.7h1.0M355.1 803.9h1.0M442.3 809.4h1.0M388.1 813.3h1.0M346.2 802.0h1.0M398.7 809.4h1.0M480.5 802.2h1.0M333.2 798.1h1.0M393.5 813.3h1.0M456.9 806.5h1.0M457.4 807.0h1.0M355.2 804.9h1.0M345.1 801.3h1.0M495.9 804.8h1.0M432.5 806.5h1.0M349.7 804.5h1.0M386.2 813.3h1.0M452.5 808.7h1.0M490.0 802.4h1.0M496.9 804.1h1.0M339.2 800.8h1.0M485.2 801.7h1.0M368.4 809.2h1.0M495.9 804.3h1.0M503.0 807.0h1.0M460.2 807.3h1.0M386.6 812.9h1.0" stroke="#e8e8e8" stroke-width="1.0" fill="none"/>
<path d="M446.7 808.9h1.0M366.2 808.5h1.0M406.8 810.3h1.0M400.4 810.2h1.0M507.9 807.6h1.0M491.3 803.4h1.0M348.8 804.7h1.0M438.7 807.3h1.0M355.0 804.9h1.0M445.7 809.9h1.0M364.0 807.6h1.0M370.0 810.0h1.0M366.8 807.9h1.0M439.9 807.4h1.0M352.4 805.3h1.0M474.9 802.6h1.0M491.3 803.4h1.0M495.2 802.8h1.0M420.0 807.9h1.0M366.9 808.1h1.0M343.4 801.6h1.0M463.5 804.1h1.0M336.8 798.8h1.0M433.7 806.3h1.0M480.4 800.8h1.0M384.0 814.8h1.0M403.5 809.9h1.0M399.4 809.7h1.0M506.3 807.6h1.0M376.4 811.6h1.0M397.5 809.9h1.0M362.5 807.4h1.0M394.3 810.7h1.0M505.2 807.7h1.0M400.2 810.9h1.0M333.9 799.2h1.0M376.6 812.7h1.0M492.5 803.8h1.0M357.8 806.3h1.0M396.0 811.3h1.0M374.9 810.4h1.0M339.4 799.9h1.0M367.5 808.7h1.0M466.1 805.2h1.0M342.4 801.5h1.0M474.7 801.4h1.0M480.6 802.4h1.0M406.1 809.0h1.0M449.2 809.6h1.0M489.2 802.2h1.0M403.8 808.6h1.0M502.0 806.1h1.0M376.5 812.1h1.0" stroke="#bdbdbd" stroke-width="1.0" fill="none"/>
<path d="M493.8 803.4h1.0M368.2 809.1h1.0M510.1 808.0h1.0M358.3 807.2h1.0M490.6 803.6h1.0M384.5 813.6h1.0M442.9 809.5h1.0M472.7 803.2h1.0M462.3 806.6h1.0M492.3 803.3h1.0M361.7 807.7h1.0M490.5 803.7h1.0M457.8 807.6h1.0M473.1 803.0h1.0M398.9 810.6h1.0M344.9 803.4h1.0M457.2 807.3h1.0M491.8 802.5h1.0M370.8 810.5h1.0M375.5 810.7h1.0M405.2 810.2h1.0M334.2 798.0h1.0M446.2 809.5h1.0M374.3 810.3h1.0M406.0 808.6h1.0M472.4 803.4h1.0M333.8 798.6h1.0M413.5 809.3h1.0M507.5 807.9h1.0M482.9 802.2h1.0M457.2 807.2h1.0M445.5 808.9h1.0M440.5 809.2h1.0M452.7 808.1h1.0M376.7 813.2h1.0M472.8 802.1h1.0M444.5 808.6h1.0M510.2 808.4h1.0M492.6 804.3h1.0M444.8 808.7h1.0M368.7 809.3h1.0M475.9 800.5h1.0M380.1 814.6h1.0M336.1 800.3h1.0M403.0 810.6h1.0M458.5 806.4h1.0M374.0 811.4h1.0M432.0 807.2h1.0M491.5 803.9h1.0M484.1 800.9h1.0M486.5 802.0h1.0M456.1 807.5h1.0M441.9 807.7h1.0" stroke="#9a9a9a" stroke-width="1.0" fill="none"/>
<polyline points="516.0,809.9 528.0,812.5 540.0,814.5 555.0,815.5 566.8,815.9" fill="none" stroke="#262626" stroke-width="4.8" stroke-linejoin="round" stroke-linecap="round"/>
<polyline points="516.0,809.9 528.0,812.5 540.0,814.5 555.0,815.5 566.8,815.9" fill="none" stroke="#7d7d7d" stroke-width="2.6" stroke-linejoin="round" stroke-linecap="round"/>
<path d="M547.6 814.9h1.0M530.2 811.9h1.0M530.0 812.6h1.0M541.4 813.9h1.0M561.4 815.1h1.0M517.6 811.5h1.0M544.3 815.1h1.0M531.0 813.5h1.0M522.8 810.3h1.0M518.1 809.6h1.0M532.7 813.4h1.0M535.2 814.3h1.0M551.3 815.1h1.0M549.3 815.8h1.0M543.7 814.1h1.0" stroke="#e8e8e8" stroke-width="1.0" fill="none"/>
<path d="M566.5 816.7h1.0M521.0 810.2h1.0M550.4 814.1h1.0M538.8 815.1h1.0M559.2 816.3h1.0M548.1 814.4h1.0M541.4 815.6h1.0M560.1 814.7h1.0M538.8 813.5h1.0M536.8 814.1h1.0M548.8 814.9h1.0M552.4 815.1h1.0M530.6 813.0h1.0M561.9 815.5h1.0M566.5 816.4h1.0" stroke="#bdbdbd" stroke-width="1.0" fill="none"/>
<path d="M547.0 814.4h1.0M534.8 813.9h1.0M521.6 810.2h1.0M557.0 815.3h1.0M524.6 810.8h1.0M552.1 814.9h1.0M516.6 809.9h1.0M524.9 812.7h1.0M519.9 809.6h1.0M548.6 814.4h1.0M546.9 815.2h1.0M527.1 811.5h1.0M520.6 810.3h1.0M567.0 815.8h1.0M556.4 815.7h1.0" stroke="#9a9a9a" stroke-width="1.0" fill="none"/>
<path d="M358,809.0 L357,814.5" stroke="#ddd" stroke-width="1.6"/>
<path d="M520.4,809.5 L520,823.5" stroke="#ddd" stroke-width="1.6"/>
<path d="M455.3 808.7h1.5M468.8 802.3h1.5M355.1 805.8h1.5M511.1 808.6h1.5M481.8 802.2h1.5M395.3 810.6h1.5M444.3 808.5h1.5M392.0 813.4h1.5M335.2 798.2h1.5M412.3 807.3h1.5M481.2 802.2h1.5M475.3 802.5h1.5M436.5 807.6h1.5M499.4 804.2h1.5M399.6 810.3h1.5M465.9 803.4h1.5M403.4 809.9h1.5M366.5 810.3h1.5M353.0 803.8h1.5M337.5 798.8h1.5M407.8 809.5h1.5M467.1 805.0h1.5M378.4 813.2h1.5M427.5 806.2h1.5M406.6 810.6h1.5M447.5 807.5h1.5M482.1 802.1h1.5M483.7 803.1h1.5M350.3 804.8h1.5M378.3 813.1h1.5" stroke="#2fd8d8" stroke-width="1.5" fill="none"/>
<path d="M520.3 812.0h1.5M559.3 817.0h1.5M536.9 813.2h1.5M564.7 814.8h1.5M554.1 814.7h1.5M545.3 813.6h1.5M551.2 814.3h1.5M531.1 812.9h1.5M556.1 816.2h1.5M541.9 813.6h1.5M539.4 813.7h1.5M538.7 814.8h1.5" stroke="#2fd8d8" stroke-width="1.5" fill="none"/>
<rect x="328" y="818.9" width="15.5" height="3.0" fill="#fff"/>
<rect x="332" y="825" width="10" height="10" fill="rgb(8,8,8)"/>
<rect x="332" y="835" width="10" height="10" fill="rgb(11,11,11)"/>
<rect x="332" y="845" width="10" height="10" fill="rgb(15,15,15)"/>
<rect x="342" y="835" width="10" height="10" fill="rgb(11,11,11)"/>
<rect x="342" y="845" width="10" height="10" fill="rgb(7,7,7)"/>
<rect x="342" y="855" width="10" height="10" fill="rgb(6,6,6)"/>
<rect x="352" y="835" width="10" height="10" fill="rgb(16,16,16)"/>
<rect x="352" y="845" width="10" height="10" fill="rgb(6,6,6)"/>
<rect x="352" y="855" width="10" height="10" fill="rgb(7,7,7)"/>
<rect x="362" y="835" width="10" height="10" fill="rgb(9,9,9)"/>
<rect x="362" y="845" width="10" height="10" fill="rgb(11,11,11)"/>
<rect x="362" y="855" width="10" height="10" fill="rgb(10,10,10)"/>
<rect x="372" y="845" width="10" height="10" fill="rgb(11,11,11)"/>
<rect x="372" y="855" width="10" height="10" fill="rgb(8,8,8)"/>
<rect x="372" y="865" width="10" height="10" fill="rgb(10,10,10)"/>
<rect x="382" y="845" width="10" height="10" fill="rgb(9,9,9)"/>
<rect x="382" y="855" width="10" height="10" fill="rgb(10,10,10)"/>
<rect x="382" y="865" width="10" height="10" fill="rgb(8,8,8)"/>
<rect x="392" y="845" width="10" height="10" fill="rgb(7,7,7)"/>
<rect x="392" y="855" width="10" height="10" fill="rgb(7,7,7)"/>
<rect x="392" y="865" width="10" height="10" fill="rgb(11,11,11)"/>
<rect x="402" y="845" width="10" height="10" fill="rgb(15,15,15)"/>
<rect x="402" y="855" width="10" height="10" fill="rgb(6,6,6)"/>
<rect x="402" y="835" width="10" height="10" fill="rgb(9,9,9)"/>
<rect x="412" y="835" width="10" height="10" fill="rgb(17,17,17)"/>
<rect x="412" y="845" width="10" height="10" fill="rgb(17,17,17)"/>
<rect x="412" y="855" width="10" height="10" fill="rgb(10,10,10)"/>
<rect x="422" y="835" width="10" height="10" fill="rgb(9,9,9)"/>
<rect x="422" y="845" width="10" height="10" fill="rgb(16,16,16)"/>
<rect x="422" y="855" width="10" height="10" fill="rgb(7,7,7)"/>
<rect x="432" y="835" width="10" height="10" fill="rgb(11,11,11)"/>
<rect x="432" y="845" width="10" height="10" fill="rgb(8,8,8)"/>
<rect x="432" y="855" width="10" height="10" fill="rgb(6,6,6)"/>
<rect x="442" y="835" width="10" height="10" fill="rgb(16,16,16)"/>
<rect x="442" y="845" width="10" height="10" fill="rgb(12,12,12)"/>
<rect x="442" y="855" width="10" height="10" fill="rgb(18,18,18)"/>
<rect x="452" y="835" width="10" height="10" fill="rgb(9,9,9)"/>
<rect x="452" y="845" width="10" height="10" fill="rgb(11,11,11)"/>
<rect x="452" y="855" width="10" height="10" fill="rgb(12,12,12)"/>
<rect x="462" y="835" width="10" height="10" fill="rgb(11,11,11)"/>
<rect x="462" y="845" width="10" height="10" fill="rgb(7,7,7)"/>
<rect x="462" y="855" width="10" height="10" fill="rgb(14,14,14)"/>
<rect x="472" y="835" width="10" height="10" fill="rgb(12,12,12)"/>
<rect x="472" y="845" width="10" height="10" fill="rgb(6,6,6)"/>
<rect x="472" y="855" width="10" height="10" fill="rgb(5,5,5)"/>
<rect x="482" y="835" width="10" height="10" fill="rgb(10,10,10)"/>
<rect x="482" y="845" width="10" height="10" fill="rgb(14,14,14)"/>
<rect x="482" y="855" width="10" height="10" fill="rgb(10,10,10)"/>
<rect x="492" y="835" width="10" height="10" fill="rgb(11,11,11)"/>
<rect x="492" y="845" width="10" height="10" fill="rgb(14,14,14)"/>
<rect x="492" y="855" width="10" height="10" fill="rgb(10,10,10)"/>
<rect x="502" y="835" width="10" height="10" fill="rgb(5,5,5)"/>
<rect x="502" y="845" width="10" height="10" fill="rgb(17,17,17)"/>
<rect x="502" y="855" width="10" height="10" fill="rgb(12,12,12)"/>
<rect x="512" y="845" width="10" height="10" fill="rgb(6,6,6)"/>
<rect x="512" y="855" width="10" height="10" fill="rgb(17,17,17)"/>
<rect x="522" y="845" width="10" height="10" fill="rgb(11,11,11)"/>
<rect x="522" y="855" width="10" height="10" fill="rgb(5,5,5)"/>
<rect x="522" y="865" width="10" height="10" fill="rgb(12,12,12)"/>
<rect x="532" y="845" width="10" height="10" fill="rgb(16,16,16)"/>
<rect x="532" y="855" width="10" height="10" fill="rgb(18,18,18)"/>
<rect x="532" y="865" width="10" height="10" fill="rgb(5,5,5)"/>
<rect x="542" y="845" width="10" height="10" fill="rgb(15,15,15)"/>
<rect x="542" y="855" width="10" height="10" fill="rgb(6,6,6)"/>
<rect x="542" y="865" width="10" height="10" fill="rgb(7,7,7)"/>
<rect x="552" y="845" width="10" height="10" fill="rgb(15,15,15)"/>
<rect x="552" y="855" width="10" height="10" fill="rgb(10,10,10)"/>
<rect x="552" y="865" width="10" height="10" fill="rgb(8,8,8)"/>
<rect x="562" y="845" width="10" height="10" fill="rgb(15,15,15)"/>
<rect x="562" y="855" width="10" height="10" fill="rgb(14,14,14)"/>
<rect x="562" y="865" width="10" height="10" fill="rgb(7,7,7)"/>
<polyline points="333.1,842.9 341.0,845.6 354.2,849.5 372.5,854.8 383.0,858.7 391.0,857.4 398.8,854.8 409.3,853.5 425.1,850.8 435.6,852.1 446.1,853.5 456.6,852.1 467.1,848.2 477.6,845.6 488.2,846.9 500.0,849.5 510.0,853.0" fill="none" stroke="#262626" stroke-width="4.8" stroke-linejoin="round" stroke-linecap="round"/>
<polyline points="333.1,842.9 341.0,845.6 354.2,849.5 372.5,854.8 383.0,858.7 391.0,857.4 398.8,854.8 409.3,853.5 425.1,850.8 435.6,852.1 446.1,853.5 456.6,852.1 467.1,848.2 477.6,845.6 488.2,846.9 500.0,849.5 510.0,853.0" fill="none" stroke="#7d7d7d" stroke-width="2.6" stroke-linejoin="round" stroke-linecap="round"/>
<path d="M437.9 853.0h1.0M393.4 856.0h1.0M416.8 851.5h1.0M469.8 848.0h1.0M353.9 849.5h1.0M460.2 851.5h1.0M356.4 850.4h1.0M427.8 850.4h1.0M405.6 853.7h1.0M507.1 852.6h1.0M372.9 855.8h1.0M456.6 850.9h1.0M457.7 851.2h1.0M464.3 849.3h1.0M426.7 851.5h1.0M340.7 846.4h1.0M360.3 851.2h1.0M372.0 854.4h1.0M400.0 854.9h1.0M400.1 854.6h1.0M376.4 855.8h1.0M507.1 850.8h1.0M477.8 846.3h1.0M455.1 851.6h1.0M412.3 852.5h1.0M432.4 851.4h1.0M341.7 846.6h1.0M409.4 854.5h1.0M472.0 848.0h1.0M480.6 846.2h1.0M435.7 853.2h1.0M448.6 852.5h1.0M458.5 850.8h1.0M347.6 848.0h1.0M492.3 847.9h1.0M489.8 847.4h1.0M464.4 849.4h1.0M434.1 851.7h1.0M509.9 852.5h1.0M476.0 845.3h1.0M354.2 849.9h1.0M354.1 848.1h1.0M491.8 847.1h1.0M344.9 846.0h1.0M383.0 858.3h1.0M342.8 846.4h1.0M431.8 850.8h1.0M359.2 851.2h1.0M449.6 852.8h1.0M458.7 850.3h1.0M344.0 845.2h1.0M385.4 859.3h1.0M441.9 852.0h1.0" stroke="#e8e8e8" stroke-width="1.0" fill="none"/>
<path d="M363.2 851.9h1.0M411.4 852.8h1.0M354.8 849.7h1.0M361.2 851.3h1.0M341.7 845.9h1.0M496.7 849.8h1.0M476.7 844.5h1.0M436.8 852.8h1.0M389.4 858.2h1.0M430.8 850.8h1.0M455.5 851.3h1.0M414.4 853.6h1.0M373.2 854.5h1.0M444.5 852.4h1.0M354.3 850.2h1.0M478.3 845.8h1.0M500.2 850.3h1.0M447.2 854.5h1.0M451.1 852.0h1.0M417.4 853.2h1.0M400.8 854.5h1.0M420.8 851.2h1.0M451.6 853.9h1.0M476.5 846.2h1.0M387.2 858.3h1.0M446.1 854.2h1.0M425.1 850.5h1.0M353.8 848.5h1.0M504.6 851.7h1.0M349.5 849.1h1.0M338.5 845.7h1.0M384.3 858.2h1.0M442.9 852.1h1.0M489.4 847.2h1.0M351.1 848.5h1.0M354.7 849.1h1.0M371.7 854.0h1.0M455.7 852.6h1.0M401.2 854.3h1.0M427.8 850.4h1.0M486.1 846.4h1.0M495.2 849.4h1.0M408.9 853.3h1.0M399.5 853.8h1.0M378.3 857.0h1.0M432.0 851.7h1.0M469.2 847.4h1.0M345.5 846.8h1.0M413.8 851.5h1.0M410.0 854.0h1.0M449.0 854.2h1.0M408.2 854.0h1.0M340.1 846.1h1.0" stroke="#bdbdbd" stroke-width="1.0" fill="none"/>
<path d="M357.5 849.4h1.0M353.7 849.1h1.0M376.4 856.8h1.0M467.8 847.5h1.0M363.8 853.0h1.0M496.0 849.5h1.0M485.2 845.7h1.0M442.7 853.6h1.0M490.1 848.2h1.0M361.9 851.9h1.0M439.1 852.9h1.0M482.2 845.4h1.0M367.8 854.4h1.0M336.3 844.7h1.0M351.2 849.2h1.0M348.1 847.7h1.0M381.8 857.5h1.0M463.9 848.8h1.0M433.5 851.9h1.0M386.0 858.9h1.0M432.9 850.7h1.0M486.0 845.9h1.0M407.2 852.8h1.0M499.0 848.4h1.0M438.8 852.7h1.0M379.3 856.2h1.0M378.2 856.0h1.0M494.2 847.8h1.0M487.5 847.1h1.0M471.8 848.0h1.0M386.7 858.6h1.0M476.8 846.2h1.0M475.5 846.1h1.0M456.6 850.7h1.0M481.8 846.5h1.0M370.7 853.1h1.0M461.7 849.2h1.0M430.2 850.7h1.0M350.9 848.3h1.0M334.0 843.2h1.0M391.5 857.3h1.0M383.0 859.4h1.0M423.1 850.9h1.0M361.6 852.3h1.0M421.9 852.2h1.0M441.0 853.5h1.0M395.8 856.5h1.0M343.3 847.2h1.0M427.7 851.6h1.0M509.9 853.8h1.0M504.0 850.4h1.0M426.1 850.3h1.0M379.1 857.8h1.0" stroke="#9a9a9a" stroke-width="1.0" fill="none"/>
<polyline points="516.0,854.4 528.0,857.0 540.0,859.0 555.0,860.0 566.8,860.4" fill="none" stroke="#262626" stroke-width="4.8" stroke-linejoin="round" stroke-linecap="round"/>
<polyline points="516.0,854.4 528.0,857.0 540.0,859.0 555.0,860.0 566.8,860.4" fill="none" stroke="#7d7d7d" stroke-width="2.6" stroke-linejoin="round" stroke-linecap="round"/>
<path d="M530.5 857.7h1.0M515.6 853.6h1.0M541.0 859.6h1.0M537.1 859.1h1.0M536.0 858.8h1.0M555.8 859.2h1.0M556.1 861.2h1.0M542.4 860.0h1.0M546.7 860.6h1.0M521.1 854.2h1.0M540.7 860.0h1.0M530.2 858.3h1.0M526.5 856.8h1.0M559.2 859.2h1.0M518.5 855.3h1.0" stroke="#e8e8e8" stroke-width="1.0" fill="none"/>
<path d="M564.6 860.3h1.0M535.9 858.8h1.0M548.0 859.9h1.0M563.1 860.3h1.0M564.1 859.4h1.0M526.5 857.2h1.0M554.6 859.2h1.0M520.7 855.4h1.0M528.1 857.2h1.0M532.7 857.9h1.0M519.9 856.4h1.0M566.0 861.2h1.0M525.0 857.4h1.0M519.0 855.7h1.0M525.1 857.5h1.0" stroke="#bdbdbd" stroke-width="1.0" fill="none"/>
<path d="M518.7 855.0h1.0M558.3 860.3h1.0M521.2 856.0h1.0M521.9 854.5h1.0M526.8 856.4h1.0M526.2 855.4h1.0M521.1 855.6h1.0M524.0 856.6h1.0M528.8 857.2h1.0M555.8 859.2h1.0M558.4 860.0h1.0M522.2 856.6h1.0M516.5 854.1h1.0M515.8 854.6h1.0M522.5 856.0h1.0" stroke="#9a9a9a" stroke-width="1.0" fill="none"/>
<path d="M358,853.5 L357,859.0" stroke="#ddd" stroke-width="1.6"/>
<path d="M520.4,854.0 L520,868.0" stroke="#ddd" stroke-width="1.6"/>
<path d="M345.7 848.1h1.5M364.6 851.7h1.5M352.3 847.4h1.5M405.5 854.2h1.5M447.7 854.9h1.5M418.1 852.2h1.5M393.8 856.3h1.5M384.3 857.7h1.5M457.8 851.9h1.5M387.9 858.2h1.5M398.0 855.3h1.5M394.4 855.6h1.5M394.5 854.1h1.5M338.9 845.5h1.5M342.0 847.5h1.5M505.9 853.2h1.5M510.5 850.9h1.5M340.9 845.2h1.5M462.8 848.5h1.5M350.4 847.2h1.5M417.0 851.4h1.5M413.7 851.3h1.5M477.6 845.1h1.5M376.7 855.6h1.5M408.0 852.6h1.5M393.4 854.8h1.5M414.1 852.3h1.5M482.3 845.1h1.5M344.7 845.4h1.5M404.3 856.1h1.5M466.2 849.9h1.5M488.7 848.7h1.5M503.7 851.3h1.5M408.8 851.9h1.5M507.3 853.3h1.5M471.3 845.7h1.5M332.7 844.2h1.5M377.8 857.0h1.5M346.1 847.3h1.5M443.0 852.9h1.5M349.8 848.7h1.5M408.6 853.4h1.5M482.3 846.1h1.5M474.9 847.2h1.5M446.8 852.5h1.5M466.6 849.4h1.5M474.1 846.4h1.5M485.3 845.0h1.5M506.7 850.7h1.5M447.9 853.6h1.5M432.1 851.1h1.5M426.1 852.4h1.5M351.9 847.0h1.5M410.3 851.4h1.5M409.3 854.4h1.5M417.5 853.8h1.5M354.8 849.8h1.5M429.2 853.0h1.5M493.6 848.4h1.5M367.4 852.7h1.5M461.1 851.0h1.5M481.2 847.1h1.5M415.1 853.5h1.5M356.9 848.5h1.5M360.5 849.6h1.5M356.2 848.8h1.5M469.2 846.9h1.5M352.7 848.6h1.5M372.3 853.3h1.5M417.6 852.1h1.5M461.4 849.1h1.5M480.2 845.2h1.5M413.4 851.5h1.5M407.2 855.1h1.5M403.2 855.1h1.5M419.8 850.9h1.5M493.2 847.0h1.5M374.6 855.9h1.5M451.9 852.4h1.5M402.1 854.7h1.5M392.7 856.0h1.5M493.8 847.9h1.5M407.5 855.1h1.5M400.3 853.2h1.5M434.0 852.2h1.5M496.4 849.8h1.5M414.6 852.7h1.5M500.5 849.0h1.5M499.2 848.8h1.5M356.8 849.4h1.5M452.9 853.3h1.5M420.9 852.6h1.5M392.8 857.4h1.5M499.3 850.6h1.5M342.7 845.2h1.5M403.2 855.1h1.5M363.8 852.7h1.5M430.5 852.8h1.5M391.3 856.9h1.5M458.1 851.1h1.5M487.7 847.6h1.5M385.0 856.9h1.5M467.2 849.7h1.5M447.9 852.5h1.5M453.0 852.5h1.5M338.7 846.9h1.5M499.5 847.8h1.5M381.2 857.8h1.5M370.4 853.9h1.5M467.4 847.9h1.5M478.1 847.3h1.5M487.1 847.4h1.5M441.8 854.5h1.5M445.3 851.7h1.5M447.7 854.2h1.5M407.1 855.3h1.5M390.0 859.4h1.5M333.9 841.7h1.5M357.4 848.3h1.5M413.8 851.8h1.5M495.7 849.5h1.5M498.4 850.2h1.5M406.4 854.2h1.5M441.6 854.0h1.5M468.1 849.0h1.5M466.9 847.0h1.5M417.9 850.1h1.5M392.8 857.7h1.5M420.9 850.1h1.5M501.5 851.8h1.5M457.0 851.2h1.5M500.6 847.9h1.5M469.4 849.2h1.5M446.6 854.6h1.5M359.3 852.7h1.5M342.2 844.0h1.5M407.0 855.5h1.5M413.9 853.2h1.5M349.3 847.9h1.5M417.5 850.6h1.5M388.3 856.3h1.5M418.4 851.2h1.5M430.8 850.1h1.5M387.1 858.8h1.5M422.8 850.9h1.5M496.5 849.0h1.5M441.5 851.9h1.5M452.0 852.4h1.5M466.1 847.0h1.5M430.3 850.3h1.5M399.8 855.9h1.5M489.6 848.6h1.5M424.9 850.5h1.5M477.6 846.1h1.5M510.3 853.9h1.5M477.6 845.9h1.5M483.9 845.2h1.5M424.4 851.2h1.5M457.6 850.6h1.5M393.3 857.1h1.5M364.6 852.4h1.5M458.1 851.2h1.5M455.2 851.7h1.5M354.9 848.9h1.5M508.5 853.7h1.5M461.0 851.1h1.5M396.2 854.1h1.5M459.6 852.3h1.5M364.7 853.5h1.5M498.9 849.5h1.5" stroke="#f5a623" stroke-width="1.5" fill="none"/>
<path d="M546.7 859.9h1.5M543.9 858.9h1.5M551.2 858.1h1.5M550.2 861.4h1.5M516.2 854.6h1.5M551.3 860.3h1.5M552.9 860.8h1.5M516.5 855.5h1.5M551.5 860.3h1.5M529.4 857.1h1.5M562.9 861.5h1.5M541.4 859.1h1.5M535.5 856.5h1.5M537.2 858.5h1.5M549.3 859.9h1.5M539.5 859.9h1.5M528.0 858.1h1.5M546.5 860.3h1.5M541.7 860.8h1.5M550.5 861.2h1.5M531.9 857.3h1.5M562.4 858.8h1.5M550.0 858.9h1.5M555.7 860.3h1.5M530.7 857.5h1.5M566.0 860.8h1.5M557.3 858.9h1.5M540.7 859.6h1.5M527.2 857.6h1.5M519.4 853.3h1.5M548.0 858.3h1.5M554.8 859.2h1.5M521.4 855.6h1.5M551.6 858.5h1.5M547.0 860.2h1.5M561.7 860.2h1.5M535.5 856.8h1.5M519.5 853.9h1.5M520.0 857.1h1.5M534.2 859.7h1.5M549.7 858.3h1.5M533.1 857.9h1.5M525.4 855.2h1.5M559.1 860.4h1.5M531.6 856.8h1.5M562.1 858.7h1.5M549.1 858.7h1.5M544.5 860.2h1.5M531.0 857.1h1.5M528.3 856.5h1.5M539.8 860.1h1.5M528.3 857.1h1.5M544.4 858.9h1.5M523.3 856.2h1.5M562.2 858.9h1.5M558.7 858.7h1.5M536.2 859.6h1.5M526.0 858.1h1.5M536.7 856.6h1.5M522.4 855.1h1.5M550.3 859.6h1.5M524.6 854.2h1.5M532.5 859.4h1.5M546.3 859.0h1.5M547.6 860.2h1.5M518.0 856.1h1.5M563.4 859.0h1.5M560.4 858.8h1.5M545.2 860.7h1.5M530.1 857.7h1.5" stroke="#f5a623" stroke-width="1.5" fill="none"/>
<rect x="328" y="862.3" width="15.5" height="3.0" fill="#fff"/>
<rect x="539.3" y="764" width="32.0" height="14.3" fill="none" stroke="#e0e0e0" stroke-width="1.15" stroke-dasharray="4.2 2.6"/>
<rect x="539.3" y="808.2" width="32.0" height="14.1" fill="none" stroke="#e0e0e0" stroke-width="1.15" stroke-dasharray="4.2 2.6"/>
<rect x="539.3" y="853.7" width="32.0" height="14.4" fill="none" stroke="#e0e0e0" stroke-width="1.15" stroke-dasharray="4.2 2.6"/>
<clipPath id="ic1"><rect x="586.8" y="546.9" width="91.7" height="37.0"/></clipPath>
<g clip-path="url(#ic1)">
<rect x="587.3" y="547.4" width="90.7" height="36.0" fill="rgb(16,16,16)"/>
<rect x="649" y="547.5" width="29" height="36" fill="#222"/>
<polyline points="591.9,574.6 600.0,569.5 612.0,561.5 624.0,554.5 634.0,548.6" fill="none" stroke="#444" stroke-width="8.7" stroke-linejoin="round" stroke-linecap="round"/>
<polyline points="591.9,574.6 600.0,569.5 612.0,561.5 624.0,554.5 634.0,548.6" fill="none" stroke="#666" stroke-width="6.5" stroke-linejoin="round" stroke-linecap="round"/>
<path d="M606.9 563.7h1.0M623.0 556.2h1.0M596.9 572.9h1.0M631.0 550.2h1.0M615.9 557.2h1.0M614.2 556.9h1.0M625.2 554.0h1.0M607.0 566.0h1.0M628.0 552.2h1.0M618.1 557.5h1.0M597.9 567.0h1.0M594.5 570.4h1.0M631.2 549.3h1.0M609.0 560.3h1.0M625.5 553.2h1.0M627.3 554.4h1.0M627.6 553.8h1.0M628.5 551.2h1.0M592.8 573.2h1.0M609.2 566.6h1.0M599.4 569.7h1.0M593.2 573.8h1.0M603.8 567.3h1.0M613.2 561.6h1.0M620.0 558.8h1.0M619.8 557.2h1.0M620.4 554.1h1.0M629.4 549.1h1.0M624.2 552.9h1.0M614.3 561.9h1.0M620.7 555.9h1.0M618.2 559.6h1.0M621.1 555.9h1.0M595.0 573.1h1.0M611.9 558.4h1.0M619.1 560.5h1.0M605.1 562.5h1.0M628.7 551.9h1.0M607.4 562.3h1.0M624.8 553.7h1.0M592.4 576.2h1.0M592.0 575.5h1.0M602.9 566.8h1.0M630.3 551.9h1.0M596.8 570.9h1.0M626.7 549.1h1.0M623.5 555.5h1.0M595.4 574.7h1.0M620.6 555.5h1.0M622.7 555.8h1.0" stroke="#a0a0a0" stroke-width="1.0" fill="none"/>
<path d="M625.3 555.1h1.0M594.0 571.6h1.0M595.1 572.6h1.0M635.0 550.3h1.0M629.7 548.5h1.0M596.7 574.0h1.0M600.4 570.9h1.0M628.1 554.3h1.0M601.4 569.5h1.0M622.1 558.5h1.0M593.5 575.0h1.0M596.0 569.7h1.0M620.6 556.5h1.0M599.5 567.6h1.0M606.3 568.1h1.0M615.2 559.9h1.0M600.6 570.3h1.0M622.2 555.8h1.0M616.4 558.0h1.0M617.4 556.7h1.0M597.2 571.3h1.0M593.0 570.6h1.0M632.1 549.6h1.0M600.7 568.8h1.0M601.5 564.9h1.0M625.1 553.9h1.0M614.2 562.1h1.0M628.7 554.2h1.0M607.2 562.9h1.0M594.4 572.9h1.0M618.8 556.5h1.0M625.6 554.9h1.0M598.5 568.4h1.0M608.7 563.4h1.0M612.7 563.2h1.0M630.4 551.8h1.0M595.7 572.9h1.0M612.4 564.5h1.0M616.3 562.2h1.0M602.1 570.4h1.0M615.2 561.4h1.0M619.3 558.1h1.0M630.5 549.7h1.0M616.8 559.4h1.0M636.2 547.9h1.0M616.4 557.0h1.0M627.1 550.8h1.0M632.8 551.5h1.0M617.3 555.5h1.0M607.0 563.4h1.0" stroke="#d8d8d8" stroke-width="1.0" fill="none"/>
<path d="M622.8 553.7h1.0M630.9 550.9h1.0M613.3 562.6h1.0M625.4 552.6h1.0M602.5 571.3h1.0M594.2 575.3h1.0M628.1 550.4h1.0M599.4 570.6h1.0M594.8 576.8h1.0M628.4 550.6h1.0M593.1 573.2h1.0M631.1 550.7h1.0M591.6 572.6h1.0M606.9 561.4h1.0M614.8 563.9h1.0M615.7 562.6h1.0M595.2 576.6h1.0M634.2 546.7h1.0M610.8 562.5h1.0M611.9 564.0h1.0M627.0 554.3h1.0M601.7 570.0h1.0M591.7 571.5h1.0M605.5 565.8h1.0M609.6 562.8h1.0M606.5 568.0h1.0M632.1 550.2h1.0M590.1 575.1h1.0M610.7 565.0h1.0M601.0 572.1h1.0M616.3 561.7h1.0M610.0 562.4h1.0M609.1 564.4h1.0M636.1 549.3h1.0M631.0 553.2h1.0M623.4 553.1h1.0M626.9 554.1h1.0M624.7 553.5h1.0M623.1 554.1h1.0M603.3 566.4h1.0M621.5 553.1h1.0M636.2 546.5h1.0M609.1 561.5h1.0M593.4 570.3h1.0M625.3 550.7h1.0M596.2 571.2h1.0M610.3 561.2h1.0M611.0 558.6h1.0M632.3 547.0h1.0M626.0 557.1h1.0" stroke="#808080" stroke-width="1.0" fill="none"/>
<path d="M619.9 557.3h2.2M591.2 572.5h2.2M618.7 556.4h2.2M598.6 570.6h2.2M594.2 572.3h2.2M611.9 559.6h2.2M626.1 551.5h2.2M606.0 563.3h2.2" stroke="#f5a623" stroke-width="2.2" fill="none"/>
<path d="M591.5 571.7h2.0M595.7 570.2h2.0M598.4 569.3h2.0M605.9 566.9h2.0M602.3 568.8h2.0M633.9 550.7h2.0M623.4 554.6h2.0M606.0 565.5h2.0" stroke="#a9a3ee" stroke-width="2.0" fill="none"/>
<path d="M626.4 552.8h1.8M615.8 562.3h1.8" stroke="#2fd8d8" stroke-width="1.8" fill="none"/>
</g>
<rect x="630.8" y="577.3" width="45.3" height="3.2" fill="#fff"/>
<rect x="586.3" y="546.4" width="92.7" height="38.0" fill="none" stroke="#e0e0e0" stroke-width="1.15" stroke-dasharray="4.2 2.6"/>
<clipPath id="ic2"><rect x="586.8" y="615.4" width="91.7" height="37.3"/></clipPath>
<g clip-path="url(#ic2)">
<rect x="587.3" y="615.9" width="90.7" height="36.3" fill="rgb(16,16,16)"/>
<polyline points="587.6,629.0 600.0,631.0 612.0,630.0 625.0,633.0 640.0,632.0 655.0,635.0 668.0,637.0 675.0,639.0" fill="none" stroke="#b8b8b8" stroke-width="11.2" stroke-linejoin="round" stroke-linecap="round"/>
<polyline points="587.6,629.0 600.0,631.0 612.0,630.0 625.0,633.0 640.0,632.0 655.0,635.0 668.0,637.0 675.0,639.0" fill="none" stroke="#555" stroke-width="9" stroke-linejoin="round" stroke-linecap="round"/>
<polyline points="587.6,629.0 600.0,631.0 612.0,630.0 625.0,633.0 640.0,632.0 655.0,635.0 668.0,637.0 675.0,639.0" fill="none" stroke="#555" stroke-width="10.2" stroke-linejoin="round" stroke-linecap="round"/>
<polyline points="587.6,629.0 600.0,631.0 612.0,630.0 625.0,633.0 640.0,632.0 655.0,635.0 668.0,637.0 675.0,639.0" fill="none" stroke="#555" stroke-width="8" stroke-linejoin="round" stroke-linecap="round"/>
<path d="M659.6 638.2h1.0M609.0 628.6h1.0M598.4 626.5h1.0M623.7 630.8h1.0M665.2 639.9h1.0M622.7 630.8h1.0M631.6 634.3h1.0M652.4 636.5h1.0M605.8 632.0h1.0M644.9 632.8h1.0M601.1 633.5h1.0M631.3 633.8h1.0M650.0 629.8h1.0M620.3 631.8h1.0M602.7 626.3h1.0M628.2 634.3h1.0M625.8 636.5h1.0M637.4 632.8h1.0M607.6 632.9h1.0M637.0 633.6h1.0M613.2 629.0h1.0M642.2 632.4h1.0M588.3 625.8h1.0M610.8 627.8h1.0M657.6 630.9h1.0M664.4 636.2h1.0M600.5 626.8h1.0M678.9 638.4h1.0M585.7 628.3h1.0M658.1 632.9h1.0M609.5 633.7h1.0M589.7 627.3h1.0M616.8 627.7h1.0M643.2 629.5h1.0M675.1 641.1h1.0M600.5 631.0h1.0M599.5 630.4h1.0M608.8 634.5h1.0M643.7 634.4h1.0M668.2 633.7h1.0M636.8 634.9h1.0M651.5 637.8h1.0M673.9 640.8h1.0M653.4 637.4h1.0M647.5 629.0h1.0M636.7 628.0h1.0M614.1 625.6h1.0M674.2 635.8h1.0M607.7 629.2h1.0M622.6 631.5h1.0M601.4 627.6h1.0M645.4 636.9h1.0M598.3 631.1h1.0M671.1 639.5h1.0M625.3 635.4h1.0M615.4 628.4h1.0M613.0 635.3h1.0M616.9 629.4h1.0M593.9 626.5h1.0M642.4 633.4h1.0M610.5 627.8h1.0M635.0 633.0h1.0M638.7 636.0h1.0M652.6 630.5h1.0M625.6 634.9h1.0M599.4 629.2h1.0" stroke="#a8a8a8" stroke-width="1.0" fill="none"/>
<path d="M626.8 631.9h1.0M642.3 634.5h1.0M632.4 634.9h1.0M619.6 629.3h1.0M619.9 628.5h1.0M655.7 636.8h1.0M663.4 631.6h1.0M624.2 631.2h1.0M607.6 631.2h1.0M671.1 640.5h1.0M646.9 628.7h1.0M589.1 630.6h1.0M593.8 625.9h1.0M674.4 636.5h1.0M668.3 636.4h1.0M673.4 639.6h1.0M599.2 632.0h1.0M631.9 635.2h1.0M667.7 639.8h1.0M591.6 631.1h1.0M635.8 632.1h1.0M598.1 626.7h1.0M662.5 633.8h1.0M615.4 627.1h1.0M604.1 628.1h1.0M595.9 634.1h1.0M615.1 627.0h1.0M601.7 630.8h1.0M623.9 631.2h1.0M649.7 635.8h1.0M667.6 640.5h1.0M592.4 633.5h1.0M616.7 628.2h1.0M634.3 629.3h1.0M613.7 633.9h1.0M631.6 629.8h1.0M651.2 632.0h1.0M646.1 635.9h1.0M608.2 632.6h1.0M595.4 631.1h1.0M613.2 634.2h1.0M619.5 634.2h1.0M671.7 640.0h1.0M632.6 633.3h1.0M596.5 628.6h1.0M642.2 636.5h1.0M614.2 632.6h1.0M586.7 629.5h1.0M670.5 641.0h1.0M656.9 632.6h1.0M665.1 636.7h1.0M612.9 633.5h1.0M606.8 633.4h1.0M632.2 629.6h1.0M613.0 626.0h1.0M646.7 629.8h1.0M659.9 635.5h1.0M604.7 634.6h1.0M648.8 636.8h1.0M618.5 631.2h1.0M593.2 627.7h1.0M622.2 629.3h1.0M598.4 630.4h1.0M603.4 632.5h1.0M639.6 628.1h1.0M623.1 631.3h1.0" stroke="#d8d8d8" stroke-width="1.0" fill="none"/>
<path d="M604.8 631.4h1.0M600.3 627.4h1.0M646.3 637.4h1.0M647.7 630.2h1.0M596.1 629.5h1.0M661.7 638.3h1.0M651.0 632.2h1.0M639.9 630.7h1.0M594.1 631.4h1.0M659.8 637.8h1.0M647.7 630.7h1.0M588.7 627.4h1.0M656.3 636.9h1.0M592.4 630.1h1.0M651.5 636.0h1.0M642.2 635.6h1.0M649.6 633.5h1.0M597.6 633.6h1.0M604.8 628.1h1.0M611.8 630.6h1.0M640.5 636.8h1.0M608.0 634.5h1.0M631.9 635.5h1.0M612.6 633.4h1.0M635.2 631.8h1.0M619.5 632.9h1.0M668.4 636.6h1.0M586.4 631.5h1.0M639.1 635.0h1.0M616.1 634.4h1.0M653.1 637.3h1.0M610.7 628.6h1.0M628.3 636.3h1.0M630.3 630.8h1.0M655.9 631.5h1.0M653.3 632.3h1.0M639.2 627.8h1.0M635.0 628.1h1.0M656.0 635.4h1.0M598.6 629.2h1.0M609.2 628.5h1.0M664.3 636.7h1.0M616.2 629.6h1.0M632.2 632.1h1.0M637.9 629.6h1.0M629.9 630.6h1.0M623.3 635.9h1.0M595.6 626.7h1.0M585.2 631.7h1.0M644.8 630.5h1.0M627.2 629.0h1.0M592.4 632.0h1.0M654.7 632.3h1.0M615.7 629.6h1.0M596.9 630.9h1.0M600.8 627.2h1.0M644.4 631.9h1.0M644.3 629.3h1.0M630.9 636.1h1.0M642.3 631.9h1.0M650.8 635.0h1.0M673.5 642.2h1.0M635.2 627.9h1.0M646.5 635.1h1.0M626.7 631.7h1.0M637.5 633.7h1.0" stroke="#808080" stroke-width="1.0" fill="none"/>
<path d="M598,626.9 q1.5,4 0,9" stroke="#b0b0b0" stroke-width="1" fill="none"/>
<path d="M611,628.1 q1.5,4 0,9" stroke="#b0b0b0" stroke-width="1" fill="none"/>
<path d="M624,629.2 q1.5,4 0,9" stroke="#b0b0b0" stroke-width="1" fill="none"/>
<path d="M637,630.4 q1.5,4 0,9" stroke="#b0b0b0" stroke-width="1" fill="none"/>
<path d="M650,631.6 q1.5,4 0,9" stroke="#b0b0b0" stroke-width="1" fill="none"/>
<path d="M663,632.8 q1.5,4 0,9" stroke="#b0b0b0" stroke-width="1" fill="none"/>
<path d="M662.8 638.7h2.6M614.3 627.8h2.6M645.0 631.2h2.6M641.4 629.9h2.6M649.1 632.5h2.6M655.3 638.1h2.6M644.9 632.3h2.6M591.3 630.5h2.6M609.5 632.2h2.6" stroke="#f5a623" stroke-width="2.6" fill="none"/>
</g>
<rect x="630.8" y="647.1" width="45.3" height="3.2" fill="#fff"/>
<rect x="586.3" y="614.9" width="92.7" height="38.3" fill="none" stroke="#e0e0e0" stroke-width="1.15" stroke-dasharray="4.2 2.6"/>
<clipPath id="ic3"><rect x="586.8" y="690.9" width="91.7" height="36.1"/></clipPath>
<g clip-path="url(#ic3)">
<rect x="587.3" y="691.4" width="90.7" height="35.1" fill="rgb(16,16,16)"/>
<path d="M587.5,694 L620,693 L650,700 L678,705 L678,722 L650,719 L620,716 L587.5,714 Z" fill="#555"/>
<path d="M588.9 695.0h1.0M675.0 720.1h1.0M680.4 711.7h1.0M619.8 707.3h1.0M598.6 704.5h1.0M613.2 703.4h1.0M605.5 706.2h1.0M644.7 709.7h1.0M651.1 702.9h1.0M587.1 705.5h1.0M650.6 707.5h1.0M635.4 711.1h1.0M655.8 705.7h1.0M579.9 706.4h1.0M609.1 693.7h1.0M645.7 704.5h1.0M610.7 698.5h1.0M648.8 708.3h1.0M655.4 703.8h1.0M602.4 709.3h1.0M610.6 695.8h1.0M617.8 708.3h1.0M598.0 702.9h1.0M623.0 696.0h1.0M580.7 706.1h1.0M633.6 706.4h1.0M628.7 710.1h1.0M624.2 712.1h1.0M629.4 697.5h1.0M665.3 715.0h1.0M635.2 708.5h1.0M610.5 693.2h1.0M661.6 717.1h1.0M606.0 693.2h1.0M658.6 718.5h1.0M655.6 711.7h1.0M649.4 708.7h1.0M623.3 709.5h1.0M597.4 707.3h1.0M582.7 702.6h1.0M662.3 710.4h1.0M591.9 696.1h1.0M618.1 695.3h1.0M667.2 714.4h1.0M587.5 699.4h1.0M626.3 696.4h1.0M617.0 699.1h1.0M596.8 700.3h1.0M618.5 698.3h1.0M601.5 692.5h1.0M625.3 706.0h1.0M675.8 711.6h1.0M668.3 707.9h1.0M652.7 705.7h1.0M598.0 705.8h1.0M585.0 692.0h1.0M659.1 708.7h1.0M648.8 714.9h1.0M651.7 701.7h1.0M640.4 700.3h1.0M650.2 709.2h1.0M638.8 716.9h1.0M594.5 706.3h1.0M627.6 705.6h1.0M622.8 712.2h1.0M659.4 713.3h1.0M680.5 715.0h1.0M631.1 710.2h1.0M612.6 707.1h1.0M666.6 716.8h1.0M589.8 707.3h1.0M588.6 707.8h1.0M603.2 693.2h1.0M614.9 706.9h1.0M631.3 697.3h1.0M636.0 711.9h1.0M659.3 710.9h1.0M635.7 709.7h1.0M617.1 709.8h1.0M667.9 707.9h1.0M631.6 708.1h1.0M670.5 719.7h1.0M669.6 708.6h1.0M664.5 720.6h1.0M660.6 704.5h1.0" stroke="#8a8a8a" stroke-width="1.0" fill="none"/>
<path d="M594.1 701.9h1.0M671.1 708.3h1.0M612.7 696.7h1.0M654.1 704.3h1.0M675.4 709.3h1.0M653.0 712.8h1.0M588.5 694.1h1.0M605.6 707.1h1.0M594.4 706.4h1.0M645.9 700.3h1.0M644.1 708.6h1.0M681.1 710.1h1.0M668.0 714.8h1.0M668.5 715.5h1.0M603.6 709.4h1.0M608.4 693.9h1.0M655.2 715.2h1.0M599.5 692.3h1.0M619.6 698.5h1.0M659.0 706.0h1.0M665.1 717.5h1.0M649.6 710.2h1.0M645.4 707.1h1.0M656.6 718.2h1.0M595.5 707.9h1.0M636.4 708.7h1.0M595.9 703.7h1.0M625.8 704.5h1.0M630.2 702.0h1.0M667.5 721.1h1.0M674.1 717.2h1.0M639.4 713.2h1.0M610.2 709.5h1.0M600.2 703.7h1.0M644.6 716.9h1.0M586.1 708.9h1.0M597.4 705.7h1.0M656.8 704.5h1.0M650.8 710.7h1.0M632.4 696.8h1.0M667.9 719.7h1.0M640.6 701.7h1.0M589.8 693.8h1.0M627.6 709.0h1.0M609.5 700.4h1.0M634.0 703.5h1.0M614.7 700.8h1.0M603.8 696.0h1.0M609.6 693.6h1.0M605.1 707.5h1.0M634.3 703.2h1.0M659.3 717.3h1.0M640.1 701.6h1.0M589.9 700.2h1.0M629.8 709.5h1.0M605.8 696.7h1.0M585.0 692.5h1.0M639.4 707.6h1.0M675.9 712.8h1.0M614.3 706.3h1.0M621.2 704.4h1.0M627.8 698.8h1.0M617.5 699.1h1.0M665.1 720.4h1.0M620.7 708.4h1.0M632.4 698.2h1.0M639.6 714.6h1.0M583.1 708.3h1.0M649.9 712.6h1.0M682.2 714.7h1.0M648.8 711.5h1.0M630.0 706.5h1.0M621.5 701.0h1.0M596.2 692.0h1.0M658.4 713.7h1.0M629.1 699.8h1.0M620.8 707.8h1.0M668.8 719.6h1.0M633.6 699.3h1.0M674.1 712.8h1.0M661.1 713.7h1.0M609.0 708.5h1.0M608.2 696.6h1.0M683.2 718.5h1.0M602.3 702.6h1.0" stroke="#b8b8b8" stroke-width="1.0" fill="none"/>
<path d="M585.8 699.2h1.0M603.8 704.4h1.0M601.6 706.9h1.0M611.9 708.7h1.0M585.0 697.9h1.0M584.5 706.6h1.0M650.1 708.7h1.0M652.9 704.2h1.0M585.1 703.7h1.0M652.5 712.4h1.0M659.1 719.5h1.0M640.7 710.6h1.0M663.7 707.9h1.0M654.8 711.7h1.0M641.3 711.4h1.0M632.8 707.8h1.0M645.4 704.3h1.0M651.2 710.8h1.0M638.7 714.9h1.0M610.3 707.6h1.0M629.6 701.0h1.0M633.9 708.8h1.0M604.6 709.1h1.0M619.5 709.1h1.0M640.8 700.1h1.0M670.1 720.5h1.0M651.9 703.5h1.0M641.9 699.8h1.0M609.0 696.6h1.0M638.7 703.5h1.0M667.4 711.2h1.0M614.8 708.6h1.0M649.3 717.2h1.0M593.2 702.5h1.0M622.7 700.8h1.0M662.0 704.5h1.0M646.4 704.3h1.0M588.0 708.6h1.0M667.2 703.7h1.0M592.5 691.9h1.0M642.6 704.1h1.0M619.4 702.5h1.0M648.2 706.2h1.0M614.8 708.8h1.0M641.6 704.9h1.0M641.5 708.4h1.0M620.0 711.4h1.0M643.5 701.2h1.0M618.4 697.3h1.0M668.4 709.0h1.0M667.2 712.0h1.0M599.3 696.4h1.0M622.0 696.3h1.0M600.1 701.4h1.0M647.1 709.6h1.0M606.8 704.4h1.0M599.6 698.4h1.0M640.9 716.8h1.0M624.3 697.7h1.0M647.9 706.8h1.0M601.5 697.2h1.0M589.9 695.8h1.0M644.8 711.3h1.0M632.8 701.6h1.0M654.4 718.3h1.0M661.3 716.3h1.0M613.2 697.9h1.0M679.4 708.5h1.0M643.9 708.7h1.0M596.9 701.7h1.0M625.8 704.0h1.0M581.2 697.3h1.0M611.3 696.2h1.0M669.1 718.7h1.0M636.6 711.9h1.0M601.1 702.5h1.0M663.0 710.8h1.0M631.2 699.6h1.0M653.7 704.3h1.0M644.7 700.7h1.0M616.6 700.6h1.0M633.7 709.7h1.0M642.4 713.1h1.0M616.5 706.2h1.0M667.5 714.2h1.0" stroke="#e8e8e8" stroke-width="1.0" fill="none"/>
<path d="M682.2 709.4h1.0M642.6 704.3h1.0M613.8 706.4h1.0M617.5 698.7h1.0M630.2 704.3h1.0M612.1 694.5h1.0M659.9 709.4h1.0M655.4 707.4h1.0M613.2 707.0h1.0M590.9 696.9h1.0M601.1 707.1h1.0M614.9 702.1h1.0M607.0 692.6h1.0M597.8 704.2h1.0M644.8 718.4h1.0M582.1 696.4h1.0M603.7 697.6h1.0M655.5 705.2h1.0M612.8 709.8h1.0M605.4 709.3h1.0M608.4 701.0h1.0M621.0 701.9h1.0M658.7 715.5h1.0M601.4 697.6h1.0M589.4 702.7h1.0M632.1 704.2h1.0M662.9 709.7h1.0M606.6 708.9h1.0M625.1 704.5h1.0M632.0 710.7h1.0M671.0 717.4h1.0M622.8 696.7h1.0M638.8 707.9h1.0M608.6 705.1h1.0M633.7 701.0h1.0M631.5 699.7h1.0M649.2 706.7h1.0M625.2 699.9h1.0M598.7 697.6h1.0M625.7 696.6h1.0M638.6 708.7h1.0M653.4 706.7h1.0M668.8 710.4h1.0M604.1 695.0h1.0M628.8 698.5h1.0M629.8 709.1h1.0M635.5 697.0h1.0M603.5 698.7h1.0M620.4 709.2h1.0M637.1 711.7h1.0M606.6 702.6h1.0M623.3 707.6h1.0M647.0 704.3h1.0M634.7 709.3h1.0M603.5 699.8h1.0M607.7 700.8h1.0M629.3 697.4h1.0M594.2 698.5h1.0M587.3 698.0h1.0M660.2 719.7h1.0M641.8 712.6h1.0M641.8 712.9h1.0M591.1 705.2h1.0M622.1 710.8h1.0M608.7 698.6h1.0M607.5 708.0h1.0M642.1 706.4h1.0M662.8 715.5h1.0M679.4 717.7h1.0M605.8 706.2h1.0M608.2 702.5h1.0M597.9 698.0h1.0M622.2 705.6h1.0M628.9 705.5h1.0M663.4 719.7h1.0M670.9 711.0h1.0M602.9 701.3h1.0M667.5 717.2h1.0M616.2 708.4h1.0M630.8 705.0h1.0M582.2 705.2h1.0M676.0 710.3h1.0M636.8 702.1h1.0M669.1 713.2h1.0M611.1 695.5h1.0" stroke="#707070" stroke-width="1.0" fill="none"/>
<ellipse cx="660" cy="711" rx="5" ry="3.2" fill="#f0f0f0"/>
<path d="M614.5 699.2h2.2M640.1 706.2h2.2M651.1 708.5h2.2M604.0 703.0h2.2M648.9 703.8h2.2M647.6 713.0h2.2M652.7 710.9h2.2" stroke="#f5a623" stroke-width="2.2" fill="none"/>
<path d="M605.3 706.7h2.0M598.6 695.3h2.0M617.1 703.0h2.0M640.5 712.1h2.0" stroke="#a9a3ee" stroke-width="2.0" fill="none"/>
</g>
<rect x="589" y="721.6" width="45.0" height="3.2" fill="#fff"/>
<rect x="586.3" y="690.4" width="92.7" height="37.1" fill="none" stroke="#e0e0e0" stroke-width="1.15" stroke-dasharray="4.2 2.6"/>
<clipPath id="ic4"><rect x="586.8" y="742.0" width="91.7" height="36.4"/></clipPath>
<g clip-path="url(#ic4)">
<rect x="587.3" y="742.5" width="90.7" height="35.4" fill="rgb(12,12,12)"/>
<path d="M587.5,762.0 L667,757.5 Q673.5,761.5 667,765.5 L587.5,771.2 Z" fill="#454545" stroke="#6a6a6a" stroke-width="0.8"/>
<path d="M647.0 764.4h1.0M623.7 766.8h1.0M655.8 759.5h1.0M641.7 763.8h1.0M598.2 768.0h1.0M624.2 766.2h1.0M620.4 761.8h1.0M637.6 763.9h1.0M644.4 761.2h1.0M619.8 765.1h1.0M594.8 767.1h1.0M615.9 767.2h1.0M658.7 761.5h1.0M631.6 761.4h1.0M606.1 766.4h1.0M640.9 766.5h1.0M633.0 761.6h1.0M658.0 762.3h1.0M646.9 763.5h1.0M598.5 768.2h1.0M662.8 758.9h1.0M655.4 764.0h1.0M643.0 766.0h1.0M621.1 765.0h1.0M597.2 766.8h1.0M602.0 767.1h1.0M664.1 762.0h1.0M628.7 761.6h1.0M650.1 760.5h1.0M647.4 759.5h1.0M661.9 762.3h1.0M612.4 766.6h1.0M644.1 760.7h1.0M586.6 763.3h1.0M669.2 763.4h1.0M667.6 764.4h1.0M632.5 763.3h1.0M611.1 761.9h1.0M649.7 761.8h1.0M611.4 762.9h1.0M632.7 760.5h1.0M667.7 759.1h1.0M595.0 768.1h1.0M666.7 759.1h1.0M652.8 762.8h1.0M639.1 761.8h1.0" stroke="#6a6a6a" stroke-width="1.0" fill="none"/>
<path d="M624.4 767.7h1.0M657.9 762.5h1.0M622.5 767.5h1.0M603.7 766.2h1.0M597.1 768.5h1.0M605.8 768.4h1.0M603.6 762.1h1.0M602.1 763.0h1.0M606.5 764.5h1.0M641.5 761.2h1.0M595.2 766.9h1.0M642.9 761.8h1.0M589.6 769.0h1.0M642.7 764.0h1.0M664.3 762.7h1.0M666.8 762.7h1.0M657.1 763.9h1.0M592.1 765.6h1.0M631.5 763.2h1.0M611.7 762.3h1.0M626.2 765.1h1.0M626.1 762.7h1.0M669.9 758.5h1.0M594.2 763.1h1.0M669.5 759.6h1.0M652.0 764.8h1.0M613.9 765.6h1.0M610.2 766.7h1.0M661.9 759.3h1.0M646.5 766.2h1.0M652.5 761.7h1.0M630.2 760.8h1.0M638.1 762.0h1.0M610.0 766.3h1.0M620.7 763.0h1.0M623.4 766.2h1.0M627.4 761.6h1.0M605.6 764.6h1.0M626.0 762.0h1.0M624.6 766.6h1.0M652.8 764.1h1.0M658.7 763.8h1.0M600.1 765.8h1.0M599.6 762.5h1.0M667.2 761.7h1.0M618.1 763.7h1.0" stroke="#8a8a8a" stroke-width="1.0" fill="none"/>
<path d="M659.9 764.4h1.0M618.6 762.1h1.0M608.1 768.0h1.0M630.1 761.5h1.0M651.1 763.4h1.0M600.8 767.0h1.0M632.4 764.5h1.0M663.1 762.9h1.0M655.3 759.2h1.0M635.4 760.8h1.0M608.6 767.5h1.0M631.0 765.4h1.0M623.8 765.8h1.0M602.0 766.7h1.0M643.7 764.1h1.0M633.5 765.7h1.0M660.4 759.1h1.0M611.6 762.9h1.0M662.6 761.2h1.0M585.9 767.1h1.0M610.4 763.2h1.0M634.5 764.5h1.0M608.4 762.7h1.0M638.3 761.0h1.0M596.9 769.0h1.0M602.0 766.5h1.0M612.0 764.3h1.0M605.2 765.4h1.0M652.9 762.1h1.0M615.2 764.0h1.0M665.1 761.4h1.0M657.9 759.7h1.0M618.3 764.7h1.0M598.0 767.8h1.0M640.2 762.2h1.0M633.4 765.0h1.0M644.5 762.1h1.0M591.3 769.8h1.0M664.2 760.8h1.0M614.4 764.4h1.0M598.6 766.8h1.0M666.8 759.4h1.0M663.0 762.9h1.0M657.1 761.3h1.0M640.9 760.6h1.0M657.3 762.3h1.0" stroke="#555" stroke-width="1.0" fill="none"/>
<path d="M635.6 764.5h1.6M654.0 765.0h1.6M613.7 766.1h1.6M597.6 768.6h1.6M621.1 766.4h1.6M597.0 769.1h1.6M603.9 762.1h1.6M608.8 765.9h1.6M667.0 760.7h1.6M612.9 767.2h1.6M609.4 762.6h1.6M595.3 767.6h1.6M654.2 759.6h1.6M661.5 761.0h1.6M648.8 763.6h1.6M597.4 764.8h1.6M616.0 762.5h1.6M660.0 759.9h1.6M632.3 766.1h1.6M656.7 764.1h1.6M636.6 760.5h1.6M610.7 768.6h1.6M633.5 767.9h1.6M639.4 761.6h1.6M622.5 764.7h1.6M621.7 766.1h1.6M655.2 758.5h1.6M636.3 764.5h1.6M646.0 759.7h1.6M607.6 768.8h1.6M612.8 768.3h1.6M640.5 761.8h1.6M667.4 765.2h1.6M634.4 760.5h1.6M600.7 762.6h1.6M594.7 762.6h1.6M609.0 762.7h1.6M633.4 761.8h1.6M658.7 760.0h1.6M641.1 765.5h1.6M659.9 765.9h1.6M601.6 761.9h1.6M656.3 764.7h1.6M612.5 762.1h1.6M640.4 762.0h1.6M623.2 763.0h1.6M612.7 764.3h1.6M651.4 763.2h1.6M648.6 762.8h1.6M638.4 767.1h1.6M606.2 765.4h1.6M615.3 767.7h1.6M606.1 767.8h1.6M638.8 761.2h1.6M632.6 767.0h1.6M610.3 769.4h1.6M665.5 758.0h1.6M653.3 759.9h1.6M649.2 763.2h1.6M664.9 762.0h1.6M591.6 767.5h1.6M639.2 766.9h1.6M666.4 760.6h1.6M650.3 758.9h1.6M632.0 763.0h1.6M597.1 766.4h1.6M637.5 767.5h1.6M658.2 762.3h1.6M654.2 762.6h1.6M603.1 762.6h1.6M601.0 766.2h1.6M613.4 761.8h1.6M626.0 766.8h1.6M626.9 761.9h1.6M648.5 759.0h1.6M602.1 769.8h1.6M642.2 759.2h1.6M657.7 761.6h1.6M633.3 761.5h1.6M644.0 762.6h1.6M596.1 766.5h1.6M596.1 769.3h1.6M658.7 760.1h1.6M659.6 762.8h1.6M633.3 766.7h1.6M606.3 769.0h1.6M618.2 761.1h1.6M643.7 760.6h1.6M618.6 763.7h1.6M635.6 759.9h1.6M649.3 761.0h1.6M629.3 765.1h1.6M604.8 764.0h1.6M641.6 760.2h1.6M614.1 768.4h1.6M629.1 765.9h1.6M604.9 764.0h1.6M624.7 764.5h1.6M604.6 763.2h1.6M631.8 761.7h1.6M658.2 765.1h1.6M645.3 760.7h1.6M619.5 766.5h1.6M639.6 763.5h1.6M592.7 767.1h1.6M602.1 762.1h1.6M601.7 764.9h1.6M664.7 765.8h1.6M634.5 767.5h1.6M657.3 764.8h1.6M655.9 762.4h1.6M647.1 766.7h1.6M605.2 762.7h1.6M628.7 763.7h1.6M638.8 766.8h1.6M644.6 759.1h1.6M592.3 762.4h1.6M623.3 762.7h1.6M630.1 765.6h1.6M612.2 764.0h1.6" stroke="#a9a3ee" stroke-width="1.6" fill="none"/>
</g>
<rect x="631" y="744.3" width="45.0" height="3.2" fill="#fff"/>
<rect x="586.3" y="741.5" width="92.7" height="37.4" fill="none" stroke="#e0e0e0" stroke-width="1.15" stroke-dasharray="4.2 2.6"/>
<clipPath id="ic5"><rect x="586.8" y="790.8" width="91.7" height="37.0"/></clipPath>
<g clip-path="url(#ic5)">
<rect x="587.3" y="791.3" width="90.7" height="36.0" fill="rgb(12,12,12)"/>
<path d="M587.5,807.4 L667,803.2 Q673.5,807.2 667,811.2 L587.5,816.6 Z" fill="#454545" stroke="#6a6a6a" stroke-width="0.8"/>
<path d="M610.5 809.1h1.0M604.9 813.9h1.0M638.0 806.2h1.0M625.1 811.2h1.0M613.8 810.9h1.0M662.4 807.5h1.0M598.7 813.3h1.0M622.3 806.9h1.0M597.7 811.1h1.0M662.6 804.8h1.0M665.7 807.1h1.0M650.1 810.0h1.0M595.4 811.4h1.0M642.6 807.6h1.0M604.2 809.3h1.0M628.7 811.6h1.0M599.9 808.5h1.0M620.8 807.7h1.0M651.1 805.8h1.0M608.5 814.3h1.0M622.4 808.4h1.0M656.7 811.3h1.0M667.5 809.6h1.0M648.8 806.4h1.0M639.7 806.5h1.0M610.6 812.0h1.0M604.3 811.7h1.0M660.7 805.0h1.0M612.4 812.2h1.0M650.2 808.1h1.0M610.2 812.4h1.0M610.5 810.1h1.0M651.5 809.6h1.0M591.4 808.7h1.0M636.3 811.1h1.0M663.6 806.1h1.0M614.1 808.9h1.0M647.1 810.9h1.0M643.1 806.0h1.0M615.9 809.0h1.0M656.2 809.9h1.0M667.7 806.0h1.0M621.3 806.9h1.0M636.3 810.8h1.0M666.4 805.6h1.0M591.3 811.2h1.0" stroke="#6a6a6a" stroke-width="1.0" fill="none"/>
<path d="M642.9 811.9h1.0M602.9 809.2h1.0M652.5 810.1h1.0M646.0 809.2h1.0M620.0 809.2h1.0M657.9 808.8h1.0M605.8 809.0h1.0M630.9 812.1h1.0M619.4 810.5h1.0M627.9 808.6h1.0M637.6 807.5h1.0M612.8 812.8h1.0M641.5 809.5h1.0M669.1 806.6h1.0M603.9 809.4h1.0M593.1 810.7h1.0M614.5 810.6h1.0M665.4 810.3h1.0M638.8 811.9h1.0M666.2 805.6h1.0M614.6 810.3h1.0M657.9 811.1h1.0M629.0 813.0h1.0M602.0 814.3h1.0M622.1 811.8h1.0M589.4 813.1h1.0M656.9 806.1h1.0M593.7 810.7h1.0M668.6 810.2h1.0M597.8 813.7h1.0M606.6 809.3h1.0M612.5 807.2h1.0M606.3 808.9h1.0M602.4 813.4h1.0M636.1 807.3h1.0M655.7 811.0h1.0M637.1 807.4h1.0M594.9 812.9h1.0M669.4 810.5h1.0M664.5 805.1h1.0M636.6 812.6h1.0M631.6 807.0h1.0M644.1 809.7h1.0M653.5 810.0h1.0M641.3 811.0h1.0M629.6 808.6h1.0" stroke="#8a8a8a" stroke-width="1.0" fill="none"/>
<path d="M608.4 810.8h1.0M666.4 809.6h1.0M670.9 807.8h1.0M599.3 814.1h1.0M619.0 809.8h1.0M645.4 811.0h1.0M601.7 808.3h1.0M648.2 807.6h1.0M653.8 806.0h1.0M608.6 807.8h1.0M584.7 815.1h1.0M609.4 809.9h1.0M587.3 812.4h1.0M633.4 812.3h1.0M650.0 807.9h1.0M636.2 810.0h1.0M658.8 810.8h1.0M620.5 808.1h1.0M628.9 811.0h1.0M645.5 811.1h1.0M649.5 805.7h1.0M589.3 814.9h1.0M624.5 806.3h1.0M627.7 809.2h1.0M585.8 810.9h1.0M617.3 812.4h1.0M630.3 806.9h1.0M655.6 806.3h1.0M636.4 810.5h1.0M646.3 807.5h1.0M593.0 814.9h1.0M623.0 807.5h1.0M654.0 805.6h1.0M667.9 809.5h1.0M617.9 813.0h1.0M611.7 813.9h1.0M600.3 813.7h1.0M614.2 812.2h1.0M611.7 808.3h1.0M667.0 804.5h1.0M623.8 813.0h1.0M663.6 806.5h1.0M609.9 811.2h1.0M592.4 808.6h1.0M631.0 806.3h1.0M658.1 809.2h1.0" stroke="#555" stroke-width="1.0" fill="none"/>
<path d="M606.3 807.9h1.6M642.5 806.2h1.6M664.6 809.5h1.6M633.5 810.9h1.6M615.9 809.5h1.6M616.8 810.2h1.6M665.3 804.6h1.6M627.2 806.9h1.6M649.5 811.9h1.6M612.0 810.6h1.6M630.7 812.6h1.6M647.1 809.9h1.6M619.3 812.4h1.6M617.1 808.4h1.6M592.0 814.2h1.6M614.6 812.4h1.6M605.5 811.0h1.6M664.5 810.0h1.6M655.6 810.9h1.6M648.4 805.1h1.6M656.9 811.3h1.6M652.5 811.0h1.6M628.2 807.5h1.6M631.6 813.4h1.6M618.0 808.7h1.6M633.7 812.7h1.6M639.9 811.2h1.6M590.6 815.1h1.6M612.5 812.7h1.6M651.9 810.5h1.6" stroke="#2fd8d8" stroke-width="1.6" fill="none"/>
</g>
<rect x="631" y="794.7" width="45.0" height="3.2" fill="#fff"/>
<rect x="586.3" y="790.3" width="92.7" height="38.0" fill="none" stroke="#e0e0e0" stroke-width="1.15" stroke-dasharray="4.2 2.6"/>
<clipPath id="ic6"><rect x="586.8" y="837.8" width="91.7" height="37.0"/></clipPath>
<g clip-path="url(#ic6)">
<rect x="587.3" y="838.3" width="90.7" height="36.0" fill="rgb(12,12,12)"/>
<path d="M587.5,854.0 L667,849.0 Q673.5,853.0 667,857.0 L587.5,863.2 Z" fill="#454545" stroke="#6a6a6a" stroke-width="0.8"/>
<path d="M608.8 859.3h1.0M601.4 855.4h1.0M644.3 852.4h1.0M655.5 855.8h1.0M651.0 854.0h1.0M640.7 854.8h1.0M664.7 855.6h1.0M631.3 853.0h1.0M618.2 859.7h1.0M591.8 860.2h1.0M650.8 852.5h1.0M618.8 854.3h1.0M626.7 857.5h1.0M646.8 857.2h1.0M590.6 856.1h1.0M630.0 857.6h1.0M663.5 853.0h1.0M595.5 855.5h1.0M639.5 858.0h1.0M608.4 858.8h1.0M621.8 858.5h1.0M638.8 856.2h1.0M595.5 856.1h1.0M596.3 859.8h1.0M622.9 855.5h1.0M628.2 856.7h1.0M649.5 855.7h1.0M600.5 855.7h1.0M623.7 859.0h1.0M607.1 857.1h1.0M657.6 851.2h1.0M639.9 855.7h1.0M597.4 858.4h1.0M638.6 852.3h1.0M625.4 857.1h1.0M623.7 852.7h1.0M648.0 852.2h1.0M641.3 857.6h1.0M653.2 852.5h1.0M633.2 852.9h1.0M590.5 858.3h1.0M599.4 856.3h1.0M598.9 857.4h1.0M606.0 857.2h1.0M592.6 861.3h1.0M628.9 856.9h1.0" stroke="#6a6a6a" stroke-width="1.0" fill="none"/>
<path d="M609.3 860.5h1.0M610.4 856.8h1.0M650.3 851.2h1.0M650.9 857.1h1.0M670.8 851.9h1.0M618.3 859.6h1.0M623.6 856.6h1.0M654.4 851.9h1.0M593.8 859.4h1.0M652.3 857.0h1.0M599.9 860.8h1.0M619.3 857.5h1.0M599.8 858.9h1.0M603.8 857.7h1.0M647.3 857.6h1.0M657.7 856.4h1.0M597.0 855.3h1.0M643.5 856.9h1.0M601.0 854.5h1.0M609.4 857.3h1.0M606.3 855.6h1.0M589.4 860.2h1.0M661.2 851.9h1.0M605.3 860.6h1.0M616.3 860.1h1.0M603.7 856.2h1.0M640.1 857.3h1.0M665.3 854.0h1.0M608.3 856.5h1.0M599.2 857.7h1.0M639.0 856.6h1.0M613.9 856.6h1.0M669.6 854.8h1.0M589.4 861.2h1.0M664.3 853.1h1.0M644.0 857.4h1.0M589.9 856.0h1.0M649.0 854.7h1.0M647.3 856.1h1.0M617.9 856.3h1.0M666.7 850.9h1.0M599.6 857.7h1.0M668.1 852.6h1.0M601.4 856.4h1.0M644.6 856.9h1.0M633.0 856.3h1.0" stroke="#8a8a8a" stroke-width="1.0" fill="none"/>
<path d="M594.0 859.1h1.0M595.2 855.1h1.0M639.7 854.5h1.0M623.9 858.6h1.0M655.1 852.6h1.0M590.5 859.9h1.0M626.6 855.6h1.0M627.3 854.1h1.0M594.1 858.8h1.0M615.9 860.2h1.0M636.4 854.6h1.0M664.2 853.3h1.0M607.2 858.6h1.0M605.2 857.3h1.0M648.7 853.4h1.0M635.4 856.7h1.0M630.0 856.4h1.0M618.8 858.0h1.0M654.0 851.6h1.0M611.9 860.0h1.0M654.0 856.4h1.0M631.2 852.9h1.0M652.3 850.7h1.0M653.9 853.2h1.0M666.2 854.2h1.0M616.7 854.6h1.0M643.4 852.9h1.0M635.7 855.1h1.0M589.1 861.5h1.0M631.5 855.8h1.0M646.3 854.5h1.0M645.5 853.5h1.0M651.7 857.5h1.0M656.0 857.3h1.0M648.8 853.3h1.0M591.7 855.5h1.0M601.1 858.1h1.0M626.7 857.1h1.0M655.4 853.4h1.0M623.3 855.3h1.0M654.7 851.9h1.0M641.9 855.0h1.0M616.0 858.0h1.0M637.7 857.5h1.0M596.5 858.9h1.0M594.3 858.3h1.0" stroke="#555" stroke-width="1.0" fill="none"/>
<path d="M596.8 854.2h1.6M657.3 857.2h1.6M593.1 855.8h1.6M643.3 857.4h1.6M603.9 857.5h1.6M623.3 856.1h1.6M600.1 861.5h1.6M664.0 851.4h1.6M664.0 851.0h1.6M600.4 857.8h1.6M602.4 855.5h1.6M590.9 862.0h1.6M644.0 858.6h1.6M618.2 859.3h1.6M643.5 857.6h1.6M595.7 857.4h1.6M629.4 852.4h1.6M607.5 855.9h1.6M592.4 857.5h1.6M625.2 856.5h1.6M622.1 858.8h1.6M602.0 860.2h1.6M654.6 854.6h1.6M599.5 862.0h1.6M652.7 857.3h1.6M598.7 856.5h1.6M593.5 856.4h1.6M606.9 854.5h1.6M622.7 858.0h1.6M601.1 858.1h1.6M604.9 857.4h1.6M591.8 861.9h1.6M657.5 856.6h1.6M610.6 856.2h1.6M638.7 856.0h1.6M645.6 853.0h1.6M606.9 853.5h1.6M611.7 852.9h1.6M594.7 861.5h1.6M666.4 849.7h1.6M618.1 859.4h1.6M591.6 862.4h1.6M631.4 856.8h1.6M614.7 859.7h1.6M608.9 860.5h1.6M599.0 860.7h1.6M598.3 855.7h1.6M607.6 856.7h1.6M644.7 852.4h1.6M600.6 855.7h1.6M622.1 853.2h1.6M616.8 855.6h1.6M647.2 856.9h1.6M588.5 854.8h1.6M666.4 850.7h1.6M639.7 857.8h1.6M653.1 856.3h1.6M588.3 861.3h1.6M616.7 859.8h1.6M589.6 862.7h1.6M592.8 860.1h1.6M608.3 855.9h1.6M645.3 857.9h1.6M628.8 855.9h1.6M590.3 860.7h1.6M593.6 855.9h1.6M613.8 860.1h1.6M636.8 853.6h1.6M601.9 855.5h1.6M650.9 853.9h1.6M597.5 855.3h1.6M598.3 854.9h1.6M665.6 849.1h1.6M588.4 856.1h1.6M604.4 859.0h1.6M611.6 857.6h1.6M605.8 857.0h1.6M654.0 856.6h1.6M622.2 853.4h1.6M623.0 853.8h1.6M611.0 854.7h1.6M651.9 852.6h1.6M662.9 853.3h1.6M646.6 857.8h1.6M626.3 855.6h1.6M606.4 859.6h1.6M589.4 854.7h1.6M664.3 853.8h1.6M591.3 857.2h1.6M592.2 862.3h1.6M588.0 858.8h1.6M590.8 856.7h1.6M611.4 855.5h1.6M647.2 851.2h1.6M637.6 854.1h1.6M667.3 854.3h1.6M625.6 858.5h1.6M623.2 858.4h1.6M608.2 860.8h1.6M609.2 860.8h1.6M629.3 852.4h1.6M591.5 856.3h1.6M601.1 854.6h1.6M617.5 854.6h1.6M605.9 854.5h1.6M632.6 853.2h1.6M609.1 853.1h1.6M597.0 855.3h1.6M606.2 861.5h1.6M617.9 857.0h1.6M592.2 857.6h1.6M657.6 852.4h1.6M625.4 857.1h1.6M591.0 859.1h1.6M605.8 854.2h1.6M589.7 855.6h1.6M636.9 859.3h1.6M626.8 856.6h1.6M628.5 854.7h1.6M641.0 858.1h1.6M613.4 854.4h1.6M627.7 851.9h1.6M617.3 857.1h1.6M614.4 853.2h1.6M640.3 854.7h1.6M634.8 852.7h1.6M611.9 852.9h1.6M611.0 856.5h1.6M610.0 856.9h1.6M639.8 852.4h1.6M604.0 857.4h1.6M593.3 855.7h1.6M594.2 861.1h1.6M633.7 852.4h1.6M622.7 853.1h1.6M605.9 860.7h1.6M640.5 851.4h1.6M650.3 853.5h1.6M635.9 852.9h1.6M630.0 859.4h1.6M611.6 856.5h1.6M660.4 850.7h1.6M656.8 857.5h1.6M616.9 856.7h1.6M603.1 861.5h1.6M658.2 853.4h1.6M625.6 855.9h1.6M592.3 859.3h1.6M592.5 861.6h1.6M596.7 854.1h1.6M610.2 853.1h1.6M593.5 858.3h1.6M622.8 852.7h1.6M662.5 852.0h1.6M667.0 849.0h1.6M611.5 860.2h1.6M622.5 859.9h1.6M649.0 850.9h1.6M599.1 858.4h1.6M603.6 858.3h1.6M647.2 853.0h1.6M606.6 861.0h1.6M653.1 851.7h1.6M589.6 857.4h1.6M645.5 857.2h1.6M607.4 855.6h1.6M597.2 855.7h1.6M636.9 857.0h1.6M618.2 853.9h1.6M595.0 861.5h1.6M591.9 861.9h1.6M599.4 858.0h1.6M617.9 858.8h1.6M656.0 851.9h1.6M622.3 856.7h1.6M645.3 852.9h1.6M599.1 855.9h1.6M624.0 859.1h1.6M603.4 856.7h1.6M600.4 854.6h1.6M591.2 857.2h1.6M654.3 854.6h1.6M653.7 850.1h1.6M659.0 853.8h1.6M636.3 851.8h1.6M655.0 856.9h1.6M643.7 853.3h1.6M608.3 857.2h1.6M620.4 855.4h1.6M597.6 858.7h1.6M622.1 856.4h1.6M597.5 859.8h1.6M625.6 859.3h1.6M600.9 856.3h1.6M637.4 852.3h1.6M625.0 852.1h1.6M594.2 861.8h1.6M623.3 852.4h1.6M590.2 854.6h1.6M611.0 859.5h1.6M603.4 854.2h1.6M598.8 859.9h1.6M630.0 858.7h1.6M637.5 853.9h1.6M638.1 855.7h1.6M656.7 857.3h1.6M609.9 854.1h1.6M636.7 855.0h1.6M635.7 853.9h1.6M600.1 860.4h1.6M645.0 856.9h1.6M639.8 857.6h1.6M647.7 852.1h1.6M645.6 852.0h1.6M590.0 859.6h1.6M596.4 854.2h1.6M659.1 853.7h1.6M649.9 856.7h1.6M588.0 855.6h1.6M631.6 859.1h1.6M646.0 852.2h1.6M660.7 853.2h1.6M616.7 852.8h1.6M639.7 850.9h1.6M614.6 856.2h1.6M594.1 858.2h1.6M616.1 858.6h1.6M664.3 850.5h1.6M615.8 859.5h1.6M606.1 856.5h1.6M616.2 854.1h1.6M606.2 855.8h1.6M591.9 854.2h1.6M647.1 855.5h1.6M660.8 856.3h1.6M596.8 855.4h1.6M635.6 851.8h1.6M619.4 853.7h1.6M617.4 860.6h1.6M597.3 858.6h1.6M601.9 859.6h1.6M596.9 861.6h1.6M661.2 851.0h1.6M665.7 857.2h1.6M595.6 858.7h1.6M625.9 858.4h1.6M621.8 854.9h1.6M645.9 853.8h1.6M602.2 858.1h1.6M602.9 855.1h1.6M640.8 854.3h1.6M652.6 852.3h1.6M626.1 858.9h1.6M631.4 852.2h1.6M657.4 853.2h1.6M601.7 854.5h1.6M593.2 860.0h1.6M621.5 859.0h1.6M596.1 860.9h1.6M637.6 858.7h1.6M614.8 856.4h1.6M594.3 856.5h1.6M603.9 858.2h1.6M634.6 852.7h1.6M643.2 857.7h1.6M649.2 851.5h1.6M665.9 856.7h1.6M593.7 856.6h1.6M617.7 853.0h1.6M625.3 856.2h1.6M627.9 859.4h1.6M624.7 854.1h1.6M599.9 860.4h1.6M636.8 857.9h1.6M667.5 854.2h1.6M598.2 854.1h1.6M627.9 854.9h1.6M619.4 855.5h1.6M632.7 857.8h1.6M599.7 853.7h1.6" stroke="#f5a623" stroke-width="1.6" fill="none"/>
</g>
<rect x="631" y="843.2" width="45.0" height="3.2" fill="#fff"/>
<rect x="586.3" y="837.3" width="92.7" height="38.0" fill="none" stroke="#e0e0e0" stroke-width="1.15" stroke-dasharray="4.2 2.6"/>
<text x="365.5" y="522.6" font-size="13.4" fill="#f5a623" font-style="italic">SRC2</text>
<text x="414" y="522.6" font-size="13.4" fill="#2fd8d8" font-style="italic">AT4G29780</text>
<text x="496.5" y="522.6" font-size="13.4" fill="#a9a3ee" font-style="italic">SZF1</text>
<text x="324" y="543.4" font-size="13.4" fill="#6fa39e" font-weight="bold">Well-watered</text>
<text x="324.5" y="612.3" font-size="13.4" fill="#c9a95e" font-weight="bold">Drought</text>
<text x="324.5" y="674.0" font-size="13.4" fill="#c3d8cc" font-weight="bold">Well-watered 15m</text>
<text x="324.5" y="746.2" font-size="13.4" fill="#c26e68" font-weight="bold">Recovery 15m</text>
<text x="571.3" y="757.4" font-size="14" fill="#a9a3ee" text-anchor="end" font-style="italic">SZF1</text>
<text x="572.5" y="796.3" font-size="14" fill="#2fd8d8" text-anchor="end" font-style="italic">AT4G29780</text>
<text x="571.3" y="845.4" font-size="14" fill="#f5a623" text-anchor="end" font-style="italic">SRC2</text>
<text x="-1.4" y="17.8" font-size="26" fill="#000">a</text>
<text x="372.4" y="18.6" font-size="26" fill="#000">b</text>
<text x="-1.0" y="250.4" font-size="27" fill="#000">c</text>
<text x="373.0" y="249.6" font-size="26" fill="#000">d</text>
<text x="-1.8" y="495.8" font-size="27" fill="#000">e</text>
<text x="305.8" y="492.2" font-size="26" fill="#000">f</text>
<text x="35.2" y="12.7" font-size="13.95" fill="#3f87c3">Metabolic</text>
<text x="35.2" y="25.5" font-size="13.95" fill="#3f87c3">stress state</text>
<text x="128.3" y="23.4" font-size="13.95" fill="#a9cfe6">Defense</text>
<text x="128.3" y="35.6" font-size="13.95" fill="#a9cfe6">state</text>
<text x="34.3" y="47.0" font-size="13.95" fill="#6aaed6">Stress</text>
<text x="34.3" y="59.7" font-size="13.95" fill="#6aaed6">responsive</text>
<text x="70.0" y="79.0" font-size="13.95" fill="#dcdaee">Vas 1</text>
<text x="120.2" y="81.4" font-size="13.95" fill="#6a3d9a">Se</text>
<text x="19.4" y="94.9" font-size="13.95" fill="#a49fd2">Pc</text>
<text x="48.6" y="126.2" font-size="13.95" fill="#c3bfe2">Vas 2</text>
<text x="103.8" y="127.2" font-size="13.95" fill="#7b72ba">Pp</text>
<text x="93.3" y="145.0" font-size="13.95" fill="#f8c363">Div 2</text>
<text x="71.9" y="165.4" font-size="13.95" fill="#f39a38">Hy</text>
<text x="108.0" y="170.7" font-size="13.95" fill="#c4339a">Epi 3</text>
<text x="107.2" y="192.5" font-size="13.95" fill="#f7a8c8">Epi 2</text>
<text x="193.1" y="194.4" font-size="13.95" fill="#fbd9db">Epi 1</text>
<text x="197.6" y="218.8" font-size="13.95" fill="#e57d2e">M</text>
<text x="269.8" y="216.3" font-size="13.95" fill="#de3d97">Tr</text>
<text x="328.2" y="179.6" font-size="13.95" fill="#fbbf8c">GC 1</text>
<text x="329.9" y="202.3" font-size="13.95" fill="#d2691e">GC 2</text>
<text x="342.8" y="149.6" font-size="13.95" fill="#fde3a5">Div 1</text>
<text x="355.3" y="133.4" font-size="13.95" fill="#2c63a9">Sugar mt</text>
<text x="336.6" y="116.3" font-size="13.95" fill="#cfeae2">Mes 2</text>
<text x="353.1" y="94.4" font-size="13.95" fill="#9fd9c6">Mes 3</text>
<text x="360.8" y="73.2" font-size="13.95" fill="#67c19c">Mes 4</text>
<text x="271.5" y="33.7" font-size="13.95" fill="#5ab080">Mes 5</text>
<text x="205.5" y="24.0" font-size="13.95" fill="#3a9a58">Mes 6</text>
<text x="330.6" y="33.6" font-size="13.95" fill="#1e6e3a">Mes 7</text>
<text x="372.0" y="40.8" font-size="13.95" fill="#c9d5ea">Immune-</text>
<text x="372.0" y="56.1" font-size="13.95" fill="#c9d5ea">active</text>
<text x="366.5" y="171.3" font-size="13.95" fill="#e6f0ec">Mes 1</text>
<path d="M652.3,449.1 C632,474 602,494 548,494 C500,494 455,481 420,475.7 C380,468 320,455 258.6,455.2 C212,455.5 186,469 164,489.5" fill="none" stroke="#e59b8e" stroke-width="1.5" stroke-dasharray="5 4"/>
<path d="M157.3,495.8 L161.2,487.2 L166.4,493.6 Z" fill="#e59b8e"/>
</svg></body></html>
